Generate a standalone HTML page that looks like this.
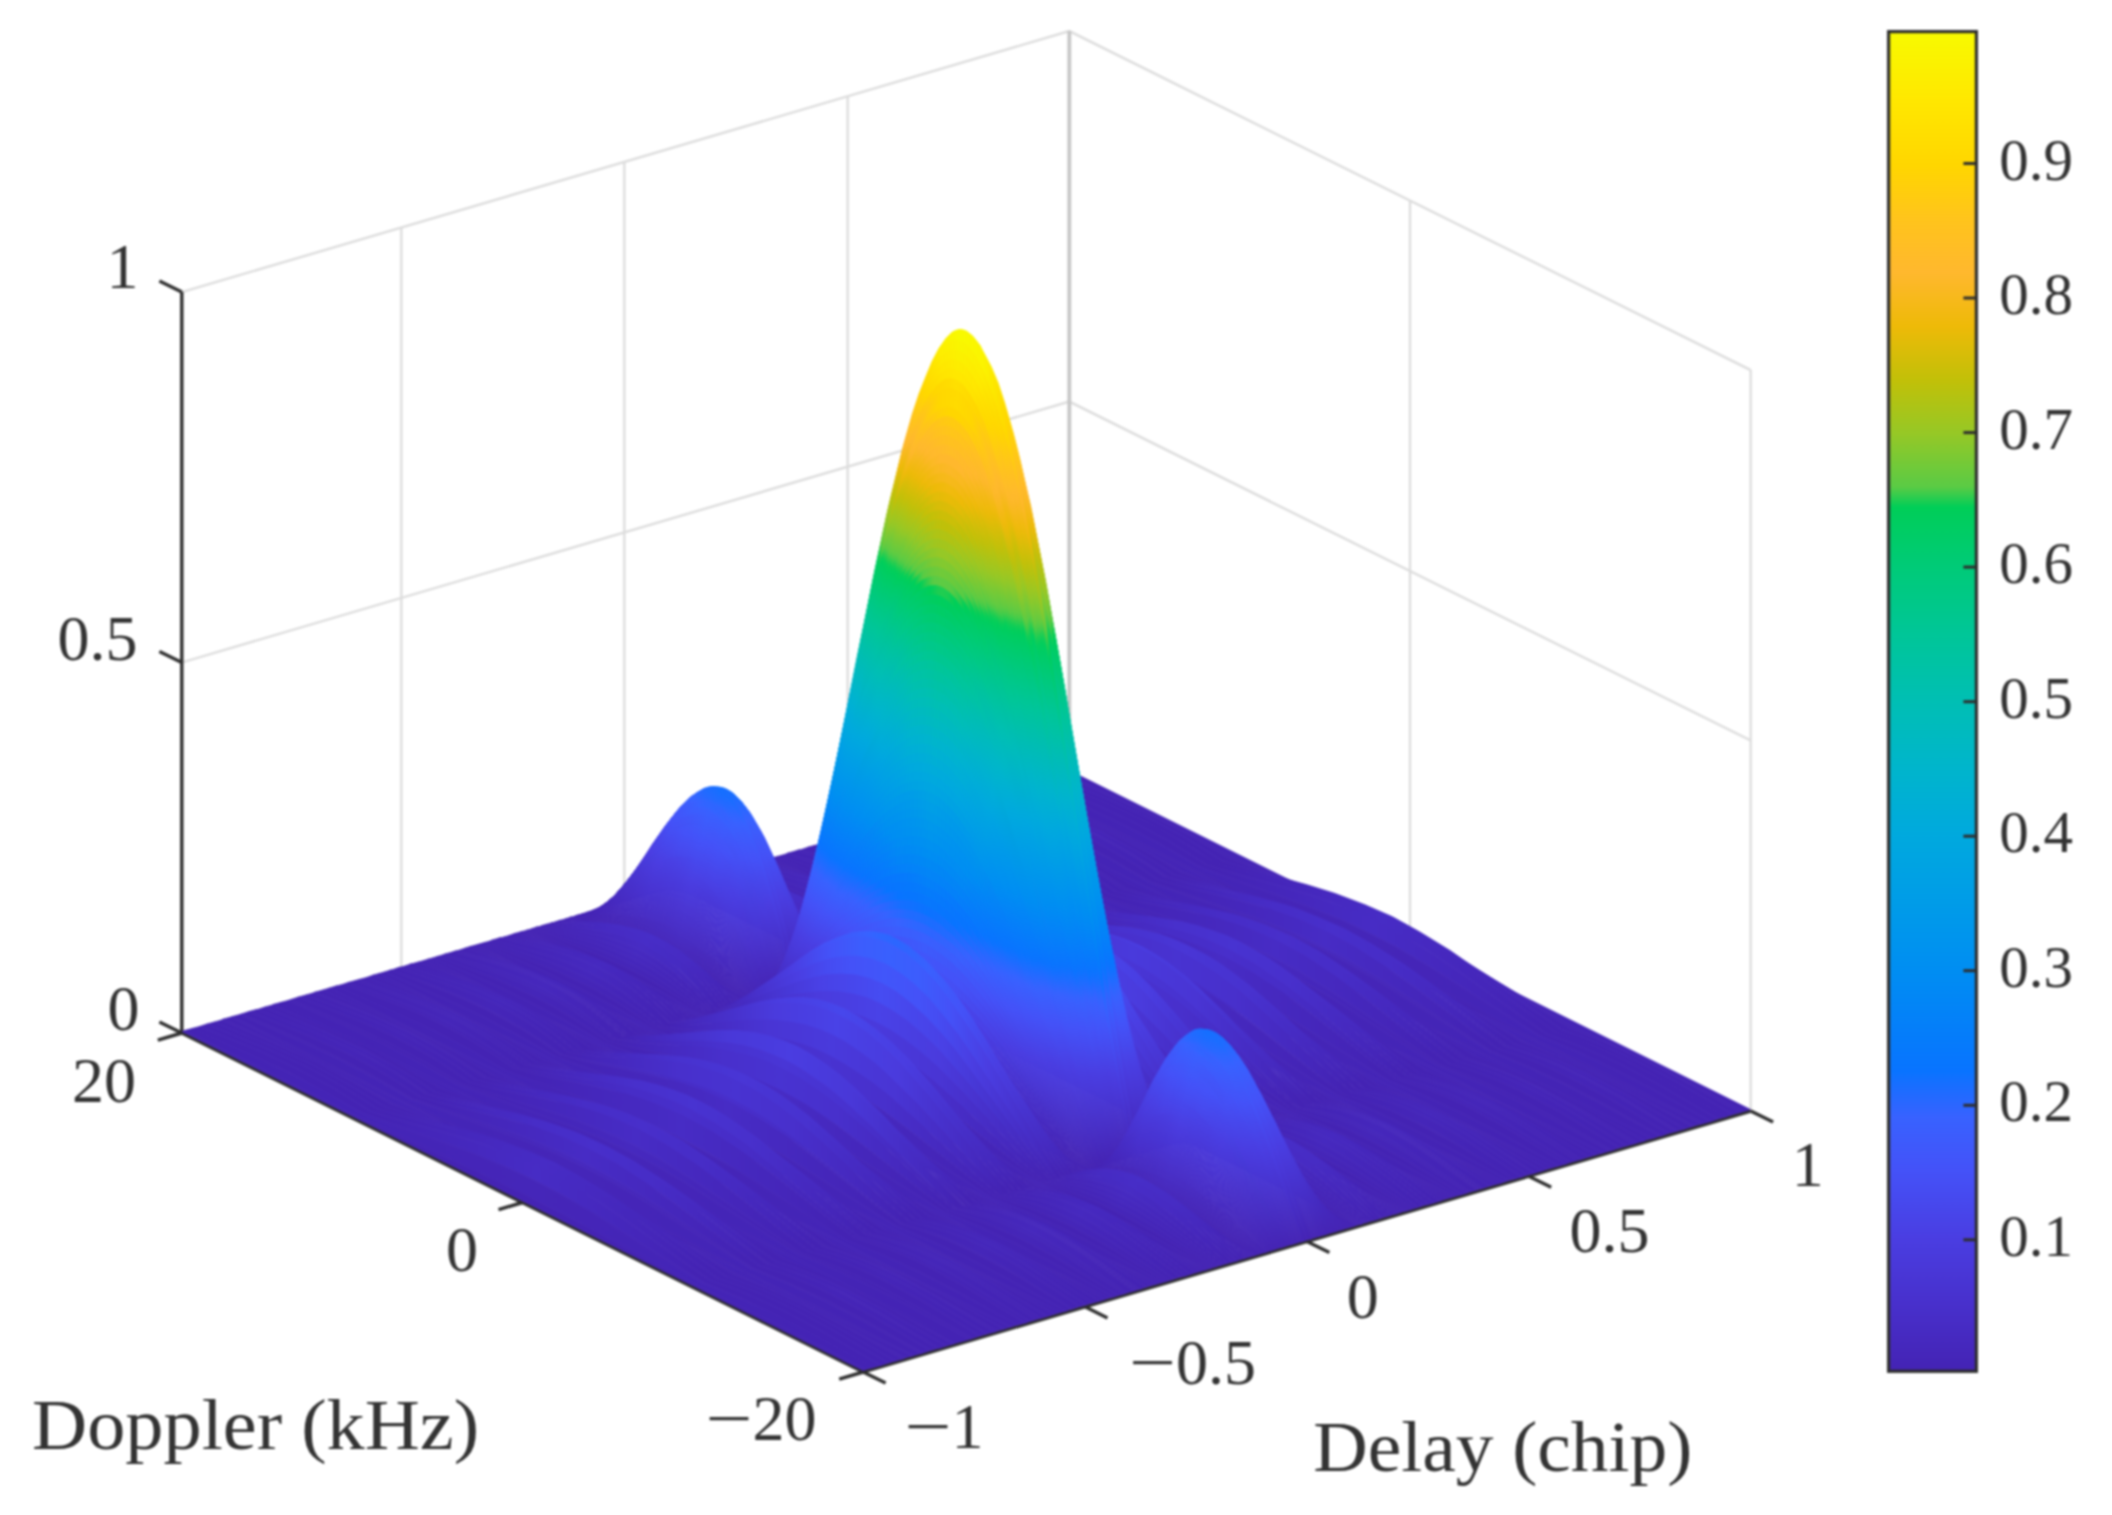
<!DOCTYPE html>
<html><head><meta charset="utf-8"><title>Ambiguity function</title>
<style>html,body{margin:0;padding:0;background:#fff}svg{display:block}text{font-family:"Liberation Serif",serif;fill:#333}</style>
</head><body>
<svg width="2112" height="1515" viewBox="0 0 2112 1515">
<defs><linearGradient id="s80" gradientUnits="userSpaceOnUse" y1="0" y2="0"><stop offset="0" stop-color="#4423b4"/><stop offset=".047" stop-color="#4a3de1"/><stop offset=".075" stop-color="#4452f8"/><stop offset=".103" stop-color="#3762ff"/><stop offset=".123" stop-color="#1e6cff"/><stop offset=".142" stop-color="#156fff"/><stop offset=".158" stop-color="#1a6dff"/><stop offset=".17" stop-color="#2768ff"/><stop offset=".18" stop-color="#3862ff"/><stop offset=".202" stop-color="#4451f7"/><stop offset=".223" stop-color="#4a3de0"/><stop offset=".25" stop-color="#4423b4"/><stop offset=".273" stop-color="#4a3de0"/><stop offset=".285" stop-color="#4254f9"/><stop offset=".293" stop-color="#3364ff"/><stop offset=".297" stop-color="#1071ff"/><stop offset=".3" stop-color="#0777fe"/><stop offset=".312" stop-color="#008ef2"/><stop offset=".33" stop-color="#00a8df"/><stop offset=".34" stop-color="#00b5cc"/><stop offset=".358" stop-color="#00c59b"/><stop offset=".375" stop-color="#00cd5e"/><stop offset=".378" stop-color="#1dcd52"/><stop offset=".38" stop-color="#5ecb43"/><stop offset=".388" stop-color="#95c827"/><stop offset=".395" stop-color="#bcc10c"/><stop offset=".405" stop-color="#eeba08"/><stop offset=".415" stop-color="#ffb82d"/><stop offset=".438" stop-color="#ffd700"/><stop offset=".465" stop-color="#fcef00"/><stop offset=".493" stop-color="#f8fa00"/><stop offset=".528" stop-color="#fbf400"/><stop offset=".562" stop-color="#ffd700"/><stop offset=".585" stop-color="#ffb82d"/><stop offset=".595" stop-color="#eeba08"/><stop offset=".605" stop-color="#bcc10c"/><stop offset=".613" stop-color="#95c827"/><stop offset=".62" stop-color="#5ecb43"/><stop offset=".623" stop-color="#1dcd52"/><stop offset=".625" stop-color="#00cd5e"/><stop offset=".643" stop-color="#00c59b"/><stop offset=".66" stop-color="#00b5cc"/><stop offset=".67" stop-color="#00a8df"/><stop offset=".688" stop-color="#008ef2"/><stop offset=".7" stop-color="#0777fe"/><stop offset=".703" stop-color="#1071ff"/><stop offset=".708" stop-color="#3364ff"/><stop offset=".715" stop-color="#4254f9"/><stop offset=".728" stop-color="#4a3de0"/><stop offset=".75" stop-color="#4423b4"/><stop offset=".778" stop-color="#4a3de0"/><stop offset=".798" stop-color="#4451f7"/><stop offset=".82" stop-color="#3862ff"/><stop offset=".83" stop-color="#2768ff"/><stop offset=".843" stop-color="#1a6dff"/><stop offset=".858" stop-color="#156fff"/><stop offset=".878" stop-color="#1e6cff"/><stop offset=".897" stop-color="#3762ff"/><stop offset=".925" stop-color="#4452f8"/><stop offset=".953" stop-color="#4a3de1"/><stop offset="1" stop-color="#4423b4"/></linearGradient>
<linearGradient id="s79" gradientUnits="userSpaceOnUse" y1="0" y2="0"><stop offset="0" stop-color="#4423b4"/><stop offset=".05" stop-color="#4a3ee2"/><stop offset=".075" stop-color="#4451f7"/><stop offset=".105" stop-color="#3663ff"/><stop offset=".125" stop-color="#1f6bff"/><stop offset=".145" stop-color="#186eff"/><stop offset=".158" stop-color="#1e6cff"/><stop offset=".17" stop-color="#2b67ff"/><stop offset=".18" stop-color="#3961ff"/><stop offset=".2" stop-color="#4353f8"/><stop offset=".22" stop-color="#4a3fe3"/><stop offset=".25" stop-color="#4423b4"/><stop offset=".273" stop-color="#4a3ce0"/><stop offset=".285" stop-color="#4354f9"/><stop offset=".293" stop-color="#3663ff"/><stop offset=".297" stop-color="#1370ff"/><stop offset=".3" stop-color="#0876fe"/><stop offset=".312" stop-color="#008cf3"/><stop offset=".333" stop-color="#0ad"/><stop offset=".34" stop-color="#00b4ce"/><stop offset=".36" stop-color="#00c697"/><stop offset=".378" stop-color="#00ce5a"/><stop offset=".38" stop-color="#36cc4d"/><stop offset=".383" stop-color="#64cb40"/><stop offset=".39" stop-color="#99c824"/><stop offset=".398" stop-color="#bfc10a"/><stop offset=".408" stop-color="#eeba09"/><stop offset=".417" stop-color="#ffb82e"/><stop offset=".428" stop-color="#ffc31d"/><stop offset=".44" stop-color="#ffd501"/><stop offset=".47" stop-color="#fdee00"/><stop offset=".5" stop-color="#f9f600"/><stop offset=".53" stop-color="#fdee00"/><stop offset=".56" stop-color="#ffd501"/><stop offset=".573" stop-color="#ffc31d"/><stop offset=".583" stop-color="#ffb82e"/><stop offset=".593" stop-color="#eeba09"/><stop offset=".603" stop-color="#bfc10a"/><stop offset=".61" stop-color="#99c824"/><stop offset=".618" stop-color="#64cb40"/><stop offset=".62" stop-color="#36cc4d"/><stop offset=".623" stop-color="#00ce5a"/><stop offset=".64" stop-color="#00c697"/><stop offset=".66" stop-color="#00b4ce"/><stop offset=".668" stop-color="#0ad"/><stop offset=".688" stop-color="#008cf3"/><stop offset=".7" stop-color="#0876fe"/><stop offset=".703" stop-color="#1370ff"/><stop offset=".708" stop-color="#3663ff"/><stop offset=".715" stop-color="#4354f9"/><stop offset=".728" stop-color="#4a3ce0"/><stop offset=".75" stop-color="#4423b4"/><stop offset=".78" stop-color="#4a3fe3"/><stop offset=".795" stop-color="#454ef4"/><stop offset=".823" stop-color="#3763ff"/><stop offset=".84" stop-color="#206bff"/><stop offset=".86" stop-color="#186eff"/><stop offset=".878" stop-color="#216bff"/><stop offset=".897" stop-color="#3861ff"/><stop offset=".922" stop-color="#4353f8"/><stop offset=".95" stop-color="#4a3ee2"/><stop offset="1" stop-color="#4423b4"/></linearGradient>
<linearGradient id="s78" gradientUnits="userSpaceOnUse" y1="0" y2="0"><stop offset="0" stop-color="#4423b4"/><stop offset=".05" stop-color="#4a3ee2"/><stop offset=".078" stop-color="#4452f8"/><stop offset=".108" stop-color="#3663ff"/><stop offset=".128" stop-color="#216bff"/><stop offset=".145" stop-color="#1c6cff"/><stop offset=".158" stop-color="#216aff"/><stop offset=".167" stop-color="#2b67ff"/><stop offset=".178" stop-color="#3861ff"/><stop offset=".2" stop-color="#4452f8"/><stop offset=".22" stop-color="#4a3ee2"/><stop offset=".25" stop-color="#4423b4"/><stop offset=".273" stop-color="#4a3cdf"/><stop offset=".285" stop-color="#4353f8"/><stop offset=".293" stop-color="#3862ff"/><stop offset=".3" stop-color="#0875ff"/><stop offset=".315" stop-color="#008ff1"/><stop offset=".333" stop-color="#00a9de"/><stop offset=".343" stop-color="#00b5cb"/><stop offset=".36" stop-color="#00c59b"/><stop offset=".378" stop-color="#00cd60"/><stop offset=".38" stop-color="#05ce57"/><stop offset=".383" stop-color="#4ecb48"/><stop offset=".385" stop-color="#69ca3d"/><stop offset=".393" stop-color="#9cc722"/><stop offset=".4" stop-color="#c1c009"/><stop offset=".41" stop-color="#eeba09"/><stop offset=".42" stop-color="#ffb82e"/><stop offset=".445" stop-color="#ffd600"/><stop offset=".473" stop-color="#feeb00"/><stop offset=".5" stop-color="#fbf200"/><stop offset=".528" stop-color="#feeb00"/><stop offset=".555" stop-color="#ffd600"/><stop offset=".58" stop-color="#ffb82e"/><stop offset=".59" stop-color="#eeba09"/><stop offset=".6" stop-color="#c1c009"/><stop offset=".608" stop-color="#9cc722"/><stop offset=".615" stop-color="#69ca3d"/><stop offset=".618" stop-color="#4ecb48"/><stop offset=".62" stop-color="#05ce57"/><stop offset=".623" stop-color="#00cd60"/><stop offset=".64" stop-color="#00c59b"/><stop offset=".657" stop-color="#00b5cb"/><stop offset=".668" stop-color="#00a9de"/><stop offset=".685" stop-color="#008ff1"/><stop offset=".7" stop-color="#0875ff"/><stop offset=".708" stop-color="#3862ff"/><stop offset=".715" stop-color="#4353f8"/><stop offset=".728" stop-color="#4a3cdf"/><stop offset=".75" stop-color="#4423b4"/><stop offset=".78" stop-color="#4a3ee2"/><stop offset=".798" stop-color="#4550f6"/><stop offset=".825" stop-color="#3663ff"/><stop offset=".843" stop-color="#216aff"/><stop offset=".86" stop-color="#1c6cff"/><stop offset=".875" stop-color="#236aff"/><stop offset=".895" stop-color="#3862ff"/><stop offset=".922" stop-color="#4452f8"/><stop offset=".95" stop-color="#4a3ee2"/><stop offset="1" stop-color="#4423b4"/></linearGradient>
<linearGradient id="s77" gradientUnits="userSpaceOnUse" y1="0" y2="0"><stop offset="0" stop-color="#4423b4"/><stop offset=".05" stop-color="#4a3de1"/><stop offset=".078" stop-color="#4451f7"/><stop offset=".11" stop-color="#3663ff"/><stop offset=".128" stop-color="#2569ff"/><stop offset=".145" stop-color="#206bff"/><stop offset=".158" stop-color="#2569ff"/><stop offset=".167" stop-color="#2f66ff"/><stop offset=".175" stop-color="#3862ff"/><stop offset=".2" stop-color="#4451f7"/><stop offset=".22" stop-color="#4a3ee1"/><stop offset=".25" stop-color="#4423b4"/><stop offset=".273" stop-color="#4a3cde"/><stop offset=".285" stop-color="#4452f8"/><stop offset=".293" stop-color="#3961fe"/><stop offset=".3" stop-color="#0a73ff"/><stop offset=".315" stop-color="#008ef2"/><stop offset=".333" stop-color="#00a7df"/><stop offset=".343" stop-color="#00b4cd"/><stop offset=".362" stop-color="#00c698"/><stop offset=".38" stop-color="#00cd5d"/><stop offset=".383" stop-color="#1bcd52"/><stop offset=".385" stop-color="#5ccb44"/><stop offset=".393" stop-color="#90c829"/><stop offset=".403" stop-color="#c2c008"/><stop offset=".412" stop-color="#eeba09"/><stop offset=".423" stop-color="#feb82d"/><stop offset=".435" stop-color="#ffc41c"/><stop offset=".45" stop-color="#ffd700"/><stop offset=".475" stop-color="#ffe700"/><stop offset=".5" stop-color="#fded00"/><stop offset=".525" stop-color="#ffe700"/><stop offset=".55" stop-color="#ffd700"/><stop offset=".565" stop-color="#ffc41c"/><stop offset=".578" stop-color="#feb82d"/><stop offset=".588" stop-color="#eeba09"/><stop offset=".598" stop-color="#c2c008"/><stop offset=".608" stop-color="#90c829"/><stop offset=".615" stop-color="#5ccb44"/><stop offset=".618" stop-color="#1bcd52"/><stop offset=".62" stop-color="#00cd5d"/><stop offset=".637" stop-color="#00c698"/><stop offset=".657" stop-color="#00b4cd"/><stop offset=".668" stop-color="#00a7df"/><stop offset=".685" stop-color="#008ef2"/><stop offset=".7" stop-color="#0a73ff"/><stop offset=".708" stop-color="#3961fe"/><stop offset=".715" stop-color="#4452f8"/><stop offset=".728" stop-color="#4a3cde"/><stop offset=".75" stop-color="#4423b4"/><stop offset=".78" stop-color="#4a3ee1"/><stop offset=".798" stop-color="#454ff5"/><stop offset=".828" stop-color="#3563ff"/><stop offset=".843" stop-color="#2569ff"/><stop offset=".86" stop-color="#206bff"/><stop offset=".875" stop-color="#2669ff"/><stop offset=".893" stop-color="#3862ff"/><stop offset=".92" stop-color="#4353f8"/><stop offset=".95" stop-color="#4a3de1"/><stop offset="1" stop-color="#4423b4"/></linearGradient>
<linearGradient id="s76" gradientUnits="userSpaceOnUse" y1="0" y2="0"><stop offset="0" stop-color="#4423b4"/><stop offset=".05" stop-color="#4a3de1"/><stop offset=".08" stop-color="#4452f8"/><stop offset=".113" stop-color="#3663ff"/><stop offset=".13" stop-color="#2768ff"/><stop offset=".145" stop-color="#246aff"/><stop offset=".167" stop-color="#3264ff"/><stop offset=".173" stop-color="#3862ff"/><stop offset=".198" stop-color="#4453f8"/><stop offset=".22" stop-color="#4a3de1"/><stop offset=".25" stop-color="#4423b4"/><stop offset=".275" stop-color="#4a3fe3"/><stop offset=".285" stop-color="#4451f7"/><stop offset=".293" stop-color="#3a60fe"/><stop offset=".295" stop-color="#3065ff"/><stop offset=".3" stop-color="#0e72ff"/><stop offset=".303" stop-color="#0777fe"/><stop offset=".315" stop-color="#008df3"/><stop offset=".335" stop-color="#00a9de"/><stop offset=".343" stop-color="#00b3d0"/><stop offset=".362" stop-color="#00c59c"/><stop offset=".383" stop-color="#00ce5b"/><stop offset=".388" stop-color="#60cb42"/><stop offset=".395" stop-color="#93c827"/><stop offset=".405" stop-color="#c3c008"/><stop offset=".415" stop-color="#eeba08"/><stop offset=".425" stop-color="#feb82b"/><stop offset=".428" stop-color="#ffba2c"/><stop offset=".455" stop-color="#ffd700"/><stop offset=".478" stop-color="#ffe400"/><stop offset=".5" stop-color="#ffe900"/><stop offset=".523" stop-color="#ffe400"/><stop offset=".545" stop-color="#ffd700"/><stop offset=".573" stop-color="#ffba2c"/><stop offset=".575" stop-color="#feb82b"/><stop offset=".585" stop-color="#eeba08"/><stop offset=".595" stop-color="#c3c008"/><stop offset=".605" stop-color="#93c827"/><stop offset=".613" stop-color="#60cb42"/><stop offset=".618" stop-color="#00ce5b"/><stop offset=".637" stop-color="#00c59c"/><stop offset=".657" stop-color="#00b3d0"/><stop offset=".665" stop-color="#00a9de"/><stop offset=".685" stop-color="#008df3"/><stop offset=".698" stop-color="#0777fe"/><stop offset=".7" stop-color="#0e72ff"/><stop offset=".705" stop-color="#3065ff"/><stop offset=".708" stop-color="#3a60fe"/><stop offset=".715" stop-color="#4451f7"/><stop offset=".725" stop-color="#4a3fe3"/><stop offset=".75" stop-color="#4423b4"/><stop offset=".78" stop-color="#4a3de1"/><stop offset=".798" stop-color="#454ef4"/><stop offset=".83" stop-color="#3563ff"/><stop offset=".845" stop-color="#2768ff"/><stop offset=".86" stop-color="#246aff"/><stop offset=".872" stop-color="#2868ff"/><stop offset=".89" stop-color="#3862ff"/><stop offset=".92" stop-color="#4452f8"/><stop offset=".95" stop-color="#4a3de1"/><stop offset="1" stop-color="#4423b4"/></linearGradient>
<linearGradient id="s75" gradientUnits="userSpaceOnUse" y1="0" y2="0"><stop offset="0" stop-color="#4423b4"/><stop offset=".053" stop-color="#4a3ee2"/><stop offset=".08" stop-color="#4451f7"/><stop offset=".115" stop-color="#3762ff"/><stop offset=".13" stop-color="#2b67ff"/><stop offset=".145" stop-color="#2768ff"/><stop offset=".173" stop-color="#3961fe"/><stop offset=".198" stop-color="#4452f8"/><stop offset=".22" stop-color="#4a3de0"/><stop offset=".25" stop-color="#4423b4"/><stop offset=".275" stop-color="#4a3ee2"/><stop offset=".285" stop-color="#4450f6"/><stop offset=".293" stop-color="#3b5ffe"/><stop offset=".295" stop-color="#3364ff"/><stop offset=".3" stop-color="#1270ff"/><stop offset=".303" stop-color="#0776fe"/><stop offset=".315" stop-color="#018cf3"/><stop offset=".335" stop-color="#00a8df"/><stop offset=".345" stop-color="#00b4cd"/><stop offset=".365" stop-color="#00c699"/><stop offset=".385" stop-color="#00ce59"/><stop offset=".388" stop-color="#3fcc4b"/><stop offset=".39" stop-color="#64ca40"/><stop offset=".398" stop-color="#95c826"/><stop offset=".408" stop-color="#c3c008"/><stop offset=".417" stop-color="#edba08"/><stop offset=".428" stop-color="#fdb829"/><stop offset=".43" stop-color="#ffb92d"/><stop offset=".46" stop-color="#ffd600"/><stop offset=".48" stop-color="#ffe100"/><stop offset=".5" stop-color="#ffe400"/><stop offset=".52" stop-color="#ffe100"/><stop offset=".54" stop-color="#ffd600"/><stop offset=".57" stop-color="#ffb92d"/><stop offset=".573" stop-color="#fdb829"/><stop offset=".583" stop-color="#edba08"/><stop offset=".593" stop-color="#c3c008"/><stop offset=".603" stop-color="#95c826"/><stop offset=".61" stop-color="#64ca40"/><stop offset=".613" stop-color="#3fcc4b"/><stop offset=".615" stop-color="#00ce59"/><stop offset=".635" stop-color="#00c699"/><stop offset=".655" stop-color="#00b4cd"/><stop offset=".665" stop-color="#00a8df"/><stop offset=".685" stop-color="#018cf3"/><stop offset=".698" stop-color="#0776fe"/><stop offset=".7" stop-color="#1270ff"/><stop offset=".705" stop-color="#3364ff"/><stop offset=".708" stop-color="#3b5ffe"/><stop offset=".715" stop-color="#4450f6"/><stop offset=".725" stop-color="#4a3ee2"/><stop offset=".75" stop-color="#4423b4"/><stop offset=".78" stop-color="#4a3de0"/><stop offset=".8" stop-color="#4550f6"/><stop offset=".833" stop-color="#3663ff"/><stop offset=".845" stop-color="#2b67ff"/><stop offset=".86" stop-color="#2768ff"/><stop offset=".872" stop-color="#2c66ff"/><stop offset=".887" stop-color="#3861ff"/><stop offset=".918" stop-color="#4353f8"/><stop offset=".948" stop-color="#4a3ee2"/><stop offset="1" stop-color="#4423b4"/></linearGradient>
<linearGradient id="s74" gradientUnits="userSpaceOnUse" y1="0" y2="0"><stop offset="0" stop-color="#4423b4"/><stop offset=".053" stop-color="#4a3ee2"/><stop offset=".083" stop-color="#4452f8"/><stop offset=".117" stop-color="#3862ff"/><stop offset=".133" stop-color="#2d66ff"/><stop offset=".145" stop-color="#2b67ff"/><stop offset=".173" stop-color="#3a60fe"/><stop offset=".195" stop-color="#4353f8"/><stop offset=".223" stop-color="#4a3bdd"/><stop offset=".25" stop-color="#4423b4"/><stop offset=".275" stop-color="#4a3ee2"/><stop offset=".287" stop-color="#4254f9"/><stop offset=".295" stop-color="#3762ff"/><stop offset=".303" stop-color="#0875ff"/><stop offset=".318" stop-color="#008ef2"/><stop offset=".335" stop-color="#00a6e0"/><stop offset=".345" stop-color="#00b3cf"/><stop offset=".365" stop-color="#00c59d"/><stop offset=".385" stop-color="#00cd5f"/><stop offset=".388" stop-color="#0ace56"/><stop offset=".39" stop-color="#4dcb48"/><stop offset=".393" stop-color="#67ca3e"/><stop offset=".4" stop-color="#97c825"/><stop offset=".41" stop-color="#c3c008"/><stop offset=".42" stop-color="#ecba08"/><stop offset=".432" stop-color="#ffb82d"/><stop offset=".467" stop-color="#ffd600"/><stop offset=".5" stop-color="#ffe000"/><stop offset=".532" stop-color="#ffd600"/><stop offset=".568" stop-color="#ffb82d"/><stop offset=".58" stop-color="#ecba08"/><stop offset=".59" stop-color="#c3c008"/><stop offset=".6" stop-color="#97c825"/><stop offset=".608" stop-color="#67ca3e"/><stop offset=".61" stop-color="#4dcb48"/><stop offset=".613" stop-color="#0ace56"/><stop offset=".615" stop-color="#00cd5f"/><stop offset=".635" stop-color="#00c59d"/><stop offset=".655" stop-color="#00b3cf"/><stop offset=".665" stop-color="#00a6e0"/><stop offset=".682" stop-color="#008ef2"/><stop offset=".698" stop-color="#0875ff"/><stop offset=".705" stop-color="#3762ff"/><stop offset=".713" stop-color="#4254f9"/><stop offset=".725" stop-color="#4a3ee2"/><stop offset=".75" stop-color="#4423b4"/><stop offset=".78" stop-color="#4a3de0"/><stop offset=".8" stop-color="#454ff5"/><stop offset=".835" stop-color="#3763ff"/><stop offset=".847" stop-color="#2d66ff"/><stop offset=".863" stop-color="#2b67ff"/><stop offset=".883" stop-color="#3862ff"/><stop offset=".918" stop-color="#4452f8"/><stop offset=".948" stop-color="#4a3ee2"/><stop offset="1" stop-color="#4423b4"/></linearGradient>
<linearGradient id="s73" gradientUnits="userSpaceOnUse" y1="0" y2="0"><stop offset="0" stop-color="#4423b4"/><stop offset=".053" stop-color="#4a3de1"/><stop offset=".083" stop-color="#4451f7"/><stop offset=".123" stop-color="#3762ff"/><stop offset=".135" stop-color="#3065ff"/><stop offset=".148" stop-color="#2f65ff"/><stop offset=".173" stop-color="#3a5ffe"/><stop offset=".195" stop-color="#4452f8"/><stop offset=".223" stop-color="#493adc"/><stop offset=".25" stop-color="#4423b4"/><stop offset=".275" stop-color="#4a3de1"/><stop offset=".287" stop-color="#4353f9"/><stop offset=".295" stop-color="#3961ff"/><stop offset=".303" stop-color="#0973ff"/><stop offset=".318" stop-color="#008df2"/><stop offset=".338" stop-color="#00a8de"/><stop offset=".348" stop-color="#00b4cd"/><stop offset=".368" stop-color="#00c59a"/><stop offset=".388" stop-color="#00ce5d"/><stop offset=".39" stop-color="#18cd53"/><stop offset=".393" stop-color="#59cb45"/><stop offset=".403" stop-color="#98c825"/><stop offset=".412" stop-color="#c2c008"/><stop offset=".423" stop-color="#eabb08"/><stop offset=".435" stop-color="#fdb82a"/><stop offset=".438" stop-color="#ffb92d"/><stop offset=".467" stop-color="#ffd108"/><stop offset=".478" stop-color="#ffd700"/><stop offset=".503" stop-color="#ffdb00"/><stop offset=".525" stop-color="#ffd601"/><stop offset=".562" stop-color="#ffb92d"/><stop offset=".565" stop-color="#fdb82a"/><stop offset=".575" stop-color="#f0ba0c"/><stop offset=".578" stop-color="#eabb08"/><stop offset=".588" stop-color="#c2c008"/><stop offset=".598" stop-color="#98c825"/><stop offset=".605" stop-color="#6aca3d"/><stop offset=".608" stop-color="#59cb45"/><stop offset=".61" stop-color="#18cd53"/><stop offset=".613" stop-color="#00ce5d"/><stop offset=".633" stop-color="#00c59a"/><stop offset=".653" stop-color="#00b4cd"/><stop offset=".662" stop-color="#00a8de"/><stop offset=".682" stop-color="#008df2"/><stop offset=".698" stop-color="#0973ff"/><stop offset=".705" stop-color="#3961ff"/><stop offset=".713" stop-color="#4353f9"/><stop offset=".725" stop-color="#4a3de1"/><stop offset=".75" stop-color="#4423b4"/><stop offset=".782" stop-color="#4a3ee2"/><stop offset=".802" stop-color="#4550f6"/><stop offset=".838" stop-color="#3862ff"/><stop offset=".86" stop-color="#2f65ff"/><stop offset=".887" stop-color="#3a5ffe"/><stop offset=".915" stop-color="#4353f8"/><stop offset=".948" stop-color="#4a3de1"/><stop offset="1" stop-color="#4423b4"/></linearGradient>
<linearGradient id="s72" gradientUnits="userSpaceOnUse" y1="0" y2="0"><stop offset="0" stop-color="#4423b4"/><stop offset=".055" stop-color="#4a3ee2"/><stop offset=".085" stop-color="#4452f8"/><stop offset=".128" stop-color="#3762ff"/><stop offset=".148" stop-color="#3364ff"/><stop offset=".173" stop-color="#3b5efd"/><stop offset=".195" stop-color="#4451f7"/><stop offset=".223" stop-color="#493adc"/><stop offset=".25" stop-color="#4423b4"/><stop offset=".275" stop-color="#4a3de0"/><stop offset=".287" stop-color="#4453f8"/><stop offset=".295" stop-color="#3960fe"/><stop offset=".297" stop-color="#2e66ff"/><stop offset=".303" stop-color="#0e72ff"/><stop offset=".305" stop-color="#0777fe"/><stop offset=".318" stop-color="#018cf3"/><stop offset=".338" stop-color="#00a7e0"/><stop offset=".348" stop-color="#00b3cf"/><stop offset=".37" stop-color="#00c698"/><stop offset=".39" stop-color="#00ce5c"/><stop offset=".393" stop-color="#22cd51"/><stop offset=".395" stop-color="#5ccb44"/><stop offset=".405" stop-color="#98c825"/><stop offset=".415" stop-color="#c1c009"/><stop offset=".425" stop-color="#e7bb08"/><stop offset=".428" stop-color="#efba0a"/><stop offset=".44" stop-color="#feb82c"/><stop offset=".443" stop-color="#ffb92c"/><stop offset=".48" stop-color="#ffd206"/><stop offset=".493" stop-color="#ffd600"/><stop offset=".508" stop-color="#ffd600"/><stop offset=".525" stop-color="#ffd009"/><stop offset=".56" stop-color="#feb82c"/><stop offset=".573" stop-color="#efba0a"/><stop offset=".585" stop-color="#c1c009"/><stop offset=".595" stop-color="#98c825"/><stop offset=".605" stop-color="#5ccb44"/><stop offset=".608" stop-color="#22cd51"/><stop offset=".61" stop-color="#00ce5c"/><stop offset=".63" stop-color="#00c698"/><stop offset=".653" stop-color="#00b3cf"/><stop offset=".662" stop-color="#00a7e0"/><stop offset=".682" stop-color="#018cf3"/><stop offset=".695" stop-color="#0777fe"/><stop offset=".698" stop-color="#0e72ff"/><stop offset=".703" stop-color="#2e66ff"/><stop offset=".705" stop-color="#3960fe"/><stop offset=".713" stop-color="#4453f8"/><stop offset=".725" stop-color="#4a3de0"/><stop offset=".75" stop-color="#4423b4"/><stop offset=".775" stop-color="#4938d9"/><stop offset=".802" stop-color="#454ff5"/><stop offset=".843" stop-color="#3762ff"/><stop offset=".863" stop-color="#3364ff"/><stop offset=".887" stop-color="#3b5efd"/><stop offset=".915" stop-color="#4452f8"/><stop offset=".945" stop-color="#4a3ee2"/><stop offset="1" stop-color="#4423b4"/></linearGradient>
<linearGradient id="s71" gradientUnits="userSpaceOnUse" y1="0" y2="0"><stop offset="0" stop-color="#4423b4"/><stop offset=".055" stop-color="#4a3ee2"/><stop offset=".085" stop-color="#4451f7"/><stop offset=".135" stop-color="#3762ff"/><stop offset=".165" stop-color="#3a5ffe"/><stop offset=".192" stop-color="#4452f8"/><stop offset=".223" stop-color="#493adb"/><stop offset=".25" stop-color="#4423b4"/><stop offset=".275" stop-color="#4a3de0"/><stop offset=".287" stop-color="#4452f8"/><stop offset=".295" stop-color="#3a5ffe"/><stop offset=".297" stop-color="#3264ff"/><stop offset=".303" stop-color="#1270ff"/><stop offset=".305" stop-color="#0876fe"/><stop offset=".32" stop-color="#008ef2"/><stop offset=".34" stop-color="#00a9de"/><stop offset=".35" stop-color="#00b4cd"/><stop offset=".37" stop-color="#00c59c"/><stop offset=".393" stop-color="#00ce5a"/><stop offset=".395" stop-color="#2acd4f"/><stop offset=".398" stop-color="#5dcb43"/><stop offset=".408" stop-color="#98c825"/><stop offset=".417" stop-color="#bfc00a"/><stop offset=".43" stop-color="#ecba08"/><stop offset=".445" stop-color="#ffb82e"/><stop offset=".448" stop-color="#ffba2b"/><stop offset=".48" stop-color="#ffcd0e"/><stop offset=".5" stop-color="#ffd108"/><stop offset=".52" stop-color="#ffcd0e"/><stop offset=".555" stop-color="#ffb82e"/><stop offset=".568" stop-color="#f1ba0e"/><stop offset=".57" stop-color="#ecba08"/><stop offset=".583" stop-color="#bfc00a"/><stop offset=".593" stop-color="#98c825"/><stop offset=".6" stop-color="#6cca3b"/><stop offset=".603" stop-color="#5dcb43"/><stop offset=".605" stop-color="#2acd4f"/><stop offset=".608" stop-color="#00ce5a"/><stop offset=".63" stop-color="#00c59c"/><stop offset=".65" stop-color="#00b4cd"/><stop offset=".66" stop-color="#00a9de"/><stop offset=".68" stop-color="#008ef2"/><stop offset=".695" stop-color="#0876fe"/><stop offset=".698" stop-color="#1270ff"/><stop offset=".703" stop-color="#3264ff"/><stop offset=".705" stop-color="#3a5ffe"/><stop offset=".713" stop-color="#4452f8"/><stop offset=".725" stop-color="#4a3de0"/><stop offset=".75" stop-color="#4423b4"/><stop offset=".778" stop-color="#493adb"/><stop offset=".805" stop-color="#4450f6"/><stop offset=".828" stop-color="#3c5dfd"/><stop offset=".85" stop-color="#3762ff"/><stop offset=".88" stop-color="#3a60fe"/><stop offset=".912" stop-color="#4452f8"/><stop offset=".945" stop-color="#4a3ee2"/><stop offset="1" stop-color="#4423b4"/></linearGradient>
<linearGradient id="s70" gradientUnits="userSpaceOnUse" y1="0" y2="0"><stop offset="0" stop-color="#4423b4"/><stop offset=".055" stop-color="#4a3de1"/><stop offset=".087" stop-color="#4451f7"/><stop offset=".115" stop-color="#3c5dfd"/><stop offset=".142" stop-color="#3861ff"/><stop offset=".167" stop-color="#3b5dfd"/><stop offset=".192" stop-color="#4451f7"/><stop offset=".223" stop-color="#4939db"/><stop offset=".25" stop-color="#4423b4"/><stop offset=".275" stop-color="#4a3cdf"/><stop offset=".287" stop-color="#4451f7"/><stop offset=".297" stop-color="#3663ff"/><stop offset=".305" stop-color="#0874ff"/><stop offset=".32" stop-color="#008df3"/><stop offset=".34" stop-color="#00a7df"/><stop offset=".35" stop-color="#00b3cf"/><stop offset=".372" stop-color="#00c59a"/><stop offset=".395" stop-color="#00ce5a"/><stop offset=".4" stop-color="#5ecb43"/><stop offset=".41" stop-color="#97c825"/><stop offset=".42" stop-color="#bdc10b"/><stop offset=".432" stop-color="#e8bb08"/><stop offset=".435" stop-color="#efba0a"/><stop offset=".45" stop-color="#ffb82e"/><stop offset=".453" stop-color="#ffba2c"/><stop offset=".483" stop-color="#ffc815"/><stop offset=".5" stop-color="#ffcb10"/><stop offset=".518" stop-color="#ffc815"/><stop offset=".55" stop-color="#ffb82e"/><stop offset=".565" stop-color="#efba0a"/><stop offset=".58" stop-color="#bdc10b"/><stop offset=".59" stop-color="#97c825"/><stop offset=".6" stop-color="#5ecb43"/><stop offset=".605" stop-color="#00ce5a"/><stop offset=".628" stop-color="#00c59a"/><stop offset=".65" stop-color="#00b3cf"/><stop offset=".66" stop-color="#00a7df"/><stop offset=".68" stop-color="#008df3"/><stop offset=".695" stop-color="#0874ff"/><stop offset=".703" stop-color="#3663ff"/><stop offset=".713" stop-color="#4451f7"/><stop offset=".725" stop-color="#4a3cdf"/><stop offset=".75" stop-color="#4423b4"/><stop offset=".778" stop-color="#4939db"/><stop offset=".808" stop-color="#4451f7"/><stop offset=".833" stop-color="#3b5dfd"/><stop offset=".858" stop-color="#3861ff"/><stop offset=".885" stop-color="#3c5dfd"/><stop offset=".912" stop-color="#4451f7"/><stop offset=".945" stop-color="#4a3de1"/><stop offset="1" stop-color="#4423b4"/></linearGradient>
<linearGradient id="s69" gradientUnits="userSpaceOnUse" y1="0" y2="0"><stop offset="0" stop-color="#4423b4"/><stop offset=".058" stop-color="#4a3ee2"/><stop offset=".09" stop-color="#4452f8"/><stop offset=".117" stop-color="#3c5dfd"/><stop offset=".142" stop-color="#3960fe"/><stop offset=".167" stop-color="#3c5cfd"/><stop offset=".19" stop-color="#4452f8"/><stop offset=".22" stop-color="#4a3bdd"/><stop offset=".25" stop-color="#4423b4"/><stop offset=".278" stop-color="#4a3fe3"/><stop offset=".29" stop-color="#4254f9"/><stop offset=".297" stop-color="#3862ff"/><stop offset=".305" stop-color="#0b73ff"/><stop offset=".323" stop-color="#008ff1"/><stop offset=".343" stop-color="#00a9de"/><stop offset=".353" stop-color="#00b4cd"/><stop offset=".375" stop-color="#00c698"/><stop offset=".398" stop-color="#00ce59"/><stop offset=".403" stop-color="#5ecb43"/><stop offset=".412" stop-color="#95c826"/><stop offset=".425" stop-color="#c3c008"/><stop offset=".438" stop-color="#ebba08"/><stop offset=".455" stop-color="#feb82d"/><stop offset=".458" stop-color="#ffb92d"/><stop offset=".478" stop-color="#ffc21f"/><stop offset=".5" stop-color="#ffc619"/><stop offset=".52" stop-color="#ffc21e"/><stop offset=".545" stop-color="#feb82d"/><stop offset=".56" stop-color="#f0ba0c"/><stop offset=".562" stop-color="#ebba08"/><stop offset=".575" stop-color="#c3c008"/><stop offset=".588" stop-color="#95c826"/><stop offset=".595" stop-color="#6dca3b"/><stop offset=".598" stop-color="#5ecb43"/><stop offset=".603" stop-color="#00ce59"/><stop offset=".625" stop-color="#00c698"/><stop offset=".648" stop-color="#00b4cd"/><stop offset=".657" stop-color="#00a9de"/><stop offset=".677" stop-color="#008ff1"/><stop offset=".695" stop-color="#0b73ff"/><stop offset=".703" stop-color="#3862ff"/><stop offset=".71" stop-color="#4254f9"/><stop offset=".723" stop-color="#4a3fe3"/><stop offset=".75" stop-color="#4423b4"/><stop offset=".78" stop-color="#4a3bdd"/><stop offset=".81" stop-color="#4452f8"/><stop offset=".833" stop-color="#3c5cfd"/><stop offset=".858" stop-color="#3960fe"/><stop offset=".883" stop-color="#3c5dfd"/><stop offset=".91" stop-color="#4452f8"/><stop offset=".943" stop-color="#4a3ee2"/><stop offset="1" stop-color="#4423b4"/></linearGradient>
<linearGradient id="s68" gradientUnits="userSpaceOnUse" y1="0" y2="0"><stop offset="0" stop-color="#4423b4"/><stop offset=".058" stop-color="#4a3ee2"/><stop offset=".09" stop-color="#4451f7"/><stop offset=".117" stop-color="#3d5cfc"/><stop offset=".142" stop-color="#3a5ffe"/><stop offset=".167" stop-color="#3d5bfc"/><stop offset=".19" stop-color="#4451f7"/><stop offset=".22" stop-color="#493adc"/><stop offset=".25" stop-color="#4423b4"/><stop offset=".278" stop-color="#4a3ee2"/><stop offset=".29" stop-color="#4353f9"/><stop offset=".297" stop-color="#3961fe"/><stop offset=".305" stop-color="#0f71ff"/><stop offset=".307" stop-color="#0776fe"/><stop offset=".323" stop-color="#008ef2"/><stop offset=".343" stop-color="#00a7df"/><stop offset=".355" stop-color="#00b5cb"/><stop offset=".378" stop-color="#00c697"/><stop offset=".4" stop-color="#00ce59"/><stop offset=".405" stop-color="#5ecb43"/><stop offset=".415" stop-color="#93c828"/><stop offset=".428" stop-color="#c0c009"/><stop offset=".443" stop-color="#edba08"/><stop offset=".463" stop-color="#ffb82e"/><stop offset=".483" stop-color="#ffbf23"/><stop offset=".5" stop-color="#ffc120"/><stop offset=".518" stop-color="#ffbf23"/><stop offset=".537" stop-color="#ffb82e"/><stop offset=".557" stop-color="#edba08"/><stop offset=".573" stop-color="#c0c009"/><stop offset=".585" stop-color="#93c828"/><stop offset=".595" stop-color="#5ecb43"/><stop offset=".6" stop-color="#00ce59"/><stop offset=".623" stop-color="#00c697"/><stop offset=".645" stop-color="#00b5cb"/><stop offset=".657" stop-color="#00a7df"/><stop offset=".677" stop-color="#008ef2"/><stop offset=".693" stop-color="#0776fe"/><stop offset=".695" stop-color="#0f71ff"/><stop offset=".703" stop-color="#3961fe"/><stop offset=".71" stop-color="#4353f9"/><stop offset=".723" stop-color="#4a3ee2"/><stop offset=".75" stop-color="#4423b4"/><stop offset=".78" stop-color="#493adc"/><stop offset=".81" stop-color="#4451f7"/><stop offset=".833" stop-color="#3d5bfc"/><stop offset=".858" stop-color="#3a5ffe"/><stop offset=".883" stop-color="#3d5cfc"/><stop offset=".91" stop-color="#4451f7"/><stop offset=".943" stop-color="#4a3ee2"/><stop offset="1" stop-color="#4423b4"/></linearGradient>
<linearGradient id="s67" gradientUnits="userSpaceOnUse" y1="0" y2="0"><stop offset="0" stop-color="#4423b4"/><stop offset=".058" stop-color="#4a3de1"/><stop offset=".092" stop-color="#4451f7"/><stop offset=".142" stop-color="#3b5efd"/><stop offset=".167" stop-color="#3e5afc"/><stop offset=".192" stop-color="#454ff4"/><stop offset=".223" stop-color="#4938d9"/><stop offset=".25" stop-color="#4423b4"/><stop offset=".278" stop-color="#4a3ee2"/><stop offset=".29" stop-color="#4452f8"/><stop offset=".297" stop-color="#3a5ffe"/><stop offset=".3" stop-color="#3264ff"/><stop offset=".307" stop-color="#0875ff"/><stop offset=".323" stop-color="#008cf3"/><stop offset=".345" stop-color="#00a9de"/><stop offset=".355" stop-color="#00b4ce"/><stop offset=".378" stop-color="#00c59b"/><stop offset=".403" stop-color="#00ce59"/><stop offset=".408" stop-color="#5dcb44"/><stop offset=".42" stop-color="#9bc723"/><stop offset=".432" stop-color="#c4c008"/><stop offset=".448" stop-color="#edba08"/><stop offset=".465" stop-color="#fcb826"/><stop offset=".473" stop-color="#ffb92d"/><stop offset=".5" stop-color="#ffbe26"/><stop offset=".53" stop-color="#ffb82d"/><stop offset=".552" stop-color="#edba08"/><stop offset=".568" stop-color="#c4c008"/><stop offset=".58" stop-color="#9bc723"/><stop offset=".59" stop-color="#6aca3d"/><stop offset=".593" stop-color="#5dcb44"/><stop offset=".598" stop-color="#00ce59"/><stop offset=".623" stop-color="#00c59b"/><stop offset=".645" stop-color="#00b4ce"/><stop offset=".655" stop-color="#00a9de"/><stop offset=".677" stop-color="#008cf3"/><stop offset=".693" stop-color="#0875ff"/><stop offset=".7" stop-color="#3264ff"/><stop offset=".703" stop-color="#3a5ffe"/><stop offset=".71" stop-color="#4452f8"/><stop offset=".723" stop-color="#4a3ee2"/><stop offset=".75" stop-color="#4423b4"/><stop offset=".778" stop-color="#4938d9"/><stop offset=".808" stop-color="#454ff4"/><stop offset=".833" stop-color="#3e5afc"/><stop offset=".858" stop-color="#3b5efd"/><stop offset=".908" stop-color="#4451f7"/><stop offset=".943" stop-color="#4a3de1"/><stop offset="1" stop-color="#4423b4"/></linearGradient>
<linearGradient id="s66" gradientUnits="userSpaceOnUse" y1="0" y2="0"><stop offset="0" stop-color="#4423b4"/><stop offset=".06" stop-color="#4a3ee2"/><stop offset=".092" stop-color="#4450f6"/><stop offset=".142" stop-color="#3c5dfd"/><stop offset=".167" stop-color="#3e59fb"/><stop offset=".192" stop-color="#454ef3"/><stop offset=".223" stop-color="#4938d8"/><stop offset=".25" stop-color="#4423b4"/><stop offset=".278" stop-color="#4a3de1"/><stop offset=".29" stop-color="#4452f8"/><stop offset=".3" stop-color="#3663ff"/><stop offset=".307" stop-color="#0974ff"/><stop offset=".325" stop-color="#008ff1"/><stop offset=".345" stop-color="#00a7df"/><stop offset=".358" stop-color="#00b5cc"/><stop offset=".38" stop-color="#00c59a"/><stop offset=".405" stop-color="#00ce59"/><stop offset=".408" stop-color="#29cd4f"/><stop offset=".41" stop-color="#5bcb45"/><stop offset=".423" stop-color="#97c825"/><stop offset=".428" stop-color="#a8c51a"/><stop offset=".438" stop-color="#c6bf08"/><stop offset=".453" stop-color="#ecba08"/><stop offset=".473" stop-color="#fbb924"/><stop offset=".485" stop-color="#ffb82d"/><stop offset=".518" stop-color="#ffb82e"/><stop offset=".53" stop-color="#f9b921"/><stop offset=".543" stop-color="#f1ba0f"/><stop offset=".55" stop-color="#e6bb08"/><stop offset=".565" stop-color="#bfc10a"/><stop offset=".578" stop-color="#97c825"/><stop offset=".588" stop-color="#68ca3e"/><stop offset=".59" stop-color="#5bcb45"/><stop offset=".593" stop-color="#29cd4f"/><stop offset=".595" stop-color="#00ce59"/><stop offset=".62" stop-color="#00c59a"/><stop offset=".643" stop-color="#00b5cc"/><stop offset=".655" stop-color="#00a7df"/><stop offset=".675" stop-color="#008ff1"/><stop offset=".693" stop-color="#0974ff"/><stop offset=".7" stop-color="#3663ff"/><stop offset=".71" stop-color="#4452f8"/><stop offset=".723" stop-color="#4a3de1"/><stop offset=".75" stop-color="#4423b4"/><stop offset=".778" stop-color="#4938d8"/><stop offset=".808" stop-color="#454ef3"/><stop offset=".833" stop-color="#3e59fb"/><stop offset=".858" stop-color="#3c5dfd"/><stop offset=".908" stop-color="#4450f6"/><stop offset=".94" stop-color="#4a3ee2"/><stop offset="1" stop-color="#4423b4"/></linearGradient>
<linearGradient id="s65" gradientUnits="userSpaceOnUse" y1="0" y2="0"><stop offset="0" stop-color="#4423b4"/><stop offset=".06" stop-color="#4a3ee1"/><stop offset=".092" stop-color="#4550f5"/><stop offset=".142" stop-color="#3d5cfc"/><stop offset=".167" stop-color="#3f58fb"/><stop offset=".192" stop-color="#464df2"/><stop offset=".223" stop-color="#4938d8"/><stop offset=".25" stop-color="#4423b4"/><stop offset=".278" stop-color="#4a3de0"/><stop offset=".29" stop-color="#4451f7"/><stop offset=".3" stop-color="#3861ff"/><stop offset=".307" stop-color="#0e72ff"/><stop offset=".31" stop-color="#0776fe"/><stop offset=".325" stop-color="#008df2"/><stop offset=".348" stop-color="#00a9de"/><stop offset=".358" stop-color="#00b3cf"/><stop offset=".383" stop-color="#00c699"/><stop offset=".408" stop-color="#00ce5a"/><stop offset=".41" stop-color="#21cd51"/><stop offset=".412" stop-color="#54cb46"/><stop offset=".415" stop-color="#65ca3f"/><stop offset=".425" stop-color="#93c827"/><stop offset=".438" stop-color="#bac20e"/><stop offset=".443" stop-color="#c7bf08"/><stop offset=".46" stop-color="#eeba08"/><stop offset=".48" stop-color="#f9b920"/><stop offset=".5" stop-color="#fcb828"/><stop offset=".52" stop-color="#f9b920"/><stop offset=".54" stop-color="#eeba08"/><stop offset=".557" stop-color="#c7bf08"/><stop offset=".562" stop-color="#bac20e"/><stop offset=".575" stop-color="#93c827"/><stop offset=".585" stop-color="#65ca3f"/><stop offset=".588" stop-color="#54cb46"/><stop offset=".59" stop-color="#21cd51"/><stop offset=".593" stop-color="#00ce5a"/><stop offset=".618" stop-color="#00c699"/><stop offset=".643" stop-color="#00b3cf"/><stop offset=".653" stop-color="#00a9de"/><stop offset=".675" stop-color="#008df2"/><stop offset=".69" stop-color="#0776fe"/><stop offset=".693" stop-color="#0e72ff"/><stop offset=".7" stop-color="#3861ff"/><stop offset=".71" stop-color="#4451f7"/><stop offset=".723" stop-color="#4a3de0"/><stop offset=".75" stop-color="#4423b4"/><stop offset=".778" stop-color="#4938d8"/><stop offset=".808" stop-color="#464df2"/><stop offset=".833" stop-color="#3f58fb"/><stop offset=".858" stop-color="#3d5cfc"/><stop offset=".908" stop-color="#4550f5"/><stop offset=".94" stop-color="#4a3ee1"/><stop offset="1" stop-color="#4423b4"/></linearGradient>
<linearGradient id="s64" gradientUnits="userSpaceOnUse" y1="0" y2="0"><stop offset="0" stop-color="#4423b4"/><stop offset=".06" stop-color="#4a3de1"/><stop offset=".092" stop-color="#454ff4"/><stop offset=".142" stop-color="#3d5bfc"/><stop offset=".18" stop-color="#4453f8"/><stop offset=".192" stop-color="#464cf1"/><stop offset=".223" stop-color="#4937d7"/><stop offset=".25" stop-color="#4423b4"/><stop offset=".278" stop-color="#4a3de0"/><stop offset=".293" stop-color="#4354f9"/><stop offset=".3" stop-color="#3960fe"/><stop offset=".31" stop-color="#0875fe"/><stop offset=".328" stop-color="#008ff1"/><stop offset=".348" stop-color="#00a7e0"/><stop offset=".36" stop-color="#00b4cd"/><stop offset=".385" stop-color="#00c698"/><stop offset=".41" stop-color="#00ce5b"/><stop offset=".412" stop-color="#17cd53"/><stop offset=".415" stop-color="#47cc49"/><stop offset=".417" stop-color="#61cb41"/><stop offset=".43" stop-color="#98c825"/><stop offset=".438" stop-color="#adc416"/><stop offset=".445" stop-color="#c1c009"/><stop offset=".467" stop-color="#edba08"/><stop offset=".485" stop-color="#f5b918"/><stop offset=".5" stop-color="#f7b91c"/><stop offset=".515" stop-color="#f5b918"/><stop offset=".532" stop-color="#edba08"/><stop offset=".555" stop-color="#c1c009"/><stop offset=".562" stop-color="#adc416"/><stop offset=".57" stop-color="#98c825"/><stop offset=".583" stop-color="#61cb41"/><stop offset=".585" stop-color="#47cc49"/><stop offset=".588" stop-color="#17cd53"/><stop offset=".59" stop-color="#00ce5b"/><stop offset=".615" stop-color="#00c698"/><stop offset=".64" stop-color="#00b4cd"/><stop offset=".653" stop-color="#00a7e0"/><stop offset=".673" stop-color="#008ff1"/><stop offset=".69" stop-color="#0875fe"/><stop offset=".7" stop-color="#3960fe"/><stop offset=".708" stop-color="#4354f9"/><stop offset=".723" stop-color="#4a3de0"/><stop offset=".75" stop-color="#4423b4"/><stop offset=".778" stop-color="#4937d7"/><stop offset=".808" stop-color="#464cf1"/><stop offset=".82" stop-color="#4453f8"/><stop offset=".858" stop-color="#3d5bfc"/><stop offset=".908" stop-color="#454ff4"/><stop offset=".94" stop-color="#4a3de1"/><stop offset="1" stop-color="#4423b4"/></linearGradient>
<linearGradient id="s63" gradientUnits="userSpaceOnUse" y1="0" y2="0"><stop offset="0" stop-color="#4423b4"/><stop offset=".062" stop-color="#4a3ee2"/><stop offset=".092" stop-color="#454ef3"/><stop offset=".142" stop-color="#3e5afb"/><stop offset=".178" stop-color="#4353f8"/><stop offset=".192" stop-color="#464bf1"/><stop offset=".223" stop-color="#4937d7"/><stop offset=".25" stop-color="#4423b4"/><stop offset=".278" stop-color="#4a3cdf"/><stop offset=".293" stop-color="#4353f8"/><stop offset=".303" stop-color="#3464ff"/><stop offset=".31" stop-color="#0974ff"/><stop offset=".328" stop-color="#008ef2"/><stop offset=".35" stop-color="#00a8df"/><stop offset=".362" stop-color="#00b5cc"/><stop offset=".388" stop-color="#00c698"/><stop offset=".412" stop-color="#00ce5d"/><stop offset=".415" stop-color="#09ce56"/><stop offset=".417" stop-color="#38cc4c"/><stop offset=".42" stop-color="#5dcb43"/><stop offset=".435" stop-color="#9ac723"/><stop offset=".45" stop-color="#bfc00a"/><stop offset=".47" stop-color="#e3bc08"/><stop offset=".48" stop-color="#eeba08"/><stop offset=".5" stop-color="#f2ba10"/><stop offset=".52" stop-color="#eeba08"/><stop offset=".53" stop-color="#e3bc08"/><stop offset=".55" stop-color="#bfc00a"/><stop offset=".565" stop-color="#9ac723"/><stop offset=".58" stop-color="#5dcb43"/><stop offset=".583" stop-color="#38cc4c"/><stop offset=".585" stop-color="#09ce56"/><stop offset=".588" stop-color="#00ce5d"/><stop offset=".613" stop-color="#00c698"/><stop offset=".637" stop-color="#00b5cc"/><stop offset=".65" stop-color="#00a8df"/><stop offset=".673" stop-color="#008ef2"/><stop offset=".69" stop-color="#0974ff"/><stop offset=".698" stop-color="#3464ff"/><stop offset=".708" stop-color="#4353f8"/><stop offset=".723" stop-color="#4a3cdf"/><stop offset=".75" stop-color="#4423b4"/><stop offset=".778" stop-color="#4937d7"/><stop offset=".808" stop-color="#464bf1"/><stop offset=".823" stop-color="#4353f8"/><stop offset=".858" stop-color="#3e5afb"/><stop offset=".908" stop-color="#454ef3"/><stop offset=".938" stop-color="#4a3ee2"/><stop offset="1" stop-color="#4423b4"/></linearGradient>
<linearGradient id="s62" gradientUnits="userSpaceOnUse" y1="0" y2="0"><stop offset="0" stop-color="#4423b4"/><stop offset=".062" stop-color="#4a3de1"/><stop offset=".09" stop-color="#464cf1"/><stop offset=".108" stop-color="#4353f8"/><stop offset=".142" stop-color="#3f59fb"/><stop offset=".175" stop-color="#4353f8"/><stop offset=".192" stop-color="#464af0"/><stop offset=".223" stop-color="#4937d6"/><stop offset=".25" stop-color="#4423b4"/><stop offset=".28" stop-color="#4a3fe3"/><stop offset=".293" stop-color="#4452f8"/><stop offset=".303" stop-color="#3862ff"/><stop offset=".31" stop-color="#0e72ff"/><stop offset=".312" stop-color="#0776fe"/><stop offset=".328" stop-color="#018cf3"/><stop offset=".353" stop-color="#00a9de"/><stop offset=".362" stop-color="#00b3cf"/><stop offset=".39" stop-color="#00c697"/><stop offset=".417" stop-color="#00ce59"/><stop offset=".423" stop-color="#52cb47"/><stop offset=".425" stop-color="#63cb40"/><stop offset=".44" stop-color="#9bc723"/><stop offset=".455" stop-color="#bdc10c"/><stop offset=".46" stop-color="#c6bf08"/><stop offset=".48" stop-color="#e1bc08"/><stop offset=".5" stop-color="#eabb08"/><stop offset=".518" stop-color="#e3bc08"/><stop offset=".537" stop-color="#cabf08"/><stop offset=".543" stop-color="#c2c008"/><stop offset=".56" stop-color="#9bc723"/><stop offset=".575" stop-color="#63cb40"/><stop offset=".578" stop-color="#52cb47"/><stop offset=".583" stop-color="#00ce59"/><stop offset=".61" stop-color="#00c697"/><stop offset=".637" stop-color="#00b3cf"/><stop offset=".648" stop-color="#00a9de"/><stop offset=".673" stop-color="#018cf3"/><stop offset=".688" stop-color="#0776fe"/><stop offset=".69" stop-color="#0e72ff"/><stop offset=".698" stop-color="#3862ff"/><stop offset=".708" stop-color="#4452f8"/><stop offset=".72" stop-color="#4a3fe3"/><stop offset=".75" stop-color="#4423b4"/><stop offset=".778" stop-color="#4937d6"/><stop offset=".808" stop-color="#464af0"/><stop offset=".825" stop-color="#4353f8"/><stop offset=".858" stop-color="#3f59fb"/><stop offset=".893" stop-color="#4353f8"/><stop offset=".91" stop-color="#464cf1"/><stop offset=".938" stop-color="#4a3de1"/><stop offset="1" stop-color="#4423b4"/></linearGradient>
<linearGradient id="s61" gradientUnits="userSpaceOnUse" y1="0" y2="0"><stop offset="0" stop-color="#4423b4"/><stop offset=".065" stop-color="#4a3ee2"/><stop offset=".09" stop-color="#464bf0"/><stop offset=".11" stop-color="#4452f8"/><stop offset=".142" stop-color="#4058fa"/><stop offset=".175" stop-color="#4452f8"/><stop offset=".195" stop-color="#4748ed"/><stop offset=".223" stop-color="#4936d6"/><stop offset=".25" stop-color="#4423b4"/><stop offset=".28" stop-color="#4a3ee2"/><stop offset=".293" stop-color="#4451f7"/><stop offset=".303" stop-color="#3961fe"/><stop offset=".312" stop-color="#0875ff"/><stop offset=".33" stop-color="#008ef2"/><stop offset=".353" stop-color="#00a8df"/><stop offset=".365" stop-color="#00b4ce"/><stop offset=".393" stop-color="#00c697"/><stop offset=".42" stop-color="#00ce5b"/><stop offset=".423" stop-color="#12cd54"/><stop offset=".425" stop-color="#3ccc4b"/><stop offset=".428" stop-color="#5dcb44"/><stop offset=".445" stop-color="#9ac723"/><stop offset=".467" stop-color="#c5c008"/><stop offset=".485" stop-color="#d7bd08"/><stop offset=".503" stop-color="#dcbc08"/><stop offset=".52" stop-color="#d3be08"/><stop offset=".535" stop-color="#c1c009"/><stop offset=".54" stop-color="#b9c20e"/><stop offset=".557" stop-color="#94c827"/><stop offset=".573" stop-color="#5dcb44"/><stop offset=".575" stop-color="#3ccc4b"/><stop offset=".578" stop-color="#12cd54"/><stop offset=".58" stop-color="#00ce5b"/><stop offset=".608" stop-color="#00c697"/><stop offset=".635" stop-color="#00b4ce"/><stop offset=".648" stop-color="#00a8df"/><stop offset=".67" stop-color="#008ef2"/><stop offset=".688" stop-color="#0875ff"/><stop offset=".698" stop-color="#3961fe"/><stop offset=".708" stop-color="#4451f7"/><stop offset=".72" stop-color="#4a3ee2"/><stop offset=".75" stop-color="#4423b4"/><stop offset=".778" stop-color="#4936d6"/><stop offset=".805" stop-color="#4748ed"/><stop offset=".825" stop-color="#4452f8"/><stop offset=".858" stop-color="#4058fa"/><stop offset=".89" stop-color="#4452f8"/><stop offset=".91" stop-color="#464bf0"/><stop offset=".935" stop-color="#4a3ee2"/><stop offset="1" stop-color="#4423b4"/></linearGradient>
<linearGradient id="s60" gradientUnits="userSpaceOnUse" y1="0" y2="0"><stop offset="0" stop-color="#4423b4"/><stop offset=".065" stop-color="#4a3de1"/><stop offset=".09" stop-color="#464aef"/><stop offset=".113" stop-color="#4452f8"/><stop offset=".142" stop-color="#4157fa"/><stop offset=".173" stop-color="#4452f8"/><stop offset=".195" stop-color="#4747ec"/><stop offset=".223" stop-color="#4936d5"/><stop offset=".25" stop-color="#4423b4"/><stop offset=".28" stop-color="#4a3de1"/><stop offset=".295" stop-color="#4354f9"/><stop offset=".305" stop-color="#3364ff"/><stop offset=".312" stop-color="#0a73ff"/><stop offset=".33" stop-color="#008cf3"/><stop offset=".355" stop-color="#00a9de"/><stop offset=".368" stop-color="#00b5cd"/><stop offset=".395" stop-color="#00c698"/><stop offset=".425" stop-color="#00ce59"/><stop offset=".43" stop-color="#4bcc48"/><stop offset=".432" stop-color="#60cb42"/><stop offset=".45" stop-color="#99c824"/><stop offset=".465" stop-color="#b4c312"/><stop offset=".478" stop-color="#c3c008"/><stop offset=".495" stop-color="#cdbe08"/><stop offset=".512" stop-color="#cbbf08"/><stop offset=".525" stop-color="#c0c009"/><stop offset=".548" stop-color="#9ec721"/><stop offset=".555" stop-color="#8bc92c"/><stop offset=".568" stop-color="#60cb42"/><stop offset=".57" stop-color="#4bcc48"/><stop offset=".575" stop-color="#00ce59"/><stop offset=".605" stop-color="#00c698"/><stop offset=".633" stop-color="#00b5cd"/><stop offset=".645" stop-color="#00a9de"/><stop offset=".67" stop-color="#008cf3"/><stop offset=".688" stop-color="#0a73ff"/><stop offset=".695" stop-color="#3364ff"/><stop offset=".705" stop-color="#4354f9"/><stop offset=".72" stop-color="#4a3de1"/><stop offset=".75" stop-color="#4423b4"/><stop offset=".778" stop-color="#4936d5"/><stop offset=".805" stop-color="#4747ec"/><stop offset=".828" stop-color="#4452f8"/><stop offset=".858" stop-color="#4157fa"/><stop offset=".887" stop-color="#4452f8"/><stop offset=".91" stop-color="#464aef"/><stop offset=".935" stop-color="#4a3de1"/><stop offset="1" stop-color="#4423b4"/></linearGradient>
<linearGradient id="s59" gradientUnits="userSpaceOnUse" y1="0" y2="0"><stop offset="0" stop-color="#4423b4"/><stop offset=".067" stop-color="#4a3ee2"/><stop offset=".087" stop-color="#4748ed"/><stop offset=".115" stop-color="#4452f8"/><stop offset=".142" stop-color="#4155fa"/><stop offset=".167" stop-color="#4452f8"/><stop offset=".195" stop-color="#4746eb"/><stop offset=".223" stop-color="#4935d5"/><stop offset=".25" stop-color="#4423b4"/><stop offset=".28" stop-color="#4a3de0"/><stop offset=".295" stop-color="#4353f8"/><stop offset=".305" stop-color="#3862ff"/><stop offset=".312" stop-color="#0f71ff"/><stop offset=".315" stop-color="#0776fe"/><stop offset=".333" stop-color="#008ef2"/><stop offset=".358" stop-color="#00a9de"/><stop offset=".37" stop-color="#00b5cc"/><stop offset=".398" stop-color="#00c698"/><stop offset=".428" stop-color="#00ce5b"/><stop offset=".43" stop-color="#09ce56"/><stop offset=".435" stop-color="#52cb47"/><stop offset=".438" stop-color="#61cb41"/><stop offset=".453" stop-color="#8fc82a"/><stop offset=".463" stop-color="#a2c61e"/><stop offset=".475" stop-color="#b3c312"/><stop offset=".487" stop-color="#bdc10c"/><stop offset=".5" stop-color="#c0c009"/><stop offset=".512" stop-color="#bdc10c"/><stop offset=".525" stop-color="#b3c312"/><stop offset=".537" stop-color="#a2c61e"/><stop offset=".548" stop-color="#8fc82a"/><stop offset=".562" stop-color="#61cb41"/><stop offset=".565" stop-color="#52cb47"/><stop offset=".57" stop-color="#09ce56"/><stop offset=".573" stop-color="#00ce5b"/><stop offset=".603" stop-color="#00c698"/><stop offset=".63" stop-color="#00b5cc"/><stop offset=".643" stop-color="#00a9de"/><stop offset=".668" stop-color="#008ef2"/><stop offset=".685" stop-color="#0776fe"/><stop offset=".688" stop-color="#0f71ff"/><stop offset=".695" stop-color="#3862ff"/><stop offset=".705" stop-color="#4353f8"/><stop offset=".72" stop-color="#4a3de0"/><stop offset=".75" stop-color="#4423b4"/><stop offset=".778" stop-color="#4935d5"/><stop offset=".805" stop-color="#4746eb"/><stop offset=".833" stop-color="#4452f8"/><stop offset=".858" stop-color="#4155fa"/><stop offset=".885" stop-color="#4452f8"/><stop offset=".912" stop-color="#4748ed"/><stop offset=".933" stop-color="#4a3ee2"/><stop offset="1" stop-color="#4423b4"/></linearGradient>
<linearGradient id="s58" gradientUnits="userSpaceOnUse" y1="0" y2="0"><stop offset="0" stop-color="#4423b4"/><stop offset=".067" stop-color="#4a3de1"/><stop offset=".087" stop-color="#4747ec"/><stop offset=".12" stop-color="#4452f8"/><stop offset=".142" stop-color="#4254f9"/><stop offset=".167" stop-color="#4451f7"/><stop offset=".195" stop-color="#4846ea"/><stop offset=".223" stop-color="#4935d4"/><stop offset=".25" stop-color="#4423b4"/><stop offset=".28" stop-color="#4a3de0"/><stop offset=".295" stop-color="#4452f8"/><stop offset=".305" stop-color="#3961fe"/><stop offset=".315" stop-color="#0874ff"/><stop offset=".335" stop-color="#0090f1"/><stop offset=".358" stop-color="#00a8df"/><stop offset=".37" stop-color="#00b3cf"/><stop offset=".4" stop-color="#00c699"/><stop offset=".432" stop-color="#00ce5a"/><stop offset=".435" stop-color="#0fcd55"/><stop offset=".44" stop-color="#53cb47"/><stop offset=".443" stop-color="#60cb42"/><stop offset=".45" stop-color="#76ca36"/><stop offset=".463" stop-color="#95c827"/><stop offset=".47" stop-color="#a0c61f"/><stop offset=".485" stop-color="#aec416"/><stop offset=".498" stop-color="#b2c313"/><stop offset=".51" stop-color="#b0c314"/><stop offset=".523" stop-color="#a8c51a"/><stop offset=".535" stop-color="#99c724"/><stop offset=".545" stop-color="#83c930"/><stop offset=".557" stop-color="#60cb42"/><stop offset=".56" stop-color="#53cb47"/><stop offset=".565" stop-color="#0fcd55"/><stop offset=".568" stop-color="#00ce5a"/><stop offset=".6" stop-color="#00c699"/><stop offset=".63" stop-color="#00b3cf"/><stop offset=".643" stop-color="#00a8df"/><stop offset=".665" stop-color="#0090f1"/><stop offset=".685" stop-color="#0874ff"/><stop offset=".695" stop-color="#3961fe"/><stop offset=".705" stop-color="#4452f8"/><stop offset=".72" stop-color="#4a3de0"/><stop offset=".75" stop-color="#4423b4"/><stop offset=".778" stop-color="#4935d4"/><stop offset=".805" stop-color="#4846ea"/><stop offset=".833" stop-color="#4451f7"/><stop offset=".858" stop-color="#4254f9"/><stop offset=".88" stop-color="#4452f8"/><stop offset=".912" stop-color="#4747ec"/><stop offset=".933" stop-color="#4a3de1"/><stop offset="1" stop-color="#4423b4"/></linearGradient>
<linearGradient id="s57" gradientUnits="userSpaceOnUse" y1="0" y2="0"><stop offset="0" stop-color="#4423b4"/><stop offset=".07" stop-color="#4a3ee2"/><stop offset=".087" stop-color="#4846eb"/><stop offset=".117" stop-color="#4450f6"/><stop offset=".142" stop-color="#4353f9"/><stop offset=".167" stop-color="#4550f6"/><stop offset=".195" stop-color="#4845e9"/><stop offset=".223" stop-color="#4935d4"/><stop offset=".25" stop-color="#4423b4"/><stop offset=".283" stop-color="#4a3fe3"/><stop offset=".297" stop-color="#4254f9"/><stop offset=".307" stop-color="#3364ff"/><stop offset=".315" stop-color="#0c72ff"/><stop offset=".318" stop-color="#0776fe"/><stop offset=".335" stop-color="#008ef2"/><stop offset=".36" stop-color="#00a8df"/><stop offset=".372" stop-color="#00b4ce"/><stop offset=".403" stop-color="#00c69a"/><stop offset=".438" stop-color="#00ce5a"/><stop offset=".44" stop-color="#0ece55"/><stop offset=".445" stop-color="#4ccb48"/><stop offset=".448" stop-color="#5ecb43"/><stop offset=".45" stop-color="#65ca3f"/><stop offset=".463" stop-color="#83c930"/><stop offset=".473" stop-color="#95c827"/><stop offset=".485" stop-color="#a0c61f"/><stop offset=".498" stop-color="#a4c51c"/><stop offset=".51" stop-color="#a3c61d"/><stop offset=".525" stop-color="#98c825"/><stop offset=".535" stop-color="#88c92d"/><stop offset=".548" stop-color="#6bca3c"/><stop offset=".552" stop-color="#5ecb43"/><stop offset=".555" stop-color="#4ccb48"/><stop offset=".56" stop-color="#0ece55"/><stop offset=".562" stop-color="#00ce5a"/><stop offset=".598" stop-color="#00c69a"/><stop offset=".628" stop-color="#00b4ce"/><stop offset=".64" stop-color="#00a8df"/><stop offset=".665" stop-color="#008ef2"/><stop offset=".682" stop-color="#0776fe"/><stop offset=".685" stop-color="#0c72ff"/><stop offset=".693" stop-color="#3364ff"/><stop offset=".703" stop-color="#4254f9"/><stop offset=".718" stop-color="#4a3fe3"/><stop offset=".75" stop-color="#4423b4"/><stop offset=".778" stop-color="#4935d4"/><stop offset=".805" stop-color="#4845e9"/><stop offset=".833" stop-color="#4550f6"/><stop offset=".858" stop-color="#4353f9"/><stop offset=".883" stop-color="#4450f6"/><stop offset=".912" stop-color="#4846eb"/><stop offset=".93" stop-color="#4a3ee2"/><stop offset="1" stop-color="#4423b4"/></linearGradient>
<linearGradient id="s56" gradientUnits="userSpaceOnUse" y1="0" y2="0"><stop offset="0" stop-color="#4423b4"/><stop offset=".085" stop-color="#4844e9"/><stop offset=".115" stop-color="#454ff4"/><stop offset=".142" stop-color="#4452f8"/><stop offset=".17" stop-color="#454ef4"/><stop offset=".198" stop-color="#4942e7"/><stop offset=".225" stop-color="#4833d1"/><stop offset=".25" stop-color="#4423b4"/><stop offset=".283" stop-color="#4a3ee2"/><stop offset=".297" stop-color="#4353f9"/><stop offset=".307" stop-color="#3862ff"/><stop offset=".318" stop-color="#0875ff"/><stop offset=".338" stop-color="#008ff1"/><stop offset=".365" stop-color="#00abdb"/><stop offset=".398" stop-color="#00c2a8"/><stop offset=".443" stop-color="#00ce5b"/><stop offset=".445" stop-color="#06ce57"/><stop offset=".453" stop-color="#58cb45"/><stop offset=".455" stop-color="#60cb42"/><stop offset=".467" stop-color="#7ac934"/><stop offset=".48" stop-color="#8cc82b"/><stop offset=".493" stop-color="#96c826"/><stop offset=".503" stop-color="#97c826"/><stop offset=".523" stop-color="#89c92d"/><stop offset=".532" stop-color="#7ac934"/><stop offset=".545" stop-color="#60cb42"/><stop offset=".548" stop-color="#58cb45"/><stop offset=".555" stop-color="#06ce57"/><stop offset=".557" stop-color="#00ce5b"/><stop offset=".593" stop-color="#00c696"/><stop offset=".625" stop-color="#00b4ce"/><stop offset=".637" stop-color="#00a9de"/><stop offset=".662" stop-color="#008ff1"/><stop offset=".682" stop-color="#0875ff"/><stop offset=".693" stop-color="#3862ff"/><stop offset=".703" stop-color="#4353f9"/><stop offset=".718" stop-color="#4a3ee2"/><stop offset=".75" stop-color="#4423b4"/><stop offset=".775" stop-color="#4833d1"/><stop offset=".802" stop-color="#4942e7"/><stop offset=".83" stop-color="#454ef4"/><stop offset=".858" stop-color="#4452f8"/><stop offset=".885" stop-color="#454ff4"/><stop offset=".915" stop-color="#4844e9"/><stop offset="1" stop-color="#4423b4"/></linearGradient>
<linearGradient id="s55" gradientUnits="userSpaceOnUse" y1="0" y2="0"><stop offset="0" stop-color="#4423b4"/><stop offset=".085" stop-color="#4843e8"/><stop offset=".115" stop-color="#454ef3"/><stop offset=".142" stop-color="#4451f7"/><stop offset=".17" stop-color="#454df3"/><stop offset=".198" stop-color="#4942e6"/><stop offset=".225" stop-color="#4833d0"/><stop offset=".25" stop-color="#4423b4"/><stop offset=".283" stop-color="#4a3de1"/><stop offset=".297" stop-color="#4452f8"/><stop offset=".307" stop-color="#3961fe"/><stop offset=".318" stop-color="#0a73ff"/><stop offset=".338" stop-color="#008ef2"/><stop offset=".365" stop-color="#00a9dd"/><stop offset=".4" stop-color="#00c2a9"/><stop offset=".45" stop-color="#00ce59"/><stop offset=".453" stop-color="#11cd54"/><stop offset=".46" stop-color="#57cb46"/><stop offset=".463" stop-color="#5ecb43"/><stop offset=".483" stop-color="#7cc933"/><stop offset=".5" stop-color="#84c92f"/><stop offset=".518" stop-color="#7cc933"/><stop offset=".537" stop-color="#5ecb43"/><stop offset=".54" stop-color="#57cb46"/><stop offset=".548" stop-color="#11cd54"/><stop offset=".55" stop-color="#00ce59"/><stop offset=".6" stop-color="#00c2a9"/><stop offset=".635" stop-color="#00a9dd"/><stop offset=".662" stop-color="#008ef2"/><stop offset=".682" stop-color="#0a73ff"/><stop offset=".693" stop-color="#3961fe"/><stop offset=".703" stop-color="#4452f8"/><stop offset=".718" stop-color="#4a3de1"/><stop offset=".75" stop-color="#4423b4"/><stop offset=".775" stop-color="#4833d0"/><stop offset=".802" stop-color="#4942e6"/><stop offset=".83" stop-color="#454df3"/><stop offset=".858" stop-color="#4451f7"/><stop offset=".885" stop-color="#454ef3"/><stop offset=".915" stop-color="#4843e8"/><stop offset="1" stop-color="#4423b4"/></linearGradient>
<linearGradient id="s54" gradientUnits="userSpaceOnUse" y1="0" y2="0"><stop offset="0" stop-color="#4423b4"/><stop offset=".085" stop-color="#4943e7"/><stop offset=".115" stop-color="#464df2"/><stop offset=".142" stop-color="#4550f6"/><stop offset=".17" stop-color="#464cf2"/><stop offset=".198" stop-color="#4941e5"/><stop offset=".225" stop-color="#4832d0"/><stop offset=".25" stop-color="#4423b4"/><stop offset=".283" stop-color="#4a3de0"/><stop offset=".297" stop-color="#4451f7"/><stop offset=".31" stop-color="#3563ff"/><stop offset=".318" stop-color="#1071ff"/><stop offset=".32" stop-color="#0875fe"/><stop offset=".34" stop-color="#008ff1"/><stop offset=".368" stop-color="#0ad"/><stop offset=".385" stop-color="#00b8c6"/><stop offset=".415" stop-color="#00c696"/><stop offset=".44" stop-color="#00cc6f"/><stop offset=".458" stop-color="#00ce59"/><stop offset=".46" stop-color="#0ece55"/><stop offset=".47" stop-color="#58cb45"/><stop offset=".483" stop-color="#69ca3d"/><stop offset=".498" stop-color="#71ca39"/><stop offset=".515" stop-color="#6bca3c"/><stop offset=".53" stop-color="#58cb45"/><stop offset=".54" stop-color="#0ece55"/><stop offset=".543" stop-color="#00ce59"/><stop offset=".56" stop-color="#00cc6f"/><stop offset=".585" stop-color="#00c696"/><stop offset=".615" stop-color="#00b8c6"/><stop offset=".633" stop-color="#0ad"/><stop offset=".66" stop-color="#008ff1"/><stop offset=".68" stop-color="#0875fe"/><stop offset=".682" stop-color="#1071ff"/><stop offset=".69" stop-color="#3563ff"/><stop offset=".703" stop-color="#4451f7"/><stop offset=".718" stop-color="#4a3de0"/><stop offset=".75" stop-color="#4423b4"/><stop offset=".775" stop-color="#4832d0"/><stop offset=".802" stop-color="#4941e5"/><stop offset=".83" stop-color="#464cf2"/><stop offset=".858" stop-color="#4550f6"/><stop offset=".885" stop-color="#464df2"/><stop offset=".915" stop-color="#4943e7"/><stop offset="1" stop-color="#4423b4"/></linearGradient>
<linearGradient id="s53" gradientUnits="userSpaceOnUse" y1="0" y2="0"><stop offset="0" stop-color="#4423b4"/><stop offset=".085" stop-color="#4942e6"/><stop offset=".115" stop-color="#464cf1"/><stop offset=".142" stop-color="#454ff5"/><stop offset=".17" stop-color="#464bf1"/><stop offset=".198" stop-color="#4940e4"/><stop offset=".225" stop-color="#4832cf"/><stop offset=".25" stop-color="#4423b4"/><stop offset=".283" stop-color="#4a3ce0"/><stop offset=".3" stop-color="#4353f9"/><stop offset=".31" stop-color="#3861ff"/><stop offset=".32" stop-color="#0974ff"/><stop offset=".34" stop-color="#008df2"/><stop offset=".368" stop-color="#00a8df"/><stop offset=".395" stop-color="#00bcbb"/><stop offset=".435" stop-color="#00ca7d"/><stop offset=".467" stop-color="#00ce58"/><stop offset=".478" stop-color="#37cc4c"/><stop offset=".485" stop-color="#55cb46"/><stop offset=".487" stop-color="#5acb45"/><stop offset=".5" stop-color="#5fcb43"/><stop offset=".512" stop-color="#5acb45"/><stop offset=".515" stop-color="#55cb46"/><stop offset=".523" stop-color="#37cc4c"/><stop offset=".532" stop-color="#00ce58"/><stop offset=".565" stop-color="#00ca7d"/><stop offset=".605" stop-color="#00bcbb"/><stop offset=".633" stop-color="#00a8df"/><stop offset=".66" stop-color="#008df2"/><stop offset=".68" stop-color="#0974ff"/><stop offset=".69" stop-color="#3861ff"/><stop offset=".7" stop-color="#4353f9"/><stop offset=".718" stop-color="#4a3ce0"/><stop offset=".75" stop-color="#4423b4"/><stop offset=".775" stop-color="#4832cf"/><stop offset=".802" stop-color="#4940e4"/><stop offset=".83" stop-color="#464bf1"/><stop offset=".858" stop-color="#454ff5"/><stop offset=".885" stop-color="#464cf1"/><stop offset=".915" stop-color="#4942e6"/><stop offset="1" stop-color="#4423b4"/></linearGradient>
<linearGradient id="s52" gradientUnits="userSpaceOnUse" y1="0" y2="0"><stop offset="0" stop-color="#4423b4"/><stop offset=".085" stop-color="#4941e5"/><stop offset=".115" stop-color="#464bf0"/><stop offset=".142" stop-color="#454ef3"/><stop offset=".17" stop-color="#464aef"/><stop offset=".198" stop-color="#4a3fe3"/><stop offset=".225" stop-color="#4832cf"/><stop offset=".25" stop-color="#4423b4"/><stop offset=".285" stop-color="#4a3ee2"/><stop offset=".3" stop-color="#4452f8"/><stop offset=".31" stop-color="#3a60fe"/><stop offset=".312" stop-color="#3364ff"/><stop offset=".32" stop-color="#0f71ff"/><stop offset=".323" stop-color="#0875fe"/><stop offset=".343" stop-color="#008ef2"/><stop offset=".37" stop-color="#00a8df"/><stop offset=".403" stop-color="#00bfb4"/><stop offset=".45" stop-color="#00cc72"/><stop offset=".483" stop-color="#01ce58"/><stop offset=".493" stop-color="#1bcd52"/><stop offset=".5" stop-color="#21cd51"/><stop offset=".508" stop-color="#1bcd52"/><stop offset=".518" stop-color="#01ce58"/><stop offset=".52" stop-color="#00ce59"/><stop offset=".55" stop-color="#00cc72"/><stop offset=".598" stop-color="#00bfb4"/><stop offset=".63" stop-color="#00a8df"/><stop offset=".657" stop-color="#008ef2"/><stop offset=".677" stop-color="#0875fe"/><stop offset=".68" stop-color="#0f71ff"/><stop offset=".688" stop-color="#3364ff"/><stop offset=".69" stop-color="#3a60fe"/><stop offset=".7" stop-color="#4452f8"/><stop offset=".715" stop-color="#4a3ee2"/><stop offset=".75" stop-color="#4423b4"/><stop offset=".775" stop-color="#4832cf"/><stop offset=".802" stop-color="#4a3fe3"/><stop offset=".83" stop-color="#464aef"/><stop offset=".858" stop-color="#454ef3"/><stop offset=".885" stop-color="#464bf0"/><stop offset=".915" stop-color="#4941e5"/><stop offset="1" stop-color="#4423b4"/></linearGradient>
<linearGradient id="s51" gradientUnits="userSpaceOnUse" y1="0" y2="0"><stop offset="0" stop-color="#4423b4"/><stop offset=".085" stop-color="#4940e4"/><stop offset=".115" stop-color="#474aef"/><stop offset=".142" stop-color="#464df2"/><stop offset=".17" stop-color="#4749ee"/><stop offset=".198" stop-color="#4a3ee2"/><stop offset=".225" stop-color="#4831ce"/><stop offset=".25" stop-color="#4423b4"/><stop offset=".285" stop-color="#4a3ee1"/><stop offset=".3" stop-color="#4451f7"/><stop offset=".312" stop-color="#3862ff"/><stop offset=".323" stop-color="#0974ff"/><stop offset=".345" stop-color="#008ff1"/><stop offset=".372" stop-color="#00a8df"/><stop offset=".405" stop-color="#00beb6"/><stop offset=".438" stop-color="#00c889"/><stop offset=".46" stop-color="#00cc70"/><stop offset=".48" stop-color="#00cd62"/><stop offset=".5" stop-color="#00ce5d"/><stop offset=".52" stop-color="#00cd62"/><stop offset=".54" stop-color="#00cc70"/><stop offset=".562" stop-color="#00c889"/><stop offset=".595" stop-color="#00beb6"/><stop offset=".628" stop-color="#00a8df"/><stop offset=".655" stop-color="#008ff1"/><stop offset=".677" stop-color="#0974ff"/><stop offset=".688" stop-color="#3862ff"/><stop offset=".7" stop-color="#4451f7"/><stop offset=".715" stop-color="#4a3ee1"/><stop offset=".75" stop-color="#4423b4"/><stop offset=".775" stop-color="#4831ce"/><stop offset=".802" stop-color="#4a3ee2"/><stop offset=".83" stop-color="#4749ee"/><stop offset=".858" stop-color="#464df2"/><stop offset=".885" stop-color="#474aef"/><stop offset=".915" stop-color="#4940e4"/><stop offset="1" stop-color="#4423b4"/></linearGradient>
<linearGradient id="s50" gradientUnits="userSpaceOnUse" y1="0" y2="0"><stop offset="0" stop-color="#4423b4"/><stop offset=".085" stop-color="#4a3fe3"/><stop offset=".115" stop-color="#4749ee"/><stop offset=".142" stop-color="#464cf1"/><stop offset=".17" stop-color="#4748ed"/><stop offset=".198" stop-color="#4a3ee2"/><stop offset=".225" stop-color="#4831ce"/><stop offset=".25" stop-color="#4423b4"/><stop offset=".285" stop-color="#4a3de1"/><stop offset=".303" stop-color="#4353f8"/><stop offset=".312" stop-color="#3960fe"/><stop offset=".315" stop-color="#3264ff"/><stop offset=".323" stop-color="#0f71ff"/><stop offset=".325" stop-color="#0875fe"/><stop offset=".345" stop-color="#008df2"/><stop offset=".375" stop-color="#00a8df"/><stop offset=".41" stop-color="#00bfb4"/><stop offset=".44" stop-color="#00c88d"/><stop offset=".458" stop-color="#00cb7b"/><stop offset=".48" stop-color="#00cc6b"/><stop offset=".5" stop-color="#00cd66"/><stop offset=".52" stop-color="#00cc6b"/><stop offset=".543" stop-color="#00cb7b"/><stop offset=".56" stop-color="#00c88d"/><stop offset=".59" stop-color="#00bfb4"/><stop offset=".625" stop-color="#00a8df"/><stop offset=".655" stop-color="#008df2"/><stop offset=".675" stop-color="#0875fe"/><stop offset=".677" stop-color="#0f71ff"/><stop offset=".685" stop-color="#3264ff"/><stop offset=".688" stop-color="#3960fe"/><stop offset=".698" stop-color="#4353f8"/><stop offset=".715" stop-color="#4a3de1"/><stop offset=".75" stop-color="#4423b4"/><stop offset=".775" stop-color="#4831ce"/><stop offset=".802" stop-color="#4a3ee2"/><stop offset=".83" stop-color="#4748ed"/><stop offset=".858" stop-color="#464cf1"/><stop offset=".885" stop-color="#4749ee"/><stop offset=".915" stop-color="#4a3fe3"/><stop offset="1" stop-color="#4423b4"/></linearGradient>
<linearGradient id="s49" gradientUnits="userSpaceOnUse" y1="0" y2="0"><stop offset="0" stop-color="#4423b4"/><stop offset=".085" stop-color="#4a3ee2"/><stop offset=".115" stop-color="#4748ec"/><stop offset=".142" stop-color="#464bf0"/><stop offset=".17" stop-color="#4747ec"/><stop offset=".198" stop-color="#4a3de1"/><stop offset=".225" stop-color="#4831cd"/><stop offset=".25" stop-color="#4423b4"/><stop offset=".285" stop-color="#4a3ce0"/><stop offset=".303" stop-color="#4452f8"/><stop offset=".315" stop-color="#3762ff"/><stop offset=".325" stop-color="#0973ff"/><stop offset=".348" stop-color="#008ef2"/><stop offset=".378" stop-color="#00a8df"/><stop offset=".412" stop-color="#00beb6"/><stop offset=".46" stop-color="#00ca80"/><stop offset=".48" stop-color="#00cb73"/><stop offset=".5" stop-color="#00cc6f"/><stop offset=".52" stop-color="#00cb73"/><stop offset=".54" stop-color="#00ca80"/><stop offset=".588" stop-color="#00beb6"/><stop offset=".623" stop-color="#00a8df"/><stop offset=".653" stop-color="#008ef2"/><stop offset=".675" stop-color="#0973ff"/><stop offset=".685" stop-color="#3762ff"/><stop offset=".698" stop-color="#4452f8"/><stop offset=".715" stop-color="#4a3ce0"/><stop offset=".75" stop-color="#4423b4"/><stop offset=".775" stop-color="#4831cd"/><stop offset=".802" stop-color="#4a3de1"/><stop offset=".83" stop-color="#4747ec"/><stop offset=".858" stop-color="#464bf0"/><stop offset=".885" stop-color="#4748ec"/><stop offset=".915" stop-color="#4a3ee2"/><stop offset="1" stop-color="#4423b4"/></linearGradient>
<linearGradient id="s48" gradientUnits="userSpaceOnUse" y1="0" y2="0"><stop offset="0" stop-color="#4423b4"/><stop offset=".085" stop-color="#4a3ee2"/><stop offset=".115" stop-color="#4747eb"/><stop offset=".142" stop-color="#4749ef"/><stop offset=".17" stop-color="#4846eb"/><stop offset=".198" stop-color="#4a3de0"/><stop offset=".225" stop-color="#4830cd"/><stop offset=".25" stop-color="#4423b4"/><stop offset=".287" stop-color="#4a3ee2"/><stop offset=".303" stop-color="#4451f6"/><stop offset=".315" stop-color="#3961fe"/><stop offset=".325" stop-color="#1071ff"/><stop offset=".328" stop-color="#0875ff"/><stop offset=".35" stop-color="#008ef2"/><stop offset=".38" stop-color="#00a8df"/><stop offset=".408" stop-color="#00bac1"/><stop offset=".46" stop-color="#00c988"/><stop offset=".48" stop-color="#00ca7c"/><stop offset=".5" stop-color="#00cb78"/><stop offset=".52" stop-color="#00ca7c"/><stop offset=".54" stop-color="#00c988"/><stop offset=".593" stop-color="#00bac1"/><stop offset=".62" stop-color="#00a8df"/><stop offset=".65" stop-color="#008ef2"/><stop offset=".673" stop-color="#0875ff"/><stop offset=".675" stop-color="#1071ff"/><stop offset=".685" stop-color="#3961fe"/><stop offset=".698" stop-color="#4451f6"/><stop offset=".713" stop-color="#4a3ee2"/><stop offset=".75" stop-color="#4423b4"/><stop offset=".775" stop-color="#4830cd"/><stop offset=".802" stop-color="#4a3de0"/><stop offset=".83" stop-color="#4846eb"/><stop offset=".858" stop-color="#4749ef"/><stop offset=".885" stop-color="#4747eb"/><stop offset=".915" stop-color="#4a3ee2"/><stop offset="1" stop-color="#4423b4"/></linearGradient>
<linearGradient id="s47" gradientUnits="userSpaceOnUse" y1="0" y2="0"><stop offset="0" stop-color="#4423b4"/><stop offset=".085" stop-color="#4a3de1"/><stop offset=".142" stop-color="#4748ed"/><stop offset=".17" stop-color="#4845ea"/><stop offset=".198" stop-color="#4a3cdf"/><stop offset=".225" stop-color="#4830cc"/><stop offset=".25" stop-color="#4423b4"/><stop offset=".287" stop-color="#4a3de1"/><stop offset=".305" stop-color="#4452f8"/><stop offset=".318" stop-color="#3762ff"/><stop offset=".328" stop-color="#0b73ff"/><stop offset=".353" stop-color="#008ff1"/><stop offset=".385" stop-color="#0ad"/><stop offset=".408" stop-color="#00b8c5"/><stop offset=".46" stop-color="#00c790"/><stop offset=".48" stop-color="#00c984"/><stop offset=".5" stop-color="#00ca80"/><stop offset=".52" stop-color="#00c984"/><stop offset=".54" stop-color="#00c790"/><stop offset=".593" stop-color="#00b8c5"/><stop offset=".615" stop-color="#0ad"/><stop offset=".648" stop-color="#008ff1"/><stop offset=".673" stop-color="#0b73ff"/><stop offset=".682" stop-color="#3762ff"/><stop offset=".695" stop-color="#4452f8"/><stop offset=".713" stop-color="#4a3de1"/><stop offset=".75" stop-color="#4423b4"/><stop offset=".775" stop-color="#4830cc"/><stop offset=".802" stop-color="#4a3cdf"/><stop offset=".83" stop-color="#4845ea"/><stop offset=".858" stop-color="#4748ed"/><stop offset=".915" stop-color="#4a3de1"/><stop offset="1" stop-color="#4423b4"/></linearGradient>
<linearGradient id="s46" gradientUnits="userSpaceOnUse" y1="0" y2="0"><stop offset="0" stop-color="#4423b4"/><stop offset=".085" stop-color="#4a3de0"/><stop offset=".142" stop-color="#4747ec"/><stop offset=".17" stop-color="#4844e9"/><stop offset=".198" stop-color="#4a3bde"/><stop offset=".225" stop-color="#4830cc"/><stop offset=".25" stop-color="#4423b4"/><stop offset=".287" stop-color="#4a3de0"/><stop offset=".305" stop-color="#4451f7"/><stop offset=".318" stop-color="#3961fe"/><stop offset=".33" stop-color="#0874ff"/><stop offset=".368" stop-color="#009ae9"/><stop offset=".388" stop-color="#00a9de"/><stop offset=".408" stop-color="#00b6ca"/><stop offset=".44" stop-color="#00c2a8"/><stop offset=".463" stop-color="#00c695"/><stop offset=".483" stop-color="#00c88b"/><stop offset=".5" stop-color="#00c988"/><stop offset=".518" stop-color="#00c88b"/><stop offset=".537" stop-color="#00c695"/><stop offset=".56" stop-color="#00c2a8"/><stop offset=".593" stop-color="#00b6ca"/><stop offset=".613" stop-color="#00a9de"/><stop offset=".633" stop-color="#009ae9"/><stop offset=".67" stop-color="#0874ff"/><stop offset=".682" stop-color="#3961fe"/><stop offset=".695" stop-color="#4451f7"/><stop offset=".713" stop-color="#4a3de0"/><stop offset=".75" stop-color="#4423b4"/><stop offset=".775" stop-color="#4830cc"/><stop offset=".802" stop-color="#4a3bde"/><stop offset=".83" stop-color="#4844e9"/><stop offset=".858" stop-color="#4747ec"/><stop offset=".915" stop-color="#4a3de0"/><stop offset="1" stop-color="#4423b4"/></linearGradient>
<linearGradient id="s45" gradientUnits="userSpaceOnUse" y1="0" y2="0"><stop offset="0" stop-color="#4423b4"/><stop offset=".085" stop-color="#4a3cdf"/><stop offset=".142" stop-color="#4846eb"/><stop offset=".17" stop-color="#4843e8"/><stop offset=".198" stop-color="#4a3bdd"/><stop offset=".223" stop-color="#4831cd"/><stop offset=".25" stop-color="#4423b4"/><stop offset=".29" stop-color="#4a3ee2"/><stop offset=".307" stop-color="#4353f8"/><stop offset=".32" stop-color="#3862ff"/><stop offset=".33" stop-color="#0e72ff"/><stop offset=".333" stop-color="#0875fe"/><stop offset=".355" stop-color="#008df2"/><stop offset=".39" stop-color="#00a9de"/><stop offset=".41" stop-color="#00b5cc"/><stop offset=".458" stop-color="#00c4a0"/><stop offset=".48" stop-color="#00c794"/><stop offset=".5" stop-color="#00c790"/><stop offset=".52" stop-color="#00c794"/><stop offset=".543" stop-color="#00c4a0"/><stop offset=".59" stop-color="#00b5cc"/><stop offset=".61" stop-color="#00a9de"/><stop offset=".645" stop-color="#008df2"/><stop offset=".668" stop-color="#0875fe"/><stop offset=".67" stop-color="#0e72ff"/><stop offset=".68" stop-color="#3862ff"/><stop offset=".693" stop-color="#4353f8"/><stop offset=".71" stop-color="#4a3ee2"/><stop offset=".75" stop-color="#4423b4"/><stop offset=".778" stop-color="#4831cd"/><stop offset=".802" stop-color="#4a3bdd"/><stop offset=".83" stop-color="#4843e8"/><stop offset=".858" stop-color="#4846eb"/><stop offset=".915" stop-color="#4a3cdf"/><stop offset="1" stop-color="#4423b4"/></linearGradient>
<linearGradient id="s44" gradientUnits="userSpaceOnUse" y1="0" y2="0"><stop offset="0" stop-color="#4423b4"/><stop offset=".085" stop-color="#4a3bde"/><stop offset=".142" stop-color="#4845ea"/><stop offset=".17" stop-color="#4942e6"/><stop offset=".198" stop-color="#493adc"/><stop offset=".223" stop-color="#4830cd"/><stop offset=".25" stop-color="#4423b4"/><stop offset=".29" stop-color="#4a3ee1"/><stop offset=".307" stop-color="#4451f7"/><stop offset=".32" stop-color="#3960fe"/><stop offset=".323" stop-color="#3364ff"/><stop offset=".333" stop-color="#0a73ff"/><stop offset=".358" stop-color="#008ef2"/><stop offset=".393" stop-color="#00a8df"/><stop offset=".415" stop-color="#00b5cc"/><stop offset=".463" stop-color="#00c3a3"/><stop offset=".5" stop-color="#00c698"/><stop offset=".537" stop-color="#00c3a3"/><stop offset=".585" stop-color="#00b5cc"/><stop offset=".608" stop-color="#00a8df"/><stop offset=".643" stop-color="#008ef2"/><stop offset=".668" stop-color="#0a73ff"/><stop offset=".677" stop-color="#3364ff"/><stop offset=".68" stop-color="#3960fe"/><stop offset=".693" stop-color="#4451f7"/><stop offset=".71" stop-color="#4a3ee1"/><stop offset=".75" stop-color="#4423b4"/><stop offset=".778" stop-color="#4830cd"/><stop offset=".802" stop-color="#493adc"/><stop offset=".83" stop-color="#4942e6"/><stop offset=".858" stop-color="#4845ea"/><stop offset=".915" stop-color="#4a3bde"/><stop offset="1" stop-color="#4423b4"/></linearGradient>
<linearGradient id="s43" gradientUnits="userSpaceOnUse" y1="0" y2="0"><stop offset="0" stop-color="#4423b4"/><stop offset=".085" stop-color="#4a3bdd"/><stop offset=".142" stop-color="#4844e9"/><stop offset=".17" stop-color="#4941e5"/><stop offset=".198" stop-color="#493adb"/><stop offset=".223" stop-color="#4830cc"/><stop offset=".25" stop-color="#4423b4"/><stop offset=".29" stop-color="#4a3de0"/><stop offset=".31" stop-color="#4353f8"/><stop offset=".323" stop-color="#3862ff"/><stop offset=".333" stop-color="#1171ff"/><stop offset=".335" stop-color="#0874ff"/><stop offset=".36" stop-color="#008ef2"/><stop offset=".398" stop-color="#00a9de"/><stop offset=".417" stop-color="#00b4cd"/><stop offset=".465" stop-color="#00c2a9"/><stop offset=".5" stop-color="#00c49f"/><stop offset=".535" stop-color="#00c2a9"/><stop offset=".583" stop-color="#00b4cd"/><stop offset=".603" stop-color="#00a9de"/><stop offset=".64" stop-color="#008ef2"/><stop offset=".665" stop-color="#0874ff"/><stop offset=".668" stop-color="#1171ff"/><stop offset=".677" stop-color="#3862ff"/><stop offset=".69" stop-color="#4353f8"/><stop offset=".71" stop-color="#4a3de0"/><stop offset=".75" stop-color="#4423b4"/><stop offset=".778" stop-color="#4830cc"/><stop offset=".802" stop-color="#493adb"/><stop offset=".83" stop-color="#4941e5"/><stop offset=".858" stop-color="#4844e9"/><stop offset=".915" stop-color="#4a3bdd"/><stop offset="1" stop-color="#4423b4"/></linearGradient>
<linearGradient id="s42" gradientUnits="userSpaceOnUse" y1="0" y2="0"><stop offset="0" stop-color="#4423b4"/><stop offset=".085" stop-color="#493adc"/><stop offset=".142" stop-color="#4943e7"/><stop offset=".17" stop-color="#4940e4"/><stop offset=".198" stop-color="#4939da"/><stop offset=".223" stop-color="#4830cb"/><stop offset=".25" stop-color="#4423b4"/><stop offset=".293" stop-color="#4a3ee2"/><stop offset=".31" stop-color="#4452f7"/><stop offset=".325" stop-color="#3663ff"/><stop offset=".335" stop-color="#0e72ff"/><stop offset=".338" stop-color="#0875ff"/><stop offset=".362" stop-color="#008ef2"/><stop offset=".417" stop-color="#00b2d1"/><stop offset=".465" stop-color="#00c0af"/><stop offset=".5" stop-color="#00c2a6"/><stop offset=".535" stop-color="#00c0af"/><stop offset=".583" stop-color="#00b2d1"/><stop offset=".637" stop-color="#008ef2"/><stop offset=".662" stop-color="#0875ff"/><stop offset=".665" stop-color="#0e72ff"/><stop offset=".675" stop-color="#3663ff"/><stop offset=".69" stop-color="#4452f7"/><stop offset=".708" stop-color="#4a3ee2"/><stop offset=".75" stop-color="#4423b4"/><stop offset=".778" stop-color="#4830cb"/><stop offset=".802" stop-color="#4939da"/><stop offset=".83" stop-color="#4940e4"/><stop offset=".858" stop-color="#4943e7"/><stop offset=".915" stop-color="#493adc"/><stop offset="1" stop-color="#4423b4"/></linearGradient>
<linearGradient id="s41" gradientUnits="userSpaceOnUse" y1="0" y2="0"><stop offset="0" stop-color="#4423b4"/><stop offset=".085" stop-color="#493adb"/><stop offset=".142" stop-color="#4942e6"/><stop offset=".17" stop-color="#4a3fe3"/><stop offset=".198" stop-color="#4939d9"/><stop offset=".22" stop-color="#4830cd"/><stop offset=".25" stop-color="#4423b4"/><stop offset=".293" stop-color="#4a3de1"/><stop offset=".312" stop-color="#4353f8"/><stop offset=".325" stop-color="#3961fe"/><stop offset=".338" stop-color="#0c73ff"/><stop offset=".34" stop-color="#0875fe"/><stop offset=".365" stop-color="#008ef2"/><stop offset=".417" stop-color="#00afd5"/><stop offset=".463" stop-color="#00beb7"/><stop offset=".5" stop-color="#00c1ad"/><stop offset=".537" stop-color="#00beb7"/><stop offset=".583" stop-color="#00afd5"/><stop offset=".635" stop-color="#008ef2"/><stop offset=".66" stop-color="#0875fe"/><stop offset=".662" stop-color="#0c73ff"/><stop offset=".675" stop-color="#3961fe"/><stop offset=".688" stop-color="#4353f8"/><stop offset=".708" stop-color="#4a3de1"/><stop offset=".75" stop-color="#4423b4"/><stop offset=".78" stop-color="#4830cd"/><stop offset=".802" stop-color="#4939d9"/><stop offset=".83" stop-color="#4a3fe3"/><stop offset=".858" stop-color="#4942e6"/><stop offset=".915" stop-color="#493adb"/><stop offset="1" stop-color="#4423b4"/></linearGradient>
<linearGradient id="s40" gradientUnits="userSpaceOnUse" y1="0" y2="0"><stop offset="0" stop-color="#4423b4"/><stop offset=".085" stop-color="#4939da"/><stop offset=".142" stop-color="#4941e5"/><stop offset=".195" stop-color="#4939da"/><stop offset=".22" stop-color="#4830cc"/><stop offset=".247" stop-color="#4424b5"/><stop offset=".253" stop-color="#4424b5"/><stop offset=".293" stop-color="#4a3de0"/><stop offset=".312" stop-color="#4451f7"/><stop offset=".328" stop-color="#3862ff"/><stop offset=".34" stop-color="#0a73ff"/><stop offset=".368" stop-color="#008df2"/><stop offset=".417" stop-color="#00add9"/><stop offset=".465" stop-color="#00bcbc"/><stop offset=".5" stop-color="#00bfb4"/><stop offset=".535" stop-color="#00bcbc"/><stop offset=".583" stop-color="#00add9"/><stop offset=".633" stop-color="#008df2"/><stop offset=".66" stop-color="#0a73ff"/><stop offset=".673" stop-color="#3862ff"/><stop offset=".688" stop-color="#4451f7"/><stop offset=".708" stop-color="#4a3de0"/><stop offset=".748" stop-color="#4424b5"/><stop offset=".753" stop-color="#4424b5"/><stop offset=".78" stop-color="#4830cc"/><stop offset=".805" stop-color="#4939da"/><stop offset=".858" stop-color="#4941e5"/><stop offset=".915" stop-color="#4939da"/><stop offset="1" stop-color="#4423b4"/></linearGradient>
<linearGradient id="s39" gradientUnits="userSpaceOnUse" y1="0" y2="0"><stop offset="0" stop-color="#4423b4"/><stop offset=".085" stop-color="#4938d9"/><stop offset=".142" stop-color="#4a40e4"/><stop offset=".195" stop-color="#4938d9"/><stop offset=".22" stop-color="#4830cb"/><stop offset=".247" stop-color="#4424b5"/><stop offset=".253" stop-color="#4424b5"/><stop offset=".295" stop-color="#4a3ee2"/><stop offset=".315" stop-color="#4452f8"/><stop offset=".33" stop-color="#3663ff"/><stop offset=".343" stop-color="#0874ff"/><stop offset=".345" stop-color="#0776fe"/><stop offset=".372" stop-color="#008ff1"/><stop offset=".417" stop-color="#00aadc"/><stop offset=".465" stop-color="#00b9c2"/><stop offset=".5" stop-color="#00bcba"/><stop offset=".535" stop-color="#00b9c2"/><stop offset=".583" stop-color="#00aadc"/><stop offset=".628" stop-color="#008ff1"/><stop offset=".655" stop-color="#0776fe"/><stop offset=".657" stop-color="#0874ff"/><stop offset=".67" stop-color="#3663ff"/><stop offset=".685" stop-color="#4452f8"/><stop offset=".705" stop-color="#4a3ee2"/><stop offset=".748" stop-color="#4424b5"/><stop offset=".753" stop-color="#4424b5"/><stop offset=".78" stop-color="#4830cb"/><stop offset=".805" stop-color="#4938d9"/><stop offset=".858" stop-color="#4a40e4"/><stop offset=".915" stop-color="#4938d9"/><stop offset="1" stop-color="#4423b4"/></linearGradient>
<linearGradient id="s38" gradientUnits="userSpaceOnUse" y1="0" y2="0"><stop offset="0" stop-color="#4423b4"/><stop offset=".085" stop-color="#4938d8"/><stop offset=".142" stop-color="#4a3fe3"/><stop offset=".195" stop-color="#4938d8"/><stop offset=".22" stop-color="#482fcb"/><stop offset=".247" stop-color="#4424b5"/><stop offset=".253" stop-color="#4424b5"/><stop offset=".297" stop-color="#4a3fe3"/><stop offset=".315" stop-color="#4451f7"/><stop offset=".333" stop-color="#3463ff"/><stop offset=".345" stop-color="#0874ff"/><stop offset=".375" stop-color="#008ef2"/><stop offset=".42" stop-color="#00a9de"/><stop offset=".467" stop-color="#00b7c6"/><stop offset=".5" stop-color="#00bac0"/><stop offset=".532" stop-color="#00b7c6"/><stop offset=".58" stop-color="#00a9de"/><stop offset=".625" stop-color="#008ef2"/><stop offset=".655" stop-color="#0874ff"/><stop offset=".668" stop-color="#3463ff"/><stop offset=".685" stop-color="#4451f7"/><stop offset=".703" stop-color="#4a3fe3"/><stop offset=".748" stop-color="#4424b5"/><stop offset=".753" stop-color="#4424b5"/><stop offset=".78" stop-color="#482fcb"/><stop offset=".805" stop-color="#4938d8"/><stop offset=".858" stop-color="#4a3fe3"/><stop offset=".915" stop-color="#4938d8"/><stop offset="1" stop-color="#4423b4"/></linearGradient>
<linearGradient id="s37" gradientUnits="userSpaceOnUse" y1="0" y2="0"><stop offset="0" stop-color="#4423b4"/><stop offset=".085" stop-color="#4937d7"/><stop offset=".142" stop-color="#4a3ee1"/><stop offset=".195" stop-color="#4937d7"/><stop offset=".253" stop-color="#4424b5"/><stop offset=".297" stop-color="#4a3ee2"/><stop offset=".318" stop-color="#4452f8"/><stop offset=".333" stop-color="#3961ff"/><stop offset=".335" stop-color="#3364ff"/><stop offset=".348" stop-color="#0874ff"/><stop offset=".38" stop-color="#008ff1"/><stop offset=".425" stop-color="#00a8df"/><stop offset=".463" stop-color="#00b4ce"/><stop offset=".5" stop-color="#00b7c6"/><stop offset=".537" stop-color="#00b4ce"/><stop offset=".575" stop-color="#00a8df"/><stop offset=".62" stop-color="#008ff1"/><stop offset=".653" stop-color="#0874ff"/><stop offset=".665" stop-color="#3364ff"/><stop offset=".668" stop-color="#3961ff"/><stop offset=".682" stop-color="#4452f8"/><stop offset=".703" stop-color="#4a3ee2"/><stop offset=".748" stop-color="#4424b5"/><stop offset=".805" stop-color="#4937d7"/><stop offset=".858" stop-color="#4a3ee1"/><stop offset=".915" stop-color="#4937d7"/><stop offset="1" stop-color="#4423b4"/></linearGradient>
<linearGradient id="s36" gradientUnits="userSpaceOnUse" y1="0" y2="0"><stop offset="0" stop-color="#4423b4"/><stop offset=".085" stop-color="#4937d6"/><stop offset=".142" stop-color="#4a3de0"/><stop offset=".195" stop-color="#4936d6"/><stop offset=".253" stop-color="#4424b5"/><stop offset=".3" stop-color="#4a3fe3"/><stop offset=".32" stop-color="#4453f8"/><stop offset=".335" stop-color="#3861ff"/><stop offset=".35" stop-color="#0874ff"/><stop offset=".383" stop-color="#008ff2"/><stop offset=".423" stop-color="#00a4e2"/><stop offset=".467" stop-color="#00b2d1"/><stop offset=".5" stop-color="#00b5cc"/><stop offset=".532" stop-color="#00b2d1"/><stop offset=".578" stop-color="#00a4e2"/><stop offset=".618" stop-color="#008ff2"/><stop offset=".65" stop-color="#0874ff"/><stop offset=".665" stop-color="#3861ff"/><stop offset=".68" stop-color="#4453f8"/><stop offset=".7" stop-color="#4a3fe3"/><stop offset=".748" stop-color="#4424b5"/><stop offset=".805" stop-color="#4936d6"/><stop offset=".858" stop-color="#4a3de0"/><stop offset=".915" stop-color="#4937d6"/><stop offset="1" stop-color="#4423b4"/></linearGradient>
<linearGradient id="s35" gradientUnits="userSpaceOnUse" y1="0" y2="0"><stop offset="0" stop-color="#4423b4"/><stop offset=".085" stop-color="#4936d5"/><stop offset=".142" stop-color="#4a3cdf"/><stop offset=".195" stop-color="#4936d5"/><stop offset=".253" stop-color="#4424b5"/><stop offset=".3" stop-color="#4a3ee2"/><stop offset=".32" stop-color="#4451f7"/><stop offset=".338" stop-color="#3862ff"/><stop offset=".353" stop-color="#0874ff"/><stop offset=".385" stop-color="#008ef2"/><stop offset=".423" stop-color="#00a1e4"/><stop offset=".46" stop-color="#00aed7"/><stop offset=".5" stop-color="#00b2d1"/><stop offset=".54" stop-color="#00aed7"/><stop offset=".578" stop-color="#00a1e4"/><stop offset=".615" stop-color="#008ef2"/><stop offset=".648" stop-color="#0874ff"/><stop offset=".662" stop-color="#3862ff"/><stop offset=".68" stop-color="#4451f7"/><stop offset=".7" stop-color="#4a3ee2"/><stop offset=".748" stop-color="#4424b5"/><stop offset=".805" stop-color="#4936d5"/><stop offset=".858" stop-color="#4a3cdf"/><stop offset=".915" stop-color="#4936d5"/><stop offset="1" stop-color="#4423b4"/></linearGradient>
<linearGradient id="s34" gradientUnits="userSpaceOnUse" y1="0" y2="0"><stop offset="0" stop-color="#4423b4"/><stop offset=".085" stop-color="#4935d5"/><stop offset=".142" stop-color="#4a3bde"/><stop offset=".195" stop-color="#4935d4"/><stop offset=".253" stop-color="#4424b5"/><stop offset=".303" stop-color="#4a3fe3"/><stop offset=".323" stop-color="#4452f8"/><stop offset=".34" stop-color="#3862ff"/><stop offset=".355" stop-color="#0974ff"/><stop offset=".358" stop-color="#0776fe"/><stop offset=".39" stop-color="#008ef2"/><stop offset=".425" stop-color="#00a0e5"/><stop offset=".463" stop-color="#00abdb"/><stop offset=".5" stop-color="#00afd5"/><stop offset=".537" stop-color="#00abdb"/><stop offset=".575" stop-color="#00a0e5"/><stop offset=".61" stop-color="#008ef2"/><stop offset=".643" stop-color="#0776fe"/><stop offset=".645" stop-color="#0974ff"/><stop offset=".66" stop-color="#3862ff"/><stop offset=".677" stop-color="#4452f8"/><stop offset=".698" stop-color="#4a3fe3"/><stop offset=".748" stop-color="#4424b5"/><stop offset=".805" stop-color="#4935d4"/><stop offset=".858" stop-color="#4a3bde"/><stop offset=".915" stop-color="#4935d5"/><stop offset="1" stop-color="#4423b4"/></linearGradient>
<linearGradient id="s33" gradientUnits="userSpaceOnUse" y1="0" y2="0"><stop offset="0" stop-color="#4423b4"/><stop offset=".085" stop-color="#4935d4"/><stop offset=".142" stop-color="#4a3bdd"/><stop offset=".195" stop-color="#4935d3"/><stop offset=".253" stop-color="#4423b5"/><stop offset=".303" stop-color="#4a3ee2"/><stop offset=".325" stop-color="#4452f8"/><stop offset=".343" stop-color="#3862ff"/><stop offset=".358" stop-color="#0a73ff"/><stop offset=".36" stop-color="#0875fe"/><stop offset=".395" stop-color="#008ff2"/><stop offset=".425" stop-color="#009de7"/><stop offset=".465" stop-color="#00a9de"/><stop offset=".5" stop-color="#00acda"/><stop offset=".535" stop-color="#00a9de"/><stop offset=".575" stop-color="#009de7"/><stop offset=".605" stop-color="#008ff2"/><stop offset=".64" stop-color="#0875fe"/><stop offset=".643" stop-color="#0a73ff"/><stop offset=".657" stop-color="#3862ff"/><stop offset=".675" stop-color="#4452f8"/><stop offset=".698" stop-color="#4a3ee2"/><stop offset=".748" stop-color="#4423b5"/><stop offset=".805" stop-color="#4935d3"/><stop offset=".858" stop-color="#4a3bdd"/><stop offset=".915" stop-color="#4935d4"/><stop offset="1" stop-color="#4423b4"/></linearGradient>
<linearGradient id="s32" gradientUnits="userSpaceOnUse" y1="0" y2="0"><stop offset="0" stop-color="#4423b4"/><stop offset=".085" stop-color="#4934d3"/><stop offset=".142" stop-color="#493adb"/><stop offset=".195" stop-color="#4934d2"/><stop offset=".253" stop-color="#4423b5"/><stop offset=".305" stop-color="#4a3fe3"/><stop offset=".328" stop-color="#4452f8"/><stop offset=".345" stop-color="#3862ff"/><stop offset=".362" stop-color="#0875ff"/><stop offset=".4" stop-color="#008ef2"/><stop offset=".43" stop-color="#009ce8"/><stop offset=".465" stop-color="#00a6e1"/><stop offset=".5" stop-color="#00a9de"/><stop offset=".535" stop-color="#00a6e1"/><stop offset=".57" stop-color="#009ce8"/><stop offset=".6" stop-color="#008ef2"/><stop offset=".637" stop-color="#0875ff"/><stop offset=".655" stop-color="#3862ff"/><stop offset=".673" stop-color="#4452f8"/><stop offset=".695" stop-color="#4a3fe3"/><stop offset=".748" stop-color="#4423b5"/><stop offset=".805" stop-color="#4934d2"/><stop offset=".858" stop-color="#493adb"/><stop offset=".915" stop-color="#4934d3"/><stop offset="1" stop-color="#4423b4"/></linearGradient>
<linearGradient id="s31" gradientUnits="userSpaceOnUse" y1="0" y2="0"><stop offset="0" stop-color="#4423b4"/><stop offset=".085" stop-color="#4934d2"/><stop offset=".142" stop-color="#4939da"/><stop offset=".195" stop-color="#4833d1"/><stop offset=".253" stop-color="#4423b5"/><stop offset=".305" stop-color="#4a3ee2"/><stop offset=".33" stop-color="#4453f8"/><stop offset=".348" stop-color="#3862ff"/><stop offset=".365" stop-color="#0874ff"/><stop offset=".405" stop-color="#008ef2"/><stop offset=".43" stop-color="#0099ea"/><stop offset=".465" stop-color="#00a2e3"/><stop offset=".5" stop-color="#00a6e1"/><stop offset=".535" stop-color="#00a2e3"/><stop offset=".57" stop-color="#0099ea"/><stop offset=".595" stop-color="#008ef2"/><stop offset=".635" stop-color="#0874ff"/><stop offset=".653" stop-color="#3862ff"/><stop offset=".67" stop-color="#4453f8"/><stop offset=".695" stop-color="#4a3ee2"/><stop offset=".748" stop-color="#4423b5"/><stop offset=".805" stop-color="#4833d1"/><stop offset=".858" stop-color="#4939da"/><stop offset=".915" stop-color="#4934d2"/><stop offset="1" stop-color="#4423b4"/></linearGradient>
<linearGradient id="s30" gradientUnits="userSpaceOnUse" y1="0" y2="0"><stop offset="0" stop-color="#4423b4"/><stop offset=".085" stop-color="#4833d1"/><stop offset=".142" stop-color="#4938d9"/><stop offset=".195" stop-color="#4833d1"/><stop offset=".253" stop-color="#4423b5"/><stop offset=".307" stop-color="#4a3ee2"/><stop offset=".333" stop-color="#4353f8"/><stop offset=".35" stop-color="#3961ff"/><stop offset=".37" stop-color="#0875ff"/><stop offset=".41" stop-color="#008ef2"/><stop offset=".432" stop-color="#0097ec"/><stop offset=".5" stop-color="#00a2e3"/><stop offset=".568" stop-color="#0097ec"/><stop offset=".59" stop-color="#008ef2"/><stop offset=".63" stop-color="#0875ff"/><stop offset=".65" stop-color="#3961ff"/><stop offset=".668" stop-color="#4353f8"/><stop offset=".693" stop-color="#4a3ee2"/><stop offset=".748" stop-color="#4423b5"/><stop offset=".805" stop-color="#4833d1"/><stop offset=".858" stop-color="#4938d9"/><stop offset=".915" stop-color="#4833d1"/><stop offset="1" stop-color="#4423b4"/></linearGradient>
<linearGradient id="s29" gradientUnits="userSpaceOnUse" y1="0" y2="0"><stop offset="0" stop-color="#4423b4"/><stop offset=".085" stop-color="#4832d0"/><stop offset=".142" stop-color="#4937d8"/><stop offset=".195" stop-color="#4832d0"/><stop offset=".253" stop-color="#4423b5"/><stop offset=".31" stop-color="#4a3fe3"/><stop offset=".335" stop-color="#4453f8"/><stop offset=".355" stop-color="#3663ff"/><stop offset=".372" stop-color="#0874ff"/><stop offset=".432" stop-color="#0093ee"/><stop offset=".5" stop-color="#009fe6"/><stop offset=".568" stop-color="#0093ee"/><stop offset=".628" stop-color="#0874ff"/><stop offset=".645" stop-color="#3663ff"/><stop offset=".665" stop-color="#4453f8"/><stop offset=".69" stop-color="#4a3fe3"/><stop offset=".748" stop-color="#4423b5"/><stop offset=".805" stop-color="#4832d0"/><stop offset=".858" stop-color="#4937d8"/><stop offset=".915" stop-color="#4832d0"/><stop offset="1" stop-color="#4423b4"/></linearGradient>
<linearGradient id="s28" gradientUnits="userSpaceOnUse" y1="0" y2="0"><stop offset="0" stop-color="#4423b4"/><stop offset=".085" stop-color="#4832cf"/><stop offset=".142" stop-color="#4937d7"/><stop offset=".195" stop-color="#4832cf"/><stop offset=".253" stop-color="#4423b5"/><stop offset=".31" stop-color="#4a3ee1"/><stop offset=".338" stop-color="#4452f8"/><stop offset=".358" stop-color="#3862ff"/><stop offset=".378" stop-color="#0874ff"/><stop offset=".432" stop-color="#0090f0"/><stop offset=".5" stop-color="#009ce8"/><stop offset=".568" stop-color="#0090f0"/><stop offset=".623" stop-color="#0874ff"/><stop offset=".643" stop-color="#3862ff"/><stop offset=".662" stop-color="#4452f8"/><stop offset=".69" stop-color="#4a3ee1"/><stop offset=".748" stop-color="#4423b5"/><stop offset=".805" stop-color="#4832cf"/><stop offset=".858" stop-color="#4937d7"/><stop offset=".915" stop-color="#4832cf"/><stop offset="1" stop-color="#4423b4"/></linearGradient>
<linearGradient id="s27" gradientUnits="userSpaceOnUse" y1="0" y2="0"><stop offset="0" stop-color="#4423b4"/><stop offset=".085" stop-color="#4831ce"/><stop offset=".142" stop-color="#4936d5"/><stop offset=".195" stop-color="#4831ce"/><stop offset=".253" stop-color="#4423b5"/><stop offset=".312" stop-color="#4a3ee2"/><stop offset=".34" stop-color="#4452f8"/><stop offset=".36" stop-color="#3961fe"/><stop offset=".383" stop-color="#0874ff"/><stop offset=".435" stop-color="#008ef2"/><stop offset=".5" stop-color="#0098eb"/><stop offset=".565" stop-color="#008ef2"/><stop offset=".618" stop-color="#0874ff"/><stop offset=".64" stop-color="#3961fe"/><stop offset=".66" stop-color="#4452f8"/><stop offset=".688" stop-color="#4a3ee2"/><stop offset=".748" stop-color="#4423b5"/><stop offset=".805" stop-color="#4831ce"/><stop offset=".858" stop-color="#4936d5"/><stop offset=".915" stop-color="#4831ce"/><stop offset="1" stop-color="#4423b4"/></linearGradient>
<linearGradient id="s26" gradientUnits="userSpaceOnUse" y1="0" y2="0"><stop offset="0" stop-color="#4423b4"/><stop offset=".085" stop-color="#4831cd"/><stop offset=".142" stop-color="#4935d4"/><stop offset=".195" stop-color="#4831cd"/><stop offset=".253" stop-color="#4423b4"/><stop offset=".315" stop-color="#4a3ee2"/><stop offset=".343" stop-color="#4452f8"/><stop offset=".365" stop-color="#3861ff"/><stop offset=".388" stop-color="#0874ff"/><stop offset=".445" stop-color="#008ef2"/><stop offset=".5" stop-color="#0095ed"/><stop offset=".555" stop-color="#008ef2"/><stop offset=".613" stop-color="#0874ff"/><stop offset=".635" stop-color="#3861ff"/><stop offset=".657" stop-color="#4452f8"/><stop offset=".685" stop-color="#4a3ee2"/><stop offset=".748" stop-color="#4423b4"/><stop offset=".805" stop-color="#4831cd"/><stop offset=".858" stop-color="#4935d4"/><stop offset=".915" stop-color="#4831cd"/><stop offset="1" stop-color="#4423b4"/></linearGradient>
<linearGradient id="s25" gradientUnits="userSpaceOnUse" y1="0" y2="0"><stop offset="0" stop-color="#4423b4"/><stop offset=".085" stop-color="#4830cc"/><stop offset=".142" stop-color="#4934d3"/><stop offset=".195" stop-color="#4830cc"/><stop offset=".253" stop-color="#4423b4"/><stop offset=".318" stop-color="#4a3ee2"/><stop offset=".348" stop-color="#4353f8"/><stop offset=".37" stop-color="#3862ff"/><stop offset=".393" stop-color="#0974ff"/><stop offset=".395" stop-color="#0875fe"/><stop offset=".453" stop-color="#018cf3"/><stop offset=".5" stop-color="#0091f0"/><stop offset=".548" stop-color="#018cf3"/><stop offset=".605" stop-color="#0875fe"/><stop offset=".608" stop-color="#0974ff"/><stop offset=".63" stop-color="#3862ff"/><stop offset=".653" stop-color="#4353f8"/><stop offset=".682" stop-color="#4a3ee2"/><stop offset=".748" stop-color="#4423b4"/><stop offset=".805" stop-color="#4830cc"/><stop offset=".858" stop-color="#4934d3"/><stop offset=".915" stop-color="#4830cc"/><stop offset="1" stop-color="#4423b4"/></linearGradient>
<linearGradient id="s24" gradientUnits="userSpaceOnUse" y1="0" y2="0"><stop offset="0" stop-color="#4423b4"/><stop offset=".087" stop-color="#4830cc"/><stop offset=".142" stop-color="#4934d2"/><stop offset=".192" stop-color="#4830cc"/><stop offset=".253" stop-color="#4423b4"/><stop offset=".32" stop-color="#4a3ee2"/><stop offset=".35" stop-color="#4452f8"/><stop offset=".375" stop-color="#3862ff"/><stop offset=".4" stop-color="#0874ff"/><stop offset=".453" stop-color="#0288f5"/><stop offset=".5" stop-color="#008ef2"/><stop offset=".548" stop-color="#0288f5"/><stop offset=".6" stop-color="#0874ff"/><stop offset=".625" stop-color="#3862ff"/><stop offset=".65" stop-color="#4452f8"/><stop offset=".68" stop-color="#4a3ee2"/><stop offset=".748" stop-color="#4423b4"/><stop offset=".808" stop-color="#4830cc"/><stop offset=".858" stop-color="#4934d2"/><stop offset=".912" stop-color="#4830cc"/><stop offset="1" stop-color="#4423b4"/></linearGradient>
<linearGradient id="s23" gradientUnits="userSpaceOnUse" y1="0" y2="0"><stop offset="0" stop-color="#4423b4"/><stop offset=".09" stop-color="#4830cb"/><stop offset=".142" stop-color="#4833d1"/><stop offset=".192" stop-color="#482fcb"/><stop offset=".253" stop-color="#4423b4"/><stop offset=".323" stop-color="#4a3ee2"/><stop offset=".355" stop-color="#4452f8"/><stop offset=".372" stop-color="#3c5dfd"/><stop offset=".383" stop-color="#3563ff"/><stop offset=".408" stop-color="#0874ff"/><stop offset=".455" stop-color="#0384f7"/><stop offset=".5" stop-color="#0189f4"/><stop offset=".545" stop-color="#0384f7"/><stop offset=".593" stop-color="#0874ff"/><stop offset=".618" stop-color="#3563ff"/><stop offset=".628" stop-color="#3c5dfd"/><stop offset=".645" stop-color="#4452f8"/><stop offset=".677" stop-color="#4a3ee2"/><stop offset=".748" stop-color="#4423b4"/><stop offset=".808" stop-color="#482fcb"/><stop offset=".858" stop-color="#4833d1"/><stop offset=".91" stop-color="#4830cb"/><stop offset="1" stop-color="#4423b4"/></linearGradient>
<linearGradient id="s22" gradientUnits="userSpaceOnUse" y1="0" y2="0"><stop offset="0" stop-color="#4423b4"/><stop offset=".09" stop-color="#482fca"/><stop offset=".142" stop-color="#4832cf"/><stop offset=".192" stop-color="#482fca"/><stop offset=".253" stop-color="#4423b4"/><stop offset=".325" stop-color="#4a3ee2"/><stop offset=".36" stop-color="#4353f8"/><stop offset=".388" stop-color="#3762ff"/><stop offset=".417" stop-color="#0875ff"/><stop offset=".46" stop-color="#0481f9"/><stop offset=".5" stop-color="#0385f7"/><stop offset=".54" stop-color="#0481f9"/><stop offset=".583" stop-color="#0875ff"/><stop offset=".613" stop-color="#3762ff"/><stop offset=".64" stop-color="#4353f8"/><stop offset=".675" stop-color="#4a3ee2"/><stop offset=".748" stop-color="#4423b4"/><stop offset=".808" stop-color="#482fca"/><stop offset=".858" stop-color="#4832cf"/><stop offset=".91" stop-color="#482fca"/><stop offset="1" stop-color="#4423b4"/></linearGradient>
<linearGradient id="s21" gradientUnits="userSpaceOnUse" y1="0" y2="0"><stop offset="0" stop-color="#4423b4"/><stop offset=".09" stop-color="#482ec9"/><stop offset=".142" stop-color="#4831ce"/><stop offset=".192" stop-color="#472ec9"/><stop offset=".253" stop-color="#4423b4"/><stop offset=".33" stop-color="#4a3fe3"/><stop offset=".362" stop-color="#4451f7"/><stop offset=".393" stop-color="#3961ff"/><stop offset=".428" stop-color="#0874ff"/><stop offset=".5" stop-color="#0481f9"/><stop offset=".573" stop-color="#0874ff"/><stop offset=".608" stop-color="#3961ff"/><stop offset=".637" stop-color="#4451f7"/><stop offset=".67" stop-color="#4a3fe3"/><stop offset=".748" stop-color="#4423b4"/><stop offset=".808" stop-color="#472ec9"/><stop offset=".858" stop-color="#4831ce"/><stop offset=".91" stop-color="#482ec9"/><stop offset="1" stop-color="#4423b4"/></linearGradient>
<linearGradient id="s20" gradientUnits="userSpaceOnUse" y1="0" y2="0"><stop offset="0" stop-color="#4423b4"/><stop offset=".09" stop-color="#472ec8"/><stop offset=".142" stop-color="#4831cd"/><stop offset=".192" stop-color="#472ec8"/><stop offset=".253" stop-color="#4423b4"/><stop offset=".333" stop-color="#4a3ee2"/><stop offset=".37" stop-color="#4452f8"/><stop offset=".403" stop-color="#3762ff"/><stop offset=".44" stop-color="#0874ff"/><stop offset=".5" stop-color="#057cfb"/><stop offset=".56" stop-color="#0874ff"/><stop offset=".598" stop-color="#3762ff"/><stop offset=".63" stop-color="#4452f8"/><stop offset=".668" stop-color="#4a3ee2"/><stop offset=".748" stop-color="#4423b4"/><stop offset=".808" stop-color="#472ec8"/><stop offset=".858" stop-color="#4831cd"/><stop offset=".91" stop-color="#472ec8"/><stop offset="1" stop-color="#4423b4"/></linearGradient>
<linearGradient id="s19" gradientUnits="userSpaceOnUse" y1="0" y2="0"><stop offset="0" stop-color="#4423b4"/><stop offset=".09" stop-color="#472dc7"/><stop offset=".142" stop-color="#4830cc"/><stop offset=".192" stop-color="#472dc6"/><stop offset=".253" stop-color="#4423b4"/><stop offset=".338" stop-color="#4a3fe3"/><stop offset=".375" stop-color="#4452f8"/><stop offset=".41" stop-color="#3861ff"/><stop offset=".438" stop-color="#196eff"/><stop offset=".458" stop-color="#0874ff"/><stop offset=".5" stop-color="#0778fd"/><stop offset=".543" stop-color="#0874ff"/><stop offset=".562" stop-color="#196eff"/><stop offset=".59" stop-color="#3861ff"/><stop offset=".625" stop-color="#4452f8"/><stop offset=".662" stop-color="#4a3fe3"/><stop offset=".748" stop-color="#4423b4"/><stop offset=".808" stop-color="#472dc6"/><stop offset=".858" stop-color="#4830cc"/><stop offset=".91" stop-color="#472dc7"/><stop offset="1" stop-color="#4423b4"/></linearGradient>
<linearGradient id="s18" gradientUnits="userSpaceOnUse" y1="0" y2="0"><stop offset="0" stop-color="#4423b4"/><stop offset=".09" stop-color="#472dc6"/><stop offset=".142" stop-color="#482fca"/><stop offset=".192" stop-color="#472cc5"/><stop offset=".253" stop-color="#4423b4"/><stop offset=".343" stop-color="#4a3fe3"/><stop offset=".383" stop-color="#4452f8"/><stop offset=".423" stop-color="#3862ff"/><stop offset=".463" stop-color="#156fff"/><stop offset=".5" stop-color="#0a73ff"/><stop offset=".537" stop-color="#156fff"/><stop offset=".578" stop-color="#3862ff"/><stop offset=".618" stop-color="#4452f8"/><stop offset=".657" stop-color="#4a3fe3"/><stop offset=".748" stop-color="#4423b4"/><stop offset=".808" stop-color="#472cc5"/><stop offset=".858" stop-color="#482fca"/><stop offset=".91" stop-color="#472dc6"/><stop offset="1" stop-color="#4423b4"/></linearGradient>
<linearGradient id="s17" gradientUnits="userSpaceOnUse" y1="0" y2="0"><stop offset="0" stop-color="#4423b4"/><stop offset=".09" stop-color="#472cc5"/><stop offset=".142" stop-color="#482ec9"/><stop offset=".192" stop-color="#472cc4"/><stop offset=".253" stop-color="#4423b4"/><stop offset=".345" stop-color="#4a3ee2"/><stop offset=".39" stop-color="#4452f8"/><stop offset=".44" stop-color="#3663ff"/><stop offset=".473" stop-color="#216bff"/><stop offset=".505" stop-color="#1b6dff"/><stop offset=".532" stop-color="#236aff"/><stop offset=".562" stop-color="#3862ff"/><stop offset=".608" stop-color="#4353f8"/><stop offset=".655" stop-color="#4a3ee2"/><stop offset=".748" stop-color="#4423b4"/><stop offset=".808" stop-color="#472cc4"/><stop offset=".858" stop-color="#482ec9"/><stop offset=".91" stop-color="#472cc5"/><stop offset="1" stop-color="#4423b4"/></linearGradient>
<linearGradient id="s16" gradientUnits="userSpaceOnUse" y1="0" y2="0"><stop offset="0" stop-color="#4423b4"/><stop offset=".09" stop-color="#472cc4"/><stop offset=".142" stop-color="#472ec8"/><stop offset=".192" stop-color="#472bc3"/><stop offset=".253" stop-color="#4423b4"/><stop offset=".35" stop-color="#4a3ee2"/><stop offset=".4" stop-color="#4452f8"/><stop offset=".46" stop-color="#3862ff"/><stop offset=".483" stop-color="#2e66ff"/><stop offset=".505" stop-color="#2c66ff"/><stop offset=".552" stop-color="#3a60fe"/><stop offset=".6" stop-color="#4452f8"/><stop offset=".65" stop-color="#4a3ee2"/><stop offset=".748" stop-color="#4423b4"/><stop offset=".808" stop-color="#472bc3"/><stop offset=".858" stop-color="#472ec8"/><stop offset=".91" stop-color="#472cc4"/><stop offset="1" stop-color="#4423b4"/></linearGradient>
<linearGradient id="s15" gradientUnits="userSpaceOnUse" y1="0" y2="0"><stop offset="0" stop-color="#4423b4"/><stop offset=".092" stop-color="#472bc3"/><stop offset=".142" stop-color="#472dc7"/><stop offset=".192" stop-color="#462bc2"/><stop offset=".253" stop-color="#4423b4"/><stop offset=".358" stop-color="#4a3ee2"/><stop offset=".412" stop-color="#4452f8"/><stop offset=".458" stop-color="#3c5dfd"/><stop offset=".5" stop-color="#3960fe"/><stop offset=".543" stop-color="#3c5dfd"/><stop offset=".588" stop-color="#4452f8"/><stop offset=".643" stop-color="#4a3ee2"/><stop offset=".748" stop-color="#4423b4"/><stop offset=".808" stop-color="#462bc2"/><stop offset=".858" stop-color="#472dc7"/><stop offset=".908" stop-color="#472bc3"/><stop offset="1" stop-color="#4423b4"/></linearGradient>
<linearGradient id="s14" gradientUnits="userSpaceOnUse" y1="0" y2="0"><stop offset="0" stop-color="#4423b4"/><stop offset=".142" stop-color="#472cc5"/><stop offset=".192" stop-color="#462ac1"/><stop offset=".253" stop-color="#4423b4"/><stop offset=".365" stop-color="#4a3ee2"/><stop offset=".42" stop-color="#4550f6"/><stop offset=".5" stop-color="#3d5bfc"/><stop offset=".58" stop-color="#4550f6"/><stop offset=".635" stop-color="#4a3ee2"/><stop offset=".748" stop-color="#4423b4"/><stop offset=".808" stop-color="#462ac1"/><stop offset=".858" stop-color="#472cc5"/><stop offset="1" stop-color="#4423b4"/></linearGradient>
<linearGradient id="s13" gradientUnits="userSpaceOnUse" y1="0" y2="0"><stop offset="0" stop-color="#4423b4"/><stop offset=".142" stop-color="#472cc4"/><stop offset=".192" stop-color="#462ac0"/><stop offset=".253" stop-color="#4423b4"/><stop offset=".372" stop-color="#4a3ee2"/><stop offset=".417" stop-color="#464bf1"/><stop offset=".45" stop-color="#4452f8"/><stop offset=".5" stop-color="#4156fa"/><stop offset=".55" stop-color="#4452f8"/><stop offset=".583" stop-color="#464bf1"/><stop offset=".628" stop-color="#4a3ee2"/><stop offset=".748" stop-color="#4423b4"/><stop offset=".808" stop-color="#462ac0"/><stop offset=".858" stop-color="#472cc4"/><stop offset="1" stop-color="#4423b4"/></linearGradient>
<linearGradient id="s12" gradientUnits="userSpaceOnUse" y1="0" y2="0"><stop offset="0" stop-color="#4423b4"/><stop offset=".142" stop-color="#462bc3"/><stop offset=".192" stop-color="#4629bf"/><stop offset=".253" stop-color="#4423b4"/><stop offset=".383" stop-color="#4a3ee2"/><stop offset=".412" stop-color="#4846eb"/><stop offset=".458" stop-color="#454ff4"/><stop offset=".5" stop-color="#4451f7"/><stop offset=".543" stop-color="#454ff4"/><stop offset=".588" stop-color="#4846eb"/><stop offset=".618" stop-color="#4a3ee2"/><stop offset=".748" stop-color="#4423b4"/><stop offset=".808" stop-color="#4629bf"/><stop offset=".858" stop-color="#462bc3"/><stop offset="1" stop-color="#4423b4"/></linearGradient>
<linearGradient id="s11" gradientUnits="userSpaceOnUse" y1="0" y2="0"><stop offset="0" stop-color="#4423b4"/><stop offset=".142" stop-color="#462ac1"/><stop offset=".255" stop-color="#4423b4"/><stop offset=".41" stop-color="#4941e6"/><stop offset=".5" stop-color="#464cf2"/><stop offset=".59" stop-color="#4941e6"/><stop offset=".745" stop-color="#4423b4"/><stop offset=".858" stop-color="#462ac1"/><stop offset="1" stop-color="#4423b4"/></linearGradient>
<linearGradient id="s10" gradientUnits="userSpaceOnUse" y1="0" y2="0"><stop offset="0" stop-color="#4423b4"/><stop offset=".142" stop-color="#4629c0"/><stop offset=".255" stop-color="#4423b4"/><stop offset=".41" stop-color="#4a3de1"/><stop offset=".5" stop-color="#4747ec"/><stop offset=".59" stop-color="#4a3de1"/><stop offset=".745" stop-color="#4423b4"/><stop offset=".858" stop-color="#4629c0"/><stop offset="1" stop-color="#4423b4"/></linearGradient>
<linearGradient id="s9" gradientUnits="userSpaceOnUse" y1="0" y2="0"><stop offset="0" stop-color="#4423b4"/><stop offset=".142" stop-color="#4629bf"/><stop offset=".255" stop-color="#4423b4"/><stop offset=".41" stop-color="#4a3bdd"/><stop offset=".5" stop-color="#4942e7"/><stop offset=".59" stop-color="#4a3bdd"/><stop offset=".745" stop-color="#4423b4"/><stop offset=".858" stop-color="#4629bf"/><stop offset="1" stop-color="#4423b4"/></linearGradient>
<linearGradient id="s8" gradientUnits="userSpaceOnUse" y1="0" y2="0"><stop offset="0" stop-color="#4423b4"/><stop offset=".142" stop-color="#4628bd"/><stop offset=".255" stop-color="#4423b4"/><stop offset=".41" stop-color="#4938d8"/><stop offset=".5" stop-color="#4a3de1"/><stop offset=".59" stop-color="#4938d8"/><stop offset=".745" stop-color="#4423b4"/><stop offset=".858" stop-color="#4628bd"/><stop offset="1" stop-color="#4423b4"/></linearGradient>
<linearGradient id="s7" gradientUnits="userSpaceOnUse" y1="0" y2="0"><stop offset="0" stop-color="#4423b4"/><stop offset=".142" stop-color="#4527bc"/><stop offset=".258" stop-color="#4423b4"/><stop offset=".408" stop-color="#4935d4"/><stop offset=".5" stop-color="#493adc"/><stop offset=".593" stop-color="#4935d4"/><stop offset=".743" stop-color="#4423b4"/><stop offset=".858" stop-color="#4527bc"/><stop offset="1" stop-color="#4423b4"/></linearGradient>
<linearGradient id="s6" gradientUnits="userSpaceOnUse" y1="0" y2="0"><stop offset="0" stop-color="#4423b4"/><stop offset=".142" stop-color="#4527bb"/><stop offset=".258" stop-color="#4423b4"/><stop offset=".408" stop-color="#4832cf"/><stop offset=".5" stop-color="#4936d6"/><stop offset=".593" stop-color="#4832cf"/><stop offset=".743" stop-color="#4423b4"/><stop offset=".858" stop-color="#4527bb"/><stop offset="1" stop-color="#4423b4"/></linearGradient>
<linearGradient id="s5" gradientUnits="userSpaceOnUse" y1="0" y2="0"><stop offset="0" stop-color="#4423b4"/><stop offset=".142" stop-color="#4526b9"/><stop offset=".258" stop-color="#4423b4"/><stop offset=".417" stop-color="#4830cc"/><stop offset=".5" stop-color="#4833d1"/><stop offset=".583" stop-color="#4830cc"/><stop offset=".743" stop-color="#4423b4"/><stop offset=".858" stop-color="#4526b9"/><stop offset="1" stop-color="#4423b4"/></linearGradient>
<linearGradient id="s4" gradientUnits="userSpaceOnUse" y1="0" y2="0"><stop offset="0" stop-color="#4423b4"/><stop offset=".142" stop-color="#4525b8"/><stop offset=".26" stop-color="#4423b4"/><stop offset=".415" stop-color="#472dc7"/><stop offset=".5" stop-color="#482fcb"/><stop offset=".585" stop-color="#472dc7"/><stop offset=".74" stop-color="#4423b4"/><stop offset=".858" stop-color="#4525b8"/><stop offset="1" stop-color="#4423b4"/></linearGradient>
<linearGradient id="s3" gradientUnits="userSpaceOnUse" y1="0" y2="0"><stop offset="0" stop-color="#4423b4"/><stop offset=".265" stop-color="#4423b4"/><stop offset=".5" stop-color="#472cc5"/><stop offset=".735" stop-color="#4423b4"/><stop offset="1" stop-color="#4423b4"/></linearGradient>
<linearGradient id="s2" gradientUnits="userSpaceOnUse" y1="0" y2="0"><stop offset="0" stop-color="#4423b4"/><stop offset=".27" stop-color="#4423b4"/><stop offset=".5" stop-color="#4629bf"/><stop offset=".73" stop-color="#4423b4"/><stop offset="1" stop-color="#4423b4"/></linearGradient>
<linearGradient id="s1" gradientUnits="userSpaceOnUse" y1="0" y2="0"><stop offset="0" stop-color="#4423b4"/><stop offset=".5" stop-color="#4526b9"/><stop offset="1" stop-color="#4423b4"/></linearGradient>
<linearGradient id="r0" href="#s1" x1="2131" x2="3494"/>
<linearGradient id="r1" href="#s2" x1="2121" x2="3484"/>
<linearGradient id="r2" href="#s3" x1="2111" x2="3474"/>
<linearGradient id="r3" href="#s3" x1="2096" x2="3459"/>
<linearGradient id="r4" href="#s3" x1="2088" x2="3451"/>
<linearGradient id="r5" href="#s3" x1="2081" x2="3444"/>
<linearGradient id="r6" href="#s3" x1="2066" x2="3429"/>
<linearGradient id="r7" href="#s1" x1="2051" x2="3414"/>
<linearGradient id="r9" href="#s1" x1="2033" x2="3395"/>
<linearGradient id="r10" href="#s2" x1="2024" x2="3386"/>
<linearGradient id="r11" href="#s3" x1="2015" x2="3378"/>
<linearGradient id="r12" href="#s4" x1="2000" x2="3363"/>
<linearGradient id="r13" href="#s4" x1="1991" x2="3354"/>
<linearGradient id="r14" href="#s4" x1="1982" x2="3345"/>
<linearGradient id="r15" href="#s3" x1="1967" x2="3330"/>
<linearGradient id="r16" href="#s2" x1="1959" x2="3321"/>
<linearGradient id="r17" href="#s1" x1="1950" x2="3313"/>
<linearGradient id="r19" href="#s1" x1="1934" x2="3297"/>
<linearGradient id="r20" href="#s2" x1="1926" x2="3289"/>
<linearGradient id="r21" href="#s3" x1="1919" x2="3281"/>
<linearGradient id="r22" href="#s4" x1="1908" x2="3271"/>
<linearGradient id="r23" href="#s4" x1="1898" x2="3261"/>
<linearGradient id="r24" href="#s4" x1="1883" x2="3246"/>
<linearGradient id="r25" href="#s3" x1="1869" x2="3232"/>
<linearGradient id="r26" href="#s2" x1="1859" x2="3222"/>
<linearGradient id="r27" href="#s1" x1="1850" x2="3212"/>
<linearGradient id="r28" href="#s1" x1="1836" x2="3199"/>
<linearGradient id="r29" href="#s3" x1="1822" x2="3185"/>
<linearGradient id="r30" href="#s4" x1="1815" x2="3177"/>
<linearGradient id="r31" href="#s5" x1="1807" x2="3170"/>
<linearGradient id="r32" href="#s5" x1="1796" x2="3158"/>
<linearGradient id="r33" href="#s5" x1="1784" x2="3147"/>
<linearGradient id="r34" href="#s4" x1="1773" x2="3136"/>
<linearGradient id="r35" href="#s3" x1="1763" x2="3125"/>
<linearGradient id="r36" href="#s1" x1="1750" x2="3113"/>
<linearGradient id="r37" href="#s1" x1="1739" x2="3102"/>
<linearGradient id="r38" href="#s3" x1="1727" x2="3090"/>
<linearGradient id="r39" href="#s5" x1="1714" x2="3077"/>
<linearGradient id="r40" href="#s6" x1="1706" x2="3069"/>
<linearGradient id="r41" href="#s6" x1="1699" x2="3061"/>
<linearGradient id="r42" href="#s6" x1="1687" x2="3049"/>
<linearGradient id="r43" href="#s5" x1="1673" x2="3036"/>
<linearGradient id="r44" href="#s4" x1="1665" x2="3028"/>
<linearGradient id="r45" href="#s3" x1="1660" x2="3022"/>
<linearGradient id="r46" href="#s1" x1="1650" x2="3013"/>
<linearGradient id="r47" href="#s1" x1="1641" x2="3004"/>
<linearGradient id="r48" href="#s3" x1="1632" x2="2995"/>
<linearGradient id="r49" href="#s5" x1="1623" x2="2985"/>
<linearGradient id="r50" href="#s7" x1="1610" x2="2973"/>
<linearGradient id="r51" href="#s8" x1="1600" x2="2963"/>
<linearGradient id="r52" href="#s8" x1="1596" x2="2958"/>
<linearGradient id="r53" href="#s8" x1="1593" x2="2955"/>
<linearGradient id="r54" href="#s7" x1="1584" x2="2946"/>
<linearGradient id="r55" href="#s6" x1="1574" x2="2937"/>
<linearGradient id="r56" href="#s5" x1="1567" x2="2930"/>
<linearGradient id="r57" href="#s3" x1="1558" x2="2921"/>
<linearGradient id="r58" href="#s1" x1="1550" x2="2913"/>
<linearGradient id="r59" href="#s1" x1="1543" x2="2906"/>
<linearGradient id="r60" href="#s3" x1="1537" x2="2899"/>
<linearGradient id="r61" href="#s5" x1="1529" x2="2892"/>
<linearGradient id="r62" href="#s7" x1="1521" x2="2884"/>
<linearGradient id="r63" href="#s9" x1="1511" x2="2873"/>
<linearGradient id="r64" href="#s10" x1="1499" x2="2862"/>
<linearGradient id="r65" href="#s10" x1="1489" x2="2852"/>
<linearGradient id="r66" href="#s9" x1="1479" x2="2841"/>
<linearGradient id="r67" href="#s7" x1="1469" x2="2832"/>
<linearGradient id="r68" href="#s5" x1="1462" x2="2825"/>
<linearGradient id="r69" href="#s3" x1="1456" x2="2819"/>
<linearGradient id="r70" href="#s1" x1="1451" x2="2814"/>
<linearGradient id="r71" href="#s1" x1="1446" x2="2809"/>
<linearGradient id="r72" href="#s3" x1="1441" x2="2804"/>
<linearGradient id="r73" href="#s5" x1="1436" x2="2799"/>
<linearGradient id="r74" href="#s7" x1="1431" x2="2794"/>
<linearGradient id="r75" href="#s9" x1="1426" x2="2789"/>
<linearGradient id="r76" href="#s11" x1="1421" x2="2783"/>
<linearGradient id="r77" href="#s13" x1="1414" x2="2777"/>
<linearGradient id="r78" href="#s15" x1="1406" x2="2768"/>
<linearGradient id="r79" href="#s16" x1="1396" x2="2759"/>
<linearGradient id="r80" href="#s16" x1="1388" x2="2751"/>
<linearGradient id="r81" href="#s15" x1="1380" x2="2743"/>
<linearGradient id="r82" href="#s13" x1="1373" x2="2735"/>
<linearGradient id="r83" href="#s11" x1="1368" x2="2730"/>
<linearGradient id="r84" href="#s9" x1="1363" x2="2726"/>
<linearGradient id="r85" href="#s7" x1="1360" x2="2723"/>
<linearGradient id="r86" href="#s5" x1="1357" x2="2719"/>
<linearGradient id="r87" href="#s3" x1="1354" x2="2716"/>
<linearGradient id="r88" href="#s1" x1="1351" x2="2714"/>
<linearGradient id="r89" href="#s1" x1="1349" x2="2712"/>
<linearGradient id="r90" href="#s2" x1="1348" x2="2711"/>
<linearGradient id="r91" href="#s3" x1="1347" x2="2709"/>
<linearGradient id="r92" href="#s4" x1="1345" x2="2708"/>
<linearGradient id="r93" href="#s5" x1="1344" x2="2707"/>
<linearGradient id="r94" href="#s6" x1="1343" x2="2706"/>
<linearGradient id="r95" href="#s7" x1="1342" x2="2705"/>
<linearGradient id="r96" href="#s8" x1="1341" x2="2704"/>
<linearGradient id="r97" href="#s9" x1="1340" x2="2703"/>
<linearGradient id="r98" href="#s10" x1="1339" x2="2702"/>
<linearGradient id="r99" href="#s11" x1="1338" x2="2701"/>
<linearGradient id="r100" href="#s12" x1="1337" x2="2700"/>
<linearGradient id="r101" href="#s13" x1="1336" x2="2699"/>
<linearGradient id="r102" href="#s14" x1="1335" x2="2698"/>
<linearGradient id="r103" href="#s15" x1="1334" x2="2697"/>
<linearGradient id="r104" href="#s16" x1="1333" x2="2696"/>
<linearGradient id="r105" href="#s17" x1="1332" x2="2695"/>
<linearGradient id="r106" href="#s18" x1="1331" x2="2694"/>
<linearGradient id="r107" href="#s19" x1="1330" x2="2693"/>
<linearGradient id="r108" href="#s20" x1="1329" x2="2692"/>
<linearGradient id="r109" href="#s21" x1="1328" x2="2691"/>
<linearGradient id="r110" href="#s22" x1="1327" x2="2690"/>
<linearGradient id="r111" href="#s23" x1="1326" x2="2689"/>
<linearGradient id="r112" href="#s24" x1="1326" x2="2688"/>
<linearGradient id="r113" href="#s25" x1="1325" x2="2687"/>
<linearGradient id="r114" href="#s26" x1="1324" x2="2686"/>
<linearGradient id="r115" href="#s27" x1="1323" x2="2686"/>
<linearGradient id="r116" href="#s28" x1="1322" x2="2685"/>
<linearGradient id="r117" href="#s29" x1="1321" x2="2684"/>
<linearGradient id="r118" href="#s30" x1="1320" x2="2683"/>
<linearGradient id="r119" href="#s31" x1="1319" x2="2682"/>
<linearGradient id="r120" href="#s32" x1="1318" x2="2681"/>
<linearGradient id="r121" href="#s33" x1="1317" x2="2680"/>
<linearGradient id="r122" href="#s34" x1="1316" x2="2679"/>
<linearGradient id="r123" href="#s35" x1="1316" x2="2678"/>
<linearGradient id="r124" href="#s36" x1="1315" x2="2677"/>
<linearGradient id="r125" href="#s37" x1="1314" x2="2677"/>
<linearGradient id="r126" href="#s38" x1="1313" x2="2676"/>
<linearGradient id="r127" href="#s39" x1="1312" x2="2675"/>
<linearGradient id="r128" href="#s40" x1="1311" x2="2674"/>
<linearGradient id="r129" href="#s41" x1="1310" x2="2673"/>
<linearGradient id="r130" href="#s42" x1="1309" x2="2672"/>
<linearGradient id="r131" href="#s43" x1="1308" x2="2671"/>
<linearGradient id="r132" href="#s44" x1="1307" x2="2670"/>
<linearGradient id="r133" href="#s45" x1="1306" x2="2669"/>
<linearGradient id="r134" href="#s46" x1="1306" x2="2668"/>
<linearGradient id="r135" href="#s47" x1="1305" x2="2667"/>
<linearGradient id="r136" href="#s48" x1="1304" x2="2666"/>
<linearGradient id="r137" href="#s49" x1="1303" x2="2666"/>
<linearGradient id="r138" href="#s50" x1="1302" x2="2665"/>
<linearGradient id="r139" href="#s51" x1="1301" x2="2664"/>
<linearGradient id="r140" href="#s52" x1="1300" x2="2663"/>
<linearGradient id="r141" href="#s53" x1="1299" x2="2662"/>
<linearGradient id="r142" href="#s54" x1="1298" x2="2661"/>
<linearGradient id="r143" href="#s55" x1="1297" x2="2660"/>
<linearGradient id="r144" href="#s56" x1="1296" x2="2659"/>
<linearGradient id="r145" href="#s57" x1="1295" x2="2658"/>
<linearGradient id="r146" href="#s58" x1="1294" x2="2657"/>
<linearGradient id="r147" href="#s59" x1="1293" x2="2656"/>
<linearGradient id="r148" href="#s60" x1="1292" x2="2654"/>
<linearGradient id="r149" href="#s61" x1="1291" x2="2653"/>
<linearGradient id="r150" href="#s62" x1="1289" x2="2652"/>
<linearGradient id="r151" href="#s63" x1="1288" x2="2651"/>
<linearGradient id="r152" href="#s64" x1="1287" x2="2650"/>
<linearGradient id="r153" href="#s65" x1="1286" x2="2649"/>
<linearGradient id="r154" href="#s66" x1="1285" x2="2648"/>
<linearGradient id="r155" href="#s67" x1="1284" x2="2646"/>
<linearGradient id="r156" href="#s68" x1="1282" x2="2645"/>
<linearGradient id="r157" href="#s69" x1="1281" x2="2644"/>
<linearGradient id="r158" href="#s70" x1="1280" x2="2642"/>
<linearGradient id="r159" href="#s71" x1="1278" x2="2641"/>
<linearGradient id="r160" href="#s72" x1="1277" x2="2639"/>
<linearGradient id="r161" href="#s73" x1="1275" x2="2638"/>
<linearGradient id="r162" href="#s74" x1="1273" x2="2636"/>
<linearGradient id="r163" href="#s75" x1="1271" x2="2634"/>
<linearGradient id="r164" href="#s76" x1="1269" x2="2632"/>
<linearGradient id="r165" href="#s77" x1="1267" x2="2630"/>
<linearGradient id="r166" href="#s78" x1="1265" x2="2627"/>
<linearGradient id="r167" href="#s79" x1="1261" x2="2624"/>
<linearGradient id="r168" href="#s80" x1="1255" x2="2618"/>
<linearGradient id="r169" href="#s80" x1="1247" x2="2610"/>
<linearGradient id="r170" href="#s79" x1="1241" x2="2603"/>
<linearGradient id="r171" href="#s78" x1="1238" x2="2600"/>
<linearGradient id="r172" href="#s77" x1="1235" x2="2598"/>
<linearGradient id="r173" href="#s76" x1="1233" x2="2596"/>
<linearGradient id="r174" href="#s74" x1="1231" x2="2594"/>
<linearGradient id="r175" href="#s73" x1="1229" x2="2592"/>
<linearGradient id="r176" href="#s73" x1="1227" x2="2590"/>
<linearGradient id="r177" href="#s72" x1="1226" x2="2588"/>
<linearGradient id="r178" href="#s70" x1="1224" x2="2587"/>
<linearGradient id="r179" href="#s69" x1="1223" x2="2585"/>
<linearGradient id="r180" href="#s68" x1="1221" x2="2584"/>
<linearGradient id="r181" href="#s67" x1="1220" x2="2583"/>
<linearGradient id="r182" href="#s66" x1="1219" x2="2581"/>
<linearGradient id="r183" href="#s65" x1="1217" x2="2580"/>
<linearGradient id="r184" href="#s64" x1="1216" x2="2579"/>
<linearGradient id="r185" href="#s63" x1="1215" x2="2578"/>
<linearGradient id="r186" href="#s62" x1="1214" x2="2577"/>
<linearGradient id="r187" href="#s61" x1="1213" x2="2576"/>
<linearGradient id="r188" href="#s60" x1="1212" x2="2574"/>
<linearGradient id="r189" href="#s59" x1="1211" x2="2573"/>
<linearGradient id="r190" href="#s58" x1="1209" x2="2572"/>
<linearGradient id="r191" href="#s57" x1="1208" x2="2571"/>
<linearGradient id="r192" href="#s56" x1="1207" x2="2570"/>
<linearGradient id="r193" href="#s55" x1="1206" x2="2569"/>
<linearGradient id="r194" href="#s54" x1="1205" x2="2568"/>
<linearGradient id="r195" href="#s53" x1="1204" x2="2567"/>
<linearGradient id="r196" href="#s52" x1="1203" x2="2566"/>
<linearGradient id="r197" href="#s51" x1="1202" x2="2565"/>
<linearGradient id="r198" href="#s50" x1="1201" x2="2564"/>
<linearGradient id="r199" href="#s49" x1="1200" x2="2563"/>
<linearGradient id="r200" href="#s48" x1="1199" x2="2562"/>
<linearGradient id="r201" href="#s47" x1="1199" x2="2561"/>
<linearGradient id="r202" href="#s46" x1="1198" x2="2560"/>
<linearGradient id="r203" href="#s45" x1="1197" x2="2559"/>
<linearGradient id="r204" href="#s44" x1="1196" x2="2559"/>
<linearGradient id="r205" href="#s43" x1="1195" x2="2558"/>
<linearGradient id="r206" href="#s42" x1="1194" x2="2557"/>
<linearGradient id="r207" href="#s41" x1="1193" x2="2556"/>
<linearGradient id="r208" href="#s40" x1="1192" x2="2555"/>
<linearGradient id="r209" href="#s39" x1="1191" x2="2554"/>
<linearGradient id="r210" href="#s38" x1="1190" x2="2553"/>
<linearGradient id="r211" href="#s37" x1="1189" x2="2552"/>
<linearGradient id="r212" href="#s36" x1="1188" x2="2551"/>
<linearGradient id="r213" href="#s35" x1="1188" x2="2550"/>
<linearGradient id="r214" href="#s34" x1="1187" x2="2549"/>
<linearGradient id="r215" href="#s33" x1="1186" x2="2549"/>
<linearGradient id="r216" href="#s32" x1="1185" x2="2548"/>
<linearGradient id="r217" href="#s31" x1="1184" x2="2547"/>
<linearGradient id="r218" href="#s30" x1="1183" x2="2546"/>
<linearGradient id="r219" href="#s29" x1="1182" x2="2545"/>
<linearGradient id="r220" href="#s28" x1="1181" x2="2544"/>
<linearGradient id="r221" href="#s27" x1="1180" x2="2543"/>
<linearGradient id="r222" href="#s26" x1="1179" x2="2542"/>
<linearGradient id="r223" href="#s25" x1="1178" x2="2541"/>
<linearGradient id="r224" href="#s24" x1="1178" x2="2540"/>
<linearGradient id="r225" href="#s23" x1="1177" x2="2539"/>
<linearGradient id="r226" href="#s22" x1="1176" x2="2539"/>
<linearGradient id="r227" href="#s21" x1="1175" x2="2538"/>
<linearGradient id="r228" href="#s20" x1="1174" x2="2537"/>
<linearGradient id="r229" href="#s19" x1="1173" x2="2536"/>
<linearGradient id="r230" href="#s18" x1="1172" x2="2535"/>
<linearGradient id="r231" href="#s17" x1="1171" x2="2534"/>
<linearGradient id="r232" href="#s16" x1="1170" x2="2533"/>
<linearGradient id="r233" href="#s15" x1="1169" x2="2532"/>
<linearGradient id="r234" href="#s14" x1="1168" x2="2531"/>
<linearGradient id="r235" href="#s13" x1="1167" x2="2530"/>
<linearGradient id="r236" href="#s12" x1="1166" x2="2529"/>
<linearGradient id="r237" href="#s11" x1="1165" x2="2528"/>
<linearGradient id="r238" href="#s10" x1="1164" x2="2527"/>
<linearGradient id="r239" href="#s9" x1="1163" x2="2526"/>
<linearGradient id="r240" href="#s8" x1="1162" x2="2525"/>
<linearGradient id="r241" href="#s7" x1="1161" x2="2524"/>
<linearGradient id="r242" href="#s6" x1="1160" x2="2523"/>
<linearGradient id="r243" href="#s5" x1="1159" x2="2522"/>
<linearGradient id="r244" href="#s4" x1="1158" x2="2521"/>
<linearGradient id="r245" href="#s3" x1="1157" x2="2519"/>
<linearGradient id="r246" href="#s2" x1="1156" x2="2518"/>
<linearGradient id="r247" href="#s1" x1="1154" x2="2517"/>
<linearGradient id="r249" href="#s1" x1="1152" x2="2515"/>
<linearGradient id="r250" href="#s2" x1="1151" x2="2513"/>
<linearGradient id="r251" href="#s3" x1="1148" x2="2511"/>
<linearGradient id="r252" href="#s5" x1="1146" x2="2508"/>
<linearGradient id="r253" href="#s7" x1="1142" x2="2505"/>
<linearGradient id="r254" href="#s9" x1="1139" x2="2502"/>
<linearGradient id="r255" href="#s11" x1="1135" x2="2497"/>
<linearGradient id="r256" href="#s13" x1="1130" x2="2492"/>
<linearGradient id="r257" href="#s15" x1="1122" x2="2485"/>
<linearGradient id="r258" href="#s16" x1="1114" x2="2477"/>
<linearGradient id="r259" href="#s16" x1="1106" x2="2469"/>
<linearGradient id="r260" href="#s15" x1="1097" x2="2459"/>
<linearGradient id="r261" href="#s13" x1="1088" x2="2451"/>
<linearGradient id="r262" href="#s11" x1="1081" x2="2444"/>
<linearGradient id="r263" href="#s9" x1="1076" x2="2439"/>
<linearGradient id="r264" href="#s7" x1="1071" x2="2434"/>
<linearGradient id="r265" href="#s5" x1="1066" x2="2429"/>
<linearGradient id="r266" href="#s3" x1="1061" x2="2424"/>
<linearGradient id="r267" href="#s1" x1="1056" x2="2419"/>
<linearGradient id="r268" href="#s1" x1="1051" x2="2414"/>
<linearGradient id="r269" href="#s3" x1="1046" x2="2409"/>
<linearGradient id="r270" href="#s5" x1="1040" x2="2403"/>
<linearGradient id="r271" href="#s7" x1="1033" x2="2396"/>
<linearGradient id="r272" href="#s9" x1="1024" x2="2386"/>
<linearGradient id="r273" href="#s10" x1="1013" x2="2376"/>
<linearGradient id="r274" href="#s10" x1="1003" x2="2366"/>
<linearGradient id="r275" href="#s9" x1="992" x2="2354"/>
<linearGradient id="r276" href="#s7" x1="981" x2="2344"/>
<linearGradient id="r277" href="#s5" x1="973" x2="2336"/>
<linearGradient id="r278" href="#s3" x1="966" x2="2328"/>
<linearGradient id="r279" href="#s1" x1="959" x2="2322"/>
<linearGradient id="r280" href="#s1" x1="952" x2="2314"/>
<linearGradient id="r281" href="#s3" x1="944" x2="2307"/>
<linearGradient id="r282" href="#s5" x1="935" x2="2298"/>
<linearGradient id="r283" href="#s7" x1="923" x2="2286"/>
<linearGradient id="r284" href="#s8" x1="913" x2="2276"/>
<linearGradient id="r285" href="#s8" x1="910" x2="2272"/>
<linearGradient id="r286" href="#s8" x1="907" x2="2269"/>
<linearGradient id="r287" href="#s8" x1="898" x2="2260"/>
<linearGradient id="r288" href="#s6" x1="888" x2="2250"/>
<linearGradient id="r289" href="#s5" x1="880" x2="2242"/>
<linearGradient id="r290" href="#s3" x1="870" x2="2233"/>
<linearGradient id="r291" href="#s1" x1="861" x2="2224"/>
<linearGradient id="r292" href="#s1" x1="852" x2="2215"/>
<linearGradient id="r293" href="#s3" x1="842" x2="2205"/>
<linearGradient id="r294" href="#s5" x1="830" x2="2193"/>
<linearGradient id="r295" href="#s6" x1="822" x2="2185"/>
<linearGradient id="r296" href="#s6" x1="816" x2="2178"/>
<linearGradient id="r297" href="#s6" x1="804" x2="2166"/>
<linearGradient id="r298" href="#s5" x1="790" x2="2153"/>
<linearGradient id="r299" href="#s4" x1="782" x2="2144"/>
<linearGradient id="r300" href="#s3" x1="775" x2="2137"/>
<linearGradient id="r301" href="#s1" x1="763" x2="2126"/>
<linearGradient id="r302" href="#s1" x1="752" x2="2115"/>
<linearGradient id="r303" href="#s3" x1="740" x2="2102"/>
<linearGradient id="r304" href="#s5" x1="725" x2="2088"/>
<linearGradient id="r305" href="#s5" x1="714" x2="2077"/>
<linearGradient id="r306" href="#s5" x1="703" x2="2066"/>
<linearGradient id="r307" href="#s4" x1="692" x2="2055"/>
<linearGradient id="r308" href="#s3" x1="680" x2="2043"/>
<linearGradient id="r309" href="#s2" x1="673" x2="2036"/>
<linearGradient id="r310" href="#s1" x1="666" x2="2029"/>
<linearGradient id="r311" href="#s1" x1="653" x2="2015"/>
<linearGradient id="r312" href="#s3" x1="638" x2="2001"/>
<linearGradient id="r313" href="#s4" x1="628" x2="1991"/>
<linearGradient id="r314" href="#s4" x1="619" x2="1982"/>
<linearGradient id="r315" href="#s4" x1="604" x2="1967"/>
<linearGradient id="r316" href="#s3" x1="590" x2="1952"/>
<linearGradient id="r317" href="#s2" x1="579" x2="1942"/>
<linearGradient id="r318" href="#s1" x1="569" x2="1932"/>
<linearGradient id="r320" href="#s1" x1="553" x2="1916"/>
<linearGradient id="r321" href="#s2" x1="545" x2="1908"/>
<linearGradient id="r322" href="#s3" x1="537" x2="1900"/>
<linearGradient id="r323" href="#s4" x1="522" x2="1885"/>
<linearGradient id="r324" href="#s4" x1="514" x2="1877"/>
<linearGradient id="r325" href="#s4" x1="505" x2="1868"/>
<linearGradient id="r326" href="#s3" x1="491" x2="1853"/>
<linearGradient id="r327" href="#s2" x1="482" x2="1844"/>
<linearGradient id="r328" href="#s1" x1="473" x2="1835"/>
<linearGradient id="r330" href="#s1" x1="455" x2="1818"/>
<linearGradient id="r331" href="#s2" x1="445" x2="1808"/>
<linearGradient id="r332" href="#s3" x1="436" x2="1799"/>
<linearGradient id="r333" href="#s3" x1="421" x2="1784"/>
<linearGradient id="r334" href="#s3" x1="407" x2="1769"/>
<linearGradient id="r335" href="#s3" x1="392" x2="1755"/>
<linearGradient id="r336" href="#s2" x1="384" x2="1747"/>
<linearGradient id="r337" href="#s1" x1="377" x2="1739"/>
<linearGradient id="cb" x1="0" y1="0" x2="0" y2="1"><stop offset="0.000" stop-color="#f8fa00"/><stop offset="0.050" stop-color="#ffe800"/><stop offset="0.100" stop-color="#ffd600"/><stop offset="0.140" stop-color="#ffc41c"/><stop offset="0.180" stop-color="#ffb82e"/><stop offset="0.220" stop-color="#eeba08"/><stop offset="0.260" stop-color="#c2c008"/><stop offset="0.300" stop-color="#96c826"/><stop offset="0.340" stop-color="#5acb45"/><stop offset="0.355" stop-color="#00ce58"/><stop offset="0.400" stop-color="#00cb78"/><stop offset="0.450" stop-color="#00c698"/><stop offset="0.500" stop-color="#00bfb4"/><stop offset="0.550" stop-color="#00b5cc"/><stop offset="0.600" stop-color="#00a9de"/><stop offset="0.650" stop-color="#009ce8"/><stop offset="0.700" stop-color="#008ef2"/><stop offset="0.775" stop-color="#0874ff"/><stop offset="0.810" stop-color="#3862ff"/><stop offset="0.850" stop-color="#4452f8"/><stop offset="0.900" stop-color="#4a3ee2"/><stop offset="0.950" stop-color="#4830cc"/><stop offset="1.000" stop-color="#4423b4"/></linearGradient>
<filter id="bl" x="0" y="0" width="2112" height="1515" filterUnits="userSpaceOnUse" color-interpolation-filters="sRGB"><feGaussianBlur stdDeviation="0.8"/></filter></defs>
<rect width="2112" height="1515" fill="#fff"/>
<g filter="url(#bl)">
<rect width="2112" height="1515" fill="#fff"/>
<g fill="none" stroke="#dcdcdc" stroke-width="2.3"><path d="M181.8 662.5 L1069.3 401.6 L1750.7 740.5"/><path d="M181.8 292.1 L1069.3 31.1 L1750.7 370.1"/><path d="M401.3 967.8 L401.3 226.9"/><path d="M624.3 902.5 L624.3 161.6"/><path d="M847.7 837.2 L847.7 96.4"/><path d="M1410 941.5 L1410 200.6"/><path d="M1750.7 1111 L1750.7 370.1"/></g><path d="M1069.3 772 L1069.3 31.1" stroke="#c6c6c6" stroke-width="3.8" fill="none"/>
<g fill="none" stroke="#2e2e2e" stroke-width="3.4" stroke-linecap="butt"><path d="M181.8 1033 L863.2 1372 L1750.7 1111"/><path d="M181.8 1033 L181.8 292.1"/><path d="M181.8 1033 l-24 7.1"/><path d="M522.5 1202.5 l-24 7.1"/><path d="M863.2 1372 l-24 7.1"/><path d="M863.2 1372 l22.4 11.1"/><path d="M1085.1 1306.8 l22.4 11.1"/><path d="M1307 1241.5 l22.4 11.1"/><path d="M1528.8 1176.2 l22.4 11.1"/><path d="M1750.7 1111 l22.4 11.1"/><path d="M181.8 1033 l-22.4 -11.1"/><path d="M181.8 662.5 l-22.4 -11.1"/><path d="M181.8 292.1 l-22.4 -11.1"/></g>
<g stroke-width="1.6" stroke-linejoin="round" transform="scale(.5)">
<path d="M2139 1541l1362 678-14 4-120-64-75-38-71-34-75-33-225-135-61-34-55-28-54-26-62-27-224-89-75-42-72-37-75-36-119-55z" fill="url(#r0)" stroke="url(#r0)"/>
<path d="M2124 1545l119 55 75 36 72 37 75 42 224 89 62 27 54 26 55 28 61 34 225 135 75 33 71 34 75 38 120 64-6 2-119-66-75-39-72-33-75-31-225-143-61-35-54-29-55-26-61-25-225-81-75-44-72-37-75-36-119-53z" fill="url(#r1)" stroke="url(#r1)"/>
<path d="M2118 1547l119 53 75 36 72 37 75 44 225 81 61 25 55 26 54 29 61 35 225 143 75 31 72 33 75 39 119 66-15 4-119-69-75-39-72-33-37-15-38-13-51-35-119-85-54-38-62-38-54-30-55-24-61-23-55-17-119-33-51-16-75-47-71-38-75-35-120-50z" fill="url(#r2)" stroke="url(#r2)"/>
<path d="M2103 1551l120 50 75 35 71 38 75 47 51 16 119 33 55 17 61 23 55 24 54 30 62 38 54 38 119 85 51 35 38 13 37 15 72 33 75 39 119 69-15 5-119-70-75-41-37-17-34-15-38-14-37-13-51-36-120-89-54-38-62-40-54-29-55-25-61-22-54-15-120-30-51-15-37-25-38-23-34-19-37-19-75-35-119-48z" fill="url(#r3)" stroke="url(#r3)"/>
<path d="M2089 1556l119 48 75 35 37 19 34 19 38 23 37 25 51 15 120 30 54 15 61 22 55 25 54 29 62 40 54 38 120 89 51 36 37 13 38 14 34 15 37 17 75 41 119 70-119-70-75-40-38-18-34-15-37-14-38-13-51-36-119-89-55-38-61-40-54-29-55-25-61-22-55-15-119-30-51-15-38-24-37-23-34-20-38-19-75-35-119-48z" fill="url(#r4)" stroke="url(#r4)"/>
<path d="M2088 1556l119 48 75 35 38 19 34 20 37 23 38 24 51 15 119 30 55 15 61 22 55 25 54 29 61 40 55 38 119 89 51 36 38 13 37 14 34 15 38 18 75 40 119 70-15 4-119-69-75-40-72-32-37-15-38-13-51-35-119-86-54-37-62-38-54-30-55-25-61-22-55-17-119-33-51-16-75-47-71-38-75-35-120-50z" fill="url(#r5)" stroke="url(#r5)"/>
<path d="M2073 1560l120 50 75 35 71 38 75 47 51 16 119 33 55 17 61 22 55 25 54 30 62 38 54 37 119 86 51 35 38 13 37 15 72 32 75 40 119 69-14 5-120-66-75-39-71-34-75-31-225-142-61-36-55-28-54-26-62-25-225-82-74-43-72-38-75-36-119-52z" fill="url(#r6)" stroke="url(#r6)"/>
<path d="M2059 1565l119 52 75 36 72 38 74 43 225 82 62 25 54 26 55 28 61 36 225 142 75 31 71 34 75 39 120 66-15 4-194-99-147-71-225-118-116-60-115-56-225-105-147-74-194-95z" fill="url(#r7)" stroke="url(#r7)"/>
<path d="M2044 1569l194 95 147 74 225 105 115 56 116 60 225 118 147 71 194 99-4 1-1363-678z" fill="#4423b4" stroke="#4423b4"/>
<path d="M2040 1570l1363 678-15 4-119-64-75-39-72-34-75-32-225-137-61-35-54-29-55-25-61-27-225-86-75-43-72-37-75-36-119-54z" fill="url(#r9)" stroke="url(#r9)"/>
<path d="M2025 1574l119 54 75 36 72 37 75 43 225 86 61 27 55 25 54 29 61 35 225 137 75 32 72 34 75 39 119 64-3 1-119-65-75-39-72-34-75-31-225-142-61-36-54-29-55-25-61-26-225-81-75-44-72-37-75-36-119-53z" fill="url(#r10)" stroke="url(#r10)"/>
<path d="M2022 1575l119 53 75 36 72 37 75 44 225 81 61 26 55 25 54 29 61 36 225 142 75 31 72 34 75 39 119 65-15 5-119-70-75-40-38-18-34-15-37-14-38-13-51-36-119-87-54-38-62-39-54-30-55-24-61-23-55-16-119-31-51-15-37-24-38-23-71-39-75-34-120-49z" fill="url(#r11)" stroke="url(#r11)"/>
<path d="M2007 1580l120 49 75 34 71 39 38 23 37 24 51 15 119 31 55 16 61 23 55 24 54 30 62 39 54 38 119 87 51 36 38 13 37 14 34 15 38 18 75 40 119 70-15 4-119-72-75-40-37-18-34-14-38-14-37-12-51-37-120-93-54-40-62-40-54-30-55-24-30-12-31-9-54-14-120-26-51-14-37-25-38-24-34-19-37-20-75-34-119-47z" fill="url(#r12)" stroke="url(#r12)"/>
<path d="M1993 1584l119 47 75 34 37 20 34 19 38 24 37 25 51 14 120 26 54 14 31 9 30 12 55 24 54 30 62 40 54 40 120 93 51 37 37 12 38 14 34 14 37 18 75 40 119 72-3 1-119-72-75-40-38-18-34-14-37-14-38-12-51-37-119-93-54-40-62-41-54-30-55-24-30-11-31-9-55-14-119-26-51-14-37-25-38-24-34-19-37-20-75-34-120-47z" fill="url(#r13)" stroke="url(#r13)"/>
<path d="M1989 1585l120 47 75 34 37 20 34 19 38 24 37 25 51 14 119 26 55 14 31 9 30 11 55 24 54 30 62 41 54 40 119 93 51 37 38 12 37 14 34 14 38 18 75 40 119 72-15 4-119-70-75-40-37-18-34-15-38-14-37-12-51-36-120-90-54-38-62-40-54-29-55-25-61-22-54-15-120-30-51-14-37-25-38-23-34-19-37-20-75-34-119-49z" fill="url(#r14)" stroke="url(#r14)"/>
<path d="M1975 1589l119 49 75 34 37 20 34 19 38 23 37 25 51 14 120 30 54 15 61 22 55 25 54 29 62 40 54 38 120 90 51 36 37 12 38 14 34 15 37 18 75 40 119 70-14 5-120-67-75-39-71-33-75-31-225-146-61-36-55-29-54-25-62-25-225-78-75-44-71-38-75-35-119-52z" fill="url(#r15)" stroke="url(#r15)"/>
<path d="M1960 1594l119 52 75 35 71 38 75 44 225 78 62 25 54 25 55 29 61 36 225 146 75 31 71 33 75 39 120 67-3 0-119-65-75-39-71-34-75-31-225-142-62-36-54-29-55-25-61-26-225-81-75-44-71-37-75-36-119-53z" fill="url(#r16)" stroke="url(#r16)"/>
<path d="M1958 1594l119 53 75 36 71 37 75 44 225 81 61 26 55 25 54 29 62 36 225 142 75 31 71 34 75 39 119 65-14 5-341-170-341-173-341-166-340-169z" fill="url(#r17)" stroke="url(#r17)"/>
<path d="M1943 1599l340 169 341 166 341 173 341 170-2 0-1363-678z" fill="#4423b4" stroke="#4423b4"/>
<path d="M1941 1599l1363 678-15 4-119-65-75-39-71-34-75-31-225-141-62-36-54-28-55-26-61-25-225-83-75-43-71-38-75-35-119-54z" fill="url(#r19)" stroke="url(#r19)"/>
<path d="M1927 1603l119 54 75 35 71 38 75 43 225 83 61 25 55 26 54 28 62 36 225 141 75 31 71 34 75 39 119 65 0 1-119-66-75-39-72-34-75-31-225-142-61-36-55-28-54-26-61-25-225-82-75-43-72-38-75-35-119-53z" fill="url(#r20)" stroke="url(#r20)"/>
<path d="M1926 1604l119 53 75 35 72 38 75 43 225 82 61 25 54 26 55 28 61 36 225 142 75 31 72 34 75 39 119 66-15 4-119-71-75-40-38-18-34-14-37-14-38-13-51-36-119-90-55-39-61-40-54-30-55-24-61-22-55-15-119-28-51-15-38-25-37-23-34-19-38-20-75-34-119-48z" fill="url(#r21)" stroke="url(#r21)"/>
<path d="M1911 1608l119 48 75 34 38 20 34 19 37 23 38 25 51 15 119 28 55 15 61 22 55 24 54 30 61 40 55 39 119 90 51 36 38 13 37 14 34 14 38 18 75 40 119 71-6 2-119-72-75-41-38-18-34-14-37-13-38-12-51-38-119-94-55-40-61-41-54-30-55-24-31-11-30-10-55-13-119-25-51-13-38-26-37-23-34-20-38-20-37-18-38-16-119-46z" fill="url(#r22)" stroke="url(#r22)"/>
<path d="M1905 1610l119 46 38 16 37 18 38 20 34 20 37 23 38 26 51 13 119 25 55 13 30 10 31 11 55 24 54 30 61 41 55 40 119 94 51 38 38 12 37 13 34 14 38 18 75 41 119 72-15 4-119-74-37-21-38-20-37-17-34-14-38-13-37-11-51-39-120-98-54-42-31-22-31-20-27-16-27-15-27-12-28-11-30-11-31-8-54-12-120-21-51-12-37-26-38-25-34-20-37-19-38-18-37-16-119-45z" fill="url(#r23)" stroke="url(#r23)"/>
<path d="M1891 1614l119 45 37 16 38 18 37 19 34 20 38 25 37 26 51 12 120 21 54 12 31 8 30 11 28 11 27 12 27 15 27 16 31 20 31 22 54 42 120 98 51 39 37 11 38 13 34 14 37 17 38 20 37 21 119 74-14 4-119-72-75-40-38-18-34-14-37-14-38-11-51-38-119-94-55-41-61-41-55-30-54-24-31-11-30-9-55-14-119-24-51-13-38-26-37-24-34-20-38-19-37-18-38-16-119-47z" fill="url(#r24)" stroke="url(#r24)"/>
<path d="M1876 1618l119 47 38 16 37 18 38 19 34 20 37 24 38 26 51 13 119 24 55 14 30 9 31 11 54 24 55 30 61 41 55 41 119 94 51 38 38 11 37 14 34 14 38 18 75 40 119 72-15 5-119-68-75-40-72-33-75-29-224-151-62-38-54-29-55-25-61-24-55-18-119-37-51-17-75-45-72-38-74-35-120-51z" fill="url(#r25)" stroke="url(#r25)"/>
<path d="M1861 1623l120 51 74 35 72 38 75 45 51 17 119 37 55 18 61 24 55 25 54 29 62 38 224 151 75 29 72 33 75 40 119 68-5 1-119-66-75-39-71-33-75-31-225-143-62-35-54-29-55-26-61-25-225-81-75-44-71-37-75-36-120-53z" fill="url(#r26)" stroke="url(#r26)"/>
<path d="M1856 1624l120 53 75 36 71 37 75 44 225 81 61 25 55 26 54 29 62 35 225 143 75 31 71 33 75 39 119 66-13 4-1363-678z" fill="url(#r27)" stroke="url(#r27)"/>
<path d="M1843 1628l1363 678-14 4-119-66-75-39-71-33-75-32-225-142-61-35-55-29-54-26-62-25-225-82-75-43-71-38-75-35-119-53z" fill="url(#r28)" stroke="url(#r28)"/>
<path d="M1830 1632l119 53 75 35 71 38 75 43 225 82 62 25 54 26 55 29 61 35 225 142 75 32 71 33 75 39 119 66-14 4-120-72-75-40-37-18-34-14-38-14-37-11-51-38-119-93-55-41-61-40-55-31-54-24-31-11-31-9-54-14-119-25-51-13-38-26-37-24-34-19-38-20-75-34-119-47z" fill="url(#r29)" stroke="url(#r29)"/>
<path d="M1815 1636l119 47 75 34 38 20 34 19 37 24 38 26 51 13 119 25 54 14 31 9 31 11 54 24 55 31 61 40 55 41 119 93 51 38 37 11 38 14 34 14 37 18 75 40 120 72-1 0-119-72-75-40-38-18-34-14-37-14-38-11-51-38-119-94-54-41-62-40-54-31-55-24-30-11-31-9-55-13-119-25-51-13-37-26-38-24-34-19-37-20-38-18-37-16-120-47z" fill="url(#r30)" stroke="url(#r30)"/>
<path d="M1814 1636l120 47 37 16 38 18 37 20 34 19 38 24 37 26 51 13 119 25 55 13 31 9 30 11 55 24 54 31 62 40 54 41 119 94 51 38 38 11 37 14 34 14 38 18 75 40 119 72-15 5-119-76-37-22-38-19-37-18-34-13-38-12-37-10-51-41-120-104-54-44-31-23-31-21-27-16-27-15-27-13-28-10-30-10-31-8-54-9-120-15-51-10-37-28-38-25-34-20-37-20-38-18-37-15-119-43z" fill="url(#r31)" stroke="url(#r31)"/>
<path d="M1800 1641l119 43 37 15 38 18 37 20 34 20 38 25 37 28 51 10 120 15 54 9 31 8 30 10 28 10 27 13 27 15 27 16 31 21 31 23 54 44 120 104 51 41 37 10 38 12 34 13 37 18 38 19 37 22 119 76-8 2-119-76-37-22-38-20-37-17-34-13-38-12-37-9-51-42-120-105-54-45-31-24-30-20-28-17-27-15-27-12-27-11-31-9-31-8-54-9-120-14-51-8-37-29-38-25-34-21-37-20-38-17-37-15-119-43z" fill="url(#r32)" stroke="url(#r32)"/>
<path d="M1792 1643l119 43 37 15 38 17 37 20 34 21 38 25 37 29 51 8 120 14 54 9 31 8 31 9 27 11 27 12 27 15 28 17 30 20 31 24 54 45 120 105 51 42 37 9 38 12 34 13 37 17 38 20 37 22 119 76-14 4-120-74-37-21-38-20-37-18-34-13-38-13-37-10-51-40-119-100-55-43-31-22-30-21-28-16-27-14-27-13-27-11-31-10-31-8-54-12-119-18-51-11-38-27-37-25-34-20-38-20-37-17-38-16-119-45z" fill="url(#r33)" stroke="url(#r33)"/>
<path d="M1777 1647l119 45 38 16 37 17 38 20 34 20 37 25 38 27 51 11 119 18 54 12 31 8 31 10 27 11 27 13 27 14 28 16 30 21 31 22 55 43 119 100 51 40 37 10 38 13 34 13 37 18 38 20 37 21 120 74-8 3-119-72-75-41-37-18-34-14-38-13-37-12-51-38-120-94-54-40-62-41-54-30-55-24-30-11-31-10-54-13-120-25-51-13-37-26-38-24-34-19-37-20-38-18-37-16-119-46z" fill="url(#r34)" stroke="url(#r34)"/>
<path d="M1770 1650l119 46 37 16 38 18 37 20 34 19 38 24 37 26 51 13 120 25 54 13 31 10 30 11 55 24 54 30 62 41 54 40 120 94 51 38 37 12 38 13 34 14 37 18 75 41 119 72-14 4-119-66-75-39-72-34-74-31-225-142-62-36-54-28-55-26-61-25-225-82-75-43-71-38-75-35-120-53z" fill="url(#r35)" stroke="url(#r35)"/>
<path d="M1755 1654l120 53 75 35 71 38 75 43 225 82 61 25 55 26 54 28 62 36 225 142 74 31 72 34 75 39 119 66-11 3-1363-678z" fill="url(#r36)" stroke="url(#r36)"/>
<path d="M1744 1657l1363 678-11 3-119-65-75-39-72-34-75-31-224-142-62-36-54-29-55-25-61-26-225-81-75-44-71-37-75-36-120-53z" fill="url(#r37)" stroke="url(#r37)"/>
<path d="M1733 1660l120 53 75 36 71 37 75 44 225 81 61 26 55 25 54 29 62 36 224 142 75 31 72 34 75 39 119 65-12 4-119-72-75-41-37-18-34-14-38-13-37-12-51-38-120-94-54-40-61-41-55-30-54-24-31-11-31-10-54-13-120-25-51-13-37-26-38-23-34-20-37-20-38-18-37-16-119-46z" fill="url(#r38)" stroke="url(#r38)"/>
<path d="M1722 1664l119 46 37 16 38 18 37 20 34 20 38 23 37 26 51 13 120 25 54 13 31 10 31 11 54 24 55 30 61 41 54 40 120 94 51 38 37 12 38 13 34 14 37 18 75 41 119 72-14 4-120-78-37-22-38-20-37-17-34-13-38-11-37-8-51-44-119-110-55-47-31-24-30-21-28-17-27-15-27-12-27-10-31-9-31-7-54-7-119-9-51-7-38-30-37-26-34-21-38-20-37-17-38-15-119-41z" fill="url(#r39)" stroke="url(#r39)"/>
<path d="M1707 1668l119 41 38 15 37 17 38 20 34 21 37 26 38 30 51 7 119 9 54 7 31 7 31 9 27 10 27 12 27 15 28 17 30 21 31 24 55 47 119 110 51 44 37 8 38 11 34 13 37 17 38 20 37 22 120 78-2 1-120-79-37-22-38-20-37-17-34-13-38-11-37-8-51-44-120-111-54-48-31-24-30-22-28-17-27-14-27-13-27-10-31-9-31-6-54-7-119-7-52-7-37-29-38-27-34-21-37-20-38-17-37-15-119-40z" fill="url(#r40)" stroke="url(#r40)"/>
<path d="M1705 1669l119 40 37 15 38 17 37 20 34 21 38 27 37 29 52 7 119 7 54 7 31 6 31 9 27 10 27 13 27 14 28 17 30 22 31 24 54 48 120 111 51 44 37 8 38 11 34 13 37 17 38 20 37 22 120 79-13 3-119-80-37-22-38-20-37-17-34-13-38-10-37-7-51-46-120-115-54-49-31-25-30-22-28-18-27-14-27-13-27-10-31-8-31-6-54-5-120-3-51-5-37-31-38-26-34-22-37-20-38-17-37-15-119-39z" fill="url(#r41)" stroke="url(#r41)"/>
<path d="M1693 1672l119 39 37 15 38 17 37 20 34 22 38 26 37 31 51 5 120 3 54 5 31 6 31 8 27 10 27 13 27 14 28 18 30 22 31 25 54 49 120 115 51 46 37 7 38 10 34 13 37 17 38 20 37 22 119 80-11 4-120-79-37-22-38-20-37-17-34-13-38-11-37-8-51-44-120-111-54-48-31-24-30-21-28-17-27-15-27-13-27-10-31-9-31-6-54-7-119-7-52-7-37-29-38-27-34-21-37-20-38-17-37-15-119-40z" fill="url(#r42)" stroke="url(#r42)"/>
<path d="M1681 1676l119 40 37 15 38 17 37 20 34 21 38 27 37 29 52 7 119 7 54 7 31 6 31 9 27 10 27 13 27 15 28 17 30 21 31 24 54 48 120 111 51 44 37 8 38 11 34 13 37 17 38 20 37 22 120 79-15 4-120-73-37-21-38-19-37-18-34-14-38-13-37-11-51-39-119-95-55-42-61-41-55-30-27-13-27-11-31-11-31-9-54-13-119-23-51-12-38-27-37-24-34-19-38-20-37-18-38-16-119-46z" fill="url(#r43)" stroke="url(#r43)"/>
<path d="M1666 1680l119 46 38 16 37 18 38 20 34 19 37 24 38 27 51 12 119 23 54 13 31 9 31 11 27 11 27 13 55 30 61 41 55 42 119 95 51 39 37 11 38 13 34 14 37 18 38 19 37 21 120 73-1 0-120-72-75-40-37-18-34-14-38-14-37-11-51-38-119-94-55-41-61-40-55-31-54-24-31-11-31-9-54-13-119-25-51-13-38-26-37-24-34-19-38-20-37-18-38-16-119-47z" fill="url(#r44)" stroke="url(#r44)"/>
<path d="M1665 1680l119 47 38 16 37 18 38 20 34 19 37 24 38 26 51 13 119 25 54 13 31 9 31 11 54 24 55 31 61 40 55 41 119 94 51 38 37 11 38 14 34 14 37 18 75 40 120 72-11 3-119-65-75-39-71-34-75-31-225-142-62-36-54-28-55-26-61-25-225-82-75-44-71-37-75-36-120-53z" fill="url(#r45)" stroke="url(#r45)"/>
<path d="M1654 1683l120 53 75 36 71 37 75 44 225 82 61 25 55 26 54 28 62 36 225 142 75 31 71 34 75 39 119 65-9 3-1362-678z" fill="url(#r46)" stroke="url(#r46)"/>
<path d="M1646 1686l1362 678-8 3-120-66-74-39-72-34-75-31-225-142-61-36-55-28-54-26-62-25-224-82-75-43-72-38-75-35-119-53z" fill="url(#r47)" stroke="url(#r47)"/>
<path d="M1637 1689l119 53 75 35 72 38 75 43 224 82 62 25 54 26 55 28 61 36 225 142 75 31 72 34 74 39 120 66-9 2-120-72-75-40-37-18-34-14-38-14-37-11-51-38-119-94-55-41-61-41-55-30-54-24-31-11-31-9-54-14-119-24-51-13-38-26-37-24-34-20-38-19-37-18-38-16-119-47z" fill="url(#r48)" stroke="url(#r48)"/>
<path d="M1628 1691l119 47 38 16 37 18 38 19 34 20 37 24 38 26 51 13 119 24 54 14 31 9 31 11 54 24 55 30 61 41 55 41 119 94 51 38 37 11 38 14 34 14 37 18 75 40 120 72-11 3-119-78-38-22-37-20-38-18-34-12-37-11-38-8-51-44-119-112-54-47-31-24-31-22-27-17-27-15-28-12-27-10-30-9-31-6-55-7-119-8-51-6-37-30-38-26-34-21-37-20-38-17-37-15-120-41z" fill="url(#r49)" stroke="url(#r49)"/>
<path d="M1617 1694l120 41 37 15 38 17 37 20 34 21 38 26 37 30 51 6 119 8 55 7 31 6 30 9 27 10 28 12 27 15 27 17 31 22 31 24 54 47 119 112 51 44 38 8 37 11 34 12 38 18 37 20 38 22 119 78-15 5-119-84-37-24-38-20-37-17-34-11-38-9-37-5-51-50-120-126-54-53-31-27-31-24-27-18-27-15-27-12-28-9-30-7-31-4-27-1-27 1-120 7-51-1-37-32-38-29-34-22-37-21-38-17-37-14-41-12-78-22z" fill="url(#r50)" stroke="url(#r50)"/>
<path d="M1603 1699l78 22 41 12 37 14 38 17 37 21 34 22 38 29 37 32 51 1 120-7 27-1 27 1 31 4 30 7 28 9 27 12 27 15 27 18 31 24 31 27 54 53 120 126 51 50 37 5 38 9 34 11 37 17 38 20 37 24 119 84-5 1-78-56-41-28-38-24-37-20-38-17-34-12-37-8-38-4-51-51-119-128-55-54-30-27-31-24-27-18-28-16-27-12-27-9-31-6-30-4-28 0-27 0-119 10-51 0-38-33-37-29-34-23-38-20-37-17-38-14-41-12-78-22z" fill="url(#r51)" stroke="url(#r51)"/>
<path d="M1597 1700l78 22 41 12 38 14 37 17 38 20 34 23 37 29 38 33 51 0 119-10 27 0 28 0 30 4 31 6 27 9 27 12 28 16 27 18 31 24 30 27 55 54 119 128 51 51 38 4 37 8 34 12 38 17 37 20 38 24 41 28 78 56-3 1-79-56-40-29-38-23-37-21-38-16-34-12-37-8-38-4-51-51-119-129-55-54-30-27-31-24-27-18-28-15-27-12-27-9-31-7-30-3-28-1-27 1-119 10-51 0-38-33-37-29-34-23-38-20-37-17-38-14-41-13-78-21z" fill="url(#r52)" stroke="url(#r52)"/>
<path d="M1594 1701l78 21 41 13 38 14 37 17 38 20 34 23 37 29 38 33 51 0 119-10 27-1 28 1 30 3 31 7 27 9 27 12 28 15 27 18 31 24 30 27 55 54 119 129 51 51 38 4 37 8 34 12 38 16 37 21 38 23 40 29 79 56-3 1-79-57-40-28-38-23-37-21-38-16-34-12-37-8-38-4-51-51-119-128-55-55-30-27-31-24-27-18-28-15-27-12-27-9-31-6-30-4-28-1-27 1-119 10-51 0-38-33-37-29-34-23-38-20-37-17-38-14-41-13-78-21z" fill="url(#r53)" stroke="url(#r53)"/>
<path d="M1591 1702l78 21 41 13 38 14 37 17 38 20 34 23 37 29 38 33 51 0 119-10 27-1 28 1 30 4 31 6 27 9 27 12 28 15 27 18 31 24 30 27 55 55 119 128 51 51 38 4 37 8 34 12 38 16 37 21 38 23 40 28 79 57-15 4-119-80-38-23-37-20-38-17-34-13-37-10-38-6-51-47-119-117-55-50-30-25-31-23-27-17-27-15-28-12-27-10-31-8-30-5-55-5-119-1-51-4-38-31-37-27-34-22-38-20-37-17-38-15-40-13-79-25z" fill="url(#r54)" stroke="url(#r54)"/>
<path d="M1576 1706l79 25 40 13 38 15 37 17 38 20 34 22 37 27 38 31 51 4 119 1 55 5 30 5 31 8 27 10 28 12 27 15 27 17 31 23 30 25 55 50 119 117 51 47 38 6 37 10 34 13 38 17 37 20 38 23 119 80-5 2-119-79-37-22-38-20-37-17-34-13-38-11-37-8-51-44-120-111-54-48-31-24-31-21-27-17-27-15-27-12-28-11-30-8-31-7-54-7-120-7-51-7-37-29-38-26-34-22-37-20-38-17-37-15-119-40z" fill="url(#r55)" stroke="url(#r55)"/>
<path d="M1572 1708l119 40 37 15 38 17 37 20 34 22 38 26 37 29 51 7 120 7 54 7 31 7 30 8 28 11 27 12 27 15 27 17 31 21 31 24 54 48 120 111 51 44 37 8 38 11 34 13 37 17 38 20 37 22 119 79-9 3-119-72-75-41-38-18-34-14-37-13-38-12-51-38-119-94-55-40-61-41-55-30-54-24-31-11-30-10-55-13-119-25-51-13-38-26-37-23-34-20-38-20-37-18-38-16-119-46z" fill="url(#r56)" stroke="url(#r56)"/>
<path d="M1562 1711l119 46 38 16 37 18 38 20 34 20 37 23 38 26 51 13 119 25 55 13 30 10 31 11 54 24 55 30 61 41 55 40 119 94 51 38 38 12 37 13 34 14 38 18 75 41 119 72-8 2-119-66-75-39-72-33-75-32-225-142-61-35-55-29-54-26-61-25-225-82-75-43-72-37-75-36-119-53z" fill="url(#r57)" stroke="url(#r57)"/>
<path d="M1554 1713l119 53 75 36 72 37 75 43 225 82 61 25 54 26 55 29 61 35 225 142 75 32 72 33 75 39 119 66-7 2-1363-678z" fill="url(#r58)" stroke="url(#r58)"/>
<path d="M1547 1715l1363 678-7 2-119-66-75-39-72-33-75-31-225-143-61-35-55-29-54-26-61-25-225-81-75-44-72-37-75-36-119-53z" fill="url(#r59)" stroke="url(#r59)"/>
<path d="M1540 1717l119 53 75 36 72 37 75 44 225 81 61 25 54 26 55 29 61 35 225 143 75 31 72 33 75 39 119 66-7 2-119-72-75-41-38-17-34-14-37-14-38-11-51-38-119-94-55-41-61-41-54-30-55-24-31-11-30-9-55-14-119-25-51-12-38-26-37-24-34-20-38-19-37-18-38-16-119-47z" fill="url(#r60)" stroke="url(#r60)"/>
<path d="M1533 1719l119 47 38 16 37 18 38 19 34 20 37 24 38 26 51 12 119 25 55 14 30 9 31 11 55 24 54 30 61 41 55 41 119 94 51 38 38 11 37 14 34 14 38 17 75 41 119 72-8 2-119-78-37-22-38-20-37-18-34-12-38-11-37-8-51-45-120-111-54-47-31-24-30-22-28-17-27-15-27-12-27-10-31-9-31-6-54-7-120-8-51-6-37-30-38-26-34-21-37-20-38-18-37-14-119-41z" fill="url(#r61)" stroke="url(#r61)"/>
<path d="M1526 1721l119 41 37 14 38 18 37 20 34 21 38 26 37 30 51 6 120 8 54 7 31 6 31 9 27 10 27 12 27 15 28 17 30 22 31 24 54 47 120 111 51 45 37 8 38 11 34 12 37 18 38 20 37 22 119 78-8 3-78-57-41-28-38-23-37-21-38-17-34-11-37-8-38-5-51-50-119-129-55-54-30-27-31-24-27-18-28-15-27-12-27-9-31-7-30-3-28-1-27 1-119 10-51-1-38-33-37-29-34-22-38-21-37-17-38-13-41-13-78-21z" fill="url(#r62)" stroke="url(#r62)"/>
<path d="M1517 1724l78 21 41 13 38 13 37 17 38 21 34 22 37 29 38 33 51 1 119-10 27-1 28 1 30 3 31 7 27 9 27 12 28 15 27 18 31 24 30 27 55 54 119 129 51 50 38 5 37 8 34 11 38 17 37 21 38 23 41 28 78 57-13 4-78-61-41-31-38-24-37-21-38-16-34-10-37-6-38-1-51-57-119-145-55-61-30-30-31-26-27-20-27-15-28-12-27-8-31-4-30-1-27 3-28 4-119 27-27 4-24 2-38-37-37-31-34-24-38-21-37-16-37-13-41-10-79-17z" fill="url(#r63)" stroke="url(#r63)"/>
<path d="M1504 1728l79 17 41 10 37 13 37 16 38 21 34 24 37 31 38 37 24-2 27-4 119-27 28-4 27-3 30 1 31 4 27 8 28 12 27 15 27 20 31 26 30 30 55 61 119 145 51 57 38 1 37 6 34 10 38 16 37 21 38 24 41 31 78 61-10 3-78-63-41-30-38-25-37-21-38-16-34-10-37-5-38 0-51-58-119-150-27-33-27-30-31-31-31-27-27-19-27-16-28-11-27-8-30-4-31 1-27 3-28 5-119 31-27 5-24 3-37-38-38-32-34-24-37-21-38-16-37-13-41-10-79-15z" fill="url(#r64)" stroke="url(#r64)"/>
<path d="M1494 1731l79 15 41 10 37 13 38 16 37 21 34 24 38 32 37 38 24-3 27-5 119-31 28-5 27-3 31-1 30 4 27 8 28 11 27 16 27 19 31 27 31 31 27 30 27 33 119 150 51 58 38 0 37 5 34 10 38 16 37 21 38 25 41 30 78 63-10 2-78-61-41-30-37-25-38-20-37-17-34-10-38-5-37-1-51-57-120-146-54-61-31-30-30-26-28-19-27-15-27-12-28-8-30-4-31-1-27 3-27 4-120 27-27 4-24 2-37-37-38-31-34-24-37-21-38-17-37-12-41-11-78-17z" fill="url(#r65)" stroke="url(#r65)"/>
<path d="M1485 1733l78 17 41 11 37 12 38 17 37 21 34 24 38 31 37 37 24-2 27-4 120-27 27-4 27-3 31 1 30 4 28 8 27 12 27 15 28 19 30 26 31 30 54 61 120 146 51 57 37 1 38 5 34 10 37 17 38 20 37 25 41 30 78 61-11 4-79-57-41-28-37-23-38-21-37-16-34-12-38-8-37-5-51-50-120-129-54-54-31-27-30-24-28-18-27-15-27-12-27-9-31-7-31-3-27-1-27 1-119 10-52-1-37-33-38-29-34-22-37-21-38-16-37-14-41-13-78-21z" fill="url(#r66)" stroke="url(#r66)"/>
<path d="M1473 1737l78 21 41 13 37 14 38 16 37 21 34 22 38 29 37 33 52 1 119-10 27-1 27 1 31 3 31 7 27 9 27 12 27 15 28 18 30 24 31 27 54 54 120 129 51 50 37 5 38 8 34 12 37 16 38 21 37 23 41 28 79 57-8 2-119-78-38-23-37-20-38-17-34-13-37-11-38-7-51-45-119-111-55-47-30-24-31-22-27-17-27-15-28-12-27-10-31-9-30-6-55-7-119-8-51-6-38-30-37-26-34-21-38-20-37-18-38-15-119-40z" fill="url(#r67)" stroke="url(#r67)"/>
<path d="M1465 1739l119 40 38 15 37 18 38 20 34 21 37 26 38 30 51 6 119 8 55 7 30 6 31 9 27 10 28 12 27 15 27 17 31 22 30 24 55 47 119 111 51 45 38 7 37 11 34 13 38 17 37 20 38 23 119 78-6 2-119-72-75-41-38-17-34-15-37-13-38-12-51-38-119-93-55-41-61-41-55-30-54-24-31-11-30-9-55-14-119-25-51-13-38-25-37-24-34-20-38-20-37-17-38-16-119-47z" fill="url(#r68)" stroke="url(#r68)"/>
<path d="M1459 1741l119 47 38 16 37 17 38 20 34 20 37 24 38 25 51 13 119 25 55 14 30 9 31 11 54 24 55 30 61 41 55 41 119 93 51 38 38 12 37 13 34 15 38 17 75 41 119 72-6 2-119-66-75-39-72-34-74-31-225-142-62-36-54-28-55-26-61-25-225-82-75-43-71-38-75-35-120-53z" fill="url(#r69)" stroke="url(#r69)"/>
<path d="M1453 1743l120 53 75 35 71 38 75 43 225 82 61 25 55 26 54 28 62 36 225 142 74 31 72 34 75 39 119 66-5 1-1363-678z" fill="url(#r70)" stroke="url(#r70)"/>
<path d="M1448 1744l1363 678-5 1-119-65-75-39-72-34-75-31-224-142-62-36-54-29-55-25-61-26-225-81-75-43-71-38-75-36-120-53z" fill="url(#r71)" stroke="url(#r71)"/>
<path d="M1443 1745l120 53 75 36 71 38 75 43 225 81 61 26 55 25 54 29 62 36 224 142 75 31 72 34 75 39 119 65-5 2-119-72-75-41-37-17-34-15-38-13-37-12-51-38-120-94-54-40-62-41-54-30-55-24-30-11-31-10-54-13-120-25-51-13-37-25-38-24-34-20-37-20-38-17-37-17-119-46z" fill="url(#r72)" stroke="url(#r72)"/>
<path d="M1439 1747l119 46 37 17 38 17 37 20 34 20 38 24 37 25 51 13 120 25 54 13 31 10 30 11 55 24 54 30 62 41 54 40 120 94 51 38 37 12 38 13 34 15 37 17 75 41 119 72-4 1-120-78-37-22-38-20-37-18-34-12-38-11-37-8-51-44-119-112-55-47-31-24-30-22-28-17-27-15-27-12-27-10-31-9-31-6-54-7-119-8-52-6-37-30-37-26-35-21-37-20-38-17-37-15-119-41z" fill="url(#r73)" stroke="url(#r73)"/>
<path d="M1434 1748l119 41 37 15 38 17 37 20 35 21 37 26 37 30 52 6 119 8 54 7 31 6 31 9 27 10 27 12 27 15 28 17 30 22 31 24 55 47 119 112 51 44 37 8 38 11 34 12 37 18 38 20 37 22 120 78-5 2-79-57-41-28-37-24-38-20-37-17-34-11-38-8-37-5-51-50-119-129-55-54-31-27-30-24-28-18-27-15-27-12-27-9-31-7-31-3-27-1-27 1-119 10-51-1-38-33-37-29-35-22-37-21-37-17-38-13-41-13-78-21z" fill="url(#r74)" stroke="url(#r74)"/>
<path d="M1429 1750l78 21 41 13 38 13 37 17 37 21 35 22 37 29 38 33 51 1 119-10 27-1 27 1 31 3 31 7 27 9 27 12 27 15 28 18 30 24 31 27 55 54 119 129 51 50 37 5 38 8 34 11 37 17 38 20 37 24 41 28 79 57-6 1-78-61-41-30-37-25-38-20-37-17-34-10-38-6-37 0-51-57-120-146-54-61-31-30-31-26-27-19-27-16-27-11-28-8-30-5-31 0-27 2-27 5-120 27-27 4-24 2-37-37-38-31-34-24-37-21-38-17-37-12-41-11-78-17z" fill="url(#r75)" stroke="url(#r75)"/>
<path d="M1424 1751l78 17 41 11 37 12 38 17 37 21 34 24 38 31 37 37 24-2 27-4 120-27 27-5 27-2 31 0 30 5 28 8 27 11 27 16 27 19 31 26 31 30 54 61 120 146 51 57 37 0 38 6 34 10 37 17 38 20 37 25 41 30 78 61-5 2-79-65-41-32-37-26-38-22-20-9-17-6-34-9-17-2-21-1-17 0-20 3-51-64-119-163-28-35-27-32-31-33-30-29-28-20-27-16-27-11-27-7-31-2-31 2-27 6-27 8-119 44-28 8-24 5-37-41-37-34-35-25-37-22-37-16-38-11-41-8-78-13z" fill="url(#r76)" stroke="url(#r76)"/>
<path d="M1418 1753l78 13 41 8 38 11 37 16 37 22 35 25 37 34 37 41 24-5 28-8 119-44 27-8 27-6 31-2 31 2 27 7 27 11 27 16 28 20 30 29 31 33 27 32 28 35 119 163 51 64 20-3 17 0 21 1 17 2 34 9 17 6 20 9 38 22 37 26 41 32 79 65-7 2-79-70-41-34-37-27-37-22-21-9-17-6-17-4-17-3-17-1-21 0-17 2-20 5-24-32-27-38-119-180-28-39-27-36-31-36-30-30-27-21-28-17-27-11-27-5-14-1-17 1-31 5-27 9-27 12-89 46-30 15-28 11-23 8-38-44-37-37-34-26-17-11-21-12-17-7-20-8-38-10-41-7-78-8z" fill="url(#r77)" stroke="url(#r77)"/>
<path d="M1411 1755l78 8 41 7 38 10 20 8 17 7 21 12 17 11 34 26 37 37 38 44 23-8 28-11 30-15 89-46 27-12 27-9 31-5 17-1 14 1 27 5 27 11 28 17 27 21 30 30 31 36 27 36 28 39 119 180 27 38 24 32 20-5 17-2 21 0 17 1 17 3 17 4 17 6 21 9 37 22 37 27 41 34 79 70-11 3-78-74-41-36-38-28-20-13-17-10-21-9-17-5-17-4-17-2-17 0-20 2-17 3-21 7-24-34-27-42-119-197-27-43-28-39-30-39-31-32-27-23-27-17-14-6-14-4-13-3-14-1-14 0-17 2-13 2-17 6-27 12-28 15-88 60-31 19-27 14-24 11-38-48-20-22-17-17-34-28-17-11-21-11-17-8-20-8-38-8-40-5-79-4z" fill="url(#r78)" stroke="url(#r78)"/>
<path d="M1400 1758l79 4 40 5 38 8 20 8 17 8 21 11 17 11 34 28 17 17 20 22 38 48 24-11 27-14 31-19 88-60 28-15 27-12 17-6 13-2 17-2 14 0 14 1 13 3 14 4 14 6 27 17 27 23 31 32 30 39 28 39 27 43 119 197 27 42 24 34 21-7 17-3 20-2 17 0 17 2 17 4 17 5 21 9 17 10 20 13 38 28 41 36 78 74-8 3-78-76-41-36-38-29-20-13-17-9-21-9-17-6-17-4-17-1-17 0-20 2-17 4-21 7-24-35-27-42-119-202-27-43-28-40-30-40-31-33-27-23-27-17-14-6-14-4-13-3-14-1-14 0-17 2-13 4-17 6-28 12-27 17-88 62-31 21-27 15-24 11-38-48-20-23-17-17-17-15-17-13-17-12-21-11-17-8-20-7-38-9-40-4-79-2z" fill="url(#r79)" stroke="url(#r79)"/>
<path d="M1392 1761l79 2 40 4 38 9 20 7 17 8 21 11 17 12 17 13 17 15 17 17 20 23 38 48 24-11 27-15 31-21 88-62 27-17 28-12 17-6 13-4 17-2 14 0 14 1 13 3 14 4 14 6 27 17 27 23 31 33 30 40 28 40 27 43 119 202 27 42 24 35 21-7 17-4 20-2 17 0 17 1 17 4 17 6 21 9 17 9 20 13 38 29 41 36 78 76-8 2-78-74-41-36-37-29-21-13-17-9-20-9-17-6-17-4-17-2-18 0-20 2-17 4-20 6-24-34-28-41-119-198-27-42-27-39-31-39-31-33-27-22-27-17-14-6-13-4-14-3-14-2-13 0-17 2-14 3-17 6-27 12-27 15-89 59-31 19-27 15-24 10-37-47-21-22-17-17-34-28-17-11-20-12-17-8-21-7-37-9-41-4-79-4z" fill="url(#r80)" stroke="url(#r80)"/>
<path d="M1384 1763l79 4 41 4 37 9 21 7 17 8 20 12 17 11 34 28 17 17 21 22 37 47 24-10 27-15 31-19 89-59 27-15 27-12 17-6 14-3 17-2 13 0 14 2 14 3 13 4 14 6 27 17 27 22 31 33 31 39 27 39 27 42 119 198 28 41 24 34 20-6 17-4 20-2 18 0 17 2 17 4 17 6 20 9 17 9 21 13 37 29 41 36 78 74-9 2-78-69-41-34-38-28-37-21-20-9-18-6-17-5-17-3-17-1-20 1-17 2-21 4-23-31-28-38-119-180-27-39-27-36-31-36-31-30-27-22-27-16-28-11-27-6-13 0-17 0-31 6-27 8-28 12-88 46-31 15-27 12-24 7-37-44-38-36-34-27-17-11-20-11-17-8-21-8-37-10-41-6-79-9z" fill="url(#r81)" stroke="url(#r81)"/>
<path d="M1375 1765l79 9 41 6 37 10 21 8 17 8 20 11 17 11 34 27 38 36 37 44 24-7 27-12 31-15 88-46 28-12 27-8 31-6 17 0 13 0 27 6 28 11 27 16 27 22 31 30 31 36 27 36 27 39 119 180 28 38 23 31 21-4 17-2 20-1 17 1 17 3 17 5 18 6 20 9 37 21 38 28 41 34 78 69-5 2-79-65-41-32-37-26-38-22-20-9-17-6-34-9-17-2-21-1-17 0-20 3-51-63-119-163-28-35-27-33-31-33-30-28-28-21-27-16-27-11-27-6-31-3-31 3-27 5-27 8-119 44-28 8-24 5-37-41-37-34-35-25-37-21-37-16-38-12-41-8-78-13z" fill="url(#r82)" stroke="url(#r82)"/>
<path d="M1370 1767l78 13 41 8 38 12 37 16 37 21 35 25 37 34 37 41 24-5 28-8 119-44 27-8 27-5 31-3 31 3 27 6 27 11 27 16 28 21 30 28 31 33 27 33 28 35 119 163 51 63 20-3 17 0 21 1 17 2 34 9 17 6 20 9 38 22 37 26 41 32 79 65-5 1-78-61-41-30-38-24-37-21-38-16-34-10-37-6-38-1-51-57-119-145-54-62-31-30-31-26-27-19-27-15-28-12-27-8-30-4-31-1-27 3-28 4-119 27-27 4-24 2-38-37-37-31-34-24-38-21-37-16-37-13-41-11-79-17z" fill="url(#r83)" stroke="url(#r83)"/>
<path d="M1365 1768l79 17 41 11 37 13 37 16 38 21 34 24 37 31 38 37 24-2 27-4 119-27 28-4 27-3 31 1 30 4 27 8 28 12 27 15 27 19 31 26 31 30 54 62 119 145 51 57 38 1 37 6 34 10 38 16 37 21 38 24 41 30 78 61-4 2-78-57-41-28-37-24-38-20-37-17-34-11-38-9-37-4-52-50-119-129-54-54-31-27-31-24-27-18-27-15-27-12-28-9-30-7-31-3-27-1-27 1-120 9-51 0-37-33-38-29-34-22-37-21-38-17-37-13-41-13-79-21z" fill="url(#r84)" stroke="url(#r84)"/>
<path d="M1361 1770l79 21 41 13 37 13 38 17 37 21 34 22 38 29 37 33 51 0 120-9 27-1 27 1 31 3 30 7 28 9 27 12 27 15 27 18 31 24 31 27 54 54 119 129 52 50 37 4 38 9 34 11 37 17 38 20 37 24 41 28 78 57-3 1-119-79-38-22-37-20-38-17-34-13-37-11-38-8-51-44-119-111-55-48-30-24-31-22-27-17-27-14-28-13-27-10-31-9-30-6-55-7-119-7-51-7-38-29-37-27-34-21-38-20-37-17-38-15-119-40z" fill="url(#r85)" stroke="url(#r85)"/>
<path d="M1358 1771l119 40 38 15 37 17 38 20 34 21 37 27 38 29 51 7 119 7 55 7 30 6 31 9 27 10 28 13 27 14 27 17 31 22 30 24 55 48 119 111 51 44 38 8 37 11 34 13 38 17 37 20 38 22 119 79-3 0-119-72-75-40-38-18-34-14-37-14-38-11-51-38-119-94-55-40-61-41-55-30-54-24-31-11-30-10-55-13-119-25-51-13-38-26-37-24-34-19-38-20-37-18-38-16-119-47z" fill="url(#r86)" stroke="url(#r86)"/>
<path d="M1355 1771l119 47 38 16 37 18 38 20 34 19 37 24 38 26 51 13 119 25 55 13 30 10 31 11 54 24 55 30 61 41 55 40 119 94 51 38 38 11 37 14 34 14 38 18 75 40 119 72-3 1-119-65-75-39-72-34-75-31-224-142-62-36-54-28-55-26-61-25-225-82-75-44-72-37-74-36-120-53z" fill="url(#r87)" stroke="url(#r87)"/>
<path d="M1352 1772l120 53 74 36 72 37 75 44 225 82 61 25 55 26 54 28 62 36 224 142 75 31 72 34 75 39 119 65-2 1-1363-678z" fill="url(#r88)" stroke="url(#r88)"/>
<path d="M1350 1773l1363 678-2 0-194-100-71-35-75-34-225-127-62-33-54-28-55-27-61-27-225-97-75-40-71-37-195-93z" fill="url(#r89)" stroke="url(#r89)"/>
<path d="M1348 1773l195 93 71 37 75 40 225 97 61 27 55 27 54 28 62 33 225 127 75 34 71 35 194 100-1 1-119-66-75-39-72-34-75-31-225-142-61-36-54-28-55-26-61-25-225-82-75-43-72-38-75-35-119-53z" fill="url(#r90)" stroke="url(#r90)"/>
<path d="M1347 1774l119 53 75 35 72 38 75 43 225 82 61 25 55 26 54 28 61 36 225 142 75 31 72 34 75 39 119 66-1 0-119-69-75-40-72-32-37-15-38-13-51-35-119-85-55-38-61-38-55-29-54-25-61-23-55-17-119-33-51-16-75-47-72-38-75-35-119-50z" fill="url(#r91)" stroke="url(#r91)"/>
<path d="M1346 1774l119 50 75 35 72 38 75 47 51 16 119 33 55 17 61 23 54 25 55 29 61 38 55 38 119 85 51 35 38 13 37 15 72 32 75 40 119 69-1 0-120-72-74-40-38-18-34-14-38-14-37-11-51-38-119-94-55-41-61-40-55-31-54-24-31-11-31-9-54-13-119-25-51-13-38-26-37-24-34-19-38-20-37-18-38-16-119-47z" fill="url(#r92)" stroke="url(#r92)"/>
<path d="M1345 1774l119 47 38 16 37 18 38 20 34 19 37 24 38 26 51 13 119 25 54 13 31 9 31 11 54 24 55 31 61 40 55 41 119 94 51 38 37 11 38 14 34 14 38 18 74 40 120 72-1 1-120-75-37-22-38-20-37-17-34-14-38-12-37-10-51-41-119-102-55-44-31-23-30-21-28-16-27-15-27-12-27-11-31-10-31-8-54-10-119-16-52-10-37-27-37-25-35-21-37-20-38-17-37-16-119-43z" fill="url(#r93)" stroke="url(#r93)"/>
<path d="M1344 1775l119 43 37 16 38 17 37 20 35 21 37 25 37 27 52 10 119 16 54 10 31 8 31 10 27 11 27 12 27 15 28 16 30 21 31 23 55 44 119 102 51 41 37 10 38 12 34 14 37 17 38 20 37 22 120 75-2 0-119-78-37-23-38-20-37-17-34-13-38-11-37-7-51-45-120-111-54-47-31-24-30-22-28-17-27-15-27-12-27-10-31-9-31-7-54-6-120-8-51-6-37-30-38-26-34-21-37-20-38-18-37-15-119-40z" fill="url(#r94)" stroke="url(#r94)"/>
<path d="M1343 1775l119 40 37 15 38 18 37 20 34 21 38 26 37 30 51 6 120 8 54 6 31 7 31 9 27 10 27 12 27 15 28 17 30 22 31 24 54 47 120 111 51 45 37 7 38 11 34 13 37 17 38 20 37 23 119 78-1 0-119-81-37-23-38-20-37-17-34-12-38-10-37-6-51-48-120-119-54-51-31-26-31-23-27-17-27-15-27-12-28-10-30-8-31-4-27-3-27-1-120 1-51-3-37-31-38-28-34-22-37-20-38-17-37-15-41-13-78-24z" fill="url(#r95)" stroke="url(#r95)"/>
<path d="M1342 1775l78 24 41 13 37 15 38 17 37 20 34 22 38 28 37 31 51 3 120-1 27 1 27 3 31 4 30 8 28 10 27 12 27 15 27 17 31 23 31 26 54 51 120 119 51 48 37 6 38 10 34 12 37 17 38 20 37 23 119 81-1 1-78-57-41-28-37-24-38-20-37-17-34-11-38-8-37-5-51-50-120-129-54-54-31-27-31-24-27-18-27-15-27-12-28-9-30-7-31-3-27-1-27 1-120 10-51-1-37-33-38-29-34-22-37-21-38-17-37-13-41-13-78-21z" fill="url(#r96)" stroke="url(#r96)"/>
<path d="M1341 1776l78 21 41 13 37 13 38 17 37 21 34 22 38 29 37 33 51 1 120-10 27-1 27 1 31 3 30 7 28 9 27 12 27 15 27 18 31 24 31 27 54 54 120 129 51 50 37 5 38 8 34 11 37 17 38 20 37 24 41 28 78 57-1 0-78-59-41-29-37-24-38-21-37-16-34-11-38-7-37-2-52-54-119-137-54-58-31-29-31-25-27-18-27-16-27-11-28-9-30-5-31-2-27 1-27 2-120 19-27 2-24 1-37-35-38-30-34-24-37-21-38-16-37-13-41-12-79-19z" fill="url(#r97)" stroke="url(#r97)"/>
<path d="M1339 1776l79 19 41 12 37 13 38 16 37 21 34 24 38 30 37 35 24-1 27-2 120-19 27-2 27-1 31 2 30 5 28 9 27 11 27 16 27 18 31 25 31 29 54 58 119 137 52 54 37 2 38 7 34 11 37 16 38 21 37 24 41 29 78 59-1 0-78-61-41-30-37-25-38-20-37-17-35-10-37-5-37-1-52-57-119-146-54-61-31-30-31-26-27-19-27-16-27-11-28-8-30-5-31 0-27 2-28 5-119 27-27 4-24 2-37-37-38-31-34-24-37-21-38-17-37-12-41-11-79-17z" fill="url(#r98)" stroke="url(#r98)"/>
<path d="M1338 1776l79 17 41 11 37 12 38 17 37 21 34 24 38 31 37 37 24-2 27-4 119-27 28-5 27-2 31 0 30 5 28 8 27 11 27 16 27 19 31 26 31 30 54 61 119 146 52 57 37 1 37 5 35 10 37 17 38 20 37 25 41 30 78 61-1 1-78-64-41-31-38-25-37-21-37-16-35-9-17-3-20-2-37 1-52-60-119-154-27-34-27-31-31-31-31-27-27-20-27-16-27-11-28-7-30-4-31 1-27 4-28 6-119 36-27 6-24 3-37-38-38-33-34-25-37-21-38-16-37-12-41-10-79-14z" fill="url(#r99)" stroke="url(#r99)"/>
<path d="M1337 1777l79 14 41 10 37 12 38 16 37 21 34 25 38 33 37 38 24-3 27-6 119-36 28-6 27-4 31-1 30 4 28 7 27 11 27 16 27 20 31 27 31 31 27 31 27 34 119 154 52 60 37-1 20 2 17 3 35 9 37 16 37 21 38 25 41 31 78 64-1 0-78-65-41-33-38-26-37-21-20-9-17-6-35-9-17-2-20-1-17 0-20 2-52-63-119-163-27-35-27-32-31-33-31-29-27-20-27-16-27-11-28-7-30-2-31 2-27 6-28 8-119 44-27 8-24 4-37-40-38-34-34-25-37-22-38-16-37-11-41-8-79-13z" fill="url(#r100)" stroke="url(#r100)"/>
<path d="M1336 1777l79 13 41 8 37 11 38 16 37 22 34 25 38 34 37 40 24-4 27-8 119-44 28-8 27-6 31-2 30 2 28 7 27 11 27 16 27 20 31 29 31 33 27 32 27 35 119 163 52 63 20-2 17 0 20 1 17 2 35 9 17 6 20 9 37 21 38 26 41 33 78 65-1 0-78-67-41-33-38-27-37-22-20-9-17-6-17-5-18-3-17-2-20 0-17 1-20 4-52-67-119-171-27-37-27-34-31-35-31-29-27-21-27-16-27-11-28-6-30-2-31 4-27 7-28 10-88 40-31 13-27 10-24 6-37-42-38-36-34-25-17-11-20-11-38-16-37-11-41-7-79-11z" fill="url(#r101)" stroke="url(#r101)"/>
<path d="M1335 1777l79 11 41 7 37 11 38 16 20 11 17 11 34 25 38 36 37 42 24-6 27-10 31-13 88-40 28-10 27-7 31-4 30 2 28 6 27 11 27 16 27 21 31 29 31 35 27 34 27 37 119 171 52 67 20-4 17-1 20 0 17 2 18 3 17 5 17 6 20 9 37 22 38 27 41 33 78 67-1 1-78-70-41-34-37-28-38-21-20-9-17-6-17-5-18-3-17-1-20 1-17 2-20 4-24-31-28-38-119-181-27-38-27-36-31-36-31-31-27-21-27-16-27-11-28-6-13-1-17 1-31 5-27 9-28 12-88 46-31 15-27 12-24 7-37-44-38-36-34-27-17-11-20-11-17-8-21-8-37-10-41-6-79-8z" fill="url(#r102)" stroke="url(#r102)"/>
<path d="M1334 1778l79 8 41 6 37 10 21 8 17 8 20 11 17 11 34 27 38 36 37 44 24-7 27-12 31-15 88-46 28-12 27-9 31-5 17-1 13 1 28 6 27 11 27 16 27 21 31 31 31 36 27 36 27 38 119 181 28 38 24 31 20-4 17-2 20-1 17 1 18 3 17 5 17 6 20 9 38 21 37 28 41 34 78 70-1 0-78-72-41-35-37-28-21-13-17-9-20-9-17-6-17-4-17-3-17 0-21 1-17 3-20 5-24-32-28-40-119-189-27-41-27-37-31-37-31-32-27-22-27-16-27-11-28-5-13 0-17 1-31 7-27 10-27 14-89 52-31 18-27 12-24 9-37-45-21-22-17-16-34-27-17-12-20-11-17-8-21-7-37-10-41-5-79-6z" fill="url(#r103)" stroke="url(#r103)"/>
<path d="M1333 1778l79 6 41 5 37 10 21 7 17 8 20 11 17 12 34 27 17 16 21 22 37 45 24-9 27-12 31-18 89-52 27-14 27-10 31-7 17-1 13 0 28 5 27 11 27 16 27 22 31 32 31 37 27 37 27 41 119 189 28 40 24 32 20-5 17-3 21-1 17 0 17 3 17 4 17 6 20 9 17 9 21 13 37 28 41 35 78 72-1 0-78-74-41-36-37-29-21-13-17-9-20-9-17-5-17-4-17-2-17-1-21 2-17 4-20 7-24-34-27-42-120-198-27-42-27-39-31-39-31-33-27-22-27-17-14-6-13-5-14-2-14-2-13 0-17 2-14 3-17 5-27 12-27 16-89 59-31 20-27 14-24 11-37-48-21-22-17-17-34-28-17-11-20-12-17-7-21-8-37-8-41-5-78-4z" fill="url(#r104)" stroke="url(#r104)"/>
<path d="M1333 1778l78 4 41 5 37 8 21 8 17 7 20 12 17 11 34 28 17 17 21 22 37 48 24-11 27-14 31-20 89-59 27-16 27-12 17-5 14-3 17-2 13 0 14 2 14 2 13 5 14 6 27 17 27 22 31 33 31 39 27 39 27 42 120 198 27 42 24 34 20-7 17-4 21-2 17 1 17 2 17 4 17 5 20 9 17 9 21 13 37 29 41 36 78 74-1 0-78-76-41-37-37-29-21-13-17-10-20-8-17-6-17-3-17-2-17 0-21 3-17 4-20 8-24-35-27-44-120-206-27-44-27-41-31-40-31-34-27-23-27-17-14-6-13-4-14-3-14-1-13 0-17 3-14 4-17 6-27 13-27 17-89 66-31 22-27 16-24 12-37-49-21-23-17-18-17-15-17-13-17-12-20-11-17-8-21-7-37-8-41-4-78-2z" fill="url(#r105)" stroke="url(#r105)"/>
<path d="M1332 1778l78 2 41 4 37 8 21 7 17 8 20 11 17 12 17 13 17 15 17 18 21 23 37 49 24-12 27-16 31-22 89-66 27-17 27-13 17-6 14-4 17-3 13 0 14 1 14 3 13 4 14 6 27 17 27 23 31 34 31 40 27 41 27 44 120 206 27 44 24 35 20-8 17-4 21-3 17 0 17 2 17 3 17 6 20 8 17 10 21 13 37 29 41 37 78 76-1 1-78-79-41-38-37-30-21-13-17-9-20-9-17-5-17-4-17-1-17 1-21 3-17 6-20 8-24-37-27-45-120-214-27-46-27-43-31-42-30-34-28-24-13-10-14-7-14-6-13-4-14-3-13 0-14 0-17 4-14 4-17 7-27 15-27 19-89 72-31 24-27 18-24 13-37-51-21-24-17-18-17-15-17-14-17-12-20-11-17-8-21-7-17-4-20-3-41-3-78 1z" fill="url(#r106)" stroke="url(#r106)"/>
<path d="M1331 1779l78-1 41 3 20 3 17 4 21 7 17 8 20 11 17 12 17 14 17 15 17 18 21 24 37 51 24-13 27-18 31-24 89-72 27-19 27-15 17-7 14-4 17-4 14 0 13 0 14 3 13 4 14 6 14 7 13 10 28 24 30 34 31 42 27 43 27 46 120 214 27 45 24 37 20-8 17-6 21-3 17-1 17 1 17 4 17 5 20 9 17 9 21 13 37 30 41 38 78 79-79-81-41-39-37-30-21-14-17-9-20-9-17-5-17-3-17-1-17 2-21 4-17 6-20 9-24-38-27-47-120-223-27-48-27-44-31-43-30-36-28-24-13-10-14-7-14-6-13-4-14-2-13-1-14 1-17 4-14 5-17 8-27 17-27 21-89 78-30 26-28 20-24 14-37-52-21-25-17-18-17-16-17-14-17-12-20-12-17-7-21-7-17-4-20-3-41-2-78 3z" fill="url(#r107)" stroke="url(#r107)"/>
<path d="M1330 1779l78-3 41 2 20 3 17 4 21 7 17 7 20 12 17 12 17 14 17 16 17 18 21 25 37 52 24-14 28-20 30-26 89-78 27-21 27-17 17-8 14-5 17-4 14-1 13 1 14 2 13 4 14 6 14 7 13 10 28 24 30 36 31 43 27 44 27 48 120 223 27 47 24 38 20-9 17-6 21-4 17-2 17 1 17 3 17 5 20 9 17 9 21 14 37 30 41 39 79 81-1 0-79-83-41-40-37-31-21-13-17-10-20-8-17-5-17-3-17-1-17 2-21 5-17 7-20 11-24-40-27-49-119-232-28-49-27-46-31-45-30-36-28-25-13-10-14-8-13-6-14-4-14-2-13 0-14 2-17 5-14 5-17 9-27 18-27 23-89 85-30 28-28 22-24 16-37-55-20-25-17-19-18-17-17-14-17-12-20-12-17-7-21-7-17-3-20-3-41-1-78 5z" fill="url(#r108)" stroke="url(#r108)"/>
<path d="M1329 1779l78-5 41 1 20 3 17 3 21 7 17 7 20 12 17 12 17 14 18 17 17 19 20 25 37 55 24-16 28-22 30-28 89-85 27-23 27-18 17-9 14-5 17-5 14-2 13 0 14 2 14 4 13 6 14 8 13 10 28 25 30 36 31 45 27 46 28 49 119 232 27 49 24 40 20-11 17-7 21-5 17-2 17 1 17 3 17 5 20 8 17 10 21 13 37 31 41 40 79 83-1 0-79-85-41-41-37-31-21-14-17-10-20-8-17-5-17-2-17 0-17 2-21 6-17 7-20 12-24-41-27-51-119-240-28-52-27-47-31-46-17-22-13-16-14-14-14-11-13-10-14-8-13-6-14-4-14-1-13 0-14 2-17 5-14 6-17 10-27 20-27 24-27 28-62 64-30 30-28 24-23 17-21-32-17-24-20-27-17-19-17-17-17-14-18-13-20-11-17-8-20-6-17-4-21-2-41 0-78 7z" fill="url(#r109)" stroke="url(#r109)"/>
<path d="M1328 1779l78-7 41 0 21 2 17 4 20 6 17 8 20 11 18 13 17 14 17 17 17 19 20 27 17 24 21 32 23-17 28-24 30-30 62-64 27-28 27-24 27-20 17-10 14-6 17-5 14-2 13 0 14 1 14 4 13 6 14 8 13 10 14 11 14 14 13 16 17 22 31 46 27 47 28 52 119 240 27 51 24 41 20-12 17-7 21-6 17-2 17 0 17 2 17 5 20 8 17 10 21 14 37 31 41 41 79 85-1 1-79-88-41-42-37-32-20-14-18-9-20-9-17-4-17-3-17 1-17 3-21 6-17 9-20 12-24-42-27-52-119-250-28-53-27-49-31-47-17-23-13-16-14-14-13-12-14-10-14-8-13-6-14-4-14-1-13 1-14 2-17 6-14 7-17 10-27 22-27 26-27 29-62 69-30 32-28 26-23 18-21-33-17-25-20-27-17-20-17-17-17-15-17-12-21-12-17-7-20-7-17-3-21-2-41 1-78 10z" fill="url(#r110)" stroke="url(#r110)"/>
<path d="M1327 1780l78-10 41-1 21 2 17 3 20 7 17 7 21 12 17 12 17 15 17 17 17 20 20 27 17 25 21 33 23-18 28-26 30-32 62-69 27-29 27-26 27-22 17-10 14-7 17-6 14-2 13-1 14 1 14 4 13 6 14 8 14 10 13 12 14 14 13 16 17 23 31 47 27 49 28 53 119 250 27 52 24 42 20-12 17-9 21-6 17-3 17-1 17 3 17 4 20 9 18 9 20 14 37 32 41 42 79 88-1 0-79-90-40-42-21-19-17-14-20-14-17-10-21-8-17-5-17-2-17 1-17 3-20 8-17 9-21 14-24-44-27-54-119-258-28-55-27-50-30-49-17-24-14-16-14-15-13-12-14-10-14-8-13-6-14-3-14-2-13 1-14 3-17 7-13 7-17 12-28 23-27 28-27 31-62 73-30 35-27 27-24 20-21-35-17-25-20-28-17-20-17-18-17-15-17-13-21-12-17-7-20-6-17-3-21-2-20 1-21 1-78 12z" fill="url(#r111)" stroke="url(#r111)"/>
<path d="M1326 1780l78-12 21-1 20-1 21 2 17 3 20 6 17 7 21 12 17 13 17 15 17 18 17 20 20 28 17 25 21 35 24-20 27-27 30-35 62-73 27-31 27-28 28-23 17-12 13-7 17-7 14-3 13-1 14 2 14 3 13 6 14 8 14 10 13 12 14 15 14 16 17 24 30 49 27 50 28 55 119 258 27 54 24 44 21-14 17-9 20-8 17-3 17-1 17 2 17 5 21 8 17 10 20 14 17 14 21 19 40 42 79 90-1 0-79-91-40-44-21-20-17-14-20-14-17-10-21-8-17-4-17-2-17 1-17 4-20 8-17 10-21 15-24-45-27-56-119-267-27-56-28-52-30-51-17-24-14-17-14-15-13-12-14-11-14-8-13-5-14-4-13-1-14 2-14 3-17 7-13 8-17 12-28 25-27 30-27 33-61 78-31 37-27 29-24 21-21-35-17-27-20-29-17-20-17-18-17-16-17-13-21-12-17-7-20-6-17-3-21-1-20 1-21 2-78 14z" fill="url(#r112)" stroke="url(#r112)"/>
<path d="M1325 1780l78-14 21-2 20-1 21 1 17 3 20 6 17 7 21 12 17 13 17 16 17 18 17 20 20 29 17 27 21 35 24-21 27-29 31-37 61-78 27-33 27-30 28-25 17-12 13-8 17-7 14-3 14-2 13 1 14 4 13 5 14 8 14 11 13 12 14 15 14 17 17 24 30 51 28 52 27 56 119 267 27 56 24 45 21-15 17-10 20-8 17-4 17-1 17 2 17 4 21 8 17 10 20 14 17 14 21 20 40 44 79 91-1 1-78-94-41-45-21-20-17-14-20-15-17-9-21-9-17-4-17-1-17 1-17 5-20 9-17 10-21 16-24-46-27-58-119-275-27-59-28-53-30-52-17-25-14-17-14-16-13-12-14-11-13-8-14-5-14-3-13-1-14 1-14 4-17 8-13 8-17 14-28 26-27 31-27 35-61 83-31 39-27 30-24 23-21-36-17-27-20-30-17-21-17-19-17-15-17-13-21-12-17-8-20-5-17-3-21-1-20 2-20 3-79 16z" fill="url(#r113)" stroke="url(#r113)"/>
<path d="M1324 1781l79-16 20-3 20-2 21 1 17 3 20 5 17 8 21 12 17 13 17 15 17 19 17 21 20 30 17 27 21 36 24-23 27-30 31-39 61-83 27-35 27-31 28-26 17-14 13-8 17-8 14-4 14-1 13 1 14 3 14 5 13 8 14 11 13 12 14 16 14 17 17 25 30 52 28 53 27 59 119 275 27 58 24 46 21-16 17-10 20-9 17-5 17-1 17 1 17 4 21 9 17 9 20 15 17 14 21 20 41 45 78 94-1 0-78-96-41-46-21-20-17-15-20-15-17-9-21-8-17-4-17-1-17 2-17 5-20 9-17 11-21 17-24-47-27-60-119-283-27-61-28-55-30-54-17-25-14-18-13-15-14-13-14-11-13-8-14-5-14-3-13-1-14 2-14 4-17 9-13 9-17 14-27 28-28 33-27 37-61 87-31 41-27 32-24 24-21-37-17-28-20-30-17-22-17-19-17-16-17-13-21-12-17-7-20-6-17-2-21 0-20 1-20 4-79 18z" fill="url(#r114)" stroke="url(#r114)"/>
<path d="M1323 1781l79-18 20-4 20-1 21 0 17 2 20 6 17 7 21 12 17 13 17 16 17 19 17 22 20 30 17 28 21 37 24-24 27-32 31-41 61-87 27-37 28-33 27-28 17-14 13-9 17-9 14-4 14-2 13 1 14 3 14 5 13 8 14 11 14 13 13 15 14 18 17 25 30 54 28 55 27 61 119 283 27 60 24 47 21-17 17-11 20-9 17-5 17-2 17 1 17 4 21 8 17 9 20 15 17 15 21 20 41 46 78 96-1 0-78-98-41-47-21-20-17-15-20-15-17-10-21-8-17-4-17-1-17 3-17 5-20 11-17 12-21 18-23-50-28-61-119-292-27-62-27-57-31-55-17-26-14-18-13-16-14-13-14-11-13-8-14-6-14-2-13-1-14 2-13 5-17 9-14 10-17 15-27 29-28 36-27 38-61 92-31 43-27 34-24 26-20-39-17-29-21-30-17-23-17-19-17-16-17-14-20-12-18-7-20-5-17-2-20 0-21 2-20 4-79 20z" fill="url(#r115)" stroke="url(#r115)"/>
<path d="M1322 1781l79-20 20-4 21-2 20 0 17 2 20 5 18 7 20 12 17 14 17 16 17 19 17 23 21 30 17 29 20 39 24-26 27-34 31-43 61-92 27-38 28-36 27-29 17-15 14-10 17-9 13-5 14-2 13 1 14 2 14 6 13 8 14 11 14 13 13 16 14 18 17 26 31 55 27 57 27 62 119 292 28 61 23 50 21-18 17-12 20-11 17-5 17-3 17 1 17 4 21 8 17 10 20 15 17 15 21 20 41 47 78 98-1 0-78-100-41-48-20-21-18-15-20-15-17-10-20-8-17-3-17-1-18 3-17 6-20 11-17 13-20 19-24-51-28-63-119-301-27-64-27-58-31-56-17-27-14-19-13-16-14-13-14-11-13-8-14-6-13-3-14 0-14 3-13 5-17 10-14 10-17 16-27 31-28 37-27 41-61 96-31 45-27 36-24 27-20-39-17-30-21-32-17-23-17-19-17-17-17-13-20-13-17-7-21-5-17-2-20 1-21 2-20 5-79 22z" fill="url(#r116)" stroke="url(#r116)"/>
<path d="M1321 1781l79-22 20-5 21-2 20-1 17 2 21 5 17 7 20 13 17 13 17 17 17 19 17 23 21 32 17 30 20 39 24-27 27-36 31-45 61-96 27-41 28-37 27-31 17-16 14-10 17-10 13-5 14-3 14 0 13 3 14 6 13 8 14 11 14 13 13 16 14 19 17 27 31 56 27 58 27 64 119 301 28 63 24 51 20-19 17-13 20-11 17-6 18-3 17 1 17 3 20 8 17 10 20 15 18 15 20 21 41 48 78 100-1 1-78-103-41-49-20-21-17-15-21-16-17-10-20-8-17-3-17 0-17 3-17 7-21 12-17 13-20 20-24-52-28-64-119-310-27-66-27-60-31-58-17-27-14-19-13-17-14-14-13-11-14-8-14-5-13-3-14 1-14 2-13 6-17 10-14 11-17 17-27 33-27 38-28 43-61 101-31 47-27 38-24 28-20-40-17-31-21-32-17-23-17-20-17-17-17-14-20-12-17-7-21-5-17-2-20 1-21 3-20 5-78 25z" fill="url(#r117)" stroke="url(#r117)"/>
<path d="M1321 1782l78-25 20-5 21-3 20-1 17 2 21 5 17 7 20 12 17 14 17 17 17 20 17 23 21 32 17 31 20 40 24-28 27-38 31-47 61-101 28-43 27-38 27-33 17-17 14-11 17-10 13-6 14-2 14-1 13 3 14 5 14 8 13 11 14 14 13 17 14 19 17 27 31 58 27 60 27 66 119 310 28 64 24 52 20-20 17-13 21-12 17-7 17-3 17 0 17 3 20 8 17 10 21 16 17 15 20 21 41 49 78 103-1 0-78-105-41-50-20-21-17-16-21-15-17-10-20-8-17-3-17 0-17 3-17 7-21 13-17 14-20 21-24-53-27-66-120-319-27-67-27-62-31-59-17-28-13-20-14-17-14-14-13-11-14-8-14-5-13-3-14 1-14 3-13 6-17 11-14 11-17 18-27 34-27 41-28 45-61 105-31 49-27 40-24 29-20-41-17-31-21-33-17-24-17-21-17-17-17-14-20-12-17-7-21-5-17-1-20 1-21 3-20 6-78 27z" fill="url(#r118)" stroke="url(#r118)"/>
<path d="M1320 1782l78-27 20-6 21-3 20-1 17 1 21 5 17 7 20 12 17 14 17 17 17 21 17 24 21 33 17 31 20 41 24-29 27-40 31-49 61-105 28-45 27-41 27-34 17-18 14-11 17-11 13-6 14-3 14-1 13 3 14 5 14 8 13 11 14 14 14 17 13 20 17 28 31 59 27 62 27 67 120 319 27 66 24 53 20-21 17-14 21-13 17-7 17-3 17 0 17 3 20 8 17 10 21 15 17 16 20 21 41 50 78 105-79-107-41-51-20-22-17-15-21-16-17-10-20-8-17-3-17 1-17 4-17 7-21 14-17 15-20 22-24-55-27-68-120-327-27-69-27-63-31-62-17-28-13-20-14-17-14-14-13-12-14-8-14-5-13-3-14 1-13 4-14 6-17 12-14 12-17 18-27 36-27 42-28 47-61 110-30 52-28 41-24 31-20-43-17-32-21-34-17-24-17-21-17-17-17-14-20-13-17-7-21-4-17-2-20 2-20 4-21 6-78 29z" fill="url(#r119)" stroke="url(#r119)"/>
<path d="M1319 1782l78-29 21-6 20-4 20-2 17 2 21 4 17 7 20 13 17 14 17 17 17 21 17 24 21 34 17 32 20 43 24-31 28-41 30-52 61-110 28-47 27-42 27-36 17-18 14-12 17-12 14-6 13-4 14-1 13 3 14 5 14 8 13 12 14 14 14 17 13 20 17 28 31 62 27 63 27 69 120 327 27 68 24 55 20-22 17-15 21-14 17-7 17-4 17-1 17 3 20 8 17 10 21 16 17 15 20 22 41 51 79 107-1 0-79-109-41-52-20-22-17-16-21-16-17-10-20-8-17-2-17 0-17 5-17 8-21 14-17 16-20 23-24-56-27-70-119-336-28-71-27-65-31-62-17-29-13-21-14-17-14-15-13-11-14-8-13-6-14-2-14 1-13 4-14 7-17 12-14 13-17 19-27 38-27 44-27 48-62 115-30 54-28 43-24 32-20-44-17-32-20-35-17-25-17-21-18-18-17-14-20-13-17-6-20-5-18-1-20 2-20 5-21 6-78 31z" fill="url(#r120)" stroke="url(#r120)"/>
<path d="M1318 1782l78-31 21-6 20-5 20-2 18 1 20 5 17 6 20 13 17 14 18 18 17 21 17 25 20 35 17 32 20 44 24-32 28-43 30-54 62-115 27-48 27-44 27-38 17-19 14-13 17-12 14-7 13-4 14-1 14 2 13 6 14 8 13 11 14 15 14 17 13 21 17 29 31 62 27 65 28 71 119 336 27 70 24 56 20-23 17-16 21-14 17-8 17-5 17 0 17 2 20 8 17 10 21 16 17 16 20 22 41 52 79 109-1 1-79-112-41-53-20-22-17-16-20-16-17-10-21-8-17-3-17 1-17 5-17 9-21 15-17 16-20 24-24-57-27-72-119-344-28-73-27-66-31-64-17-30-13-21-14-18-13-14-14-12-14-8-13-6-14-2-14 2-13 4-14 7-17 13-13 13-18 21-27 39-27 46-27 50-62 119-30 56-28 44-23 34-21-44-17-34-20-35-17-26-17-21-17-18-17-15-21-12-17-7-20-4-17-1-21 2-20 5-21 7-78 34z" fill="url(#r121)" stroke="url(#r121)"/>
<path d="M1317 1783l78-34 21-7 20-5 21-2 17 1 20 4 17 7 21 12 17 15 17 18 17 21 17 26 20 35 17 34 21 44 23-34 28-44 30-56 62-119 27-50 27-46 27-39 18-21 13-13 17-13 14-7 13-4 14-2 14 2 13 6 14 8 14 12 13 14 14 18 13 21 17 30 31 64 27 66 28 73 119 344 27 72 24 57 20-24 17-16 21-15 17-9 17-5 17-1 17 3 21 8 17 10 20 16 17 16 20 22 41 53 79 112-1 0-79-114-40-53-21-23-17-17-20-16-17-10-21-8-17-2-17 1-17 5-17 9-20 16-17 17-21 25-24-58-27-74-119-353-28-74-27-68-30-66-17-30-14-22-14-18-13-15-14-11-14-9-13-5-14-2-13 2-14 4-14 8-17 13-13 14-17 21-28 41-27 48-27 52-62 124-30 58-27 46-24 35-21-45-17-34-20-36-17-26-17-23-17-18-17-14-21-13-17-7-20-4-17 0-21 2-20 6-21 7-78 36z" fill="url(#r122)" stroke="url(#r122)"/>
<path d="M1316 1783l78-36 21-7 20-6 21-2 17 0 20 4 17 7 21 13 17 14 17 18 17 23 17 26 20 36 17 34 21 45 24-35 27-46 30-58 62-124 27-52 27-48 28-41 17-21 13-14 17-13 14-8 14-4 13-2 14 2 13 5 14 9 14 11 13 15 14 18 14 22 17 30 30 66 27 68 28 74 119 353 27 74 24 58 21-25 17-17 20-16 17-9 17-5 17-1 17 2 21 8 17 10 20 16 17 17 21 23 40 53 79 114-1 0-78-116-41-54-21-24-17-16-20-17-17-10-21-8-17-2-17 2-17 5-17 10-20 17-17 17-21 27-24-60-27-76-119-361-27-77-28-69-30-67-17-31-14-22-14-18-13-15-14-12-13-9-14-5-14-2-13 2-14 5-14 8-17 14-13 15-17 22-28 42-27 50-27 54-61 128-31 60-27 48-24 37-21-47-17-35-20-37-17-26-17-23-17-18-17-15-21-13-17-7-20-4-17 0-21 3-20 6-21 8-78 38z" fill="url(#r123)" stroke="url(#r123)"/>
<path d="M1315 1783l78-38 21-8 20-6 21-3 17 0 20 4 17 7 21 13 17 15 17 18 17 23 17 26 20 37 17 35 21 47 24-37 27-48 31-60 61-128 27-54 27-50 28-42 17-22 13-15 17-14 14-8 14-5 13-2 14 2 14 5 13 9 14 12 13 15 14 18 14 22 17 31 30 67 28 69 27 77 119 361 27 76 24 60 21-27 17-17 20-17 17-10 17-5 17-2 17 2 21 8 17 10 20 17 17 16 21 24 41 54 78 116-1 0-78-118-41-55-21-24-17-17-20-17-17-10-21-7-17-2-17 2-17 6-17 10-20 17-17 19-21 27-24-62-27-77-119-370-27-78-28-71-30-68-17-32-14-22-14-19-13-16-14-12-13-8-14-5-14-2-13 2-14 5-14 9-17 15-13 15-17 23-27 44-28 51-27 56-61 133-31 62-27 50-24 38-21-48-17-35-20-38-17-27-17-23-17-19-17-15-21-13-17-6-20-4-17 0-21 3-20 7-20 8-79 40z" fill="url(#r124)" stroke="url(#r124)"/>
<path d="M1314 1783l79-40 20-8 20-7 21-3 17 0 20 4 17 6 21 13 17 15 17 19 17 23 17 27 20 38 17 35 21 48 24-38 27-50 31-62 61-133 27-56 28-51 27-44 17-23 13-15 17-15 14-9 14-5 13-2 14 2 14 5 13 8 14 12 13 16 14 19 14 22 17 32 30 68 28 71 27 78 119 370 27 77 24 62 21-27 17-19 20-17 17-10 17-6 17-2 17 2 21 7 17 10 20 17 17 17 21 24 41 55 78 118-1 1-78-121-41-56-21-24-17-18-20-16-17-11-21-7-17-2-17 2-17 7-17 10-20 18-17 20-21 28-23-63-28-79-119-378-27-80-27-73-31-70-17-33-14-22-13-19-14-16-14-12-13-9-14-5-14-1-13 2-14 6-13 9-17 15-14 16-17 24-27 45-28 53-27 59-61 137-31 64-27 52-24 39-20-48-17-37-21-38-17-28-17-23-17-19-17-15-21-13-17-7-20-4-17 1-20 3-21 7-20 9-79 43z" fill="url(#r125)" stroke="url(#r125)"/>
<path d="M1313 1784l79-43 20-9 21-7 20-3 17-1 20 4 17 7 21 13 17 15 17 19 17 23 17 28 21 38 17 37 20 48 24-39 27-52 31-64 61-137 27-59 28-53 27-45 17-24 14-16 17-15 13-9 14-6 13-2 14 1 14 5 13 9 14 12 14 16 13 19 14 22 17 33 31 70 27 73 27 80 119 378 28 79 23 63 21-28 17-20 20-18 17-10 17-7 17-2 17 2 21 7 17 11 20 16 17 18 21 24 41 56 78 121-1 0-78-123-41-57-20-25-18-17-20-17-17-10-20-8-17-1-18 2-17 7-17 11-20 19-17 20-20 30-24-65-28-80-119-387-27-83-27-74-31-71-17-33-14-23-13-20-14-16-14-12-13-9-14-4-13-2-14 3-14 6-13 9-17 16-14 17-17 24-27 47-28 55-27 60-61 142-31 66-27 54-24 41-20-50-17-37-21-40-17-28-17-23-17-20-17-15-20-13-17-7-21-3-17 0-20 5-21 7-20 9-79 45z" fill="url(#r126)" stroke="url(#r126)"/>
<path d="M1312 1784l79-45 20-9 21-7 20-5 17 0 21 3 17 7 20 13 17 15 17 20 17 23 17 28 21 40 17 37 20 50 24-41 27-54 31-66 61-142 27-60 28-55 27-47 17-24 14-17 17-16 13-9 14-6 14-3 13 2 14 4 13 9 14 12 14 16 13 20 14 23 17 33 31 71 27 74 27 83 119 387 28 80 24 65 20-30 17-20 20-19 17-11 17-7 18-2 17 1 20 8 17 10 20 17 18 17 20 25 41 57 78 123-1 0-78-124-41-59-20-25-17-18-21-17-17-10-20-7-17-2-17 3-17 7-17 12-21 19-17 21-20 31-24-66-28-82-119-396-27-84-27-76-31-73-17-33-14-24-13-20-14-16-13-12-14-9-14-5-13-1-14 3-14 6-13 10-17 17-14 17-17 25-27 49-27 56-28 63-61 146-31 69-27 55-24 42-20-51-17-38-21-40-17-28-17-25-17-19-17-16-20-13-17-6-21-4-17 1-20 5-21 7-20 10-79 47z" fill="url(#r127)" stroke="url(#r127)"/>
<path d="M1311 1784l79-47 20-10 21-7 20-5 17-1 21 4 17 6 20 13 17 16 17 19 17 25 17 28 21 40 17 38 20 51 24-42 27-55 31-69 61-146 28-63 27-56 27-49 17-25 14-17 17-17 13-10 14-6 14-3 13 1 14 5 14 9 13 12 14 16 13 20 14 24 17 33 31 73 27 76 27 84 119 396 28 82 24 66 20-31 17-21 21-19 17-12 17-7 17-3 17 2 20 7 17 10 21 17 17 18 20 25 41 59 78 124-1 1-78-127-20-31-21-29-20-25-17-18-21-17-17-11-20-7-17-1-17 3-17 7-17 12-21 21-17 22-20 31-24-67-27-84-120-405-27-85-27-78-17-43-14-31-17-35-14-23-13-20-14-17-13-12-14-9-14-5-13-1-14 3-14 7-13 10-17 17-14 18-17 26-27 50-27 59-28 64-61 151-31 71-27 57-24 43-20-52-17-38-21-41-17-29-17-25-17-20-17-15-20-14-17-6-21-3-17 1-20 5-21 8-20 11-78 49z" fill="url(#r128)" stroke="url(#r128)"/>
<path d="M1311 1785l78-49 20-11 21-8 20-5 17-1 21 3 17 6 20 14 17 15 17 20 17 25 17 29 21 41 17 38 20 52 24-43 27-57 31-71 61-151 28-64 27-59 27-50 17-26 14-18 17-17 13-10 14-7 14-3 13 1 14 5 14 9 13 12 14 17 13 20 14 23 17 35 14 31 17 43 27 78 27 85 120 405 27 84 24 67 20-31 17-22 21-21 17-12 17-7 17-3 17 1 20 7 17 11 21 17 17 18 20 25 21 29 20 31 78 127-1 0-78-129-20-32-21-29-20-25-17-19-21-17-17-11-10-4-10-3-17-1-17 4-17 8-17 12-21 21-17 23-20 32-24-68-27-86-120-413-27-88-27-79-17-44-14-31-17-36-13-24-14-20-14-17-13-13-14-8-14-5-13-1-14 3-13 7-14 11-17 18-14 18-17 27-27 52-27 60-28 66-61 156-31 73-27 59-24 44-20-53-17-39-21-42-17-29-17-25-17-20-17-16-20-13-17-7-21-3-17 2-20 5-21 8-20 12-78 51z" fill="url(#r129)" stroke="url(#r129)"/>
<path d="M1310 1785l78-51 20-12 21-8 20-5 17-2 21 3 17 7 20 13 17 16 17 20 17 25 17 29 21 42 17 39 20 53 24-44 27-59 31-73 61-156 28-66 27-60 27-52 17-27 14-18 17-18 14-11 13-7 14-3 13 1 14 5 14 8 13 13 14 17 14 20 13 24 17 36 14 31 17 44 27 79 27 88 120 413 27 86 24 68 20-32 17-23 21-21 17-12 17-8 17-4 17 1 10 3 10 4 17 11 21 17 17 19 20 25 21 29 20 32 78 129-79-131-20-32-21-30-20-26-17-18-21-18-17-10-10-5-10-2-17-1-17 3-17 9-17 13-21 22-17 23-20 34-24-70-27-88-119-422-28-89-27-80-17-45-14-33-17-36-13-24-14-21-14-17-13-13-14-9-13-4-14-1-14 3-13 8-14 11-17 19-14 18-17 28-27 54-27 62-27 68-62 160-30 75-28 60-24 47-20-54-17-41-20-42-17-30-18-25-17-21-17-16-20-13-17-6-21-3-17 1-20 6-20 9-21 12-78 53z" fill="url(#r130)" stroke="url(#r130)"/>
<path d="M1309 1785l78-53 21-12 20-9 20-6 17-1 21 3 17 6 20 13 17 16 17 21 18 25 17 30 20 42 17 41 20 54 24-47 28-60 30-75 62-160 27-68 27-62 27-54 17-28 14-18 17-19 14-11 13-8 14-3 14 1 13 4 14 9 13 13 14 17 14 21 13 24 17 36 14 33 17 45 27 80 28 89 119 422 27 88 24 70 20-34 17-23 21-22 17-13 17-9 17-3 17 1 10 2 10 5 17 10 21 18 17 18 20 26 21 30 20 32 79 131-1 0-79-133-20-33-21-30-20-26-17-19-21-17-17-11-10-4-10-3-17-1-17 4-17 9-17 14-21 22-17 24-20 35-24-71-27-90-119-430-28-91-27-82-17-46-14-33-17-36-13-25-14-22-13-17-14-13-14-9-13-4-14-1-14 4-13 7-14 12-17 19-14 20-17 29-27 55-27 64-27 69-62 165-30 77-28 62-23 48-21-55-17-41-20-43-17-31-17-25-17-21-18-16-20-14-17-6-20-3-17 2-21 6-20 10-21 12-78 55z" fill="url(#r131)" stroke="url(#r131)"/>
<path d="M1308 1785l78-55 21-12 20-10 21-6 17-2 20 3 17 6 20 14 18 16 17 21 17 25 17 31 20 43 17 41 21 55 23-48 28-62 30-77 62-165 27-69 27-64 27-55 17-29 14-20 17-19 14-12 13-7 14-4 14 1 13 4 14 9 14 13 13 17 14 22 13 25 17 36 14 33 17 46 27 82 28 91 119 430 27 90 24 71 20-35 17-24 21-22 17-14 17-9 17-4 17 1 10 3 10 4 17 11 21 17 17 19 20 26 21 30 20 33 79 133-1 1-79-136-20-33-21-31-20-26-17-19-20-18-17-11-11-4-10-3-17 0-17 4-17 9-17 14-20 24-18 25-20 35-24-72-27-92-31-110-88-329-28-92-27-84-17-47-14-34-17-37-13-25-14-22-13-17-14-13-14-9-13-5-14 0-14 4-13 8-14 12-17 20-13 20-18 29-27 57-27 66-27 72-62 169-30 79-28 64-23 49-21-56-17-42-20-43-17-31-17-27-17-21-17-16-21-14-17-6-20-2-17 2-21 6-20 10-21 13-78 58z" fill="url(#r132)" stroke="url(#r132)"/>
<path d="M1307 1786l78-58 21-13 20-10 21-6 17-2 20 2 17 6 21 14 17 16 17 21 17 27 17 31 20 43 17 42 21 56 23-49 28-64 30-79 62-169 27-72 27-66 27-57 18-29 13-20 17-20 14-12 13-8 14-4 14 0 13 5 14 9 14 13 13 17 14 22 13 25 17 37 14 34 17 47 27 84 28 92 88 329 31 110 27 92 24 72 20-35 18-25 20-24 17-14 17-9 17-4 17 0 10 3 11 4 17 11 20 18 17 19 20 26 21 31 20 33 79 136-1 0-79-138-20-34-20-30-21-28-17-19-20-18-17-10-11-5-10-2-17-1-17 5-17 9-17 15-20 24-17 26-21 36-24-74-27-92-31-113-88-335-27-95-28-85-17-47-13-35-17-37-14-26-14-22-13-18-14-13-14-9-13-5-14 0-13 4-14 9-14 12-17 21-13 20-17 31-28 58-27 68-27 73-62 174-30 81-27 66-24 50-21-57-17-42-20-45-17-31-17-27-17-21-17-17-21-13-17-7-20-2-17 2-21 7-20 11-21 13-78 60z" fill="url(#r133)" stroke="url(#r133)"/>
<path d="M1306 1786l78-60 21-13 20-11 21-7 17-2 20 2 17 7 21 13 17 17 17 21 17 27 17 31 20 45 17 42 21 57 24-50 27-66 30-81 62-174 27-73 27-68 28-58 17-31 13-20 17-21 14-12 14-9 13-4 14 0 13 5 14 9 14 13 13 18 14 22 14 26 17 37 13 35 17 47 28 85 27 95 88 335 31 113 27 92 24 74 21-36 17-26 20-24 17-15 17-9 17-5 17 1 10 2 11 5 17 10 20 18 17 19 21 28 20 30 20 34 79 138-1 0-78-140-21-34-20-31-21-28-17-19-20-19-17-10-11-4-10-3-17 0-17 5-17 10-17 15-20 25-17 26-21 38-24-76-27-94-31-115-88-341-27-97-28-87-17-48-13-35-17-38-14-27-14-22-13-18-14-13-14-9-13-5-14 0-13 4-14 9-14 13-17 21-13 21-17 32-28 60-27 69-27 76-61 178-31 84-27 67-24 52-21-58-17-44-20-45-17-32-17-27-17-22-17-16-10-8-11-6-17-6-10-2-10 0-17 2-21 7-20 11-21 14-78 62z" fill="url(#r134)" stroke="url(#r134)"/>
<path d="M1305 1786l78-62 21-14 20-11 21-7 17-2 10 0 10 2 17 6 11 6 10 8 17 16 17 22 17 27 17 32 20 45 17 44 21 58 24-52 27-67 31-84 61-178 27-76 27-69 28-60 17-32 13-21 17-21 14-13 14-9 13-4 14 0 13 5 14 9 14 13 13 18 14 22 14 27 17 38 13 35 17 48 28 87 27 97 88 341 31 115 27 94 24 76 21-38 17-26 20-25 17-15 17-10 17-5 17 0 10 3 11 4 17 10 20 19 17 19 21 28 20 31 21 34 78 140-1 0-78-142-21-35-20-31-21-28-17-20-20-18-17-11-10-4-11-3-17 0-17 5-17 11-17 15-20 26-17 27-21 39-24-77-27-96-31-117-88-348-27-98-28-89-17-49-13-36-17-39-14-27-14-22-13-18-14-14-13-9-14-4-14 0-13 4-14 9-14 13-17 22-13 22-17 33-28 61-27 71-27 78-61 182-31 87-27 69-24 53-21-59-17-44-20-46-17-33-17-27-17-22-17-17-10-8-11-6-17-6-10-2-10 0-17 3-21 7-20 12-21 14-78 64z" fill="url(#r135)" stroke="url(#r135)"/>
<path d="M1304 1786l78-64 21-14 20-12 21-7 17-3 10 0 10 2 17 6 11 6 10 8 17 17 17 22 17 27 17 33 20 46 17 44 21 59 24-53 27-69 31-87 61-182 27-78 27-71 28-61 17-33 13-22 17-22 14-13 14-9 13-4 14 0 14 4 13 9 14 14 13 18 14 22 14 27 17 39 13 36 17 49 28 89 27 98 88 348 31 117 27 96 24 77 21-39 17-27 20-26 17-15 17-11 17-5 17 0 11 3 10 4 17 11 20 18 17 20 21 28 20 31 21 35 78 142-1 1-78-145-21-35-20-32-21-28-17-20-20-19-17-11-10-4-11-2-17 0-17 5-17 11-17 16-20 27-17 27-21 40-24-78-27-98-30-119-89-355-27-100-28-90-17-50-13-36-17-40-14-27-14-23-13-18-14-14-13-9-14-4-14 0-13 5-14 9-14 14-17 22-13 23-17 33-27 63-28 73-27 80-61 186-31 89-27 71-24 54-21-60-17-45-20-47-17-33-17-27-17-23-17-17-10-7-11-6-17-7-10-1-10 0-17 3-21 7-20 12-20 15-79 67z" fill="url(#r136)" stroke="url(#r136)"/>
<path d="M1303 1787l79-67 20-15 20-12 21-7 17-3 10 0 10 1 17 7 11 6 10 7 17 17 17 23 17 27 17 33 20 47 17 45 21 60 24-54 27-71 31-89 61-186 27-80 28-73 27-63 17-33 13-23 17-22 14-14 14-9 13-5 14 0 14 4 13 9 14 14 13 18 14 23 14 27 17 40 13 36 17 50 28 90 27 100 89 355 30 119 27 98 24 78 21-40 17-27 20-27 17-16 17-11 17-5 17 0 11 2 10 4 17 11 20 19 17 20 21 28 20 32 21 35 78 145-1 0-78-147-21-35-20-33-21-29-17-20-20-19-17-10-10-5-11-2-17 0-17 6-17 11-17 17-20 27-17 29-21 40-24-79-27-100-30-121-89-361-27-102-28-92-17-51-13-36-17-41-14-27-13-23-14-19-14-14-13-9-14-4-14 0-13 5-14 9-13 14-18 24-13 23-17 34-27 65-28 74-27 82-61 191-31 91-27 73-24 55-20-61-18-45-20-48-17-33-17-29-17-22-17-17-10-8-11-6-17-6-10-2-10 0-17 3-21 9-20 12-20 15-79 69z" fill="url(#r137)" stroke="url(#r137)"/>
<path d="M1302 1787l79-69 20-15 20-12 21-9 17-3 10 0 10 2 17 6 11 6 10 8 17 17 17 22 17 29 17 33 20 48 18 45 20 61 24-55 27-73 31-91 61-191 27-82 28-74 27-65 17-34 13-23 18-24 13-14 14-9 13-5 14 0 14 4 13 9 14 14 14 19 13 23 14 27 17 41 13 36 17 51 28 92 27 102 89 361 30 121 27 100 24 79 21-40 17-29 20-27 17-17 17-11 17-6 17 0 11 2 10 5 17 10 20 19 17 20 21 29 20 33 21 35 78 147-1 0-78-149-21-36-20-33-21-29-17-20-20-19-17-11-10-4-11-3-17 1-17 6-17 11-17 18-20 28-17 29-21 42-23-81-28-102-30-123-89-368-27-103-27-94-18-51-13-38-17-41-14-28-13-23-14-19-14-14-13-9-14-5-14 1-13 5-14 10-13 14-17 25-14 23-17 35-27 66-28 77-27 84-61 195-31 93-27 75-24 57-20-62-17-47-21-48-17-34-17-29-17-23-17-17-10-8-11-6-17-6-10-1-10 0-17 3-20 9-21 12-20 16-79 71z" fill="url(#r138)" stroke="url(#r138)"/>
<path d="M1301 1787l79-71 20-16 21-12 20-9 17-3 10 0 10 1 17 6 11 6 10 8 17 17 17 23 17 29 17 34 21 48 17 47 20 62 24-57 27-75 31-93 61-195 27-84 28-77 27-66 17-35 14-23 17-25 13-14 14-10 13-5 14-1 14 5 13 9 14 14 14 19 13 23 14 28 17 41 13 38 18 51 27 94 27 103 89 368 30 123 28 102 23 81 21-42 17-29 20-28 17-18 17-11 17-6 17-1 11 3 10 4 17 11 20 19 17 20 21 29 20 33 21 36 78 149-1 1-78-152-21-36-20-34-21-29-17-21-20-19-17-11-10-4-11-2-17 0-17 7-17 12-17 17-20 29-17 30-21 43-23-82-28-104-30-125-89-374-27-105-27-95-17-53-14-38-17-42-14-28-13-24-14-19-14-14-13-9-14-5-14 1-13 6-14 10-13 15-17 24-14 25-17 35-27 68-28 79-27 85-61 200-31 95-27 77-24 58-20-63-17-47-21-49-17-35-17-29-17-23-17-18-10-8-10-6-18-6-10-1-10 0-17 4-20 9-21 13-20 16-79 74z" fill="url(#r139)" stroke="url(#r139)"/>
<path d="M1300 1788l79-74 20-16 21-13 20-9 17-4 10 0 10 1 18 6 10 6 10 8 17 18 17 23 17 29 17 35 21 49 17 47 20 63 24-58 27-77 31-95 61-200 27-85 28-79 27-68 17-35 14-25 17-24 13-15 14-10 13-6 14-1 14 5 13 9 14 14 14 19 13 24 14 28 17 42 14 38 17 53 27 95 27 105 89 374 30 125 28 104 23 82 21-43 17-30 20-29 17-17 17-12 17-7 17 0 11 2 10 4 17 11 20 19 17 21 21 29 20 34 21 36 78 152-1 0-78-153-21-38-20-34-21-29-17-21-20-20-17-11-10-4-10-2-18 1-17 6-17 13-17 18-20 30-17 30-21 44-23-83-28-106-30-127-89-380-27-108-27-96-17-54-14-38-17-43-14-28-13-25-14-19-14-14-13-10-14-4-13 1-14 6-14 10-13 16-17 25-14 25-17 37-27 69-28 80-27 88-61 204-31 97-27 78-24 60-20-64-17-48-21-50-17-35-17-29-17-24-17-17-10-8-10-6-17-6-11-2-10 1-17 4-20 9-21 14-20 16-79 76z" fill="url(#r140)" stroke="url(#r140)"/>
<path d="M1299 1788l79-76 20-16 21-14 20-9 17-4 10-1 11 2 17 6 10 6 10 8 17 17 17 24 17 29 17 35 21 50 17 48 20 64 24-60 27-78 31-97 61-204 27-88 28-80 27-69 17-37 14-25 17-25 13-16 14-10 14-6 13-1 14 4 13 10 14 14 14 19 13 25 14 28 17 43 14 38 17 54 27 96 27 108 89 380 30 127 28 106 23 83 21-44 17-30 20-30 17-18 17-13 17-6 18-1 10 2 10 4 17 11 20 20 17 21 21 29 20 34 21 38 78 153-1 0-78-155-21-38-20-35-21-30-17-21-20-19-17-11-10-5-10-2-18 1-17 7-17 13-17 19-20 30-17 32-21 45-23-85-28-107-30-130-89-387-27-109-27-98-17-55-14-39-17-43-14-29-13-25-14-19-14-15-13-9-14-4-13 1-14 6-14 11-13 15-17 26-14 26-17 37-27 71-28 82-27 90-61 209-31 99-27 80-24 62-20-66-17-48-21-51-17-36-17-29-17-24-17-18-10-8-10-6-17-6-11-1-10 0-17 4-20 10-21 14-20 18-79 77z" fill="url(#r141)" stroke="url(#r141)"/>
<path d="M1298 1788l79-77 20-18 21-14 20-10 17-4 10 0 11 1 17 6 10 6 10 8 17 18 17 24 17 29 17 36 21 51 17 48 20 66 24-62 27-80 31-99 61-209 27-90 28-82 27-71 17-37 14-26 17-26 13-15 14-11 14-6 13-1 14 4 13 9 14 15 14 19 13 25 14 29 17 43 14 39 17 55 27 98 27 109 89 387 30 130 28 107 23 85 21-45 17-32 20-30 17-19 17-13 17-7 18-1 10 2 10 5 17 11 20 19 17 21 21 30 20 35 21 38 78 155-1 0-78-157-21-39-20-34-21-31-17-21-20-20-17-11-10-4-10-2-11 0-6 1-18 7-17 13-17 19-20 32-17 32-21 46-23-86-28-109-30-132-89-393-27-111-27-100-17-55-14-40-17-44-14-29-13-25-14-20-14-14-13-10-14-4-13 1-14 6-14 12-13 16-17 26-14 26-17 39-27 72-28 84-27 91-61 214-31 102-27 81-24 63-20-66-17-50-21-51-17-36-17-31-17-24-17-18-10-8-10-6-17-6-11-1-10 1-17 4-20 10-21 15-20 18-79 79z" fill="url(#r142)" stroke="url(#r142)"/>
<path d="M1297 1788l79-79 20-18 21-15 20-10 17-4 10-1 11 1 17 6 10 6 10 8 17 18 17 24 17 31 17 36 21 51 17 50 20 66 24-63 27-81 31-102 61-214 27-91 28-84 27-72 17-39 14-26 17-26 13-16 14-12 14-6 13-1 14 4 13 10 14 14 14 20 13 25 14 29 17 44 14 40 17 55 27 100 27 111 89 393 30 132 28 109 23 86 21-46 17-32 20-32 17-19 17-13 18-7 6-1 11 0 10 2 10 4 17 11 20 20 17 21 21 31 20 34 21 39 78 157-1 1-78-160-21-39-20-35-21-31-17-22-20-20-17-11-10-4-10-2-11 0-7 1-17 8-17 13-17 20-20 32-17 33-21 47-23-88-28-110-30-134-89-400-27-113-27-101-17-56-14-41-17-44-14-30-13-25-14-20-14-15-13-9-14-4-13 1-14 6-14 12-13 16-17 28-14 26-17 40-27 74-28 85-27 94-61 218-31 104-27 83-24 64-20-67-17-50-21-52-17-37-17-31-17-24-17-18-10-8-10-7-17-5-11-2-10 1-17 5-20 10-21 15-20 19-79 82z" fill="url(#r143)" stroke="url(#r143)"/>
<path d="M1296 1789l79-82 20-19 21-15 20-10 17-5 10-1 11 2 17 5 10 7 10 8 17 18 17 24 17 31 17 37 21 52 17 50 20 67 24-64 27-83 31-104 61-218 27-94 28-85 27-74 17-40 14-26 17-28 13-16 14-12 14-6 13-1 14 4 13 9 14 15 14 20 13 25 14 30 17 44 14 41 17 56 27 101 27 113 89 400 30 134 28 110 23 88 21-47 17-33 20-32 17-20 17-13 17-8 7-1 11 0 10 2 10 4 17 11 20 20 17 22 21 31 20 35 21 39 78 160-1 0-78-162-21-39-20-36-21-31-17-22-20-20-17-11-10-5-10-2-11 1-7 1-17 8-17 14-17 20-20 33-17 33-21 49-23-90-28-112-30-136-89-406-27-115-27-103-17-57-14-41-17-44-14-31-13-25-14-21-14-15-13-9-14-4-13 1-14 7-14 12-13 17-17 28-14 27-17 40-27 76-28 87-27 95-61 223-31 106-27 85-24 66-20-69-17-51-21-53-17-37-17-31-17-24-17-19-10-8-10-6-17-6-11-1-10 1-17 5-20 10-21 16-20 19-79 84z" fill="url(#r144)" stroke="url(#r144)"/>
<path d="M1295 1789l79-84 20-19 21-16 20-10 17-5 10-1 11 1 17 6 10 6 10 8 17 19 17 24 17 31 17 37 21 53 17 51 20 69 24-66 27-85 31-106 61-223 27-95 28-87 27-76 17-40 14-27 17-28 13-17 14-12 14-7 13-1 14 4 13 9 14 15 14 21 13 25 14 31 17 44 14 41 17 57 27 103 27 115 89 406 30 136 28 112 23 90 21-49 17-33 20-33 17-20 17-14 17-8 7-1 11-1 10 2 10 5 17 11 20 20 17 22 21 31 20 36 21 39 78 162-1 0-78-164-21-40-20-36-21-32-17-22-20-20-17-11-10-4-11-2-10 0-7 1-17 8-17 15-17 21-20 33-17 35-21 49-23-91-28-114-30-138-89-413-27-116-27-105-17-58-14-41-17-46-14-31-13-25-14-21-14-15-13-10-14-4-14 2-13 7-14 12-13 18-17 28-14 28-17 41-27 78-28 89-27 97-61 227-31 108-27 87-24 67-20-70-17-51-21-54-17-38-17-31-17-25-17-19-10-8-10-6-18-6-10-1-10 1-17 5-20 12-21 15-20 20-79 86z" fill="url(#r145)" stroke="url(#r145)"/>
<path d="M1294 1789l79-86 20-20 21-15 20-12 17-5 10-1 10 1 18 6 10 6 10 8 17 19 17 25 17 31 17 38 21 54 17 51 20 70 24-67 27-87 31-108 61-227 27-97 28-89 27-78 17-41 14-28 17-28 13-18 14-12 13-7 14-2 14 4 13 10 14 15 14 21 13 25 14 31 17 46 14 41 17 58 27 105 27 116 89 413 30 138 28 114 23 91 21-49 17-35 20-33 17-21 17-15 17-8 7-1 10 0 11 2 10 4 17 11 20 20 17 22 21 32 20 36 21 40 78 164-1 1-78-167-21-40-20-37-21-32-17-22-20-21-17-11-10-4-11-2-10 1-7 1-10 4-7 4-17 15-17 21-20 35-17 35-21 50-23-92-28-116-30-140-89-419-27-118-27-106-18-59-13-42-17-47-14-31-13-26-14-21-14-15-13-10-14-4-14 2-13 7-14 13-13 18-17 29-14 28-17 42-27 79-28 91-27 99-61 232-31 110-27 89-24 68-20-70-17-53-21-54-17-38-17-32-17-25-17-19-10-9-11-6-17-5-10-1-10 1-17 5-20 12-21 16-20 20-79 89z" fill="url(#r146)" stroke="url(#r146)"/>
<path d="M1293 1790l79-89 20-20 21-16 20-12 17-5 10-1 10 1 17 5 11 6 10 9 17 19 17 25 17 32 17 38 21 54 17 53 20 70 24-68 27-89 31-110 61-232 27-99 28-91 27-79 17-42 14-28 17-29 13-18 14-13 13-7 14-2 14 4 13 10 14 15 14 21 13 26 14 31 17 47 13 42 18 59 27 106 27 118 89 419 30 140 28 116 23 92 21-50 17-35 20-35 17-21 17-15 7-4 10-4 7-1 10-1 11 2 10 4 17 11 20 21 17 22 21 32 20 37 21 40 78 167-1 0-78-169-21-41-20-37-21-32-17-23-20-20-17-12-10-4-11-1-10 0-7 2-10 4-7 4-17 15-17 22-20 35-17 36-21 51-24-93-27-117-30-143-89-426-27-120-28-107-17-60-13-43-17-47-14-31-14-27-13-21-14-15-13-10-14-4-7 0-7 2-13 7-14 13-14 19-17 29-13 30-17 42-27 81-28 93-27 101-61 236-31 112-27 91-24 69-21-71-17-53-20-55-17-39-17-32-17-26-17-19-10-8-11-6-17-6-10-1-10 1-17 6-21 12-20 17-20 20-79 91z" fill="url(#r147)" stroke="url(#r147)"/>
<path d="M1292 1790l79-91 20-20 20-17 21-12 17-6 10-1 10 1 17 6 11 6 10 8 17 19 17 26 17 32 17 39 20 55 17 53 21 71 24-69 27-91 31-112 61-236 27-101 28-93 27-81 17-42 13-30 17-29 14-19 14-13 13-7 7-2 7 0 14 4 13 10 14 15 13 21 14 27 14 31 17 47 13 43 17 60 28 107 27 120 89 426 30 143 27 117 24 93 21-51 17-36 20-35 17-22 17-15 7-4 10-4 7-2 10 0 11 1 10 4 17 12 20 20 17 23 21 32 20 37 21 41 78 169-1 0-78-171-21-41-20-38-21-33-17-22-20-21-17-11-10-4-11-2-10 0-7 2-10 5-7 4-17 16-17 22-20 36-17 37-21 52-24-95-27-119-31-145-88-432-27-122-28-109-17-61-13-43-17-48-14-32-14-27-13-21-14-15-13-10-7-3-7-1-7 0-7 2-13 8-14 13-14 19-17 30-13 30-17 43-28 83-27 94-27 103-61 241-31 115-27 92-24 71-21-73-17-54-20-56-17-39-17-33-17-25-17-20-10-8-11-6-17-6-10 0-10 1-17 5-21 13-20 17-21 21-78 93z" fill="url(#r148)" stroke="url(#r148)"/>
<path d="M1291 1790l78-93 21-21 20-17 21-13 17-5 10-1 10 0 17 6 11 6 10 8 17 20 17 25 17 33 17 39 20 56 17 54 21 73 24-71 27-92 31-115 61-241 27-103 27-94 28-83 17-43 13-30 17-30 14-19 14-13 13-8 7-2 7 0 7 1 7 3 13 10 14 15 13 21 14 27 14 32 17 48 13 43 17 61 28 109 27 122 88 432 31 145 27 119 24 95 21-52 17-37 20-36 17-22 17-16 7-4 10-5 7-2 10 0 11 2 10 4 17 11 20 21 17 22 21 33 20 38 21 41 78 171-1 1-79-174-20-41-20-39-21-33-17-23-20-21-17-11-11-4-10-2-10 1-7 2-10 4-7 5-17 16-17 23-20 36-17 38-21 53-24-96-27-121-31-147-88-439-27-123-28-111-17-61-13-44-17-48-14-33-14-27-13-22-14-15-14-10-6-3-7-1-7 0-7 2-13 8-14 14-14 19-17 31-13 30-17 45-28 84-27 96-27 105-61 245-31 117-27 94-24 72-21-74-17-54-20-57-17-40-17-33-17-26-17-19-11-9-10-6-17-5-10-1-10 1-17 6-21 13-20 18-21 21-78 96z" fill="url(#r149)" stroke="url(#r149)"/>
<path d="M1290 1791l78-96 21-21 20-18 21-13 17-6 10-1 10 1 17 5 10 6 11 9 17 19 17 26 17 33 17 40 20 57 17 54 21 74 24-72 27-94 31-117 61-245 27-105 27-96 28-84 17-45 13-30 17-31 14-19 14-14 13-8 7-2 7 0 7 1 6 3 14 10 14 15 13 22 14 27 14 33 17 48 13 44 17 61 28 111 27 123 88 439 31 147 27 121 24 96 21-53 17-38 20-36 17-23 17-16 7-5 10-4 7-2 10-1 10 2 11 4 17 11 20 21 17 23 21 33 20 39 20 41 79 174-1 0-79-175-20-43-21-38-20-34-17-23-20-21-17-12-11-4-10-1-10 0-7 2-10 5-7 5-17 16-17 23-21 38-17 38-20 54-24-97-27-123-31-149-88-445-28-125-27-113-17-62-14-45-17-49-13-33-14-27-13-22-14-16-14-9-7-3-6-1-7 0-7 2-14 8-13 14-14 20-17 31-13 32-18 45-27 85-27 98-27 107-62 250-30 119-28 96-23 73-21-74-17-56-20-57-17-41-17-33-17-26-17-20-11-8-10-6-17-6-10-1-10 2-17 6-21 13-20 18-21 23-78 97z" fill="url(#r150)" stroke="url(#r150)"/>
<path d="M1289 1791l78-97 21-23 20-18 21-13 17-6 10-2 10 1 17 6 10 6 11 8 17 20 17 26 17 33 17 41 20 57 17 56 21 74 23-73 28-96 30-119 62-250 27-107 27-98 27-85 18-45 13-32 17-31 14-20 13-14 14-8 7-2 7 0 6 1 7 3 14 9 14 16 13 22 14 27 13 33 17 49 14 45 17 62 27 113 28 125 88 445 31 149 27 123 24 97 20-54 17-38 21-38 17-23 17-16 7-5 10-5 7-2 10 0 10 1 11 4 17 12 20 21 17 23 20 34 21 38 20 43 79 175-1 0-79-177-20-43-21-39-20-34-17-24-21-21-17-11-10-4-10-2-10 1-7 2-10 5-7 5-17 16-17 24-21 38-17 39-20 56-24-99-27-125-31-151-88-452-28-127-27-114-17-63-14-45-17-50-13-33-14-28-14-22-13-16-14-10-7-2-6-1-7 0-7 2-14 8-13 15-14 20-17 32-14 32-17 46-27 87-27 100-27 109-62 254-30 121-28 98-24 75-20-76-17-56-20-58-18-41-17-34-17-27-17-19-10-9-10-6-17-6-10 0-11 1-17 7-20 13-20 19-21 23-78 99z" fill="url(#r151)" stroke="url(#r151)"/>
<path d="M1288 1791l78-99 21-23 20-19 20-13 17-7 11-1 10 0 17 6 10 6 10 9 17 19 17 27 17 34 18 41 20 58 17 56 20 76 24-75 28-98 30-121 62-254 27-109 27-100 27-87 17-46 14-32 17-32 14-20 13-15 14-8 7-2 7 0 6 1 7 2 14 10 13 16 14 22 14 28 13 33 17 50 14 45 17 63 27 114 28 127 88 452 31 151 27 125 24 99 20-56 17-39 21-38 17-24 17-16 7-5 10-5 7-2 10-1 10 2 10 4 17 11 21 21 17 24 20 34 21 39 20 43 79 177-2 1-78-180-20-44-21-39-20-34-17-24-21-22-17-11-10-4-10-1-10 0-7 2-10 6-7 4-17 18-17 24-21 39-17 40-20 56-24-100-27-126-31-154-89-458-27-129-27-115-17-64-14-46-17-50-13-34-14-28-14-23-13-16-14-10-7-2-7-1-6 0-7 2-14 9-14 15-13 20-17 33-14 32-17 47-27 89-27 102-28 110-61 260-31 122-27 100-24 76-20-77-17-56-21-60-17-41-17-34-17-27-17-20-10-9-10-6-7-3-10-2-10-1-11 2-17 7-20 14-21 19-20 23-78 102z" fill="url(#r152)" stroke="url(#r152)"/>
<path d="M1287 1792l78-102 20-23 21-19 20-14 17-7 11-2 10 1 10 2 7 3 10 6 10 9 17 20 17 27 17 34 17 41 21 60 17 56 20 77 24-76 27-100 31-122 61-260 28-110 27-102 27-89 17-47 14-32 17-33 13-20 14-15 14-9 7-2 6 0 7 1 7 2 14 10 13 16 14 23 14 28 13 34 17 50 14 46 17 64 27 115 27 129 89 458 31 154 27 126 24 100 20-56 17-40 21-39 17-24 17-18 7-4 10-6 7-2 10 0 10 1 10 4 17 11 21 22 17 24 20 34 21 39 20 44 78 180-1 0-78-182-21-44-20-40-20-35-18-23-20-22-17-12-10-4-10-1-11 1-6 2-11 5-7 5-17 18-17 25-20 39-17 41-20 57-24-101-28-128-30-156-89-464-27-131-27-117-17-65-14-46-17-51-14-35-13-28-14-22-14-17-13-10-7-2-7-1-7 0-6 2-14 9-14 15-13 21-17 34-14 33-17 48-27 90-28 103-27 113-61 264-31 125-27 101-24 77-20-77-17-58-21-60-17-42-17-34-17-27-17-20-10-9-10-6-7-3-10-3-11 0-10 2-17 6-20 15-21 19-20 24-79 104z" fill="url(#r153)" stroke="url(#r153)"/>
<path d="M1285 1792l79-104 20-24 21-19 20-15 17-6 10-2 11 0 10 3 7 3 10 6 10 9 17 20 17 27 17 34 17 42 21 60 17 58 20 77 24-77 27-101 31-125 61-264 27-113 28-103 27-90 17-48 14-33 17-34 13-21 14-15 14-9 6-2 7 0 7 1 7 2 13 10 14 17 14 22 13 28 14 35 17 51 14 46 17 65 27 117 27 131 89 464 30 156 28 128 24 101 20-57 17-41 20-39 17-25 17-18 7-5 11-5 6-2 11-1 10 1 10 4 17 12 20 22 18 23 20 35 20 40 21 44 78 182-1 0-78-184-21-44-20-41-21-35-17-24-20-22-17-11-10-4-11-2-10 1-7 3-10 5-7 5-17 18-17 26-20 40-17 41-21 59-24-103-27-130-31-158-88-471-27-132-28-119-17-66-13-47-17-51-14-35-14-29-13-23-14-16-13-10-7-2-7-1-7 0-7 2-13 9-14 16-14 21-17 34-13 34-17 49-28 91-27 106-27 114-61 269-31 127-27 103-24 79-21-79-17-58-20-61-17-42-17-35-17-28-17-20-10-9-11-6-6-3-11-2-10-1-10 2-17 7-21 15-20 20-20 24-79 106z" fill="url(#r154)" stroke="url(#r154)"/>
<path d="M1284 1792l79-106 20-24 20-20 21-15 17-7 10-2 10 1 11 2 6 3 11 6 10 9 17 20 17 28 17 35 17 42 20 61 17 58 21 79 24-79 27-103 31-127 61-269 27-114 27-106 28-91 17-49 13-34 17-34 14-21 14-16 13-9 7-2 7 0 7 1 7 2 13 10 14 16 13 23 14 29 14 35 17 51 13 47 17 66 28 119 27 132 88 471 31 158 27 130 24 103 21-59 17-41 20-40 17-26 17-18 7-5 10-5 7-3 10-1 11 2 10 4 17 11 20 22 17 24 21 35 20 41 21 44 78 184-1 1-79-187-20-45-21-41-20-35-17-24-10-12-10-10-18-12-10-4-10-1-10 1-7 2-10 6-7 5-17 18-17 26-21 42-17 42-20 59-24-104-27-132-31-160-88-477-28-134-27-121-17-66-14-48-17-52-13-35-14-29-13-23-14-17-14-10-7-2-6-1-7 0-7 3-14 9-13 15-14 22-17 35-14 34-17 50-27 93-27 107-27 117-62 273-30 129-28 105-23 80-21-80-17-59-20-61-17-43-17-35-17-28-17-21-11-8-10-7-7-3-10-2-10 0-10 2-17 7-21 15-20 21-21 24-78 109z" fill="url(#r155)" stroke="url(#r155)"/>
<path d="M1283 1793l78-109 21-24 20-21 21-15 17-7 10-2 10 0 10 2 7 3 10 7 11 8 17 21 17 28 17 35 17 43 20 61 17 59 21 80 23-80 28-105 30-129 62-273 27-117 27-107 27-93 17-50 14-34 17-35 14-22 13-15 14-9 7-3 7 0 6 1 7 2 14 10 14 17 13 23 14 29 13 35 17 52 14 48 17 66 27 121 28 134 88 477 31 160 27 132 24 104 20-59 17-42 21-42 17-26 17-18 7-5 10-6 7-2 10-1 10 1 10 4 18 12 10 10 10 12 17 24 20 35 21 41 20 45 79 187-2 0-78-188-20-46-21-41-20-36-17-25-11-12-10-10-17-12-10-3-10-2-10 2-7 2-11 6-6 5-17 19-17 26-21 42-17 43-20 61-24-106-27-134-31-162-89-483-27-137-27-122-17-67-14-48-17-53-14-36-13-29-14-23-13-17-14-10-7-3-7 0-6 0-7 3-14 9-14 16-13 22-17 36-14 35-17 50-27 95-27 109-28 119-61 277-31 131-27 107-24 82-20-81-17-60-21-62-17-44-17-36-17-28-17-20-10-9-10-6-7-3-10-3-10 0-11 2-17 8-20 15-21 21-20 26-78 110z" fill="url(#r156)" stroke="url(#r156)"/>
<path d="M1282 1793l78-110 20-26 21-21 20-15 17-8 11-2 10 0 10 3 7 3 10 6 10 9 17 20 17 28 17 36 17 44 21 62 17 60 20 81 24-82 27-107 31-131 61-277 28-119 27-109 27-95 17-50 14-35 17-36 13-22 14-16 14-9 7-3 6 0 7 0 7 3 14 10 13 17 14 23 13 29 14 36 17 53 14 48 17 67 27 122 27 137 89 483 31 162 27 134 24 106 20-61 17-43 21-42 17-26 17-19 6-5 11-6 7-2 10-2 10 2 10 3 17 12 10 10 11 12 17 25 20 36 21 41 20 46 78 188-1 0-78-190-21-46-20-42-21-36-17-25-10-12-10-11-17-11-10-4-11-1-10 1-7 2-10 6-7 6-17 19-17 27-20 43-17 43-21 62-24-107-27-135-30-164-89-491-27-138-28-124-17-68-13-49-17-53-14-36-14-30-13-23-14-17-13-10-7-3-7-1-7 1-7 3-13 9-14 17-14 22-17 36-13 36-17 51-27 97-28 111-27 120-61 282-31 134-27 108-24 83-21-82-17-61-20-63-17-43-17-37-17-28-17-21-10-9-11-6-6-3-11-2-10 0-10 2-17 8-21 16-20 21-20 26-79 112z" fill="url(#r157)" stroke="url(#r157)"/>
<path d="M1280 1793l79-112 20-26 20-21 21-16 17-8 10-2 10 0 11 2 6 3 11 6 10 9 17 21 17 28 17 37 17 43 20 63 17 61 21 82 24-83 27-108 31-134 61-282 27-120 28-111 27-97 17-51 13-36 17-36 14-22 14-17 13-9 7-3 7-1 7 1 7 3 13 10 14 17 13 23 14 30 14 36 17 53 13 49 17 68 28 124 27 138 89 491 30 164 27 135 24 107 21-62 17-43 20-43 17-27 17-19 7-6 10-6 7-2 10-1 11 1 10 4 17 11 10 11 10 12 17 25 21 36 20 42 21 46 78 190-1 1-79-193-20-47-21-42-20-36-17-25-10-13-11-10-17-12-10-4-10-1-10 2-7 2-10 6-7 6-17 19-17 28-21 43-17 45-20 62-24-108-27-137-31-166-88-497-28-140-27-125-17-69-14-50-17-54-13-36-14-30-14-24-13-17-14-10-7-3-6-1-7 1-7 3-14 10-13 17-14 22-17 37-14 36-17 53-27 98-27 112-27 123-62 286-30 136-28 110-23 84-21-83-17-61-20-64-17-44-17-37-18-28-17-21-10-9-10-7-7-2-10-3-10 0-10 2-18 9-20 16-20 22-21 26-78 115z" fill="url(#r158)" stroke="url(#r158)"/>
<path d="M1279 1794l78-115 21-26 20-22 20-16 18-9 10-2 10 0 10 3 7 2 10 7 10 9 17 21 18 28 17 37 17 44 20 64 17 61 21 83 23-84 28-110 30-136 62-286 27-123 27-112 27-98 17-53 14-36 17-37 14-22 13-17 14-10 7-3 7-1 6 1 7 3 14 10 13 17 14 24 14 30 13 36 17 54 14 50 17 69 27 125 28 140 88 497 31 166 27 137 24 108 20-62 17-45 21-43 17-28 17-19 7-6 10-6 7-2 10-2 10 1 10 4 17 12 11 10 10 13 17 25 20 36 21 42 20 47 79 193-2 0-78-195-21-47-20-43-21-37-17-25-10-12-10-11-17-11-10-4-11-1-10 1-7 3-10 6-7 6-17 20-17 28-20 44-17 45-21 64-23-110-28-139-30-168-89-504-27-141-27-127-17-70-14-50-17-55-14-37-13-30-14-24-14-17-13-10-7-3-7-1-7 1-7 3-13 10-14 17-13 23-17 38-14 37-17 53-27 100-28 114-27 124-61 291-31 138-27 112-24 86-20-84-17-62-21-65-17-45-17-37-17-29-17-21-10-9-10-6-7-3-11-2-10 0-10 2-17 8-20 17-21 22-20 27-79 117z" fill="url(#r159)" stroke="url(#r159)"/>
<path d="M1277 1794l79-117 20-27 21-22 20-17 17-8 10-2 10 0 11 2 7 3 10 6 10 9 17 21 17 29 17 37 17 45 21 65 17 62 20 84 24-86 27-112 31-138 61-291 27-124 28-114 27-100 17-53 14-37 17-38 13-23 14-17 13-10 7-3 7-1 7 1 7 3 13 10 14 17 14 24 13 30 14 37 17 55 14 50 17 70 27 127 27 141 89 504 30 168 28 139 23 110 21-64 17-45 20-44 17-28 17-20 7-6 10-6 7-3 10-1 11 1 10 4 17 11 10 11 10 12 17 25 21 37 20 43 21 47 78 195-1 1-79-198-20-47-21-43-20-38-17-25-10-13-11-10-17-12-10-4-10-1-10 2-7 2-10 7-7 6-17 20-17 29-21 45-17 46-20 64-24-111-27-140-31-171-88-510-28-143-27-129-17-71-14-50-17-56-13-37-14-31-14-24-13-17-14-10-7-3-6-1-7 1-7 3-14 11-13 17-14 24-17 38-14 37-17 54-27 101-27 117-27 126-62 295-30 140-28 114-24 87-20-85-17-63-20-65-17-45-18-38-17-29-17-21-10-9-10-7-7-3-10-2-10 0-11 3-17 8-20 17-20 23-21 27-78 120z" fill="url(#r160)" stroke="url(#r160)"/>
<path d="M1276 1795l78-120 21-27 20-23 20-17 17-8 11-3 10 0 10 2 7 3 10 7 10 9 17 21 17 29 18 38 17 45 20 65 17 63 20 85 24-87 28-114 30-140 62-295 27-126 27-117 27-101 17-54 14-37 17-38 14-24 13-17 14-11 7-3 7-1 6 1 7 3 14 10 13 17 14 24 14 31 13 37 17 56 14 50 17 71 27 129 28 143 88 510 31 171 27 140 24 111 20-64 17-46 21-45 17-29 17-20 7-6 10-7 7-2 10-2 10 1 10 4 17 12 11 10 10 13 17 25 20 38 21 43 20 47 79 198-2 0-78-199-21-48-20-44-21-38-17-25-10-13-10-11-17-12-10-3-11-1-10 1-7 3-10 7-7 6-17 21-17 29-20 45-17 47-21 66-24-113-27-142-31-173-88-516-27-145-28-130-17-72-13-51-17-56-14-38-14-31-13-25-14-17-7-6-6-4-7-3-7-1-7 1-7 3-13 11-14 18-14 24-17 39-13 38-17 54-28 103-27 118-27 129-61 299-31 143-27 115-24 89-21-86-17-64-20-66-17-46-17-38-17-29-17-22-10-9-11-6-6-3-11-2-10 0-10 2-17 9-21 18-20 23-21 28-78 121z" fill="url(#r161)" stroke="url(#r161)"/>
<path d="M1274 1795l78-121 21-28 20-23 21-18 17-9 10-2 10 0 11 2 6 3 11 6 10 9 17 22 17 29 17 38 17 46 20 66 17 64 21 86 24-89 27-115 31-143 61-299 27-129 27-118 28-103 17-54 13-38 17-39 14-24 14-18 13-11 7-3 7-1 7 1 7 3 6 4 7 6 14 17 13 25 14 31 14 38 17 56 13 51 17 72 28 130 27 145 88 516 31 173 27 142 24 113 21-66 17-47 20-45 17-29 17-21 7-6 10-7 7-3 10-1 11 1 10 3 17 12 10 11 10 13 17 25 21 38 20 44 21 48 78 199-2 1-78-202-21-49-20-44-20-38-18-26-10-13-10-10-17-12-10-4-10-1-11 2-6 3-11 7-7 6-17 21-17 30-20 46-17 47-21 67-23-114-28-144-30-175-89-522-27-147-27-132-17-72-14-52-17-57-14-38-13-32-14-24-14-18-6-6-7-4-7-3-7 0-7 1-6 3-14 11-14 18-13 24-17 40-14 38-17 56-27 104-28 120-27 130-61 305-31 144-27 117-24 90-20-87-17-64-21-67-17-47-17-38-17-29-17-22-10-9-10-7-7-3-10-2-11 1-10 2-17 9-20 18-21 24-20 28-79 124z" fill="url(#r162)" stroke="url(#r162)"/>
<path d="M1272 1796l79-124 20-28 21-24 20-18 17-9 10-2 11-1 10 2 7 3 10 7 10 9 17 22 17 29 17 38 17 47 21 67 17 64 20 87 24-90 27-117 31-144 61-305 27-130 28-120 27-104 17-56 14-38 17-40 13-24 14-18 14-11 6-3 7-1 7 0 7 3 7 4 6 6 14 18 14 24 13 32 14 38 17 57 14 52 17 72 27 132 27 147 89 522 30 175 28 144 23 114 21-67 17-47 20-46 17-30 17-21 7-6 11-7 6-3 11-2 10 1 10 4 17 12 10 10 10 13 18 26 20 38 20 44 21 49 78 202-2 0-78-204-21-49-20-44-20-39-17-26-11-13-10-10-10-9-7-3-10-4-10-1-11 2-6 3-11 7-6 6-17 22-17 30-21 47-17 48-20 68-24-116-28-145-30-177-89-530-27-148-27-134-17-73-14-53-17-57-14-38-13-32-14-25-13-18-7-6-7-4-7-3-7 0-7 1-6 3-14 11-14 18-13 25-17 41-14 39-17 56-27 106-27 122-28 132-61 309-31 147-27 118-24 92-20-88-17-65-21-68-17-47-17-39-17-30-17-22-10-9-10-6-7-3-10-2-11 0-10 3-17 9-20 18-21 25-20 28-79 126z" fill="url(#r163)" stroke="url(#r163)"/>
<path d="M1270 1796l79-126 20-28 21-25 20-18 17-9 10-3 11 0 10 2 7 3 10 6 10 9 17 22 17 30 17 39 17 47 21 68 17 65 20 88 24-92 27-118 31-147 61-309 28-132 27-122 27-106 17-56 14-39 17-41 13-25 14-18 14-11 6-3 7-1 7 0 7 3 7 4 7 6 13 18 14 25 13 32 14 38 17 57 14 53 17 73 27 134 27 148 89 530 30 177 28 145 24 116 20-68 17-48 21-47 17-30 17-22 6-6 11-7 6-3 11-2 10 1 10 4 7 3 10 9 10 10 11 13 17 26 20 39 20 44 21 49 78 204-2 1-78-206-21-50-20-45-20-39-18-26-10-13-10-11-10-8-7-4-10-4-10 0-11 2-6 3-11 7-7 6-17 22-17 31-20 48-17 49-20 68-24-116-28-148-30-179-89-536-27-150-27-135-17-74-14-54-17-58-14-39-13-32-14-25-14-18-6-6-7-4-7-3-7 0-7 1-6 3-14 12-14 18-13 26-17 41-14 39-17 58-27 107-28 124-27 134-61 313-31 149-27 120-24 93-20-89-17-66-21-68-17-48-17-38-17-31-17-22-10-9-10-7-7-2-10-3-11 1-10 3-17 9-20 19-21 24-20 30-79 128z" fill="url(#r164)" stroke="url(#r164)"/>
<path d="M1268 1797l79-128 20-30 21-24 20-19 17-9 10-3 11-1 10 3 7 2 10 7 10 9 17 22 17 31 17 38 17 48 21 68 17 66 20 89 24-93 27-120 31-149 61-313 27-134 28-124 27-107 17-58 14-39 17-41 13-26 14-18 14-12 6-3 7-1 7 0 7 3 7 4 6 6 14 18 14 25 13 32 14 39 17 58 14 54 17 74 27 135 27 150 89 536 30 179 28 148 24 116 20-68 17-49 20-48 17-31 17-22 7-6 11-7 6-3 11-2 10 0 10 4 7 4 10 8 10 11 10 13 18 26 20 39 20 45 21 50 78 206-2 1-79-209-20-50-20-45-21-40-17-26-10-13-10-11-11-8-6-4-11-4-10-1-10 2-7 4-10 7-7 6-17 23-17 31-20 49-17 49-21 70-24-118-27-149-31-182-88-542-27-152-28-137-17-75-13-54-17-58-14-40-14-32-13-25-14-18-7-7-7-4-6-2-7-1-7 1-7 3-13 12-14 19-14 26-17 42-13 40-17 58-28 109-27 126-27 136-61 318-31 151-27 122-24 94-21-90-17-67-20-69-17-48-17-39-17-31-17-22-11-9-10-7-7-3-10-2-10 1-10 3-17 9-21 19-20 25-21 30-78 131z" fill="url(#r165)" stroke="url(#r165)"/>
<path d="M1266 1798l78-131 21-30 20-25 21-19 17-9 10-3 10-1 10 2 7 3 10 7 11 9 17 22 17 31 17 39 17 48 20 69 17 67 21 90 24-94 27-122 31-151 61-318 27-136 27-126 28-109 17-58 13-40 17-42 14-26 14-19 13-12 7-3 7-1 7 1 6 2 7 4 7 7 14 18 13 25 14 32 14 40 17 58 13 54 17 75 28 137 27 152 88 542 31 182 27 149 24 118 21-70 17-49 20-49 17-31 17-23 7-6 10-7 7-4 10-2 10 1 11 4 6 4 11 8 10 11 10 13 17 26 21 40 20 45 20 50 79 209-3 0-78-210-21-51-20-46-21-39-17-27-10-13-10-11-10-8-7-4-10-4-11-1-10 2-7 4-10 7-7 7-17 22-17 32-20 50-17 50-21 71-23-120-28-151-30-183-89-549-27-154-27-138-18-76-13-54-17-60-14-39-13-33-14-26-14-18-7-6-6-5-7-2-7-1-7 2-7 3-13 12-14 19-13 27-17 42-14 41-17 59-27 111-28 127-27 138-61 322-31 153-27 124-24 96-20-91-17-68-21-70-17-48-17-40-17-31-17-22-10-10-11-6-6-3-11-2-10 1-10 3-17 10-20 19-21 26-20 30-79 132z" fill="url(#r166)" stroke="url(#r166)"/>
<path d="M1263 1798l79-132 20-30 21-26 20-19 17-10 10-3 10-1 11 2 6 3 11 6 10 10 17 22 17 31 17 40 17 48 21 70 17 68 20 91 24-96 27-124 31-153 61-322 27-138 28-127 27-111 17-59 14-41 17-42 13-27 14-19 13-12 7-3 7-2 7 1 7 2 6 5 7 6 14 18 14 26 13 33 14 39 17 60 13 54 18 76 27 138 27 154 89 549 30 183 28 151 23 120 21-71 17-50 20-50 17-32 17-22 7-7 10-7 7-4 10-2 11 1 10 4 7 4 10 8 10 11 10 13 17 27 21 39 20 46 21 51 78 210-3 2-79-213-20-51-21-47-20-40-17-27-10-13-11-11-10-8-7-4-10-4-10-1-10 3-7 3-10 7-7 7-17 23-17 33-21 50-17 51-20 72-24-121-27-153-31-185-89-555-27-156-27-140-17-77-14-55-17-60-13-40-14-33-14-26-13-18-7-7-7-4-7-2-7-1-6 2-7 3-14 12-13 20-14 26-17 43-14 42-17 60-27 112-27 129-27 140-62 327-30 155-28 126-24 97-20-92-17-68-21-71-17-49-17-40-17-32-17-22-10-10-10-6-7-3-10-2-10 1-11 3-17 10-20 20-20 26-21 31-78 135z" fill="url(#r167)" stroke="url(#r167)"/>
<path d="M1260 1800l78-135 21-31 20-26 20-20 17-10 11-3 10-1 10 2 7 3 10 6 10 10 17 22 17 32 17 40 17 49 21 71 17 68 20 92 24-97 28-126 30-155 62-327 27-140 27-129 27-112 17-60 14-42 17-43 14-26 13-20 14-12 7-3 6-2 7 1 7 2 7 4 7 7 13 18 14 26 14 33 13 40 17 60 14 55 17 77 27 140 27 156 89 555 31 185 27 153 24 121 20-72 17-51 21-50 17-33 17-23 7-7 10-7 7-3 10-3 10 1 10 4 7 4 10 8 11 11 10 13 17 27 20 40 21 47 20 51 79 213-9 2-78-215-21-52-20-46-21-41-17-27-10-14-10-11-10-8-7-4-11-3-10-1-10 2-7 4-10 7-7 7-17 24-17 33-20 51-17 51-21 74-24-123-27-154-31-188-88-562-27-157-28-142-17-77-13-56-17-60-14-41-14-34-13-26-14-18-7-6-7-5-6-2-7-1-7 2-7 3-13 13-14 20-14 27-17 43-13 42-17 61-28 114-27 131-27 142-61 331-31 158-27 127-24 99-21-94-17-69-20-71-17-50-17-40-17-32-17-23-10-9-11-7-7-2-10-2-10 1-10 3-17 10-21 20-20 27-21 31-78 137z" fill="url(#r168)" stroke="url(#r168)"/>
<path d="M1251 1802l78-137 21-31 20-27 21-20 17-10 10-3 10-1 10 2 7 2 11 7 10 9 17 23 17 32 17 40 17 50 20 71 17 69 21 94 24-99 27-127 31-158 61-331 27-142 27-131 28-114 17-61 13-42 17-43 14-27 14-20 13-13 7-3 7-2 7 1 6 2 7 5 7 6 14 18 13 26 14 34 14 41 17 60 13 56 17 77 28 142 27 157 88 562 31 188 27 154 24 123 21-74 17-51 20-51 17-33 17-24 7-7 10-7 7-4 10-2 10 1 11 3 7 4 10 8 10 11 10 14 17 27 21 41 20 46 21 52 78 215-9 3-78-213-21-51-20-47-20-40-17-27-11-13-10-11-10-8-7-4-10-4-10-1-11 3-6 3-11 8-6 6-17 24-18 32-20 50-17 51-20 72-24-121-28-153-30-185-89-555-27-156-27-140-17-77-14-55-17-60-14-40-13-33-14-26-14-18-6-6-7-5-7-2-7-1-7 2-6 3-14 12-14 20-13 27-17 42-14 42-17 60-27 112-27 129-28 140-61 327-31 155-27 126-24 97-20-92-17-68-21-71-17-49-17-40-17-31-17-23-10-9-10-7-7-3-10-2-11 1-10 3-17 10-20 20-21 26-20 31-79 135z" fill="url(#r169)" stroke="url(#r169)"/>
<path d="M1242 1805l79-135 20-31 21-26 20-20 17-10 10-3 11-1 10 2 7 3 10 7 10 9 17 23 17 31 17 40 17 49 21 71 17 68 20 92 24-97 27-126 31-155 61-327 28-140 27-129 27-112 17-60 14-42 17-42 13-27 14-20 14-12 6-3 7-2 7 1 7 2 7 5 6 6 14 18 14 26 13 33 14 40 17 60 14 55 17 77 27 140 27 156 89 555 30 185 28 153 24 121 20-72 17-51 20-50 18-32 17-24 6-6 11-8 6-3 11-3 10 1 10 4 7 4 10 8 10 11 11 13 17 27 20 40 20 47 21 51 78 213-3 1-79-211-20-51-21-46-20-39-17-27-10-13-10-11-11-8-7-4-10-4-10-1-10 3-7 3-10 7-7 7-17 23-17 31-21 50-17 50-20 71-24-119-27-151-31-184-88-549-28-154-27-138-17-76-14-54-17-59-13-40-14-33-13-26-14-18-7-6-7-4-7-3-6 0-7 1-7 3-14 12-13 20-14 26-17 42-14 41-17 59-27 111-27 127-27 138-62 322-30 153-28 124-23 96-21-91-17-68-20-69-17-49-17-40-17-31-17-22-11-9-10-7-7-3-10-2-10 1-10 3-17 10-21 19-20 26-21 30-78 133z" fill="url(#r170)" stroke="url(#r170)"/>
<path d="M1239 1806l78-133 21-30 20-26 21-19 17-10 10-3 10-1 10 2 7 3 10 7 11 9 17 22 17 31 17 40 17 49 20 69 17 68 21 91 23-96 28-124 30-153 62-322 27-138 27-127 27-111 17-59 14-41 17-42 14-26 13-20 14-12 7-3 7-1 6 0 7 3 7 4 7 6 14 18 13 26 14 33 13 40 17 59 14 54 17 76 27 138 28 154 88 549 31 184 27 151 24 119 20-71 17-50 21-50 17-31 17-23 7-7 10-7 7-3 10-3 10 1 10 4 7 4 11 8 10 11 10 13 17 27 20 39 21 46 20 51 79 211-3 0-78-208-21-50-20-46-21-39-17-26-10-14-10-10-10-8-7-4-10-4-11-1-10 2-7 3-10 8-7 6-17 23-17 31-20 48-17 50-21 70-24-118-27-149-31-182-88-542-27-152-28-137-17-75-13-54-17-58-14-40-14-32-13-25-14-18-7-7-6-4-7-2-7-1-7 1-7 3-13 12-14 19-14 26-17 42-13 40-17 58-28 109-27 126-27 136-61 318-31 150-27 123-24 94-21-90-17-67-20-69-17-48-17-39-17-31-17-22-10-10-11-6-6-3-11-2-10 1-10 3-17 9-21 19-20 25-21 30-78 130z" fill="url(#r171)" stroke="url(#r171)"/>
<path d="M1236 1806l78-130 21-30 20-25 21-19 17-9 10-3 10-1 11 2 6 3 11 6 10 10 17 22 17 31 17 39 17 48 20 69 17 67 21 90 24-94 27-123 31-150 61-318 27-136 27-126 28-109 17-58 13-40 17-42 14-26 14-19 13-12 7-3 7-1 7 1 7 2 6 4 7 7 14 18 13 25 14 32 14 40 17 58 13 54 17 75 28 137 27 152 88 542 31 182 27 149 24 118 21-70 17-50 20-48 17-31 17-23 7-6 10-8 7-3 10-2 11 1 10 4 7 4 10 8 10 10 10 14 17 26 21 39 20 46 21 50 78 208-2 1-79-206-20-50-21-45-20-38-17-27-10-13-11-11-10-8-7-4-10-3-10-1-10 2-7 3-10 7-7 6-17 22-17 31-21 48-17 49-20 69-24-117-27-148-31-179-88-535-28-151-27-135-17-74-14-53-17-58-13-39-14-32-14-25-13-18-7-6-7-5-7-2-6-1-7 1-7 3-14 12-13 19-14 25-17 41-14 40-17 57-27 108-27 123-27 134-62 314-30 148-28 121-24 93-20-90-17-65-20-69-17-47-18-39-17-31-17-22-10-9-10-6-7-3-10-2-10 0-11 3-17 10-20 18-20 25-21 29-78 128z" fill="url(#r172)" stroke="url(#r172)"/>
<path d="M1234 1807l78-128 21-29 20-25 20-18 17-10 11-3 10 0 10 2 7 3 10 6 10 9 17 22 17 31 18 39 17 47 20 69 17 65 20 90 24-93 28-121 30-148 62-314 27-134 27-123 27-108 17-57 14-40 17-41 14-25 13-19 14-12 7-3 7-1 6 1 7 2 7 5 7 6 13 18 14 25 14 32 13 39 17 58 14 53 17 74 27 135 28 151 88 535 31 179 27 148 24 117 20-69 17-49 21-48 17-31 17-22 7-6 10-7 7-3 10-2 10 1 10 3 7 4 10 8 11 11 10 13 17 27 20 38 21 45 20 50 79 206-3 1-78-204-20-49-21-45-20-38-17-27-10-12-11-11-10-8-7-4-10-4-10-1-10 2-7 3-10 7-7 6-17 22-17 30-21 47-17 48-20 68-24-115-27-146-31-177-89-529-27-149-27-133-17-73-14-53-17-57-13-39-14-32-14-24-13-18-7-6-7-5-7-2-7-1-6 1-7 3-14 12-13 18-14 25-17 40-14 39-17 57-27 106-27 121-28 133-61 308-31 147-27 119-24 91-20-88-17-65-21-68-17-47-17-38-17-30-17-22-10-9-10-7-7-3-10-2-10 1-11 2-17 10-20 18-21 24-20 29-78 126z" fill="url(#r173)" stroke="url(#r173)"/>
<path d="M1232 1808l78-126 20-29 21-24 20-18 17-10 11-2 10-1 10 2 7 3 10 7 10 9 17 22 17 30 17 38 17 47 21 68 17 65 20 88 24-91 27-119 31-147 61-308 28-133 27-121 27-106 17-57 14-39 17-40 14-25 13-18 14-12 7-3 6-1 7 1 7 2 7 5 7 6 13 18 14 24 14 32 13 39 17 57 14 53 17 73 27 133 27 149 89 529 31 177 27 146 24 115 20-68 17-48 21-47 17-30 17-22 7-6 10-7 7-3 10-2 10 1 10 4 7 4 10 8 11 11 10 12 17 27 20 38 21 45 20 49 78 204-1 0-79-201-20-49-21-44-20-38-17-26-10-13-11-10-17-12-10-4-10-1-10 2-7 3-10 6-7 6-17 22-17 29-21 47-17 47-20 67-24-114-27-144-31-175-88-523-28-146-27-132-17-73-14-52-17-56-13-38-14-32-14-24-13-18-7-6-7-4-7-3-6-1-7 2-7 2-14 11-13 18-14 25-17 40-14 38-17 56-27 104-27 120-27 130-62 304-30 145-28 117-24 90-20-87-17-65-20-66-17-47-18-38-17-30-17-22-10-9-10-6-7-3-10-2-10 0-11 3-17 9-20 18-20 23-21 29-78 123z" fill="url(#r174)" stroke="url(#r174)"/>
<path d="M1230 1808l78-123 21-29 20-23 20-18 17-9 11-3 10 0 10 2 7 3 10 6 10 9 17 22 17 30 18 38 17 47 20 66 17 65 20 87 24-90 28-117 30-145 62-304 27-130 27-120 27-104 17-56 14-38 17-40 14-25 13-18 14-11 7-2 7-2 6 1 7 3 7 4 7 6 13 18 14 24 14 32 13 38 17 56 14 52 17 73 27 132 28 146 88 523 31 175 27 144 24 114 20-67 17-47 21-47 17-29 17-22 7-6 10-6 7-3 10-2 10 1 10 4 17 12 11 10 10 13 17 26 20 38 21 44 20 49 79 201-2 1-79-200-20-48-20-43-21-38-17-26-10-13-10-10-17-12-11-4-10-1-10 2-7 3-10 6-7 6-17 21-17 29-20 46-17 47-21 65-24-112-27-143-31-172-88-517-27-145-28-130-17-71-13-52-17-56-14-37-14-32-13-24-14-17-7-6-7-5-6-2-7-1-7 1-7 3-13 11-14 17-14 25-17 39-13 37-17 55-28 103-27 118-27 128-61 300-31 142-27 115-24 89-21-86-17-63-20-66-17-46-17-38-17-30-17-21-11-9-10-7-7-3-10-2-10 1-10 2-17 9-21 17-20 23-21 28-78 122z" fill="url(#r175)" stroke="url(#r175)"/>
<path d="M1228 1809l78-122 21-28 20-23 21-17 17-9 10-2 10-1 10 2 7 3 10 7 11 9 17 21 17 30 17 38 17 46 20 66 17 63 21 86 24-89 27-115 31-142 61-300 27-128 27-118 28-103 17-55 13-37 17-39 14-25 14-17 13-11 7-3 7-1 7 1 6 2 7 5 7 6 14 17 13 24 14 32 14 37 17 56 13 52 17 71 28 130 27 145 88 517 31 172 27 143 24 112 21-65 17-47 20-46 17-29 17-21 7-6 10-6 7-3 10-2 10 1 11 4 17 12 10 10 10 13 17 26 21 38 20 43 20 48 79 200-2 0-78-197-21-48-20-43-20-37-18-26-10-12-10-11-17-11-10-4-10-1-11 1-6 3-11 6-7 6-17 21-17 28-20 45-17 46-20 65-24-111-28-141-30-170-89-510-27-144-27-128-17-71-14-51-17-55-14-37-13-31-14-24-14-17-13-11-7-2-7-1-7 1-6 3-14 10-14 18-13 23-17 39-14 37-17 54-27 101-28 116-27 127-61 295-31 140-27 113-24 88-20-85-17-63-21-65-17-46-17-37-17-29-17-22-10-9-10-6-7-3-10-2-11 0-10 2-17 9-20 17-21 23-20 27-79 119z" fill="url(#r176)" stroke="url(#r176)"/>
<path d="M1226 1809l79-119 20-27 21-23 20-17 17-9 10-2 11 0 10 2 7 3 10 6 10 9 17 22 17 29 17 37 17 46 21 65 17 63 20 85 24-88 27-113 31-140 61-295 27-127 28-116 27-101 17-54 14-37 17-39 13-23 14-18 14-10 6-3 7-1 7 1 7 2 13 11 14 17 14 24 13 31 14 37 17 55 14 51 17 71 27 128 27 144 89 510 30 170 28 141 24 111 20-65 17-46 20-45 17-28 17-21 7-6 11-6 6-3 11-1 10 1 10 4 17 11 10 11 10 12 18 26 20 37 20 43 21 48 78 197-1 1-79-195-20-47-21-43-20-37-17-25-10-13-11-10-17-12-10-4-10-1-10 2-7 2-10 7-7 5-17 20-17 28-21 44-17 46-20 63-24-110-27-138-31-169-88-503-28-141-27-127-17-70-14-50-17-55-13-37-14-30-13-24-14-17-14-11-7-2-6-1-7 1-7 3-14 10-13 17-14 23-17 38-14 36-17 53-27 100-27 114-27 125-62 291-30 138-28 111-23 86-21-84-17-62-20-64-17-45-17-37-17-29-18-21-10-9-10-7-7-3-10-2-10 0-10 3-17 8-21 16-20 23-21 27-78 117z" fill="url(#r177)" stroke="url(#r177)"/>
<path d="M1225 1810l78-117 21-27 20-23 21-16 17-8 10-3 10 0 10 2 7 3 10 7 10 9 18 21 17 29 17 37 17 45 20 64 17 62 21 84 23-86 28-111 30-138 62-291 27-125 27-114 27-100 17-53 14-36 17-38 14-23 13-17 14-10 7-3 7-1 6 1 7 2 14 11 14 17 13 24 14 30 13 37 17 55 14 50 17 70 27 127 28 141 88 503 31 169 27 138 24 110 20-63 17-46 21-44 17-28 17-20 7-5 10-7 7-2 10-2 10 1 10 4 17 12 11 10 10 13 17 25 20 37 21 43 20 47 79 195-2 0-78-193-21-46-20-43-21-36-17-25-10-12-10-11-17-11-10-4-10-1-11 1-7 3-10 6-7 5-17 20-17 27-20 44-17 44-21 63-23-109-28-137-30-166-89-497-27-139-27-126-17-69-14-49-17-54-14-37-13-30-14-23-14-17-13-11-7-2-7-1-7 1-6 2-14 10-14 17-13 23-17 37-14 36-17 52-27 98-28 113-27 122-61 286-31 136-27 110-24 85-20-83-17-62-21-63-17-45-17-36-17-29-17-21-10-9-10-6-7-3-10-2-11 0-10 2-17 8-20 16-21 22-20 26-79 115z" fill="url(#r178)" stroke="url(#r178)"/>
<path d="M1223 1810l79-115 20-26 21-22 20-16 17-8 10-2 11 0 10 2 7 3 10 6 10 9 17 21 17 29 17 36 17 45 21 63 17 62 20 83 24-85 27-110 31-136 61-286 27-122 28-113 27-98 17-52 14-36 17-37 13-23 14-17 14-10 6-2 7-1 7 1 7 2 13 11 14 17 14 23 13 30 14 37 17 54 14 49 17 69 27 126 27 139 89 497 30 166 28 137 23 109 21-63 17-44 20-44 17-27 17-20 7-5 10-6 7-3 11-1 10 1 10 4 17 11 10 11 10 12 17 25 21 36 20 43 21 46 78 193-1 1-79-191-20-46-20-42-21-36-17-25-10-12-10-10-17-12-11-4-10-1-10 1-7 3-10 6-7 5-17 19-17 27-20 43-17 44-21 61-24-107-27-135-31-164-88-491-28-138-27-123-17-68-13-49-17-54-14-36-14-30-13-23-14-17-14-10-6-2-7-1-7 0-7 3-14 10-13 16-14 22-17 37-13 35-17 52-28 96-27 111-27 120-62 282-30 134-27 108-24 83-21-82-17-60-20-63-17-44-17-36-17-29-17-21-11-9-10-6-7-3-10-2-10 0-10 2-17 8-21 16-20 21-21 26-78 113z" fill="url(#r179)" stroke="url(#r179)"/>
<path d="M1222 1811l78-113 21-26 20-21 21-16 17-8 10-2 10 0 10 2 7 3 10 6 11 9 17 21 17 29 17 36 17 44 20 63 17 60 21 82 24-83 27-108 30-134 62-282 27-120 27-111 28-96 17-52 13-35 17-37 14-22 13-16 14-10 7-3 7 0 7 1 6 2 14 10 14 17 13 23 14 30 14 36 17 54 13 49 17 68 27 123 28 138 88 491 31 164 27 135 24 107 21-61 17-44 20-43 17-27 17-19 7-5 10-6 7-3 10-1 10 1 11 4 17 12 10 10 10 12 17 25 21 36 20 42 20 46 79 191-2 0-78-188-20-46-21-41-20-36-17-25-11-12-10-10-17-12-10-3-10-2-10 2-7 2-11 6-6 5-17 19-17 26-21 42-17 43-20 61-24-106-27-134-31-161-89-484-27-136-27-122-17-68-14-48-17-53-13-35-14-30-14-23-13-17-14-10-7-2-7-1-6 1-7 2-14 9-14 16-13 22-17 36-14 35-17 50-27 95-27 109-28 119-61 277-31 131-27 107-24 82-20-81-17-60-21-62-17-44-17-36-17-28-17-20-10-9-10-6-7-3-10-3-10 0-11 2-17 8-20 15-21 21-20 26-78 110z" fill="url(#r180)" stroke="url(#r180)"/>
<path d="M1221 1811l78-110 20-26 21-21 20-15 17-8 11-2 10 0 10 3 7 3 10 6 10 9 17 20 17 28 17 36 17 44 21 62 17 60 20 81 24-82 27-107 31-131 61-277 28-119 27-109 27-95 17-50 14-35 17-36 13-22 14-16 14-9 7-2 6-1 7 1 7 2 14 10 13 17 14 23 14 30 13 35 17 53 14 48 17 68 27 122 27 136 89 484 31 161 27 134 24 106 20-61 17-43 21-42 17-26 17-19 6-5 11-6 7-2 10-2 10 2 10 3 17 12 10 10 11 12 17 25 20 36 21 41 20 46 78 188-1 0-78-186-21-45-20-41-21-35-17-25-10-12-10-10-17-11-10-4-11-1-10 1-7 2-10 6-7 5-17 18-17 26-20 41-17 42-21 60-23-104-28-132-30-160-89-477-27-134-27-121-18-66-13-48-17-52-14-35-13-29-14-23-14-17-13-10-7-2-7-1-7 0-7 3-13 9-14 15-13 22-17 35-14 34-17 50-27 93-28 107-27 117-61 273-31 129-27 104-24 81-20-80-17-59-21-61-17-43-17-36-17-27-17-21-10-9-11-6-6-3-11-2-10 0-10 1-17 8-20 15-21 20-20 25-79 108z" fill="url(#r181)" stroke="url(#r181)"/>
<path d="M1219 1811l79-108 20-25 21-20 20-15 17-8 10-1 10 0 11 2 6 3 11 6 10 9 17 21 17 27 17 36 17 43 21 61 17 59 20 80 24-81 27-104 31-129 61-273 27-117 28-107 27-93 17-50 14-34 17-35 13-22 14-15 13-9 7-3 7 0 7 1 7 2 13 10 14 17 14 23 13 29 14 35 17 52 13 48 18 66 27 121 27 134 89 477 30 160 28 132 23 104 21-60 17-42 20-41 17-26 17-18 7-5 10-6 7-2 10-1 11 1 10 4 17 11 10 10 10 12 17 25 21 35 20 41 21 45 78 186-1 1-79-184-20-45-20-40-21-35-17-24-20-22-17-12-11-4-10-1-10 1-7 2-10 6-7 5-17 18-17 25-20 40-17 42-21 58-24-103-27-130-31-157-88-471-27-133-28-118-17-66-13-47-17-52-14-34-14-29-13-23-14-16-14-10-6-3-7-1-7 1-7 2-13 9-14 15-14 22-17 34-13 34-17 48-28 92-27 105-27 115-62 268-30 127-27 103-24 79-21-79-17-58-20-60-17-43-17-35-17-27-17-21-11-8-10-7-7-3-10-2-10 0-10 2-17 7-21 14-20 20-21 25-78 106z" fill="url(#r182)" stroke="url(#r182)"/>
<path d="M1218 1812l78-106 21-25 20-20 21-14 17-7 10-2 10 0 10 2 7 3 10 7 11 8 17 21 17 27 17 35 17 43 20 60 17 58 21 79 24-79 27-103 30-127 62-268 27-115 27-105 28-92 17-48 13-34 17-34 14-22 14-15 13-9 7-2 7-1 7 1 6 3 14 10 14 16 13 23 14 29 14 34 17 52 13 47 17 66 28 118 27 133 88 471 31 157 27 130 24 103 21-58 17-42 20-40 17-25 17-18 7-5 10-6 7-2 10-1 10 1 11 4 17 12 20 22 17 24 21 35 20 40 20 45 79 184-1 0-79-182-20-44-21-40-20-34-17-24-21-22-17-11-10-4-10-2-10 1-7 2-10 6-7 5-17 17-17 25-21 40-17 40-20 58-24-102-27-128-31-155-88-465-28-130-27-118-17-65-14-46-17-51-13-34-14-29-14-22-13-16-14-10-7-3-6-1-7 1-7 2-14 9-13 15-14 20-17 34-14 33-17 48-27 90-27 104-27 112-62 264-30 125-28 101-24 78-20-78-17-58-20-60-17-41-18-35-17-27-17-20-10-9-10-6-7-3-10-3-10 0-11 2-17 7-20 14-20 20-21 23-78 104z" fill="url(#r183)" stroke="url(#r183)"/>
<path d="M1217 1812l78-104 21-23 20-20 20-14 17-7 11-2 10 0 10 3 7 3 10 6 10 9 17 20 17 27 18 35 17 41 20 60 17 58 20 78 24-78 28-101 30-125 62-264 27-112 27-104 27-90 17-48 14-33 17-34 14-20 13-15 14-9 7-2 7-1 6 1 7 3 14 10 13 16 14 22 14 29 13 34 17 51 14 46 17 65 27 118 28 130 88 465 31 155 27 128 24 102 20-58 17-40 21-40 17-25 17-17 7-5 10-6 7-2 10-1 10 2 10 4 17 11 21 22 17 24 20 34 21 40 20 44 79 182-2 0-78-179-20-44-21-39-20-34-17-24-21-22-17-11-10-4-10-2-10 1-7 2-11 6-6 4-17 18-17 24-21 39-17 40-20 56-24-100-27-127-31-153-89-458-27-129-27-115-17-64-14-46-17-50-14-34-13-28-14-22-13-16-14-10-7-3-7-1-6 1-7 2-14 8-14 15-13 20-17 33-14 33-17 46-27 89-27 102-28 110-61 260-31 122-27 100-24 76-20-77-17-57-21-59-17-41-17-34-17-27-17-20-10-9-10-6-7-3-10-2-10-1-11 2-17 7-20 14-21 19-20 23-78 101z" fill="url(#r184)" stroke="url(#r184)"/>
<path d="M1216 1812l78-101 20-23 21-19 20-14 17-7 11-2 10 1 10 2 7 3 10 6 10 9 17 20 17 27 17 34 17 41 21 59 17 57 20 77 24-76 27-100 31-122 61-260 28-110 27-102 27-89 17-46 14-33 17-33 13-20 14-15 14-8 7-2 6-1 7 1 7 3 14 10 13 16 14 22 13 28 14 34 17 50 14 46 17 64 27 115 27 129 89 458 31 153 27 127 24 100 20-56 17-40 21-39 17-24 17-18 6-4 11-6 7-2 10-1 10 2 10 4 17 11 21 22 17 24 20 34 21 39 20 44 78 179-1 1-78-178-21-43-20-39-20-34-17-23-21-21-17-12-10-4-10-1-11 1-6 1-11 5-6 5-18 17-17 24-20 38-17 39-20 55-24-98-28-125-30-151-89-452-27-127-27-114-17-63-14-45-17-50-14-33-13-28-14-22-14-16-13-10-7-2-7-1-7 0-6 2-14 8-14 15-13 19-17 33-14 32-17 46-27 87-28 100-27 108-61 255-31 121-27 97-24 75-20-75-17-56-21-59-17-41-17-33-17-27-17-20-10-8-10-7-17-5-11 0-10 1-17 6-20 14-21 19-20 22-79 100z" fill="url(#r185)" stroke="url(#r185)"/>
<path d="M1214 1813l79-100 20-22 21-19 20-14 17-6 10-1 11 0 17 5 10 7 10 8 17 20 17 27 17 33 17 41 21 59 17 56 20 75 24-75 27-97 31-121 61-255 27-108 28-100 27-87 17-46 14-32 17-33 13-19 14-15 14-8 6-2 7 0 7 1 7 2 13 10 14 16 14 22 13 28 14 33 17 50 14 45 17 63 27 114 27 127 89 452 30 151 28 125 24 98 20-55 17-39 20-38 17-24 18-17 6-5 11-5 6-1 11-1 10 1 10 4 17 12 21 21 17 23 20 34 20 39 21 43 78 178-1 0-78-175-21-43-20-38-21-34-17-23-20-21-17-11-10-4-11-2-10 1-7 2-10 4-7 5-17 16-17 24-20 37-17 38-21 55-23-98-28-123-30-149-89-445-27-125-27-112-18-63-13-44-17-49-14-33-13-28-14-21-14-16-13-10-7-2-7-2-7 1-7 2-13 8-14 14-13 19-18 32-13 31-17 45-27 86-28 98-27 107-61 250-31 118-27 96-24 74-20-75-18-55-20-58-17-40-17-34-17-26-17-19-10-9-11-6-17-6-10 0-10 1-17 6-20 14-21 18-20 22-79 97z" fill="url(#r186)" stroke="url(#r186)"/>
<path d="M1213 1813l79-97 20-22 21-18 20-14 17-6 10-1 10 0 17 6 11 6 10 9 17 19 17 26 17 34 17 40 20 58 18 55 20 75 24-74 27-96 31-118 61-250 27-107 28-98 27-86 17-45 13-31 18-32 13-19 14-14 13-8 7-2 7-1 7 2 7 2 13 10 14 16 14 21 13 28 14 33 17 49 13 44 18 63 27 112 27 125 89 445 30 149 28 123 23 98 21-55 17-38 20-37 17-24 17-16 7-5 10-4 7-2 10-1 11 2 10 4 17 11 20 21 17 23 21 34 20 38 21 43 78 175-1 0-78-173-21-41-20-39-21-33-17-23-20-21-17-11-10-4-11-2-10 1-7 2-10 4-7 5-17 16-17 23-20 36-17 38-21 53-24-96-27-121-31-147-88-438-27-124-28-111-17-61-13-44-17-48-14-33-14-27-13-21-14-16-13-10-7-2-7-2-7 1-7 1-13 8-14 14-14 19-17 31-13 31-17 44-28 84-27 96-27 105-61 245-31 117-27 94-24 72-21-74-17-54-20-57-17-40-17-33-17-26-17-19-10-9-11-6-17-5-10-1-10 1-17 6-21 13-20 18-21 21-78 95z" fill="url(#r187)" stroke="url(#r187)"/>
<path d="M1212 1813l78-95 21-21 20-18 21-13 17-6 10-1 10 1 17 5 11 6 10 9 17 19 17 26 17 33 17 40 20 57 17 54 21 74 24-72 27-94 31-117 61-245 27-105 27-96 28-84 17-44 13-31 17-31 14-19 14-14 13-8 7-1 7-1 7 2 7 2 13 10 14 16 13 21 14 27 14 33 17 48 13 44 17 61 28 111 27 124 88 438 31 147 27 121 24 96 21-53 17-38 20-36 17-23 17-16 7-5 10-4 7-2 10-1 11 2 10 4 17 11 20 21 17 23 21 33 20 39 21 41 78 173-1 1-79-171-20-41-20-38-21-33-17-23-20-20-17-12-11-4-10-1-10 0-7 2-10 4-7 5-17 15-17 23-20 35-17 37-21 52-24-94-27-120-31-144-88-432-27-122-28-109-17-61-13-43-17-48-14-32-14-27-13-21-14-16-14-9-6-3-7-1-7 0-7 2-13 8-14 13-14 18-17 31-13 30-17 43-28 83-27 94-27 103-61 241-31 114-27 92-24 71-21-72-17-54-20-56-17-39-17-33-17-26-17-19-11-8-10-6-17-6-10-1-10 1-17 6-21 13-20 17-21 21-78 93z" fill="url(#r188)" stroke="url(#r188)"/>
<path d="M1211 1814l78-93 21-21 20-17 21-13 17-6 10-1 10 1 17 6 10 6 11 8 17 19 17 26 17 33 17 39 20 56 17 54 21 72 24-71 27-92 31-114 61-241 27-103 27-94 28-83 17-43 13-30 17-31 14-18 14-13 13-8 7-2 7 0 7 1 6 3 14 9 14 16 13 21 14 27 14 32 17 48 13 43 17 61 28 109 27 122 88 432 31 144 27 120 24 94 21-52 17-37 20-35 17-23 17-15 7-5 10-4 7-2 10 0 10 1 11 4 17 12 20 20 17 23 21 33 20 38 20 41 79 171-1 0-79-169-20-40-20-38-21-32-17-22-20-21-17-11-11-4-10-2-10 0-7 2-10 4-7 4-17 16-17 21-20 35-17 36-21 52-24-94-27-117-31-143-88-425-28-120-27-108-17-59-13-43-17-47-14-32-14-26-13-21-14-16-14-9-13-4-7 0-7 2-14 7-13 13-14 18-17 30-13 29-17 43-28 80-27 93-27 101-62 237-30 112-27 90-24 70-21-72-17-53-20-55-17-39-17-32-17-26-17-19-11-8-10-6-17-6-10-1-10 1-17 6-21 12-20 17-21 20-78 91z" fill="url(#r189)" stroke="url(#r189)"/>
<path d="M1210 1814l78-91 21-20 20-17 21-12 17-6 10-1 10 1 17 6 10 6 11 8 17 19 17 26 17 32 17 39 20 55 17 53 21 72 24-70 27-90 30-112 62-237 27-101 27-93 28-80 17-43 13-29 17-30 14-18 13-13 14-7 7-2 7 0 13 4 14 9 14 16 13 21 14 26 14 32 17 47 13 43 17 59 27 108 28 120 88 425 31 143 27 117 24 94 21-52 17-36 20-35 17-21 17-16 7-4 10-4 7-2 10 0 10 2 11 4 17 11 20 21 17 22 21 32 20 38 20 40 79 169-1 0-79-166-20-40-21-37-20-32-17-22-20-21-17-11-11-4-10-2-10 0-7 2-10 4-7 4-17 15-17 21-21 34-17 36-20 50-24-92-27-116-31-140-88-419-28-118-27-106-17-59-14-42-17-46-13-32-14-26-13-21-14-15-14-9-13-4-14 1-14 7-13 13-14 18-17 29-14 29-17 41-27 79-27 91-27 99-62 232-30 110-28 89-23 68-21-71-17-52-20-54-17-39-17-31-17-26-17-18-11-9-10-6-17-5-10-1-10 1-17 5-21 12-20 16-21 20-78 88z" fill="url(#r190)" stroke="url(#r190)"/>
<path d="M1209 1814l78-88 21-20 20-16 21-12 17-5 10-1 10 1 17 5 10 6 11 9 17 18 17 26 17 31 17 39 20 54 17 52 21 71 23-68 28-89 30-110 62-232 27-99 27-91 27-79 17-41 14-29 17-29 14-18 13-13 14-7 14-1 13 4 14 9 14 15 13 21 14 26 13 32 17 46 14 42 17 59 27 106 28 118 88 419 31 140 27 116 24 92 20-50 17-36 21-34 17-21 17-15 7-4 10-4 7-2 10 0 10 2 11 4 17 11 20 21 17 22 20 32 21 37 20 40 79 166-1 1-79-165-20-39-21-37-20-31-17-22-21-21-17-11-10-4-10-2-10 1-7 1-17 8-17 14-17 21-21 34-17 34-20 49-24-90-27-114-31-138-88-413-28-116-27-105-17-58-14-41-17-46-13-31-14-26-13-20-14-15-14-10-13-4-14 2-14 7-13 12-14 17-17 29-14 28-17 41-27 77-27 89-27 97-62 228-30 108-28 86-23 67-21-69-17-52-20-53-17-38-17-32-17-24-18-19-10-8-10-6-17-6-10-1-10 1-17 5-21 11-20 16-21 19-78 87z" fill="url(#r191)" stroke="url(#r191)"/>
<path d="M1208 1815l78-87 21-19 20-16 21-11 17-5 10-1 10 1 17 6 10 6 10 8 18 19 17 24 17 32 17 38 20 53 17 52 21 69 23-67 28-86 30-108 62-228 27-97 27-89 27-77 17-41 14-28 17-29 14-17 13-12 14-7 14-2 13 4 14 10 14 15 13 20 14 26 13 31 17 46 14 41 17 58 27 105 28 116 88 413 31 138 27 114 24 90 20-49 17-34 21-34 17-21 17-14 17-8 7-1 10-1 10 2 10 4 17 11 21 21 17 22 20 31 21 37 20 39 79 165-1 0-79-162-20-39-21-36-20-31-17-22-21-20-17-11-10-4-10-2-10 0-7 1-17 8-17 14-17 20-21 33-17 34-20 48-24-90-27-112-31-136-88-406-28-114-27-103-17-57-14-41-17-45-13-31-14-25-14-20-13-15-14-10-13-4-14 2-14 6-13 12-14 17-17 28-14 27-17 40-27 76-27 88-27 95-62 223-30 105-28 85-23 66-21-69-17-51-20-53-17-37-17-31-18-24-17-19-10-8-10-6-17-6-10-1-10 1-17 5-21 11-20 15-21 19-78 84z" fill="url(#r192)" stroke="url(#r192)"/>
<path d="M1207 1815l78-84 21-19 20-15 21-11 17-5 10-1 10 1 17 6 10 6 10 8 17 19 18 24 17 31 17 37 20 53 17 51 21 69 23-66 28-85 30-105 62-223 27-95 27-88 27-76 17-40 14-27 17-28 14-17 13-12 14-6 14-2 13 4 14 10 13 15 14 20 14 25 13 31 17 45 14 41 17 57 27 103 28 114 88 406 31 136 27 112 24 90 20-48 17-34 21-33 17-20 17-14 17-8 7-1 10 0 10 2 10 4 17 11 21 20 17 22 20 31 21 36 20 39 79 162-1 0-79-160-20-38-21-36-20-31-17-21-21-20-17-11-10-4-10-2-10 0-7 1-17 7-17 14-17 20-21 32-17 33-20 47-24-88-27-110-31-134-88-400-28-113-27-101-17-56-14-41-17-44-13-30-14-25-14-20-13-15-14-9-13-4-14 1-14 6-13 12-14 16-17 28-14 26-17 40-27 74-27 85-27 94-62 218-30 103-28 84-23 64-21-68-17-50-20-52-17-37-17-30-18-24-17-19-10-8-10-6-17-6-10-1-10 1-17 4-21 11-20 15-21 18-78 82z" fill="url(#r193)" stroke="url(#r193)"/>
<path d="M1206 1815l78-82 21-18 20-15 21-11 17-4 10-1 10 1 17 6 10 6 10 8 17 19 18 24 17 30 17 37 20 52 17 50 21 68 23-64 28-84 30-103 62-218 27-94 27-85 27-74 17-40 14-26 17-28 14-16 13-12 14-6 14-1 13 4 14 9 13 15 14 20 14 25 13 30 17 44 14 41 17 56 27 101 28 113 88 400 31 134 27 110 24 88 20-47 17-33 21-32 17-20 17-14 17-7 7-1 10 0 10 2 10 4 17 11 21 20 17 21 20 31 21 36 20 38 79 160-1 1-79-158-20-38-21-35-20-31-17-21-21-20-17-11-10-4-10-2-10 0-7 1-17 7-17 13-17 20-21 31-17 32-20 46-24-86-27-109-31-132-88-393-28-111-27-99-17-56-14-39-17-44-13-30-14-24-14-20-13-15-14-9-13-4-14 1-14 6-13 11-14 16-17 27-14 26-17 38-27 73-27 84-27 91-62 214-30 101-28 82-24 62-20-66-17-49-20-52-17-36-17-30-18-24-17-18-10-8-10-7-17-5-10-2-10 1-18 4-20 10-20 15-21 18-78 80z" fill="url(#r194)" stroke="url(#r194)"/>
<path d="M1205 1816l78-80 21-18 20-15 20-10 18-4 10-1 10 2 17 5 10 7 10 8 17 18 18 24 17 30 17 36 20 52 17 49 20 66 24-62 28-82 30-101 62-214 27-91 27-84 27-73 17-38 14-26 17-27 14-16 13-11 14-6 14-1 13 4 14 9 13 15 14 20 14 24 13 30 17 44 14 39 17 56 27 99 28 111 88 393 31 132 27 109 24 86 20-46 17-32 21-31 17-20 17-13 17-7 7-1 10 0 10 2 10 4 17 11 21 20 17 21 20 31 21 35 20 38 79 158-1 0-79-156-20-37-21-35-20-30-17-21-21-19-17-12-10-4-10-2-17 1-17 7-17 13-17 19-21 30-17 31-20 45-24-85-27-107-31-129-88-387-28-109-27-98-17-55-14-39-17-43-13-29-14-24-14-20-13-14-14-10-13-4-14 1-14 6-13 11-14 16-17 26-14 25-17 38-27 71-27 81-27 90-62 209-30 99-28 80-23 61-21-65-17-48-20-51-17-36-17-30-18-23-17-18-10-8-10-6-17-6-10-1-10 0-17 4-21 10-20 14-21 17-78 78z" fill="url(#r195)" stroke="url(#r195)"/>
<path d="M1204 1816l78-78 21-17 20-14 21-10 17-4 10 0 10 1 17 6 10 6 10 8 17 18 18 23 17 30 17 36 20 51 17 48 21 65 23-61 28-80 30-99 62-209 27-90 27-81 27-71 17-38 14-25 17-26 14-16 13-11 14-6 14-1 13 4 14 10 13 14 14 20 14 24 13 29 17 43 14 39 17 55 27 98 28 109 88 387 31 129 27 107 24 85 20-45 17-31 21-30 17-19 17-13 17-7 17-1 10 2 10 4 17 12 21 19 17 21 20 30 21 35 20 37 79 156-1 0-79-153-20-37-21-34-20-30-17-21-21-19-17-11-10-4-10-2-17 0-17 7-17 12-17 18-21 30-17 31-20 44-24-84-27-105-31-127-88-381-28-107-27-96-17-54-14-39-17-42-13-29-14-24-14-19-13-14-14-10-13-4-14 1-14 6-13 10-14 15-17 26-14 25-17 36-27 70-27 80-27 87-62 205-30 97-28 78-23 60-21-65-17-47-20-50-17-35-17-30-18-23-17-18-10-8-10-6-17-6-10-1-10 0-17 4-21 9-20 14-21 17-78 75z" fill="url(#r196)" stroke="url(#r196)"/>
<path d="M1203 1816l78-75 21-17 20-14 21-9 17-4 10 0 10 1 17 6 10 6 10 8 17 18 18 23 17 30 17 35 20 50 17 47 21 65 23-60 28-78 30-97 62-205 27-87 27-80 27-70 17-36 14-25 17-26 14-15 13-10 14-6 14-1 13 4 14 10 13 14 14 19 14 24 13 29 17 42 14 39 17 54 27 96 28 107 88 381 31 127 27 105 24 84 20-44 17-31 21-30 17-18 17-12 17-7 17 0 10 2 10 4 17 11 21 19 17 21 20 30 21 34 20 37 79 153-1 1-79-152-20-36-21-34-20-29-17-21-21-19-17-11-10-4-10-2-17 0-17 7-17 12-17 17-21 29-17 30-20 43-24-82-27-104-31-125-88-374-28-105-27-95-17-53-14-38-17-41-13-29-14-23-14-19-13-15-14-9-13-4-14 0-14 6-13 10-14 15-17 25-14 24-17 36-27 68-27 78-27 85-62 201-30 94-28 77-23 58-21-63-17-47-20-49-17-35-17-29-17-23-18-18-10-8-10-6-17-6-10-1-10 0-17 4-21 9-20 13-21 16-78 74z" fill="url(#r197)" stroke="url(#r197)"/>
<path d="M1202 1817l78-74 21-16 20-13 21-9 17-4 10 0 10 1 17 6 10 6 10 8 18 18 17 23 17 29 17 35 20 49 17 47 21 63 23-58 28-77 30-94 62-201 27-85 27-78 27-68 17-36 14-24 17-25 14-15 13-10 14-6 14 0 13 4 14 9 13 15 14 19 14 23 13 29 17 41 14 38 17 53 27 95 28 105 88 374 31 125 27 104 24 82 20-43 17-30 21-29 17-17 17-12 17-7 17 0 10 2 10 4 17 11 21 19 17 21 20 29 21 34 20 36 79 152-1 0-79-149-20-36-21-33-20-29-17-21-20-19-18-11-10-4-10-2-17 0-17 6-17 12-17 17-21 28-17 29-20 42-24-81-27-101-31-123-88-368-28-103-27-94-17-52-14-37-17-41-13-28-14-23-13-19-14-14-14-9-13-5-14 1-14 5-13 10-14 14-17 24-14 24-17 35-27 66-27 77-27 83-62 196-30 93-28 74-23 57-21-62-17-46-20-48-17-35-17-28-17-23-17-17-11-8-10-6-17-6-10-2-10 0-17 4-21 8-20 13-21 16-78 71z" fill="url(#r198)" stroke="url(#r198)"/>
<path d="M1201 1817l78-71 21-16 20-13 21-8 17-4 10 0 10 2 17 6 10 6 11 8 17 17 17 23 17 28 17 35 20 48 17 46 21 62 23-57 28-74 30-93 62-196 27-83 27-77 27-66 17-35 14-24 17-24 14-14 13-10 14-5 14-1 13 5 14 9 14 14 13 19 14 23 13 28 17 41 14 37 17 52 27 94 28 103 88 368 31 123 27 101 24 81 20-42 17-29 21-28 17-17 17-12 17-6 17 0 10 2 10 4 18 11 20 19 17 21 20 29 21 33 20 36 79 149-1 0-79-147-20-35-21-33-20-29-17-20-20-18-17-11-11-4-10-3-17 0-17 6-17 11-17 17-20 27-18 29-20 41-24-80-27-100-31-121-88-361-28-102-27-91-17-51-13-37-18-40-13-28-14-23-13-19-14-13-14-10-13-4-14 0-14 5-13 10-14 14-17 23-13 23-18 34-27 65-27 75-27 81-62 192-30 90-28 73-23 56-21-62-17-45-20-48-17-33-17-28-17-23-17-17-11-8-10-6-17-6-10-2-10 0-17 3-21 9-20 12-21 15-78 69z" fill="url(#r199)" stroke="url(#r199)"/>
<path d="M1200 1817l78-69 21-15 20-12 21-9 17-3 10 0 10 2 17 6 10 6 11 8 17 17 17 23 17 28 17 33 20 48 17 45 21 62 23-56 28-73 30-90 62-192 27-81 27-75 27-65 18-34 13-23 17-23 14-14 13-10 14-5 14 0 13 4 14 10 14 13 13 19 14 23 13 28 18 40 13 37 17 51 27 91 28 102 88 361 31 121 27 100 24 80 20-41 18-29 20-27 17-17 17-11 17-6 17 0 10 3 11 4 17 11 20 18 17 20 20 29 21 33 20 35 79 147-1 0-79-144-20-35-20-32-21-29-17-20-20-18-17-11-11-4-10-3-17 0-17 6-17 11-17 16-20 26-17 28-21 40-24-78-27-98-31-119-88-355-28-100-27-90-17-50-13-36-17-40-14-27-14-23-13-18-14-14-14-9-13-4-14 0-14 5-13 9-14 14-17 22-13 23-17 33-28 63-27 73-27 80-62 186-30 88-27 71-24 55-21-60-17-45-20-47-17-33-17-28-17-22-17-17-11-8-10-6-17-6-10-1-10-1-17 3-21 8-20 12-21 15-78 66z" fill="url(#r200)" stroke="url(#r200)"/>
<path d="M1199 1817l78-66 21-15 20-12 21-8 17-3 10 1 10 1 17 6 10 6 11 8 17 17 17 22 17 28 17 33 20 47 17 45 21 60 24-55 27-71 30-88 62-186 27-80 27-73 28-63 17-33 13-23 17-22 14-14 13-9 14-5 14 0 13 4 14 9 14 14 13 18 14 23 14 27 17 40 13 36 17 50 27 90 28 100 88 355 31 119 27 98 24 78 21-40 17-28 20-26 17-16 17-11 17-6 17 0 10 3 11 4 17 11 20 18 17 20 21 29 20 32 20 35 79 144-1 1-79-143-20-34-20-32-21-28-17-19-20-19-17-11-11-4-10-2-17-1-17 6-17 10-17 16-20 25-17 27-21 39-24-77-27-96-31-117-88-348-27-98-28-88-17-50-13-35-17-39-14-27-14-22-13-18-14-14-14-9-13-5-14 0-13 5-14 9-14 13-17 22-13 22-17 32-28 62-27 71-27 78-61 182-31 86-27 69-24 53-21-59-17-44-20-46-17-33-17-27-17-22-17-17-11-8-10-5-17-7-10-1-10-1-17 3-21 8-20 11-21 14-78 65z" fill="url(#r201)" stroke="url(#r201)"/>
<path d="M1198 1818l78-65 21-14 20-11 21-8 17-3 10 1 10 1 17 7 10 5 11 8 17 17 17 22 17 27 17 33 20 46 17 44 21 59 24-53 27-69 31-86 61-182 27-78 27-71 28-62 17-32 13-22 17-22 14-13 14-9 13-5 14 0 13 5 14 9 14 14 13 18 14 22 14 27 17 39 13 35 17 50 28 88 27 98 88 348 31 117 27 96 24 77 21-39 17-27 20-25 17-16 17-10 17-6 17 1 10 2 11 4 17 11 20 19 17 19 21 28 20 32 20 34 79 143-1 0-78-140-21-34-20-31-21-28-17-19-20-19-17-10-11-5-10-2-17 0-17 4-17 10-17 16-20 25-17 26-21 37-24-75-27-95-31-114-88-341-27-97-28-87-17-48-13-35-17-38-14-27-14-22-13-18-14-13-14-9-13-5-14 0-13 5-14 8-14 13-17 21-13 22-17 31-28 60-27 69-27 76-61 177-31 84-27 68-24 51-21-58-17-43-20-45-17-32-17-27-17-22-17-17-10-7-11-6-17-6-10-2-10 0-17 2-21 7-20 11-21 14-78 62z" fill="url(#r202)" stroke="url(#r202)"/>
<path d="M1197 1818l78-62 21-14 20-11 21-7 17-2 10 0 10 2 17 6 11 6 10 7 17 17 17 22 17 27 17 32 20 45 17 43 21 58 24-51 27-68 31-84 61-177 27-76 27-69 28-60 17-31 13-22 17-21 14-13 14-8 13-5 14 0 13 5 14 9 14 13 13 18 14 22 14 27 17 38 13 35 17 48 28 87 27 97 88 341 31 114 27 95 24 75 21-37 17-26 20-25 17-16 17-10 17-4 17 0 10 2 11 5 17 10 20 19 17 19 21 28 20 31 21 34 78 140-1 0-78-138-21-33-20-31-21-27-17-19-20-18-17-11-10-4-11-3-17 0-17 4-17 10-17 14-20 25-17 25-21 37-24-74-27-93-31-112-88-335-27-95-28-85-17-48-13-34-17-38-14-26-14-21-13-18-14-13-13-9-14-5-14 0-13 4-14 8-14 13-17 20-13 21-17 30-28 59-27 67-27 74-61 173-31 82-27 65-24 51-21-57-17-43-20-44-17-32-17-26-17-22-17-16-21-14-17-6-20-2-17 2-21 7-20 10-20 13-79 60z" fill="url(#r203)" stroke="url(#r203)"/>
<path d="M1196 1818l79-60 20-13 20-10 21-7 17-2 20 2 17 6 21 14 17 16 17 22 17 26 17 32 20 44 17 43 21 57 24-51 27-65 31-82 61-173 27-74 27-67 28-59 17-30 13-21 17-20 14-13 14-8 13-4 14 0 14 5 13 9 14 13 13 18 14 21 14 26 17 38 13 34 17 48 28 85 27 95 88 335 31 112 27 93 24 74 21-37 17-25 20-25 17-14 17-10 17-4 17 0 11 3 10 4 17 11 20 18 17 19 21 27 20 31 21 33 78 138-1 0-78-135-21-33-20-31-21-26-17-19-20-18-17-11-10-4-11-3-17 0-17 4-17 9-17 14-20 24-17 24-21 36-23-73-28-91-30-110-89-329-27-92-28-84-17-47-13-33-17-37-14-26-13-21-14-18-14-13-13-9-14-4-14-1-13 4-14 8-13 12-18 20-13 20-17 30-27 56-28 66-27 72-61 168-31 80-27 64-24 49-20-56-18-42-20-43-17-32-17-26-17-21-17-16-21-14-17-6-20-2-17 2-21 6-20 10-20 13-79 57z" fill="url(#r204)" stroke="url(#r204)"/>
<path d="M1195 1818l79-57 20-13 20-10 21-6 17-2 20 2 17 6 21 14 17 16 17 21 17 26 17 32 20 43 18 42 20 56 24-49 27-64 31-80 61-168 27-72 28-66 27-56 17-30 13-20 18-20 13-12 14-8 13-4 14 1 14 4 13 9 14 13 14 18 13 21 14 26 17 37 13 33 17 47 28 84 27 92 89 329 30 110 28 91 23 73 21-36 17-24 20-24 17-14 17-9 17-4 17 0 11 3 10 4 17 11 20 18 17 19 21 26 20 31 21 33 78 135-1 1-78-134-21-32-20-30-21-27-17-18-20-18-17-10-10-5-11-2-17-1-17 4-17 8-17 14-20 23-17 24-21 34-23-71-28-89-119-430-27-91-27-82-17-46-14-33-17-37-14-25-13-21-14-17-14-13-13-9-14-4-14-1-13 4-14 7-13 12-17 19-14 20-17 28-27 55-28 64-27 70-61 164-31 78-27 62-24 47-20-55-17-41-21-43-17-30-17-26-17-21-17-16-20-13-18-7-20-2-17 1-20 6-21 10-20 12-79 56z" fill="url(#r205)" stroke="url(#r205)"/>
<path d="M1194 1819l79-56 20-12 21-10 20-6 17-1 20 2 18 7 20 13 17 16 17 21 17 26 17 30 21 43 17 41 20 55 24-47 27-62 31-78 61-164 27-70 28-64 27-55 17-28 14-20 17-19 13-12 14-7 13-4 14 1 14 4 13 9 14 13 14 17 13 21 14 25 17 37 14 33 17 46 27 82 27 91 119 430 28 89 23 71 21-34 17-24 20-23 17-14 17-8 17-4 17 1 11 2 10 5 17 10 20 18 17 18 21 27 20 30 21 32 78 134-1 0-78-131-21-32-20-30-20-26-18-18-20-18-17-10-10-5-10-2-17-1-17 3-18 9-17 13-20 22-17 23-20 34-24-70-28-88-119-421-27-90-27-80-17-45-14-32-17-36-14-25-13-21-14-16-14-13-13-9-14-5-13-1-14 4-14 7-13 11-17 19-14 19-17 28-27 53-28 62-27 68-61 160-31 75-27 60-24 47-20-54-17-41-21-42-17-30-17-25-17-21-17-16-20-13-17-6-21-3-17 1-20 6-21 9-20 12-79 53z" fill="url(#r206)" stroke="url(#r206)"/>
<path d="M1193 1819l79-53 20-12 21-9 20-6 17-1 21 3 17 6 20 13 17 16 17 21 17 25 17 30 21 42 17 41 20 54 24-47 27-60 31-75 61-160 27-68 28-62 27-53 17-28 14-19 17-19 13-11 14-7 14-4 13 1 14 5 13 9 14 13 14 16 13 21 14 25 17 36 14 32 17 45 27 80 27 90 119 421 28 88 24 70 20-34 17-23 20-22 17-13 18-9 17-3 17 1 10 2 10 5 17 10 20 18 18 18 20 26 20 30 21 32 78 131-1 0-78-129-21-31-20-29-20-26-17-18-21-18-17-10-10-4-10-3-17-1-17 3-17 8-17 13-21 21-17 22-20 33-24-69-28-85-119-413-27-88-27-79-17-44-14-32-17-35-14-24-13-20-14-17-13-13-14-8-14-5-13-1-14 3-14 7-13 11-17 18-14 18-17 27-27 52-27 60-28 66-61 155-31 73-27 59-24 45-20-53-17-39-21-42-17-30-17-24-17-21-17-16-20-13-17-6-21-3-17 1-20 5-21 9-20 11-78 51z" fill="url(#r207)" stroke="url(#r207)"/>
<path d="M1193 1819l78-51 20-11 21-9 20-5 17-1 21 3 17 6 20 13 17 16 17 21 17 24 17 30 21 42 17 39 20 53 24-45 27-59 31-73 61-155 28-66 27-60 27-52 17-27 14-18 17-18 13-11 14-7 14-3 13 1 14 5 14 8 13 13 14 17 13 20 14 24 17 35 14 32 17 44 27 79 27 88 119 413 28 85 24 69 20-33 17-22 21-21 17-13 17-8 17-3 17 1 10 3 10 4 17 10 21 18 17 18 20 26 20 29 21 31 78 129-1 1-78-127-20-31-21-29-20-25-17-18-21-17-17-11-20-7-17-1-17 3-17 7-17 12-21 21-17 22-20 31-24-67-27-84-120-404-27-86-27-77-17-43-14-32-17-34-13-24-14-20-14-16-13-13-14-9-14-5-13 0-14 2-14 7-13 10-17 18-14 17-17 26-27 51-27 58-28 64-61 151-31 71-27 57-24 43-20-52-17-38-21-41-17-29-17-25-17-20-17-15-20-13-17-7-21-3-17 1-20 5-21 8-20 11-78 49z" fill="url(#r208)" stroke="url(#r208)"/>
<path d="M1192 1820l78-49 20-11 21-8 20-5 17-1 21 3 17 7 20 13 17 15 17 20 17 25 17 29 21 41 17 38 20 52 24-43 27-57 31-71 61-151 28-64 27-58 27-51 17-26 14-17 17-18 13-10 14-7 14-2 13 0 14 5 14 9 13 13 14 16 14 20 13 24 17 34 14 32 17 43 27 77 27 86 120 404 27 84 24 67 20-31 17-22 21-21 17-12 17-7 17-3 17 1 20 7 17 11 21 17 17 18 20 25 21 29 20 31 78 127-1 0-78-125-41-58-20-25-17-18-21-17-17-10-20-8-17-1-17 3-17 7-17 11-21 20-17 21-20 30-24-65-27-83-120-395-27-84-27-76-31-73-17-33-13-24-14-20-14-16-13-12-14-9-14-5-13-1-14 3-13 6-14 10-17 17-14 17-17 25-27 49-27 56-28 62-61 146-31 69-27 55-24 42-20-50-17-38-21-40-17-29-17-24-17-20-17-15-20-13-17-7-21-3-17 1-20 4-21 8-20 10-78 47z" fill="url(#r209)" stroke="url(#r209)"/>
<path d="M1191 1820l78-47 20-10 21-8 20-4 17-1 21 3 17 7 20 13 17 15 17 20 17 24 17 29 21 40 17 38 20 50 24-42 27-55 31-69 61-146 28-62 27-56 27-49 17-25 14-17 17-17 14-10 13-6 14-3 13 1 14 5 14 9 13 12 14 16 14 20 13 24 17 33 31 73 27 76 27 84 120 395 27 83 24 65 20-30 17-21 21-20 17-11 17-7 17-3 17 1 20 8 17 10 21 17 17 18 20 25 41 58 78 125-79-122-41-58-20-24-17-18-21-17-17-10-20-7-17-2-17 2-17 7-17 11-21 19-17 20-20 30-24-65-27-80-119-387-28-82-27-74-31-72-17-33-13-23-14-19-14-16-13-12-14-9-13-5-14-1-14 2-13 6-14 9-17 17-14 16-17 24-27 47-27 55-27 61-62 141-30 67-28 53-24 41-20-50-17-37-20-39-17-28-18-24-17-20-17-15-20-13-17-6-21-4-17 1-20 4-20 7-21 10-78 44z" fill="url(#r210)" stroke="url(#r210)"/>
<path d="M1190 1820l78-44 21-10 20-7 20-4 17-1 21 4 17 6 20 13 17 15 17 20 18 24 17 28 20 39 17 37 20 50 24-41 28-53 30-67 62-141 27-61 27-55 27-47 17-24 14-16 17-17 14-9 13-6 14-2 14 1 13 5 14 9 13 12 14 16 14 19 13 23 17 33 31 72 27 74 28 82 119 387 27 80 24 65 20-30 17-20 21-19 17-11 17-7 17-2 17 2 20 7 17 10 21 17 17 18 20 24 41 58 79 122-1 0-79-120-41-57-20-24-17-17-20-17-18-10-20-7-17-2-17 2-17 6-17 11-21 18-17 20-20 28-24-63-27-79-119-378-28-81-27-72-31-70-17-33-13-22-14-19-13-16-14-12-14-9-13-5-14-1-14 2-13 6-14 9-17 15-14 16-17 24-27 45-27 53-27 58-62 137-30 65-28 52-23 39-21-49-17-36-20-39-17-27-17-24-17-19-17-15-21-13-17-6-20-4-17 0-21 4-20 7-21 9-78 42z" fill="url(#r211)" stroke="url(#r211)"/>
<path d="M1189 1820l78-42 21-9 20-7 21-4 17 0 20 4 17 6 21 13 17 15 17 19 17 24 17 27 20 39 17 36 21 49 23-39 28-52 30-65 62-137 27-58 27-53 27-45 17-24 14-16 17-15 14-9 13-6 14-2 14 1 13 5 14 9 14 12 13 16 14 19 13 22 17 33 31 70 27 72 28 81 119 378 27 79 24 63 20-28 17-20 21-18 17-11 17-6 17-2 17 2 20 7 18 10 20 17 17 17 20 24 41 57 79 120-1 1-79-119-40-55-21-24-17-17-20-16-17-11-21-7-17-2-17 2-17 6-17 10-20 17-17 19-21 27-24-61-27-77-119-370-28-79-27-71-30-68-17-32-14-22-14-19-13-15-14-12-14-9-13-5-14-1-14 2-13 5-14 8-17 15-13 15-17 23-28 44-27 51-27 57-62 132-30 62-27 50-24 38-21-48-17-35-20-38-17-27-17-23-17-19-17-14-21-13-17-7-20-4-17 0-21 4-20 6-21 8-78 41z" fill="url(#r212)" stroke="url(#r212)"/>
<path d="M1188 1821l78-41 21-8 20-6 21-4 17 0 20 4 17 7 21 13 17 14 17 19 17 23 17 27 20 38 17 35 21 48 24-38 27-50 30-62 62-132 27-57 27-51 28-44 17-23 13-15 17-15 14-8 13-5 14-2 14 1 13 5 14 9 14 12 13 15 14 19 14 22 17 32 30 68 27 71 28 79 119 370 27 77 24 61 21-27 17-19 20-17 17-10 17-6 17-2 17 2 21 7 17 11 20 16 17 17 21 24 40 55 79 119-1 0-78-116-41-55-21-23-17-17-20-16-17-10-21-8-17-2-17 2-17 5-17 10-20 16-17 18-21 26-24-60-27-75-119-361-27-77-28-69-30-67-17-31-14-22-14-18-13-15-14-12-14-9-13-5-14-1-13 1-14 5-14 8-17 14-13 15-17 22-28 42-27 49-27 55-61 128-31 60-27 48-24 36-21-46-17-35-20-37-17-26-17-23-17-19-17-14-21-13-17-7-20-4-17 0-21 3-20 6-21 8-78 38z" fill="url(#r213)" stroke="url(#r213)"/>
<path d="M1187 1821l78-38 21-8 20-6 21-3 17 0 20 4 17 7 21 13 17 14 17 19 17 23 17 26 20 37 17 35 21 46 24-36 27-48 31-60 61-128 27-55 27-49 28-42 17-22 13-15 17-14 14-8 14-5 13-1 14 1 13 5 14 9 14 12 13 15 14 18 14 22 17 31 30 67 28 69 27 77 119 361 27 75 24 60 21-26 17-18 20-16 17-10 17-5 17-2 17 2 21 8 17 10 20 16 17 17 21 23 41 55 78 116-1 0-78-114-41-53-21-23-17-17-20-16-17-10-21-8-17-2-17 1-17 5-17 9-20 16-17 17-21 26-24-59-27-74-119-352-27-75-28-68-30-65-17-31-14-21-14-18-13-15-14-12-13-8-14-5-14-2-13 1-14 5-14 7-17 14-13 14-17 21-28 41-27 47-27 53-61 123-31 58-27 47-24 35-21-46-17-34-20-36-17-26-17-22-17-19-17-14-21-13-17-7-20-4-17 0-21 2-20 6-20 7-79 36z" fill="url(#r214)" stroke="url(#r214)"/>
<path d="M1186 1821l79-36 20-7 20-6 21-2 17 0 20 4 17 7 21 13 17 14 17 19 17 22 17 26 20 36 17 34 21 46 24-35 27-47 31-58 61-123 27-53 27-47 28-41 17-21 13-14 17-14 14-7 14-5 13-1 14 2 14 5 13 8 14 12 13 15 14 18 14 21 17 31 30 65 28 68 27 75 119 352 27 74 24 59 21-26 17-17 20-16 17-9 17-5 17-1 17 2 21 8 17 10 20 16 17 17 21 23 41 53 78 114-1 0-78-111-41-53-21-22-17-17-20-16-17-10-21-7-17-3-17 1-17 5-17 8-20 15-17 17-21 24-23-57-28-72-119-344-27-73-27-66-31-64-17-30-14-21-13-18-14-14-14-12-13-8-14-5-14-2-13 1-14 4-13 7-18 13-13 13-17 21-27 39-28 46-27 50-61 119-31 56-27 44-24 34-20-45-18-33-20-35-17-26-17-21-17-18-17-15-21-12-17-7-20-5-17 0-20 2-21 5-20 7-79 33z" fill="url(#r215)" stroke="url(#r215)"/>
<path d="M1185 1821l79-33 20-7 21-5 20-2 17 0 20 5 17 7 21 12 17 15 17 18 17 21 17 26 20 35 18 33 20 45 24-34 27-44 31-56 61-119 27-50 28-46 27-39 17-21 13-13 18-13 13-7 14-4 13-1 14 2 14 5 13 8 14 12 14 14 13 18 14 21 17 30 31 64 27 66 27 73 119 344 28 72 23 57 21-24 17-17 20-15 17-8 17-5 17-1 17 3 21 7 17 10 20 16 17 17 21 22 41 53 78 111-1 1-78-110-41-51-21-23-17-16-20-15-17-10-20-8-17-3-18 1-17 4-17 8-20 14-17 16-21 23-23-56-28-70-119-335-27-71-27-65-31-62-17-30-14-20-13-18-14-14-14-11-13-9-14-5-13-2-14 1-14 4-13 6-17 13-14 13-17 19-27 37-28 44-27 49-61 114-31 54-27 43-24 32-20-43-17-33-21-35-17-24-17-22-17-17-17-15-20-12-17-7-21-5-17-1-20 2-21 5-20 6-79 32z" fill="url(#r216)" stroke="url(#r216)"/>
<path d="M1184 1822l79-32 20-6 21-5 20-2 17 1 21 5 17 7 20 12 17 15 17 17 17 22 17 24 21 35 17 33 20 43 24-32 27-43 31-54 61-114 27-49 28-44 27-37 17-19 14-13 17-13 13-6 14-4 14-1 13 2 14 5 13 9 14 11 14 14 13 18 14 20 17 30 31 62 27 65 27 71 119 335 28 70 23 56 21-23 17-16 20-14 17-8 17-4 18-1 17 3 20 8 17 10 20 15 17 16 21 23 41 51 78 110-1 0-78-107-41-51-20-22-17-15-21-16-17-10-20-8-17-3-17 1-17 3-18 8-20 13-17 15-20 22-24-54-28-68-119-327-27-69-27-63-31-61-17-29-14-20-13-17-14-14-13-12-14-8-14-5-13-2-14 0-14 4-13 6-17 12-14 12-17 18-27 36-27 43-28 46-61 110-31 51-27 42-24 30-20-42-17-32-21-34-17-24-17-21-17-17-17-14-20-13-17-7-21-5-17-1-20 2-21 4-20 6-79 29z" fill="url(#r217)" stroke="url(#r217)"/>
<path d="M1183 1822l79-29 20-6 21-4 20-2 17 1 21 5 17 7 20 13 17 14 17 17 17 21 17 24 21 34 17 32 20 42 24-30 27-42 31-51 61-110 28-46 27-43 27-36 17-18 14-12 17-12 13-6 14-4 14 0 13 2 14 5 14 8 13 12 14 14 13 17 14 20 17 29 31 61 27 63 27 69 119 327 28 68 24 54 20-22 17-15 20-13 18-8 17-3 17-1 17 3 20 8 17 10 21 16 17 15 20 22 41 51 78 107-1 0-78-105-41-49-20-22-17-16-21-15-17-10-20-8-17-3-17 0-17 4-17 7-21 12-17 15-20 21-24-54-27-66-120-318-27-68-27-61-31-60-17-28-14-19-13-17-14-14-13-11-14-8-14-6-13-2-14 0-14 4-13 6-17 11-14 11-17 18-27 34-27 40-28 45-61 105-31 50-27 39-24 30-20-42-17-31-21-33-17-24-17-20-17-17-17-14-20-13-17-7-21-5-17-1-20 1-21 4-20 5-78 27z" fill="url(#r218)" stroke="url(#r218)"/>
<path d="M1183 1822l78-27 20-5 21-4 20-1 17 1 21 5 17 7 20 13 17 14 17 17 17 20 17 24 21 33 17 31 20 42 24-30 27-39 31-50 61-105 28-45 27-40 27-34 17-18 14-11 17-11 13-6 14-4 14 0 13 2 14 6 14 8 13 11 14 14 13 17 14 19 17 28 31 60 27 61 27 68 120 318 27 66 24 54 20-21 17-15 21-12 17-7 17-4 17 0 17 3 20 8 17 10 21 15 17 16 20 22 41 49 78 105-1 0-78-102-41-49-20-21-17-15-21-16-17-10-20-8-17-3-17 0-17 3-17 7-21 12-17 13-20 20-24-52-27-65-120-309-27-66-27-60-31-58-17-27-13-19-14-17-14-13-13-11-14-8-14-6-13-2-14 0-13 3-14 5-17 11-14 11-17 16-27 33-27 39-28 42-61 101-31 47-27 38-24 28-20-40-17-31-21-32-17-23-17-21-17-16-17-14-20-12-17-7-21-5-17-2-20 1-21 3-20 5-78 24z" fill="url(#r219)" stroke="url(#r219)"/>
<path d="M1182 1822l78-24 20-5 21-3 20-1 17 2 21 5 17 7 20 12 17 14 17 16 17 21 17 23 21 32 17 31 20 40 24-28 27-38 31-47 61-101 28-42 27-39 27-33 17-16 14-11 17-11 14-5 13-3 14 0 13 2 14 6 14 8 13 11 14 13 14 17 13 19 17 27 31 58 27 60 27 66 120 309 27 65 24 52 20-20 17-13 21-12 17-7 17-3 17 0 17 3 20 8 17 10 21 16 17 15 20 21 41 49 78 102 0 1-79-101-41-48-20-20-17-15-21-15-17-10-20-8-17-4-17 0-17 2-17 6-21 12-17 12-20 19-24-50-27-63-119-301-28-64-27-58-31-57-17-26-13-19-14-16-14-14-13-10-14-9-13-5-14-3-14 0-13 3-14 5-17 10-14 10-17 16-27 31-27 37-27 40-62 97-30 45-28 35-24 27-20-39-17-30-20-31-17-23-18-20-17-16-17-14-20-12-17-7-21-5-17-2-20 0-20 3-21 4-78 23z" fill="url(#r220)" stroke="url(#r220)"/>
<path d="M1181 1823l78-23 21-4 20-3 20 0 17 2 21 5 17 7 20 12 17 14 17 16 18 20 17 23 20 31 17 30 20 39 24-27 28-35 30-45 62-97 27-40 27-37 27-31 17-16 14-10 17-10 14-5 13-3 14 0 14 3 13 5 14 9 13 10 14 14 14 16 13 19 17 26 31 57 27 58 28 64 119 301 27 63 24 50 20-19 17-12 21-12 17-6 17-2 17 0 17 4 20 8 17 10 21 15 17 15 20 20 41 48 79 101-1 0-79-98-41-47-20-20-17-15-21-15-17-10-20-8-17-4-17-1-17 3-17 5-21 11-17 12-20 17-24-49-27-61-119-292-28-62-27-57-31-55-17-26-13-18-14-16-13-13-14-11-14-8-13-5-14-3-14 0-13 2-14 4-17 10-14 9-17 15-27 30-27 35-27 39-62 91-30 43-28 34-23 25-21-38-17-29-20-30-17-23-17-19-17-16-18-14-20-12-17-7-20-5-17-2-21 0-20 2-21 4-78 20z" fill="url(#r221)" stroke="url(#r221)"/>
<path d="M1180 1823l78-20 21-4 20-2 21 0 17 2 20 5 17 7 20 12 18 14 17 16 17 19 17 23 20 30 17 29 21 38 23-25 28-34 30-43 62-91 27-39 27-35 27-30 17-15 14-9 17-10 14-4 13-2 14 0 14 3 13 5 14 8 14 11 13 13 14 16 13 18 17 26 31 55 27 57 28 62 119 292 27 61 24 49 20-17 17-12 21-11 17-5 17-3 17 1 17 4 20 8 17 10 21 15 17 15 20 20 41 47 79 98-1 0-79-96-40-46-21-20-17-14-20-15-17-10-21-8-17-4-17-1-17 2-17 5-20 10-18 11-20 17-24-48-27-59-119-284-28-60-27-55-30-54-18-25-13-18-14-15-13-13-14-11-14-8-13-6-14-3-14 0-13 2-14 4-17 8-13 10-17 14-28 27-27 34-27 37-62 87-30 41-28 32-23 24-21-37-17-29-20-30-17-21-17-19-17-16-17-13-21-12-17-8-20-5-17-3-21 0-20 2-21 3-78 18z" fill="url(#r222)" stroke="url(#r222)"/>
<path d="M1179 1823l78-18 21-3 20-2 21 0 17 3 20 5 17 8 21 12 17 13 17 16 17 19 17 21 20 30 17 29 21 37 23-24 28-32 30-41 62-87 27-37 27-34 28-27 17-14 13-10 17-8 14-4 13-2 14 0 14 3 13 6 14 8 14 11 13 13 14 15 13 18 18 25 30 54 27 55 28 60 119 284 27 59 24 48 20-17 18-11 20-10 17-5 17-2 17 1 17 4 21 8 17 10 20 15 17 14 21 20 40 46 79 96-1 1-79-94-40-45-21-20-17-14-20-15-17-9-21-9-17-4-17-1-17 2-17 4-20 9-17 10-21 16-24-46-27-58-119-275-27-58-28-54-30-52-17-25-14-17-14-15-13-13-14-10-14-8-13-6-14-3-13-1-14 2-14 4-17 7-13 9-17 13-28 26-27 32-27 35-61 82-31 39-27 30-24 23-21-36-17-27-20-30-17-21-17-19-17-15-17-13-21-12-17-7-20-6-17-3-21-1-20 2-21 3-78 16z" fill="url(#r223)" stroke="url(#r223)"/>
<path d="M1178 1824l78-16 21-3 20-2 21 1 17 3 20 6 17 7 21 12 17 13 17 15 17 19 17 21 20 30 17 27 21 36 24-23 27-30 31-39 61-82 27-35 27-32 28-26 17-13 13-9 17-7 14-4 14-2 13 1 14 3 13 6 14 8 14 10 13 13 14 15 14 17 17 25 30 52 28 54 27 58 119 275 27 58 24 46 21-16 17-10 20-9 17-4 17-2 17 1 17 4 21 9 17 9 20 15 17 14 21 20 40 45 79 94-1 0-78-92-41-44-21-19-17-14-20-15-17-9-21-9-17-4-17-1-17 1-17 4-20 8-17 10-21 14-24-45-27-56-119-266-27-57-28-51-30-51-17-24-14-17-14-15-13-13-14-10-13-8-14-5-14-4-13-1-14 2-14 3-17 7-13 8-17 12-28 25-27 30-27 33-61 78-31 36-27 29-24 21-21-35-17-26-20-29-17-21-17-18-17-15-17-13-21-12-17-7-20-6-17-3-21-1-20 1-21 2-78 14z" fill="url(#r224)" stroke="url(#r224)"/>
<path d="M1177 1824l78-14 21-2 20-1 21 1 17 3 20 6 17 7 21 12 17 13 17 15 17 18 17 21 20 29 17 26 21 35 24-21 27-29 31-36 61-78 27-33 27-30 28-25 17-12 13-8 17-7 14-3 14-2 13 1 14 4 14 5 13 8 14 10 13 13 14 15 14 17 17 24 30 51 28 51 27 57 119 266 27 56 24 45 21-14 17-10 20-8 17-4 17-1 17 1 17 4 21 9 17 9 20 15 17 14 21 19 41 44 78 92-1 0-78-89-41-43-21-19-17-14-20-14-17-10-21-8-17-5-17-2-17 1-17 4-20 7-17 9-21 14-24-44-27-54-119-258-27-55-28-50-30-49-17-23-14-17-14-14-13-13-14-10-13-8-14-5-14-4-13-1-14 1-14 3-17 6-13 7-17 12-27 23-28 28-27 31-61 73-31 35-27 27-24 20-21-35-17-25-20-28-17-20-17-18-17-15-17-13-21-12-17-7-20-6-17-3-21-2-20 1-20 2-79 11z" fill="url(#r225)" stroke="url(#r225)"/>
<path d="M1176 1824l79-11 20-2 20-1 21 2 17 3 20 6 17 7 21 12 17 13 17 15 17 18 17 20 20 28 17 25 21 35 24-20 27-27 31-35 61-73 27-31 28-28 27-23 17-12 13-7 17-6 14-3 14-1 13 1 14 4 14 5 13 8 14 10 13 13 14 14 14 17 17 23 30 49 28 50 27 55 119 258 27 54 24 44 21-14 17-9 20-7 17-4 17-1 17 2 17 5 21 8 17 10 20 14 17 14 21 19 41 43 78 89-1 0-78-87-41-42-38-32-20-14-17-10-21-8-17-5-17-2-17 1-17 2-20 7-17 8-21 13-23-42-28-53-119-249-27-53-27-49-31-47-17-23-14-16-13-14-14-12-14-10-13-8-14-6-14-4-13-1-14 1-13 2-17 6-14 7-17 10-27 22-28 26-27 29-61 69-31 32-27 25-24 19-20-33-17-25-21-27-17-20-17-17-17-15-17-13-21-11-17-8-20-6-17-3-20-2-41 1-79 9z" fill="url(#r226)" stroke="url(#r226)"/>
<path d="M1175 1824l79-9 41-1 20 2 17 3 20 6 17 8 21 11 17 13 17 15 17 17 17 20 21 27 17 25 20 33 24-19 27-25 31-32 61-69 27-29 28-26 27-22 17-10 14-7 17-6 13-2 14-1 13 1 14 4 14 6 13 8 14 10 14 12 13 14 14 16 17 23 31 47 27 49 27 53 119 249 28 53 23 42 21-13 17-8 20-7 17-2 17-1 17 2 17 5 21 8 17 10 20 14 38 32 41 42 78 87-1 1-78-86-41-40-38-32-20-14-17-9-20-9-18-5-17-2-17 0-17 2-20 6-17 7-21 12-23-41-28-50-119-241-27-51-27-47-31-46-17-23-14-15-13-14-14-12-14-10-13-7-14-6-14-4-13-2-14 1-13 2-17 5-14 6-17 10-27 20-28 24-27 27-61 65-31 30-27 23-24 17-20-32-17-24-21-26-17-20-17-17-17-14-17-12-20-12-17-8-21-6-17-4-20-2-41 0-79 8z" fill="url(#r227)" stroke="url(#r227)"/>
<path d="M1174 1825l79-8 41 0 20 2 17 4 21 6 17 8 20 12 17 12 17 14 17 17 17 20 21 26 17 24 20 32 24-17 27-23 31-30 61-65 27-27 28-24 27-20 17-10 14-6 17-5 13-2 14-1 13 2 14 4 14 6 13 7 14 10 14 12 13 14 14 15 17 23 31 46 27 47 27 51 119 241 28 50 23 41 21-12 17-7 20-6 17-2 17 0 17 2 18 5 20 9 17 9 20 14 38 32 41 40 78 86-1 0-78-83-41-40-38-31-20-14-17-9-20-9-17-5-17-2-18-1-17 2-20 5-17 7-20 10-24-39-28-49-119-232-27-49-27-46-31-45-31-36-27-25-14-10-13-8-14-6-13-3-14-2-14 0-13 1-17 5-14 5-17 9-27 18-28 23-88 85-31 28-27 22-24 15-37-54-21-26-17-18-17-17-17-14-17-12-20-12-17-7-21-7-17-4-20-2-41-1-79 5z" fill="url(#r228)" stroke="url(#r228)"/>
<path d="M1173 1825l79-5 41 1 20 2 17 4 21 7 17 7 20 12 17 12 17 14 17 17 17 18 21 26 37 54 24-15 27-22 31-28 88-85 28-23 27-18 17-9 14-5 17-5 13-1 14 0 14 2 13 3 14 6 13 8 14 10 27 25 31 36 31 45 27 46 27 49 119 232 28 49 24 39 20-10 17-7 20-5 17-2 18 1 17 2 17 5 20 9 17 9 20 14 38 31 41 40 78 83-1 0-78-81-41-38-37-31-21-13-17-10-20-8-17-6-17-3-17 0-18 1-20 4-17 6-20 10-24-38-28-47-119-223-27-48-27-44-31-43-31-36-27-24-14-10-13-8-14-6-13-4-14-2-14 0-13 1-17 4-14 5-17 8-27 16-27 21-89 79-31 25-27 20-24 15-37-53-21-25-17-18-17-16-17-14-17-12-20-11-17-8-21-7-17-4-20-3-41-2-79 3z" fill="url(#r229)" stroke="url(#r229)"/>
<path d="M1172 1825l79-3 41 2 20 3 17 4 21 7 17 8 20 11 17 12 17 14 17 16 17 18 21 25 37 53 24-15 27-20 31-25 89-79 27-21 27-16 17-8 14-5 17-4 13-1 14 0 14 2 13 4 14 6 13 8 14 10 27 24 31 36 31 43 27 44 27 48 119 223 28 47 24 38 20-10 17-6 20-4 18-1 17 0 17 3 17 6 20 8 17 10 21 13 37 31 41 38 78 81-1 0-78-78-41-38-37-30-21-13-17-9-20-9-17-6-17-3-17-1-17 1-21 3-17 5-20 9-24-37-27-45-120-214-27-46-27-43-31-41-31-35-27-24-13-9-14-8-14-6-13-4-14-2-14-1-13 1-17 3-14 4-17 7-27 15-27 19-89 72-31 24-27 18-24 13-37-51-21-24-17-18-17-15-17-14-17-12-20-11-17-8-21-7-17-4-20-3-41-3-78 0z" fill="url(#r230)" stroke="url(#r230)"/>
<path d="M1172 1825l78 0 41 3 20 3 17 4 21 7 17 8 20 11 17 12 17 14 17 15 17 18 21 24 37 51 24-13 27-18 31-24 89-72 27-19 27-15 17-7 14-4 17-3 13-1 14 1 14 2 13 4 14 6 14 8 13 9 27 24 31 35 31 41 27 43 27 46 120 214 27 45 24 37 20-9 17-5 21-3 17-1 17 1 17 3 17 6 20 9 17 9 21 13 37 30 41 38 78 78-1 1-78-77-41-37-37-29-21-13-17-9-20-9-17-5-17-4-17-2-17 1-21 2-17 5-20 7-24-35-27-44-120-205-27-45-27-40-31-41-30-33-28-23-27-17-14-6-13-5-14-2-14-1-13 0-17 3-14 3-17 6-27 14-27 17-89 66-31 21-27 17-24 11-37-49-21-23-17-17-17-16-17-13-17-11-20-12-17-8-21-7-37-8-41-4-78-1z" fill="url(#r231)" stroke="url(#r231)"/>
<path d="M1171 1826l78 1 41 4 37 8 21 7 17 8 20 12 17 11 17 13 17 16 17 17 21 23 37 49 24-11 27-17 31-21 89-66 27-17 27-14 17-6 14-3 17-3 13 0 14 1 14 2 13 5 14 6 27 17 28 23 30 33 31 41 27 40 27 45 120 205 27 44 24 35 20-7 17-5 21-2 17-1 17 2 17 4 17 5 20 9 17 9 21 13 37 29 41 37 78 77-1 0-78-74-41-36-37-29-21-13-17-9-20-9-17-5-17-4-17-2-17-1-21 2-17 4-20 6-24-33-27-42-120-198-27-42-27-39-31-39-30-32-28-23-27-17-14-6-13-4-14-3-13-2-14 0-17 2-14 3-17 6-27 12-27 15-89 59-31 20-27 14-24 10-37-47-21-22-17-17-34-28-17-11-20-12-17-7-21-8-37-9-41-4-78-4z" fill="url(#r232)" stroke="url(#r232)"/>
<path d="M1170 1826l78 4 41 4 37 9 21 8 17 7 20 12 17 11 34 28 17 17 21 22 37 47 24-10 27-14 31-20 89-59 27-15 27-12 17-6 14-3 17-2 14 0 13 2 14 3 13 4 14 6 27 17 28 23 30 32 31 39 27 39 27 42 120 198 27 42 24 33 20-6 17-4 21-2 17 1 17 2 17 4 17 5 20 9 17 9 21 13 37 29 41 36 78 74-1 0-78-72-41-35-37-27-21-13-17-9-20-10-17-5-17-5-17-2-17-1-21 2-17 2-20 6-24-33-27-40-120-188-27-41-27-37-31-38-30-31-28-22-27-17-27-10-27-5-14-1-17 2-31 7-27 10-27 13-89 53-30 17-28 13-24 9-37-46-21-21-17-17-34-27-17-11-20-11-17-8-21-8-37-9-41-6-78-6z" fill="url(#r233)" stroke="url(#r233)"/>
<path d="M1169 1826l78 6 41 6 37 9 21 8 17 8 20 11 17 11 34 27 17 17 21 21 37 46 24-9 28-13 30-17 89-53 27-13 27-10 31-7 17-2 14 1 27 5 27 10 27 17 28 22 30 31 31 38 27 37 27 41 120 188 27 40 24 33 20-6 17-2 21-2 17 1 17 2 17 5 17 5 20 10 17 9 21 13 37 27 41 35 78 72 0 1-79-70-41-34-37-27-38-22-20-9-17-6-17-5-17-3-17-1-21 1-17 2-20 4-24-31-27-38-120-180-27-39-27-36-31-36-30-30-28-22-27-16-27-11-27-5-14-1-17 0-31 6-27 9-27 11-89 47-30 15-28 11-24 7-37-44-38-36-34-27-17-11-20-11-17-8-21-8-37-10-41-6-78-8z" fill="url(#r234)" stroke="url(#r234)"/>
<path d="M1168 1827l78 8 41 6 37 10 21 8 17 8 20 11 17 11 34 27 38 36 37 44 24-7 28-11 30-15 89-47 27-11 27-9 31-6 17 0 14 1 27 5 27 11 27 16 28 22 30 30 31 36 27 36 27 39 120 180 27 38 24 31 20-4 17-2 21-1 17 1 17 3 17 5 17 6 20 9 38 22 37 27 41 34 79 70-1 0-79-68-41-33-37-26-38-22-20-9-17-6-17-5-17-3-17-2-21 0-17 1-20 3-51-66-119-171-28-37-27-35-31-34-30-29-28-21-27-16-27-11-27-6-31-2-31 4-27 7-27 10-89 40-30 13-28 9-24 6-37-42-37-35-35-26-17-11-20-11-38-15-37-11-41-8-78-10z" fill="url(#r235)" stroke="url(#r235)"/>
<path d="M1167 1827l78 10 41 8 37 11 38 15 20 11 17 11 35 26 37 35 37 42 24-6 28-9 30-13 89-40 27-10 27-7 31-4 31 2 27 6 27 11 27 16 28 21 30 29 31 34 27 35 28 37 119 171 51 66 20-3 17-1 21 0 17 2 17 3 17 5 17 6 20 9 38 22 37 26 41 33 79 68-1 0-79-65-41-32-37-26-38-22-20-9-17-6-34-9-17-2-21-1-17 0-20 3-51-63-119-163-28-35-27-33-31-33-30-28-28-20-27-16-27-12-27-6-31-3-31 3-27 5-27 8-119 44-28 8-24 5-37-41-37-33-35-26-37-21-38-16-37-12-41-8-78-13z" fill="url(#r236)" stroke="url(#r236)"/>
<path d="M1166 1827l78 13 41 8 37 12 38 16 37 21 35 26 37 33 37 41 24-5 28-8 119-44 27-8 27-5 31-3 31 3 27 6 27 12 27 16 28 20 30 28 31 33 27 33 28 35 119 163 51 63 20-3 17 0 21 1 17 2 34 9 17 6 20 9 38 22 37 26 41 32 79 65-1 0-79-63-41-31-37-25-38-21-37-16-34-10-17-2-21-2-37 1-51-60-119-154-28-33-27-32-31-31-30-27-28-20-27-16-27-11-27-7-31-4-31 1-27 4-27 6-119 36-28 6-24 3-37-38-37-33-35-25-37-21-38-16-37-12-41-10-78-15z" fill="url(#r237)" stroke="url(#r237)"/>
<path d="M1165 1827l78 15 41 10 37 12 38 16 37 21 35 25 37 33 37 38 24-3 28-6 119-36 27-6 27-4 31-1 31 4 27 7 27 11 27 16 28 20 30 27 31 31 27 32 28 33 119 154 51 60 37-1 21 2 17 2 34 10 37 16 38 21 37 25 41 31 79 63-1 1-79-61-41-30-37-25-38-21-37-16-34-10-38-6-37-1-51-57-120-145-54-61-31-30-30-26-28-19-27-16-27-11-27-8-31-5-31 0-27 2-27 4-119 27-28 4-24 2-37-36-38-32-34-24-37-21-38-16-37-13-41-10-78-17z" fill="url(#r238)" stroke="url(#r238)"/>
<path d="M1164 1828l78 17 41 10 37 13 38 16 37 21 34 24 38 32 37 36 24-2 28-4 119-27 27-4 27-2 31 0 31 5 27 8 27 11 27 16 28 19 30 26 31 30 54 61 120 145 51 57 37 1 38 6 34 10 37 16 38 21 37 25 41 30 79 61-1 0-79-59-41-29-37-24-38-21-37-16-34-11-38-7-37-2-51-54-120-137-54-58-31-28-30-25-28-19-27-15-27-12-27-8-31-6-31-2-27 1-27 2-119 19-28 2-24 1-37-35-38-30-34-24-37-20-38-17-37-13-41-12-78-19z" fill="url(#r239)" stroke="url(#r239)"/>
<path d="M1163 1828l78 19 41 12 37 13 38 17 37 20 34 24 38 30 37 35 24-1 28-2 119-19 27-2 27-1 31 2 31 6 27 8 27 12 27 15 28 19 30 25 31 28 54 58 120 137 51 54 37 2 38 7 34 11 37 16 38 21 37 24 41 29 79 59-2 0-78-56-41-28-37-24-38-20-37-17-34-11-38-9-37-4-51-51-120-128-54-54-31-27-30-24-28-18-27-15-27-12-27-9-31-7-31-3-27-1-27 1-120 9-51 0-37-33-38-29-34-22-37-21-38-17-37-14-41-12-78-22z" fill="url(#r240)" stroke="url(#r240)"/>
<path d="M1162 1828l78 22 41 12 37 14 38 17 37 21 34 22 38 29 37 33 51 0 120-9 27-1 27 1 31 3 31 7 27 9 27 12 27 15 28 18 30 24 31 27 54 54 120 128 51 51 37 4 38 9 34 11 37 17 38 20 37 24 41 28 78 56-1 1-119-82-37-23-38-20-37-17-34-12-38-10-37-6-51-47-120-120-54-51-31-25-30-23-28-18-27-14-27-13-28-9-30-8-31-5-27-2-27-1-120 1-51-4-37-31-38-28-34-21-37-21-38-17-37-14-41-14-78-23z" fill="url(#r241)" stroke="url(#r241)"/>
<path d="M1161 1829l78 23 41 14 37 14 38 17 37 21 34 21 38 28 37 31 51 4 120-1 27 1 27 2 31 5 30 8 28 9 27 13 27 14 28 18 30 23 31 25 54 51 120 120 51 47 37 6 38 10 34 12 37 17 38 20 37 23 119 82-1 0-119-78-37-23-38-20-37-17-34-13-38-11-37-8-51-44-120-111-54-47-31-24-31-22-27-17-27-15-27-12-28-10-30-9-31-6-54-7-120-8-51-7-37-29-38-26-34-21-37-20-38-18-37-15-119-40z" fill="url(#r242)" stroke="url(#r242)"/>
<path d="M1160 1829l119 40 37 15 38 18 37 20 34 21 38 26 37 29 51 7 120 8 54 7 31 6 30 9 28 10 27 12 27 15 27 17 31 22 31 24 54 47 120 111 51 44 37 8 38 11 34 13 37 17 38 20 37 23 119 78-1 0-119-75-38-22-37-19-37-18-35-13-37-13-37-9-52-41-119-103-54-44-31-22-31-21-27-16-27-15-27-12-28-11-30-10-31-8-55-10-119-16-51-10-37-28-38-25-34-20-37-20-38-18-37-15-120-44z" fill="url(#r243)" stroke="url(#r243)"/>
<path d="M1158 1829l120 44 37 15 38 18 37 20 34 20 38 25 37 28 51 10 119 16 55 10 31 8 30 10 28 11 27 12 27 15 27 16 31 21 31 22 54 44 119 103 52 41 37 9 37 13 35 13 37 18 37 19 38 22 119 75-1 1-119-72-75-41-38-18-34-14-37-13-38-12-51-38-119-93-54-41-62-41-54-30-55-24-31-11-30-9-55-14-119-25-51-13-38-26-37-23-34-20-38-20-37-17-37-17-120-46z" fill="url(#r244)" stroke="url(#r244)"/>
<path d="M1157 1830l120 46 37 17 37 17 38 20 34 20 37 23 38 26 51 13 119 25 55 14 30 9 31 11 55 24 54 30 62 41 54 41 119 93 51 38 38 12 37 13 34 14 38 18 75 41 119 72-1 0-119-69-75-40-72-32-37-15-38-14-51-34-119-85-55-38-61-38-54-29-55-25-61-23-55-17-119-33-51-17-75-46-72-38-75-35-119-50z" fill="url(#r245)" stroke="url(#r245)"/>
<path d="M1156 1830l119 50 75 35 72 38 75 46 51 17 119 33 55 17 61 23 55 25 54 29 61 38 55 38 119 85 51 34 38 14 37 15 72 32 75 40 119 69-1 0-120-65-74-39-72-34-75-31-225-142-61-36-55-29-54-25-61-26-225-81-75-44-72-37-75-36-119-53z" fill="url(#r246)" stroke="url(#r246)"/>
<path d="M1155 1830l119 53 75 36 72 37 75 44 225 81 61 26 54 25 55 29 61 36 225 142 75 31 72 34 74 39 120 65-1 1-195-101-71-35-75-34-225-127-116-61-54-26-62-28-225-97-75-40-71-37-194-92z" fill="url(#r247)" stroke="url(#r247)"/>
<path d="M1154 1831l194 92 71 37 75 40 225 97 62 28 54 26 116 61 225 127 75 34 71 35 195 101-2 0-1363-678z" fill="#4423b4" stroke="#4423b4"/>
<path d="M1152 1831l1363 678-1 0-194-100-72-35-75-34-225-127-61-33-54-28-55-27-61-28-225-96-75-40-72-37-194-93z" fill="url(#r249)" stroke="url(#r249)"/>
<path d="M1151 1831l194 93 72 37 75 40 225 96 61 28 55 27 54 28 61 33 225 127 75 34 72 35 194 100-1 1-120-66-75-39-71-34-75-31-225-142-61-36-55-28-54-26-62-25-224-82-75-43-72-38-75-35-119-53z" fill="url(#r250)" stroke="url(#r250)"/>
<path d="M1150 1832l119 53 75 35 72 38 75 43 224 82 62 25 54 26 55 28 61 36 225 142 75 31 71 34 75 39 120 66-3 1-119-72-75-41-38-18-34-14-37-13-38-12-51-38-119-94-55-40-61-41-55-30-54-24-31-11-30-10-55-13-119-25-51-13-38-26-37-23-34-20-38-20-37-18-38-16-119-46z" fill="url(#r251)" stroke="url(#r251)"/>
<path d="M1147 1833l119 46 38 16 37 18 38 20 34 20 37 23 38 26 51 13 119 25 55 13 30 10 31 11 54 24 55 30 61 41 55 40 119 94 51 38 38 12 37 13 34 14 38 18 75 41 119 72-3 1-119-79-38-22-37-20-38-17-34-13-37-11-38-8-51-44-119-111-55-48-30-24-31-22-27-17-28-15-27-12-27-10-31-9-30-6-55-7-119-7-51-7-38-29-37-27-34-21-38-20-37-17-38-15-119-40z" fill="url(#r252)" stroke="url(#r252)"/>
<path d="M1144 1834l119 40 38 15 37 17 38 20 34 21 37 27 38 29 51 7 119 7 55 7 30 6 31 9 27 10 27 12 28 15 27 17 31 22 30 24 55 48 119 111 51 44 38 8 37 11 34 13 38 17 37 20 38 22 119 79-3 0-79-56-41-28-37-24-38-20-37-17-34-11-38-9-37-4-51-51-120-128-54-54-31-27-30-24-28-18-27-15-27-12-27-9-31-7-31-3-27-1-27 1-119 9-52 0-37-33-38-29-34-22-37-21-38-17-37-14-41-12-78-22z" fill="url(#r253)" stroke="url(#r253)"/>
<path d="M1141 1834l78 22 41 12 37 14 38 17 37 21 34 22 38 29 37 33 52 0 119-9 27-1 27 1 31 3 31 7 27 9 27 12 27 15 28 18 30 24 31 27 54 54 120 128 51 51 37 4 38 9 34 11 37 17 38 20 37 24 41 28 79 56-4 2-79-61-41-31-37-24-37-21-38-16-34-10-38-6-37-1-51-57-119-145-55-62-31-30-30-26-27-19-28-15-27-12-27-8-31-4-31-1-27 3-27 4-119 27-28 4-23 2-38-36-37-32-34-24-38-21-37-16-38-13-41-10-78-17z" fill="url(#r254)" stroke="url(#r254)"/>
<path d="M1137 1836l78 17 41 10 38 13 37 16 38 21 34 24 37 32 38 36 23-2 28-4 119-27 27-4 27-3 31 1 31 4 27 8 27 12 28 15 27 19 30 26 31 30 55 62 119 145 51 57 37 1 38 6 34 10 38 16 37 21 37 24 41 31 79 61-5 1-78-65-41-33-38-26-37-21-20-9-17-6-35-9-17-2-20-1-17 0-21 2-51-63-119-163-27-35-27-32-31-33-31-29-27-20-27-16-27-11-28-7-30-2-31 2-27 6-28 8-119 44-27 8-24 4-37-40-38-34-34-25-37-22-38-16-37-11-41-8-79-13z" fill="url(#r255)" stroke="url(#r255)"/>
<path d="M1132 1837l79 13 41 8 37 11 38 16 37 22 34 25 38 34 37 40 24-4 27-8 119-44 28-8 27-6 31-2 30 2 28 7 27 11 27 16 27 20 31 29 31 33 27 32 27 35 119 163 51 63 21-2 17 0 20 1 17 2 35 9 17 6 20 9 37 21 38 26 41 33 78 65-5 2-79-70-41-34-37-27-38-22-20-9-17-6-17-5-17-3-17-1-21 1-17 2-20 4-24-31-27-38-119-180-28-39-27-36-31-36-30-30-28-22-27-16-27-11-27-6-14 0-17 0-31 6-27 8-27 12-89 47-30 15-28 11-23 7-38-44-37-36-34-27-18-11-20-11-17-8-20-8-38-10-41-6-78-8z" fill="url(#r256)" stroke="url(#r256)"/>
<path d="M1127 1839l78 8 41 6 38 10 20 8 17 8 20 11 18 11 34 27 37 36 38 44 23-7 28-11 30-15 89-47 27-12 27-8 31-6 17 0 14 0 27 6 27 11 27 16 28 22 30 30 31 36 27 36 28 39 119 180 27 38 24 31 20-4 17-2 21-1 17 1 17 3 17 5 17 6 20 9 38 22 37 27 41 34 79 70-9 2-79-74-41-36-37-28-21-13-17-10-20-9-17-5-17-4-17-2-17 0-21 2-17 3-20 7-24-34-27-42-120-197-27-43-27-39-31-39-30-32-28-23-27-17-14-6-13-4-14-3-13-1-14 0-17 2-14 3-17 5-27 12-27 15-89 60-30 19-28 15-24 10-37-48-21-22-17-17-34-28-17-11-20-11-17-8-21-7-37-9-41-5-78-4z" fill="url(#r257)" stroke="url(#r257)"/>
<path d="M1118 1841l78 4 41 5 37 9 21 7 17 8 20 11 17 11 34 28 17 17 21 22 37 48 24-10 28-15 30-19 89-60 27-15 27-12 17-5 14-3 17-2 14 0 13 1 14 3 13 4 14 6 27 17 28 23 30 32 31 39 27 39 27 43 120 197 27 42 24 34 20-7 17-3 21-2 17 0 17 2 17 4 17 5 20 9 17 10 21 13 37 28 41 36 79 74-8 3-79-76-40-36-38-29-20-13-17-9-21-9-17-6-17-4-17-1-17 0-20 2-17 4-21 7-24-35-27-42-119-202-27-43-28-40-30-40-31-33-27-23-28-17-13-6-14-4-13-3-14-1-14 0-17 2-13 4-17 6-28 12-27 16-88 63-31 21-27 15-24 11-38-48-20-23-17-17-17-15-17-13-17-12-21-11-17-8-20-7-38-9-41-4-78-2z" fill="url(#r258)" stroke="url(#r258)"/>
<path d="M1110 1844l78 2 41 4 38 9 20 7 17 8 21 11 17 12 17 13 17 15 17 17 20 23 38 48 24-11 27-15 31-21 88-63 27-16 28-12 17-6 13-4 17-2 14 0 14 1 13 3 14 4 13 6 28 17 27 23 31 33 30 40 28 40 27 43 119 202 27 42 24 35 21-7 17-4 20-2 17 0 17 1 17 4 17 6 21 9 17 9 20 13 38 29 40 36 79 76-8 2-79-74-40-36-38-29-20-13-17-9-21-9-17-6-17-3-17-2-17-1-20 2-18 4-20 6-24-34-27-41-119-198-28-42-27-39-30-39-31-32-27-23-28-17-13-6-14-4-14-3-13-2-14 0-17 2-13 3-17 6-28 12-27 15-89 59-30 20-27 14-24 10-38-47-20-22-17-17-34-28-17-11-21-12-17-7-20-8-38-9-41-4-78-4z" fill="url(#r259)" stroke="url(#r259)"/>
<path d="M1102 1846l78 4 41 4 38 9 20 8 17 7 21 12 17 11 34 28 17 17 20 22 38 47 24-10 27-14 30-20 89-59 27-15 28-12 17-6 13-3 17-2 14 0 13 2 14 3 14 4 13 6 28 17 27 23 31 32 30 39 27 39 28 42 119 198 27 41 24 34 20-6 18-4 20-2 17 1 17 2 17 3 17 6 21 9 17 9 20 13 38 29 40 36 79 74-11 3-78-70-41-34-38-27-37-22-21-9-17-6-17-4-17-3-17-1-20 0-17 2-21 5-23-32-28-38-119-180-27-39-28-36-30-36-31-30-27-21-27-17-28-11-27-5-13-1-18 1-30 5-27 9-28 12-88 46-31 15-27 11-24 8-38-44-37-37-34-26-17-11-21-12-17-7-20-8-37-10-41-7-79-8z" fill="url(#r260)" stroke="url(#r260)"/>
<path d="M1091 1849l79 8 41 7 37 10 20 8 17 7 21 12 17 11 34 26 37 37 38 44 24-8 27-11 31-15 88-46 28-12 27-9 30-5 18-1 13 1 27 5 28 11 27 17 27 21 31 30 30 36 28 36 27 39 119 180 28 38 23 32 21-5 17-2 20 0 17 1 17 3 17 4 17 6 21 9 37 22 38 27 41 34 78 70-7 2-78-65-41-32-38-26-37-22-20-9-17-6-35-9-17-2-20-1-17 0-21 3-51-64-119-162-27-36-27-32-31-33-31-28-27-21-27-16-27-11-28-7-30-2-31 2-27 6-28 8-119 44-27 8-24 5-37-41-38-34-34-25-37-22-38-15-37-12-41-8-79-13z" fill="url(#r261)" stroke="url(#r261)"/>
<path d="M1084 1851l79 13 41 8 37 12 38 15 37 22 34 25 38 34 37 41 24-5 27-8 119-44 28-8 27-6 31-2 30 2 28 7 27 11 27 16 27 21 31 28 31 33 27 32 27 36 119 162 51 64 21-3 17 0 20 1 17 2 35 9 17 6 20 9 37 22 38 26 41 32 78 65-6 2-78-61-41-30-37-25-38-21-37-16-34-10-38-6-37-1-51-57-120-145-54-61-31-30-30-26-28-19-27-16-27-12-28-7-30-5-31 0-27 2-27 4-120 27-27 4-24 2-37-36-38-32-34-24-37-21-38-16-37-13-41-10-78-17z" fill="url(#r262)" stroke="url(#r262)"/>
<path d="M1079 1853l78 17 41 10 37 13 38 16 37 21 34 24 38 32 37 36 24-2 27-4 120-27 27-4 27-2 31 0 30 5 28 7 27 12 27 16 28 19 30 26 31 30 54 61 120 145 51 57 37 1 38 6 34 10 37 16 38 21 37 25 41 30 78 61-5 1-78-56-41-28-38-24-37-20-38-17-34-11-37-9-38-4-51-51-119-128-54-54-31-27-31-24-27-18-27-15-28-12-27-9-30-7-31-4-27 0-28 0-119 10-51 0-37-33-38-29-34-23-37-20-38-17-37-14-41-12-79-22z" fill="url(#r263)" stroke="url(#r263)"/>
<path d="M1073 1854l79 22 41 12 37 14 38 17 37 20 34 23 38 29 37 33 51 0 119-10 28 0 27 0 31 4 30 7 27 9 28 12 27 15 27 18 31 24 31 27 54 54 119 128 51 51 38 4 37 9 34 11 38 17 37 20 38 24 41 28 78 56-5 2-119-79-38-22-37-20-37-17-35-13-37-11-37-8-52-44-119-111-54-48-31-24-31-21-27-17-27-15-27-12-28-11-30-8-31-7-55-7-119-7-51-7-37-29-38-26-34-22-37-20-38-17-37-15-120-40z" fill="url(#r264)" stroke="url(#r264)"/>
<path d="M1068 1856l120 40 37 15 38 17 37 20 34 22 38 26 37 29 51 7 119 7 55 7 31 7 30 8 28 11 27 12 27 15 27 17 31 21 31 24 54 48 119 111 52 44 37 8 37 11 35 13 37 17 37 20 38 22 119 79-5 1-119-72-75-40-37-18-34-14-38-14-37-11-51-38-120-94-54-41-61-41-55-30-55-24-30-11-31-9-54-14-120-24-51-13-37-26-38-24-34-20-37-19-38-18-37-16-119-47z" fill="url(#r265)" stroke="url(#r265)"/>
<path d="M1064 1857l119 47 37 16 38 18 37 19 34 20 38 24 37 26 51 13 120 24 54 14 31 9 30 11 55 24 55 30 61 41 54 41 120 94 51 38 37 11 38 14 34 14 37 18 75 40 119 72-4 2-120-66-75-39-71-34-75-31-225-142-61-36-55-28-54-26-62-25-225-82-74-43-72-38-75-35-119-53z" fill="url(#r266)" stroke="url(#r266)"/>
<path d="M1059 1859l119 53 75 35 72 38 74 43 225 82 62 25 54 26 55 28 61 36 225 142 75 31 71 34 75 39 120 66-5 1-1363-678z" fill="url(#r267)" stroke="url(#r267)"/>
<path d="M1054 1860l1363 678-5 2-120-66-75-39-71-34-75-31-225-142-61-36-55-28-54-26-62-25-225-82-75-43-71-38-75-35-119-53z" fill="url(#r268)" stroke="url(#r268)"/>
<path d="M1049 1862l119 53 75 35 71 38 75 43 225 82 62 25 54 26 55 28 61 36 225 142 75 31 71 34 75 39 120 66-6 1-119-72-75-41-38-17-34-14-37-14-38-11-51-38-119-94-55-41-61-41-54-30-55-24-31-11-30-9-55-14-119-24-51-13-38-26-37-24-34-20-38-19-37-18-38-16-119-47z" fill="url(#r269)" stroke="url(#r269)"/>
<path d="M1043 1863l119 47 38 16 37 18 38 19 34 20 37 24 38 26 51 13 119 24 55 14 30 9 31 11 55 24 54 30 61 41 55 41 119 94 51 38 38 11 37 14 34 14 38 17 75 41 119 72-6 2-119-78-38-23-37-20-38-17-34-13-37-11-38-8-51-44-119-111-55-47-30-25-31-21-27-17-28-15-27-12-27-10-31-9-30-7-55-6-119-8-51-7-38-29-37-26-34-21-38-20-37-18-38-15-119-40z" fill="url(#r270)" stroke="url(#r270)"/>
<path d="M1037 1865l119 40 38 15 37 18 38 20 34 21 37 26 38 29 51 7 119 8 55 6 30 7 31 9 27 10 27 12 28 15 27 17 31 21 30 25 55 47 119 111 51 44 38 8 37 11 34 13 38 17 37 20 38 23 119 78-8 2-78-56-41-29-37-23-38-21-37-16-34-12-38-8-37-4-52-51-119-128-54-55-31-27-31-23-27-19-27-15-27-12-28-9-30-6-31-4-27-1-27 1-120 10-51 0-37-33-38-29-34-23-37-20-38-17-37-14-41-12-79-22z" fill="url(#r271)" stroke="url(#r271)"/>
<path d="M1029 1867l79 22 41 12 37 14 38 17 37 20 34 23 38 29 37 33 51 0 120-10 27-1 27 1 31 4 30 6 28 9 27 12 27 15 27 19 31 23 31 27 54 55 119 128 52 51 37 4 38 8 34 12 37 16 38 21 37 23 41 29 78 56-12 4-78-61-41-30-37-25-38-21-37-16-34-10-38-6-37-1-51-57-120-145-54-61-31-30-31-26-27-20-27-15-27-12-28-8-30-4-31-1-27 3-27 4-120 27-27 4-24 2-37-36-38-32-34-24-37-21-38-16-37-13-41-10-78-17z" fill="url(#r272)" stroke="url(#r272)"/>
<path d="M1018 1871l78 17 41 10 37 13 38 16 37 21 34 24 38 32 37 36 24-2 27-4 120-27 27-4 27-3 31 1 30 4 28 8 27 12 27 15 27 20 31 26 31 30 54 61 120 145 51 57 37 1 38 6 34 10 37 16 38 21 37 25 41 30 78 61-9 3-79-63-41-30-37-25-38-21-37-16-34-10-38-5-37 0-51-58-119-150-28-33-27-30-31-31-30-26-27-20-28-16-27-11-27-8-31-4-31 1-27 3-27 5-119 31-28 5-23 3-38-37-37-33-34-24-38-21-37-16-38-12-41-11-78-15z" fill="url(#r273)" stroke="url(#r273)"/>
<path d="M1008 1874l78 15 41 11 38 12 37 16 38 21 34 24 37 33 38 37 23-3 28-5 119-31 27-5 27-3 31-1 31 4 27 8 27 11 28 16 27 20 30 26 31 31 27 30 28 33 119 150 51 58 37 0 38 5 34 10 37 16 38 21 37 25 41 30 79 63-10 2-79-60-41-31-37-24-37-21-38-16-34-10-38-6-37-1-51-57-119-145-55-62-31-30-30-26-27-19-28-15-27-12-27-8-31-4-31-1-27 3-27 4-119 27-28 4-23 2-38-37-37-31-34-24-38-21-37-16-38-13-41-11-78-17z" fill="url(#r274)" stroke="url(#r274)"/>
<path d="M998 1876l78 17 41 11 38 13 37 16 38 21 34 24 37 31 38 37 23-2 28-4 119-27 27-4 27-3 31 1 31 4 27 8 27 12 28 15 27 19 30 26 31 30 55 62 119 145 51 57 37 1 38 6 34 10 38 16 37 21 37 24 41 31 79 60-13 4-78-56-41-28-38-24-37-20-38-17-34-12-37-8-38-4-51-51-119-128-55-54-30-28-31-23-27-19-27-15-28-12-27-9-31-6-30-4-28 0-27 0-119 10-51 0-38-33-37-29-34-23-38-20-37-17-38-14-41-12-78-22z" fill="url(#r275)" stroke="url(#r275)"/>
<path d="M985 1880l78 22 41 12 38 14 37 17 38 20 34 23 37 29 38 33 51 0 119-10 27 0 28 0 30 4 31 6 27 9 28 12 27 15 27 19 31 23 30 28 55 54 119 128 51 51 38 4 37 8 34 12 38 17 37 20 38 24 41 28 78 56-9 3-119-79-37-22-38-20-37-17-34-13-38-11-37-8-51-44-120-111-54-48-31-24-31-21-27-17-27-15-27-13-28-10-30-8-31-7-54-7-120-7-51-7-37-29-38-26-34-22-37-20-38-17-37-15-119-40z" fill="url(#r276)" stroke="url(#r276)"/>
<path d="M977 1883l119 40 37 15 38 17 37 20 34 22 38 26 37 29 51 7 120 7 54 7 31 7 30 8 28 10 27 13 27 15 27 17 31 21 31 24 54 48 120 111 51 44 37 8 38 11 34 13 37 17 38 20 37 22 119 79-7 2-119-72-75-41-38-17-34-15-37-13-38-12-51-38-119-93-55-41-61-41-55-30-54-24-31-11-30-9-55-14-119-25-51-13-38-25-37-24-34-20-38-19-37-18-38-16-119-47z" fill="url(#r277)" stroke="url(#r277)"/>
<path d="M969 1885l119 47 38 16 37 18 38 19 34 20 37 24 38 25 51 13 119 25 55 14 30 9 31 11 54 24 55 30 61 41 55 41 119 93 51 38 38 12 37 13 34 15 38 17 75 41 119 72-7 2-119-66-75-39-72-33-75-31-225-143-61-35-54-29-55-25-61-26-225-81-75-44-72-37-75-36-119-53z" fill="url(#r278)" stroke="url(#r278)"/>
<path d="M962 1887l119 53 75 36 72 37 75 44 225 81 61 26 55 25 54 29 61 35 225 143 75 31 72 33 75 39 119 66-7 2-1363-678z" fill="url(#r279)" stroke="url(#r279)"/>
<path d="M955 1889l1363 678-7 2-119-66-75-39-72-33-75-31-225-143-61-35-54-29-55-25-61-26-225-81-75-44-72-37-75-36-119-53z" fill="url(#r280)" stroke="url(#r280)"/>
<path d="M948 1891l119 53 75 36 72 37 75 44 225 81 61 26 55 25 54 29 61 35 225 143 75 31 72 33 75 39 119 66-8 2-119-72-75-40-38-18-34-14-37-14-38-11-51-38-119-94-55-41-61-40-54-31-55-24-31-11-30-9-55-13-119-25-51-13-38-26-37-24-34-19-38-20-37-18-38-16-119-47z" fill="url(#r281)" stroke="url(#r281)"/>
<path d="M940 1893l119 47 38 16 37 18 38 20 34 19 37 24 38 26 51 13 119 25 55 13 30 9 31 11 55 24 54 31 61 40 55 41 119 94 51 38 38 11 37 14 34 14 38 18 75 40 119 72-10 3-119-78-37-22-38-20-37-18-34-12-38-11-37-8-51-44-120-112-54-47-31-24-30-22-28-17-27-15-27-12-28-10-30-9-31-6-54-7-120-8-51-6-37-30-38-26-34-21-37-20-38-17-37-15-119-41z" fill="url(#r282)" stroke="url(#r282)"/>
<path d="M931 1896l119 41 37 15 38 17 37 20 34 21 38 26 37 30 51 6 120 8 54 7 31 6 30 9 28 10 27 12 27 15 28 17 30 22 31 24 54 47 120 112 51 44 37 8 38 11 34 12 37 18 38 20 37 22 119 78-14 5-79-56-41-28-37-24-38-20-37-17-34-12-38-8-37-5-51-50-119-126-55-54-31-27-30-23-28-18-27-16-27-12-27-9-31-7-31-3-27-1-27 0-119 8-52-1-37-32-37-29-35-22-37-21-37-17-38-14-41-13-78-21z" fill="url(#r283)" stroke="url(#r283)"/>
<path d="M916 1901l78 21 41 13 38 14 37 17 37 21 35 22 37 29 37 32 52 1 119-8 27 0 27 1 31 3 31 7 27 9 27 12 27 16 28 18 30 23 31 27 55 54 119 126 51 50 37 5 38 8 34 12 37 17 38 20 37 24 41 28 79 56-5 1-78-57-41-28-38-23-37-21-38-16-34-12-37-8-38-4-51-51-119-128-55-55-30-27-31-24-27-18-27-15-28-12-27-9-31-7-30-3-28-1-27 1-119 10-51 0-38-33-37-29-34-23-38-20-37-17-38-14-40-13-79-21z" fill="url(#r284)" stroke="url(#r284)"/>
<path d="M911 1902l79 21 40 13 38 14 37 17 38 20 34 23 37 29 38 33 51 0 119-10 27-1 28 1 30 3 31 7 27 9 28 12 27 15 27 18 31 24 30 27 55 55 119 128 51 51 38 4 37 8 34 12 38 16 37 21 38 23 41 28 78 57-3 1-78-57-41-28-38-24-37-20-38-17-34-11-37-8-38-5-51-50-119-129-55-54-30-27-31-24-27-19-27-15-28-12-27-9-31-6-30-4-28 0-27 1-119 10-51-1-38-33-37-29-34-22-38-21-37-17-38-13-40-13-79-21z" fill="url(#r285)" stroke="url(#r285)"/>
<path d="M908 1903l79 21 40 13 38 13 37 17 38 21 34 22 37 29 38 33 51 1 119-10 27-1 28 0 30 4 31 6 27 9 28 12 27 15 27 19 31 24 30 27 55 54 119 129 51 50 38 5 37 8 34 11 38 17 37 20 38 24 41 28 78 57-3 1-78-57-41-28-38-24-37-20-38-17-34-11-37-8-38-5-51-50-119-129-55-54-30-27-31-24-27-18-27-15-28-12-27-9-31-7-30-3-28-1-27 1-119 10-51-1-38-33-37-29-34-22-38-21-37-17-38-13-41-13-78-21z" fill="url(#r286)" stroke="url(#r286)"/>
<path d="M905 1904l78 21 41 13 38 13 37 17 38 21 34 22 37 29 38 33 51 1 119-10 27-1 28 1 30 3 31 7 27 9 28 12 27 15 27 18 31 24 30 27 55 54 119 129 51 50 38 5 37 8 34 11 38 17 37 20 38 24 41 28 78 57-15 4-119-81-38-23-37-20-38-17-34-12-37-10-38-6-51-47-119-118-54-50-31-26-31-22-27-18-27-15-28-12-27-10-30-8-31-5-55-4-119 0-51-4-37-31-38-28-34-21-38-21-37-17-37-14-41-14-79-24z" fill="url(#r287)" stroke="url(#r287)"/>
<path d="M890 1908l79 24 41 14 37 14 37 17 38 21 34 21 38 28 37 31 51 4 119 0 55 4 31 5 30 8 27 10 28 12 27 15 27 18 31 22 31 26 54 50 119 118 51 47 38 6 37 10 34 12 38 17 37 20 38 23 119 81-5 2-120-79-37-22-38-20-37-17-34-13-38-11-37-8-51-44-119-111-55-48-31-24-30-21-27-17-28-15-27-13-27-10-31-8-31-7-54-7-119-7-51-7-38-29-37-26-34-22-38-20-37-17-38-15-119-40z" fill="url(#r288)" stroke="url(#r288)"/>
<path d="M885 1910l119 40 38 15 37 17 38 20 34 22 37 26 38 29 51 7 119 7 54 7 31 7 31 8 27 10 27 13 28 15 27 17 30 21 31 24 55 48 119 111 51 44 37 8 38 11 34 13 37 17 38 20 37 22 120 79-11 3-119-72-75-41-38-17-34-15-37-13-38-12-51-38-119-93-54-41-62-41-54-30-55-24-30-11-31-9-55-14-119-25-51-13-37-25-38-24-34-20-38-20-37-17-37-17-120-46z" fill="url(#r289)" stroke="url(#r289)"/>
<path d="M874 1913l120 46 37 17 37 17 38 20 34 20 38 24 37 25 51 13 119 25 55 14 31 9 30 11 55 24 54 30 62 41 54 41 119 93 51 38 38 12 37 13 34 15 38 17 75 41 119 72-9 3-119-66-75-39-72-34-75-31-225-142-61-36-54-28-55-26-61-25-225-82-75-43-72-38-74-36-120-52z" fill="url(#r290)" stroke="url(#r290)"/>
<path d="M865 1916l120 52 74 36 72 38 75 43 225 82 61 25 55 26 54 28 61 36 225 142 75 31 72 34 75 39 119 66-9 2-1362-678z" fill="url(#r291)" stroke="url(#r291)"/>
<path d="M857 1918l1362 678-9 3-119-66-75-39-71-34-75-31-225-142-61-36-55-28-54-26-62-25-225-82-75-43-71-38-75-35-119-53z" fill="url(#r292)" stroke="url(#r292)"/>
<path d="M848 1921l119 53 75 35 71 38 75 43 225 82 62 25 54 26 55 28 61 36 225 142 75 31 71 34 75 39 119 66-10 3-119-72-75-41-38-18-34-14-37-13-38-12-51-38-119-94-54-40-62-41-54-30-55-24-30-11-31-10-55-13-119-25-51-13-37-26-38-23-34-20-37-20-38-17-37-17-120-46z" fill="url(#r293)" stroke="url(#r293)"/>
<path d="M837 1924l120 46 37 17 38 17 37 20 34 20 38 23 37 26 51 13 119 25 55 13 31 10 30 11 55 24 54 30 62 41 54 40 119 94 51 38 38 12 37 13 34 14 38 18 75 41 119 72-15 4-119-78-37-22-38-20-37-17-34-13-38-11-37-8-52-44-119-111-54-47-31-24-31-22-27-17-27-14-27-13-28-10-30-9-31-6-54-7-120-9-51-6-37-30-38-26-34-21-37-20-38-17-37-15-120-41z" fill="url(#r294)" stroke="url(#r294)"/>
<path d="M822 1928l120 41 37 15 38 17 37 20 34 21 38 26 37 30 51 6 120 9 54 7 31 6 30 9 28 10 27 13 27 14 27 17 31 22 31 24 54 47 119 111 52 44 37 8 38 11 34 13 37 17 38 20 37 22 119 78-1 0-119-78-37-22-38-20-37-17-34-13-38-11-37-8-52-44-119-111-54-48-31-24-31-22-27-17-27-15-27-12-28-10-30-9-31-6-54-7-120-8-51-6-37-30-38-26-34-21-37-20-38-17-37-15-120-41z" fill="url(#r295)" stroke="url(#r295)"/>
<path d="M821 1928l120 41 37 15 38 17 37 20 34 21 38 26 37 30 51 6 120 8 54 7 31 6 30 9 28 10 27 12 27 15 27 17 31 22 31 24 54 48 119 111 52 44 37 8 38 11 34 13 37 17 38 20 37 22 119 78-12 4-119-80-37-23-38-20-37-17-34-12-38-11-37-7-51-45-120-115-54-50-31-24-31-23-27-17-27-15-27-12-28-10-30-8-31-6-54-5-120-4-51-5-37-30-38-27-34-21-37-20-38-18-37-14-119-39z" fill="url(#r296)" stroke="url(#r296)"/>
<path d="M810 1932l119 39 37 14 38 18 37 20 34 21 38 27 37 30 51 5 120 4 54 5 31 6 30 8 28 10 27 12 27 15 27 17 31 23 31 24 54 50 120 115 51 45 37 7 38 11 34 12 37 17 38 20 37 23 119 80-12 3-119-78-37-22-38-20-37-17-34-13-38-11-37-8-52-44-119-111-54-48-31-24-31-22-27-17-27-14-27-13-28-10-30-9-31-6-54-7-120-7-51-7-37-29-38-27-34-21-37-20-38-17-37-15-120-41z" fill="url(#r297)" stroke="url(#r297)"/>
<path d="M797 1935l120 41 37 15 38 17 37 20 34 21 38 27 37 29 51 7 120 7 54 7 31 6 30 9 28 10 27 13 27 14 27 17 31 22 31 24 54 48 119 111 52 44 37 8 38 11 34 13 37 17 38 20 37 22 119 78-15 5-119-73-37-22-38-19-37-18-34-14-38-13-37-11-51-39-120-96-54-42-31-22-30-20-28-16-27-14-27-13-27-11-31-10-31-9-54-13-120-22-51-12-37-26-38-24-34-20-37-20-38-18-37-16-119-45z" fill="url(#r298)" stroke="url(#r298)"/>
<path d="M783 1940l119 45 37 16 38 18 37 20 34 20 38 24 37 26 51 12 120 22 54 13 31 9 31 10 27 11 27 13 27 14 28 16 30 20 31 22 54 42 120 96 51 39 37 11 38 13 34 14 37 18 38 19 37 22 119 73-2 0-119-72-75-40-37-18-34-14-38-14-37-11-51-38-120-94-54-41-62-40-54-30-55-25-30-10-31-10-54-13-120-25-51-13-37-26-38-24-34-19-37-20-38-18-37-16-119-47z" fill="url(#r299)" stroke="url(#r299)"/>
<path d="M781 1940l119 47 37 16 38 18 37 20 34 19 38 24 37 26 51 13 120 25 54 13 31 10 30 10 55 25 54 30 62 40 54 41 120 94 51 38 37 11 38 14 34 14 37 18 75 40 119 72-11 4-120-66-75-39-71-33-75-32-225-142-61-35-55-29-54-26-62-25-224-82-75-43-72-38-75-35-119-53z" fill="url(#r300)" stroke="url(#r300)"/>
<path d="M769 1944l119 53 75 35 72 38 75 43 224 82 62 25 54 26 55 29 61 35 225 142 75 32 71 33 75 39 120 66-11 3-1363-678z" fill="url(#r301)" stroke="url(#r301)"/>
<path d="M758 1947l1363 678-11 3-120-65-75-39-71-34-75-31-225-142-61-36-55-29-54-25-62-26-225-81-75-44-71-37-75-36-119-53z" fill="url(#r302)" stroke="url(#r302)"/>
<path d="M747 1950l119 53 75 36 71 37 75 44 225 81 62 26 54 25 55 29 61 36 225 142 75 31 71 34 75 39 120 65-15 5-119-73-75-40-37-18-34-14-38-14-37-11-51-38-120-94-54-41-61-40-55-30-55-24-30-11-31-10-54-13-120-25-51-13-37-26-38-24-34-19-37-20-38-18-37-16-119-46z" fill="url(#r303)" stroke="url(#r303)"/>
<path d="M733 1955l119 46 37 16 38 18 37 20 34 19 38 24 37 26 51 13 120 25 54 13 31 10 30 11 55 24 55 30 61 40 54 41 120 94 51 38 37 11 38 14 34 14 37 18 75 40 119 73-14 4-120-76-37-22-38-19-37-18-34-13-38-12-37-10-51-41-119-104-55-45-31-22-30-21-28-17-27-14-27-13-27-10-31-10-31-8-54-9-119-15-51-10-38-28-37-25-35-20-37-20-37-18-38-15-119-43z" fill="url(#r304)" stroke="url(#r304)"/>
<path d="M718 1959l119 43 38 15 37 18 37 20 35 20 37 25 38 28 51 10 119 15 54 9 31 8 31 10 27 10 27 13 27 14 28 17 30 21 31 22 55 45 119 104 51 41 37 10 38 12 34 13 37 18 38 19 37 22 120 76-8 2-119-76-37-22-38-20-37-17-34-13-38-12-37-10-51-42-120-104-54-46-31-23-31-21-27-16-27-15-27-12-28-11-30-9-31-8-54-9-120-14-51-9-37-28-38-25-34-21-37-20-38-17-37-15-119-43z" fill="url(#r305)" stroke="url(#r305)"/>
<path d="M711 1961l119 43 37 15 38 17 37 20 34 21 38 25 37 28 51 9 120 14 54 9 31 8 30 9 28 11 27 12 27 15 27 16 31 21 31 23 54 46 120 104 51 42 37 10 38 12 34 13 37 17 38 20 37 22 119 76-14 4-120-74-37-22-38-19-37-18-34-13-38-13-37-10-51-40-120-100-54-44-31-22-30-20-28-16-27-15-27-13-27-10-31-11-31-8-54-11-119-19-52-10-37-27-38-25-34-20-37-20-38-18-37-15-119-45z" fill="url(#r306)" stroke="url(#r306)"/>
<path d="M696 1965l119 45 37 15 38 18 37 20 34 20 38 25 37 27 52 10 119 19 54 11 31 8 31 11 27 10 27 13 27 15 28 16 30 20 31 22 54 44 120 100 51 40 37 10 38 13 34 13 37 18 38 19 37 22 120 74-8 3-120-72-75-41-37-18-34-14-38-13-37-12-51-38-119-94-55-40-61-41-55-30-54-24-31-11-31-10-54-13-119-25-51-13-38-26-37-23-34-20-38-20-37-18-38-16-119-46z" fill="url(#r307)" stroke="url(#r307)"/>
<path d="M688 1968l119 46 38 16 37 18 38 20 34 20 37 23 38 26 51 13 119 25 54 13 31 10 31 11 54 24 55 30 61 41 55 40 119 94 51 38 37 12 38 13 34 14 37 18 75 41 120 72-15 4-119-66-75-39-72-34-75-30-225-144-61-36-55-28-54-26-61-25-225-80-75-44-72-38-75-35-119-53z" fill="url(#r308)" stroke="url(#r308)"/>
<path d="M673 1972l119 53 75 35 72 38 75 44 225 80 61 25 54 26 55 28 61 36 225 144 75 30 72 34 75 39 119 66-1 0-119-65-75-39-71-34-75-31-225-143-62-35-54-29-55-25-61-26-225-81-75-44-71-37-75-36-120-53z" fill="url(#r309)" stroke="url(#r309)"/>
<path d="M672 1972l120 53 75 36 71 37 75 44 225 81 61 26 55 25 54 29 62 35 225 143 75 31 71 34 75 39 119 65-13 4-1363-678z" fill="url(#r310)" stroke="url(#r310)"/>
<path d="M659 1976l1363 678-13 4-120-66-75-39-71-33-75-31-225-143-61-35-55-29-54-26-62-25-225-81-75-44-71-37-75-36-119-53z" fill="url(#r311)" stroke="url(#r311)"/>
<path d="M646 1980l119 53 75 36 71 37 75 44 225 81 62 25 54 26 55 29 61 35 225 143 75 31 71 33 75 39 120 66-15 4-120-70-75-41-37-18-34-14-38-14-37-12-51-37-119-91-55-39-61-40-55-30-54-24-62-21-54-15-119-28-51-14-38-25-37-24-34-19-38-20-75-34-119-48z" fill="url(#r312)" stroke="url(#r312)"/>
<path d="M631 1984l119 48 75 34 38 20 34 19 37 24 38 25 51 14 119 28 54 15 62 21 54 24 55 30 61 40 55 39 119 91 51 37 37 12 38 14 34 14 37 18 75 41 120 70-5 2-119-72-75-41-38-17-34-15-37-13-38-12-51-38-119-93-55-41-61-41-55-30-54-24-31-11-30-9-55-14-119-25-51-13-38-25-37-24-34-20-38-20-37-17-38-17-119-46z" fill="url(#r313)" stroke="url(#r313)"/>
<path d="M626 1986l119 46 38 17 37 17 38 20 34 20 37 24 38 25 51 13 119 25 55 14 30 9 31 11 54 24 55 30 61 41 55 41 119 93 51 38 38 12 37 13 34 15 38 17 75 41 119 72-15 4-119-73-37-22-38-19-37-18-34-14-38-13-37-10-51-40-120-98-54-42-31-22-30-20-28-16-27-15-27-12-27-11-31-11-31-8-54-12-120-21-51-11-37-27-38-24-34-20-37-20-38-18-37-16-119-45z" fill="url(#r314)" stroke="url(#r314)"/>
<path d="M612 1990l119 45 37 16 38 18 37 20 34 20 38 24 37 27 51 11 120 21 54 12 31 8 31 11 27 11 27 12 27 15 28 16 30 20 31 22 54 42 120 98 51 40 37 10 38 13 34 14 37 18 38 19 37 22 119 73-14 4-119-72-75-40-38-18-34-14-37-14-38-11-51-38-119-94-55-41-61-40-55-31-54-24-31-11-30-9-55-13-119-25-51-13-38-26-37-24-34-19-38-20-37-18-38-16-119-47z" fill="url(#r315)" stroke="url(#r315)"/>
<path d="M597 1994l119 47 38 16 37 18 38 20 34 19 37 24 38 26 51 13 119 25 55 13 30 9 31 11 54 24 55 31 61 40 55 41 119 94 51 38 38 11 37 14 34 14 38 18 75 40 119 72-15 5-119-68-75-40-72-33-75-29-225-152-61-38-54-29-55-25-61-24-55-18-119-36-51-17-75-45-72-38-75-35-119-51z" fill="url(#r316)" stroke="url(#r316)"/>
<path d="M582 1999l119 51 75 35 72 38 75 45 51 17 119 36 55 18 61 24 55 25 54 29 61 38 225 152 75 29 72 33 75 40 119 68-6 2-119-66-75-39-72-34-75-31-225-142-61-36-54-28-55-26-61-25-225-82-75-43-72-38-75-36-119-52z" fill="url(#r317)" stroke="url(#r317)"/>
<path d="M576 2001l119 52 75 36 72 38 75 43 225 82 61 25 55 26 54 28 61 36 225 142 75 31 72 34 75 39 119 66-15 4-681-341-682-337z" fill="url(#r318)" stroke="url(#r318)"/>
<path d="M561 2005l682 337 681 341-1363-678z" fill="#4423b4" stroke="#4423b4"/>
<path d="M561 2005l1363 678-15 4-119-65-75-39-72-33-75-32-225-140-61-35-55-29-54-25-61-26-225-84-75-43-72-37-75-36-119-54z" fill="url(#r320)" stroke="url(#r320)"/>
<path d="M546 2009l119 54 75 36 72 37 75 43 225 84 61 26 54 25 55 29 61 35 225 140 75 32 72 33 75 39 119 65-2 1-119-66-75-39-71-34-75-31-225-142-61-36-55-28-55-26-61-25-225-82-75-43-71-38-75-35-119-53z" fill="url(#r321)" stroke="url(#r321)"/>
<path d="M545 2010l119 53 75 35 71 38 75 43 225 82 61 25 55 26 55 28 61 36 225 142 75 31 71 34 75 39 119 66-14 4-120-70-75-40-37-18-34-14-38-15-37-12-51-36-119-88-55-38-61-39-55-30-54-25-62-22-54-16-119-30-52-15-37-25-37-23-35-19-37-20-75-34-119-49z" fill="url(#r322)" stroke="url(#r322)"/>
<path d="M530 2014l119 49 75 34 37 20 35 19 37 23 37 25 52 15 119 30 54 16 62 22 54 25 55 30 61 39 55 38 119 88 51 36 37 12 38 15 34 14 37 18 75 40 120 70-15 5-119-72-75-41-38-17-34-15-37-13-38-12-51-38-119-92-55-40-61-41-55-30-54-24-31-11-30-10-55-14-119-26-51-13-38-26-37-23-34-20-38-19-75-34-119-47z" fill="url(#r323)" stroke="url(#r323)"/>
<path d="M515 2019l119 47 75 34 38 19 34 20 37 23 38 26 51 13 119 26 55 14 30 10 31 11 54 24 55 30 61 41 55 40 119 92 51 38 38 12 37 13 34 15 38 17 75 41 119 72-2 0-120-71-75-41-37-18-34-14-38-14-37-11-51-38-119-93-55-40-61-40-55-30-54-25-31-11-31-9-54-14-119-26-51-13-38-26-37-24-34-19-38-20-75-34-119-47z" fill="url(#r324)" stroke="url(#r324)"/>
<path d="M513 2019l119 47 75 34 38 20 34 19 37 24 38 26 51 13 119 26 54 14 31 9 31 11 54 25 55 30 61 40 55 40 119 93 51 38 37 11 38 14 34 14 37 18 75 41 120 71-15 4-119-70-75-40-38-18-34-14-37-15-38-12-51-36-119-89-55-39-61-40-55-29-54-25-61-22-55-15-119-29-51-15-38-25-37-23-34-19-38-20-75-34-119-49z" fill="url(#r325)" stroke="url(#r325)"/>
<path d="M498 2023l119 49 75 34 38 20 34 19 37 23 38 25 51 15 119 29 55 15 61 22 54 25 55 29 61 40 55 39 119 89 51 36 38 12 37 15 34 14 38 18 75 40 119 70-15 5-119-67-75-39-72-33-75-31-225-147-61-36-54-29-55-25-61-25-225-77-75-44-72-38-74-35-120-52z" fill="url(#r326)" stroke="url(#r326)"/>
<path d="M483 2028l120 52 74 35 72 38 75 44 225 77 61 25 55 25 54 29 61 36 225 147 75 31 72 33 75 39 119 67-3 1-119-66-75-39-72-34-75-31-225-142-61-36-55-28-54-26-61-25-225-82-75-43-72-38-75-35-119-53z" fill="url(#r327)" stroke="url(#r327)"/>
<path d="M480 2029l119 53 75 35 72 38 75 43 225 82 61 25 54 26 55 28 61 36 225 142 75 31 72 34 75 39 119 66-15 4-194-98-147-71-225-118-115-58-116-57-225-106-147-75-194-95z" fill="url(#r328)" stroke="url(#r328)"/>
<path d="M465 2033l194 95 147 75 225 106 116 57 115 58 225 118 147 71 194 98-3 1-1363-678z" fill="#4423b4" stroke="#4423b4"/>
<path d="M462 2034l1363 678-15 4-119-64-75-39-72-34-74-32-225-137-62-34-54-29-55-25-61-27-225-87-75-42-71-37-75-36-120-55z" fill="url(#r330)" stroke="url(#r330)"/>
<path d="M447 2038l120 55 75 36 71 37 75 42 225 87 61 27 55 25 54 29 62 34 225 137 74 32 72 34 75 39 119 64-4 2-119-66-75-39-72-34-75-31-224-142-62-36-54-28-55-26-61-25-225-82-75-43-71-38-75-35-120-53z" fill="url(#r331)" stroke="url(#r331)"/>
<path d="M443 2040l120 53 75 35 71 38 75 43 225 82 61 25 55 26 54 28 62 36 224 142 75 31 72 34 75 39 119 66-15 4-119-69-75-40-71-33-38-14-37-14-51-35-120-85-54-38-62-38-54-30-55-24-61-23-54-17-120-33-51-16-75-46-71-39-75-34-119-50z" fill="url(#r332)" stroke="url(#r332)"/>
<path d="M429 2044l119 50 75 34 71 39 75 46 51 16 120 33 54 17 61 23 55 24 54 30 62 38 54 38 120 85 51 35 37 14 38 14 71 33 75 40 119 69-14 4-119-70-75-40-38-18-34-15-37-14-38-12-51-36-119-89-55-39-61-39-55-30-54-24-61-22-55-16-119-30-51-14-38-25-37-23-34-19-38-20-75-34-119-49z" fill="url(#r333)" stroke="url(#r333)"/>
<path d="M414 2048l119 49 75 34 38 20 34 19 37 23 38 25 51 14 119 30 55 16 61 22 54 24 55 30 61 39 55 39 119 89 51 36 38 12 37 14 34 15 38 18 75 40 119 70-15 5-119-69-75-40-72-33-37-15-38-13-51-35-119-86-54-37-62-38-54-30-55-25-61-22-55-17-119-33-51-16-75-47-72-38-74-35-120-49z" fill="url(#r334)" stroke="url(#r334)"/>
<path d="M399 2053l120 49 74 35 72 38 75 47 51 16 119 33 55 17 61 22 55 25 54 30 62 38 54 37 119 86 51 35 38 13 37 15 72 33 75 40 119 69-15 4-119-66-75-39-71-34-75-31-225-142-62-36-54-29-55-25-61-26-225-81-75-43-71-38-75-35-120-53z" fill="url(#r335)" stroke="url(#r335)"/>
<path d="M384 2057l120 53 75 35 71 38 75 43 225 81 61 26 55 25 54 29 62 36 225 142 75 31 71 34 75 39 119 66-119-66-75-39-72-33-75-31-225-143-61-35-55-29-54-25-61-26-225-81-75-44-72-37-75-36-119-53z" fill="url(#r336)" stroke="url(#r336)"/>
<path d="M384 2057l119 53 75 36 72 37 75 44 225 81 61 26 54 25 55 29 61 35 225 143 75 31 72 33 75 39 119 66-15 4-194-99-147-70-225-121-115-59-116-56-225-103-147-75-194-95z" fill="url(#r337)" stroke="url(#r337)"/>
<path d="M369 2061l194 95 147 75 225 103 116 56 115 59 225 121 147 70 194 99-6 2-1362-678z" fill="#4423b4" stroke="#4423b4"/>
</g>
<rect x="1888.6" y="31.6" width="87.8" height="1339.7" fill="url(#cb)" stroke="#2e2e2e" stroke-width="3.2"/><g stroke="#2e2e2e" stroke-width="3"><path d="M1976.4 1239.8 h-13"/><path d="M1976.4 1105.3 h-13"/><path d="M1976.4 970.7 h-13"/><path d="M1976.4 836.2 h-13"/><path d="M1976.4 701.7 h-13"/><path d="M1976.4 567.1 h-13"/><path d="M1976.4 432.6 h-13"/><path d="M1976.4 298 h-13"/><path d="M1976.4 163.5 h-13"/></g><g font-size="59"><text x="1999.2" y="1255.8">0.1</text><text x="1999.2" y="1121.3">0.2</text><text x="1999.2" y="986.7">0.3</text><text x="1999.2" y="852.2">0.4</text><text x="1999.2" y="717.7">0.5</text><text x="1999.2" y="583.1">0.6</text><text x="1999.2" y="448.6">0.7</text><text x="1999.2" y="314">0.8</text><text x="1999.2" y="179.5">0.9</text></g>
<g font-size="64"><text x="106.5" y="288">1</text><text x="57.6" y="660">0.5</text><text x="107.6" y="1029.5">0</text><text x="72" y="1101.9">20</text><text x="446.1" y="1270.9">0</text><text x="705.5" y="1440"><tspan textLength="47" lengthAdjust="spacingAndGlyphs">−</tspan>20</text><text x="904.5" y="1448"><tspan textLength="47" lengthAdjust="spacingAndGlyphs">−</tspan>1</text><text x="1129" y="1383.6"><tspan textLength="47" lengthAdjust="spacingAndGlyphs">−</tspan>0.5</text><text x="1346.8" y="1317.7">0</text><text x="1569.5" y="1251.8">0.5</text><text x="1791.8" y="1185.5">1</text></g><g font-size="71.6"><text x="32.1" y="1449.4" textLength="447" lengthAdjust="spacingAndGlyphs">Doppler (kHz)</text><text x="1313.3" y="1471.2" textLength="379" lengthAdjust="spacingAndGlyphs">Delay (chip)</text></g>
</g>
</svg>
</body></html>
